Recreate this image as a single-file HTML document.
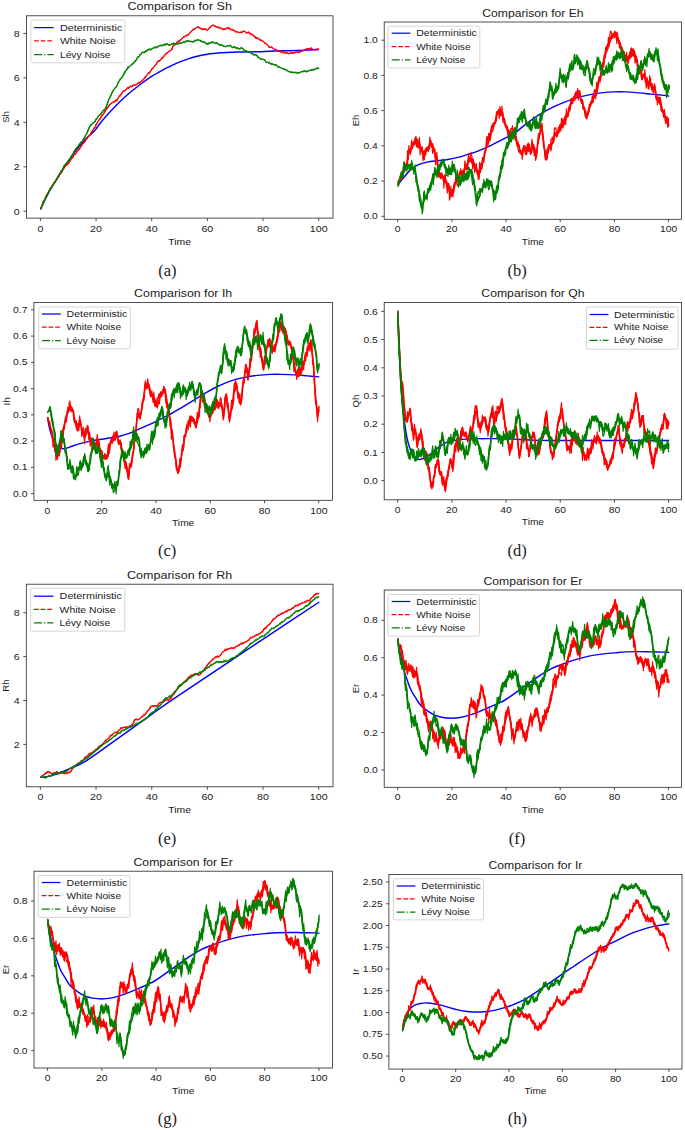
<!DOCTYPE html>
<html><head><meta charset="utf-8"><title>Figure</title>
<style>html,body{margin:0;padding:0;background:#fff}svg{display:block}</style></head>
<body>
<svg width="685" height="1130" viewBox="0 0 685 1130" font-family="Liberation Sans, sans-serif" fill="#1a1a1a">
<rect width="685" height="1130" fill="#fff"/>
<g id="pa">
<path d="M40.47 209.32 C41.63 206.91 45.05 199.42 47.46 194.84 C49.87 190.27 52.45 186.02 54.95 181.86 C57.44 177.70 59.94 173.75 62.44 169.88 C64.93 166.01 67.43 162.18 69.93 158.65 C72.42 155.11 74.92 151.82 77.41 148.66 C79.91 145.50 82.07 142.63 84.90 139.68 C87.73 136.72 91.45 134.17 94.39 130.94 C97.34 127.70 99.10 124.34 102.55 120.26 C106.01 116.18 110.92 110.74 115.11 106.45 C119.29 102.16 123.48 98.19 127.66 94.53 C131.85 90.86 136.03 87.62 140.22 84.48 C144.40 81.34 148.59 78.35 152.77 75.69 C156.96 73.04 162.46 70.07 165.33 68.54 C168.20 67.00 168.18 67.34 170.00 66.48 C171.82 65.61 174.18 64.28 176.28 63.34 C178.37 62.39 180.46 61.62 182.55 60.83 C184.65 60.03 186.74 59.24 188.83 58.57 C190.92 57.90 193.02 57.35 195.11 56.81 C197.20 56.26 199.29 55.74 201.39 55.30 C203.48 54.86 205.57 54.49 207.66 54.17 C209.76 53.86 211.85 53.65 213.94 53.42 C216.03 53.19 218.13 52.96 220.22 52.79 C222.31 52.62 224.40 52.52 226.50 52.41 C228.59 52.31 230.68 52.23 232.77 52.16 C234.87 52.10 236.96 52.08 239.05 52.04 C241.14 52.00 242.50 51.95 245.33 51.91 C248.15 51.87 251.08 51.95 256.00 51.79 C260.92 51.62 269.21 51.12 274.84 50.94 C280.48 50.76 284.83 50.81 289.82 50.69 C294.81 50.56 299.93 50.40 304.80 50.19 C309.67 49.98 316.66 49.57 319.03 49.44" fill="none" stroke="#0000ff" stroke-width="1.45" stroke-linejoin="round"/>
<path d="M40.7 208.1 L41.2 207.0 L41.7 205.7 L42.2 204.2 L42.7 203.2 L43.2 201.9 L43.7 201.0 L44.2 199.9 L44.7 199.0 L45.2 197.7 L45.7 196.5 L46.2 195.7 L46.7 195.0 L47.2 194.1 L47.7 193.1 L48.2 192.2 L48.7 191.9 L49.2 190.2 L49.7 189.7 L50.2 188.0 L50.7 187.5 L51.2 187.1 L51.7 186.1 L52.2 185.6 L52.7 184.5 L53.2 183.6 L53.7 182.9 L54.2 182.5 L54.7 182.1 L55.2 181.2 L55.7 180.4 L56.2 179.6 L56.7 178.7 L57.2 178.1 L57.7 177.1 L58.2 176.5 L58.7 176.6 L59.2 174.8 L59.7 174.7 L60.2 173.9 L60.7 173.2 L61.2 172.1 L61.7 171.4 L62.2 170.6 L62.7 169.8 L63.2 169.3 L63.7 168.2 L64.2 167.4 L64.7 166.9 L65.2 166.0 L65.7 165.6 L66.2 165.0 L66.7 164.8 L67.2 164.7 L67.7 163.8 L68.2 163.1 L68.7 162.8 L69.2 161.3 L69.7 160.9 L70.2 159.9 L70.7 159.5 L71.2 158.3 L71.7 157.6 L72.2 157.7 L72.7 157.1 L73.2 155.7 L73.7 155.4 L74.2 154.9 L74.7 154.5 L75.2 153.4 L75.7 153.4 L76.2 152.7 L76.7 151.8 L77.2 150.8 L77.7 150.4 L78.2 150.0 L78.7 149.9 L79.2 148.7 L79.7 147.9 L80.2 147.3 L80.7 146.4 L81.2 145.8 L81.7 144.9 L82.2 144.2 L82.7 143.2 L83.2 142.8 L83.7 142.5 L84.2 142.2 L84.7 141.7 L85.2 140.7 L85.7 139.8 L86.2 139.4 L86.7 138.7 L87.2 137.7 L87.7 137.0 L88.2 136.0 L88.7 136.0 L89.2 135.1 L89.7 134.7 L90.2 134.5 L90.7 133.4 L91.2 132.7 L91.7 131.6 L92.2 131.0 L92.7 129.9 L93.2 128.9 L93.7 128.5 L94.2 127.5 L94.7 127.5 L95.2 126.9 L95.7 125.0 L96.2 124.1 L96.7 123.4 L97.2 122.6 L97.7 121.5 L98.2 120.7 L98.7 120.1 L99.2 119.5 L99.7 119.4 L100.2 118.7 L100.7 117.5 L101.2 116.5 L101.7 115.6 L102.2 115.2 L102.7 114.7 L103.2 113.8 L103.7 113.5 L104.2 112.3 L104.7 111.8 L105.2 110.2 L105.7 110.0 L106.2 109.5 L106.7 108.8 L107.2 108.4 L107.7 107.2 L108.2 106.4 L108.7 106.1 L109.2 105.1 L109.7 104.1 L110.2 103.7 L110.7 103.3 L111.2 103.3 L111.7 103.2 L112.2 102.4 L112.7 101.9 L113.2 101.8 L113.7 101.6 L114.2 101.5 L114.7 101.1 L115.2 100.8 L115.7 100.5 L116.2 100.5 L116.7 100.2 L117.2 99.4 L117.7 98.8 L118.2 97.6 L118.7 97.1 L119.2 96.5 L119.7 95.7 L120.2 95.6 L120.7 94.4 L121.2 93.5 L121.7 92.6 L122.2 92.2 L122.7 91.7 L123.2 91.1 L123.7 90.7 L124.2 90.4 L124.7 90.2 L125.2 89.8 L125.7 89.2 L126.2 89.0 L126.7 88.5 L127.2 88.2 L127.7 87.7 L128.2 87.6 L128.7 87.8 L129.2 87.2 L129.7 86.7 L130.2 86.6 L130.7 86.3 L131.2 85.9 L131.7 86.0 L132.2 85.7 L132.7 85.3 L133.2 85.0 L133.7 85.2 L134.2 85.2 L134.7 85.0 L135.2 84.9 L135.7 84.4 L136.2 84.3 L136.7 84.2 L137.2 83.6 L137.7 83.4 L138.2 82.4 L138.7 82.4 L139.2 82.6 L139.7 82.2 L140.2 82.1 L140.7 81.3 L141.2 80.7 L141.7 80.5 L142.2 80.0 L142.7 79.5 L143.2 79.4 L143.7 79.0 L144.2 78.6 L144.7 78.3 L145.2 77.1 L145.7 76.3 L146.2 75.6 L146.7 75.0 L147.2 74.5 L147.7 73.9 L148.2 73.4 L148.7 72.6 L149.2 72.4 L149.7 72.1 L150.2 71.3 L150.7 70.6 L151.2 70.0 L151.7 69.3 L152.2 68.4 L152.7 67.8 L153.2 67.7 L153.7 66.8 L154.2 66.3 L154.7 65.7 L155.2 65.2 L155.7 64.7 L156.2 63.5 L156.7 63.2 L157.2 62.1 L157.7 61.5 L158.2 60.7 L158.7 60.4 L159.2 60.8 L159.7 60.0 L160.2 59.7 L160.7 59.4 L161.2 59.1 L161.7 58.2 L162.2 57.3 L162.7 57.2 L163.2 56.4 L163.7 56.1 L164.2 55.3 L164.7 55.0 L165.2 54.2 L165.7 53.7 L166.2 53.6 L166.7 52.9 L167.2 52.8 L167.7 51.9 L168.2 51.9 L168.7 51.2 L169.2 51.1 L169.7 50.9 L170.2 50.6 L170.7 50.3 L171.2 49.9 L171.7 48.9 L172.2 47.5 L172.7 46.4 L173.2 45.5 L173.7 45.3 L174.2 45.2 L174.7 44.4 L175.2 44.4 L175.7 44.1 L176.2 43.6 L176.7 42.5 L177.2 41.9 L177.7 41.6 L178.2 41.4 L178.7 40.7 L179.2 40.5 L179.7 39.9 L180.2 39.8 L180.7 39.7 L181.2 39.5 L181.7 38.8 L182.2 38.1 L182.7 37.4 L183.2 37.1 L183.7 37.0 L184.2 36.9 L184.7 36.2 L185.2 35.4 L185.7 35.5 L186.2 35.1 L186.7 35.2 L187.2 35.0 L187.7 34.5 L188.2 34.2 L188.7 34.2 L189.2 33.8 L189.7 32.7 L190.2 32.4 L190.7 31.9 L191.2 31.4 L191.7 30.9 L192.2 30.3 L192.7 29.8 L193.2 29.9 L193.7 29.4 L194.2 29.1 L194.7 28.9 L195.2 28.2 L195.7 28.0 L196.2 27.8 L196.7 27.3 L197.2 26.9 L197.7 26.8 L198.2 27.1 L198.7 27.3 L199.2 27.4 L199.7 27.5 L200.2 27.6 L200.7 28.1 L201.2 28.9 L201.7 28.7 L202.2 28.7 L202.7 29.0 L203.2 28.9 L203.7 28.9 L204.2 28.7 L204.7 28.7 L205.2 28.5 L205.7 28.6 L206.2 29.0 L206.7 29.3 L207.2 29.7 L207.7 29.5 L208.2 29.2 L208.7 28.6 L209.2 27.7 L209.7 27.6 L210.2 26.7 L210.7 26.2 L211.2 25.7 L211.7 25.5 L212.2 25.1 L212.7 25.0 L213.2 24.8 L213.7 25.1 L214.2 25.8 L214.7 26.0 L215.2 26.0 L215.7 26.2 L216.2 26.6 L216.7 26.8 L217.2 26.9 L217.7 26.7 L218.2 26.6 L218.7 27.3 L219.2 27.3 L219.7 27.3 L220.2 27.6 L220.7 27.8 L221.2 28.3 L221.7 28.7 L222.2 28.8 L222.7 29.1 L223.2 28.7 L223.7 29.0 L224.2 29.0 L224.7 28.6 L225.2 28.8 L225.7 28.7 L226.2 28.5 L226.7 27.8 L227.2 27.8 L227.7 28.1 L228.2 28.1 L228.7 27.5 L229.2 27.6 L229.7 28.7 L230.2 29.0 L230.7 29.1 L231.2 29.2 L231.7 29.1 L232.2 29.0 L232.7 29.3 L233.2 29.7 L233.7 30.0 L234.2 30.0 L234.7 30.2 L235.2 31.2 L235.7 31.6 L236.2 32.0 L236.7 31.7 L237.2 31.5 L237.7 31.8 L238.2 32.1 L238.7 32.0 L239.2 31.9 L239.7 32.4 L240.2 32.3 L240.7 32.1 L241.2 31.9 L241.7 32.0 L242.2 31.4 L242.7 31.4 L243.2 31.4 L243.7 31.0 L244.2 30.8 L244.7 30.9 L245.2 31.4 L245.7 32.1 L246.2 32.7 L246.7 32.9 L247.2 32.6 L247.7 32.4 L248.2 32.3 L248.7 32.4 L249.2 32.5 L249.7 33.0 L250.2 33.0 L250.7 33.3 L251.2 33.5 L251.7 34.1 L252.2 34.3 L252.7 34.2 L253.2 35.1 L253.7 35.7 L254.2 35.7 L254.7 36.4 L255.2 36.2 L255.7 36.9 L256.2 37.6 L256.7 37.6 L257.2 37.9 L257.7 38.0 L258.2 38.2 L258.7 38.3 L259.2 39.0 L259.7 39.0 L260.2 39.8 L260.7 39.6 L261.2 40.2 L261.7 40.2 L262.2 40.6 L262.7 40.9 L263.2 41.1 L263.7 41.4 L264.2 41.8 L264.7 42.3 L265.2 43.4 L265.7 43.2 L266.2 43.4 L266.7 43.4 L267.2 44.0 L267.7 44.8 L268.2 45.3 L268.7 45.9 L269.2 47.1 L269.7 47.0 L270.2 47.1 L270.7 47.2 L271.2 46.8 L271.7 46.7 L272.2 47.0 L272.7 47.6 L273.2 48.1 L273.7 48.6 L274.2 48.8 L274.7 49.1 L275.2 49.1 L275.7 49.3 L276.2 49.5 L276.7 49.9 L277.2 50.1 L277.7 50.4 L278.2 50.3 L278.7 50.5 L279.2 51.2 L279.7 51.2 L280.2 51.3 L280.7 51.1 L281.2 51.4 L281.7 52.2 L282.2 52.1 L282.7 52.3 L283.2 52.5 L283.7 52.2 L284.2 52.4 L284.7 52.4 L285.2 52.6 L285.7 52.5 L286.2 52.7 L286.7 52.7 L287.2 52.9 L287.7 53.0 L288.2 53.4 L288.7 53.1 L289.2 53.3 L289.7 53.0 L290.2 53.0 L290.7 52.8 L291.2 53.0 L291.7 52.5 L292.2 52.5 L292.7 52.6 L293.2 52.7 L293.7 52.9 L294.2 52.7 L294.7 52.2 L295.2 51.9 L295.7 52.0 L296.2 51.8 L296.7 52.1 L297.2 51.9 L297.7 51.7 L298.2 51.8 L298.7 52.2 L299.2 52.0 L299.7 52.0 L300.2 51.7 L300.7 51.6 L301.2 51.2 L301.7 50.9 L302.2 51.0 L302.7 50.6 L303.2 50.5 L303.7 50.2 L304.2 49.7 L304.7 49.6 L305.2 49.2 L305.7 49.1 L306.2 49.1 L306.7 49.2 L307.2 48.7 L307.7 48.3 L308.2 48.7 L308.7 48.5 L309.2 48.5 L309.7 48.6 L310.2 48.1 L310.7 48.1 L311.2 48.2 L311.7 48.2 L312.2 48.4 L312.7 49.3 L313.2 49.3 L313.7 49.4 L314.2 49.2 L314.7 49.5 L315.2 49.4 L315.7 49.5 L316.2 49.3 L316.7 49.2 L317.2 49.1 L317.7 49.3 L318.2 49.2 L318.7 49.0 L319.0 48.9 L319.0 49.4 L318.7 49.5 L318.2 49.5 L317.7 49.8 L317.2 49.8 L316.7 49.6 L316.2 49.9 L315.7 49.8 L315.2 49.9 L314.7 50.0 L314.2 50.1 L313.7 50.1 L313.2 49.8 L312.7 49.7 L312.2 49.4 L311.7 48.7 L311.2 48.7 L310.7 48.8 L310.2 48.7 L309.7 49.2 L309.2 48.9 L308.7 49.2 L308.2 49.0 L307.7 48.8 L307.2 49.2 L306.7 49.6 L306.2 49.7 L305.7 49.6 L305.2 49.8 L304.7 49.9 L304.2 50.3 L303.7 50.6 L303.2 51.1 L302.7 51.1 L302.2 51.5 L301.7 51.3 L301.2 51.6 L300.7 51.9 L300.2 52.4 L299.7 52.7 L299.2 52.6 L298.7 52.5 L298.2 52.4 L297.7 52.3 L297.2 52.3 L296.7 52.5 L296.2 52.2 L295.7 52.2 L295.2 52.2 L294.7 53.1 L294.2 53.3 L293.7 53.3 L293.2 53.0 L292.7 53.3 L292.2 52.8 L291.7 53.3 L291.2 53.3 L290.7 53.2 L290.2 53.4 L289.7 53.5 L289.2 53.9 L288.7 53.6 L288.2 53.8 L287.7 53.5 L287.2 53.2 L286.7 53.1 L286.2 53.2 L285.7 52.8 L285.2 53.0 L284.7 53.0 L284.2 52.7 L283.7 53.0 L283.2 53.0 L282.7 52.8 L282.2 52.5 L281.7 52.6 L281.2 52.2 L280.7 51.5 L280.2 51.7 L279.7 51.7 L279.2 51.4 L278.7 51.2 L278.2 50.5 L277.7 50.9 L277.2 50.7 L276.7 50.3 L276.2 50.0 L275.7 50.0 L275.2 49.6 L274.7 49.5 L274.2 49.5 L273.7 48.9 L273.2 48.6 L272.7 48.4 L272.2 47.6 L271.7 47.3 L271.2 47.2 L270.7 47.6 L270.2 47.7 L269.7 47.5 L269.2 47.7 L268.7 47.1 L268.2 45.9 L267.7 45.5 L267.2 44.8 L266.7 44.0 L266.2 43.8 L265.7 43.7 L265.2 43.6 L264.7 43.4 L264.2 42.3 L263.7 41.8 L263.2 41.8 L262.7 41.2 L262.2 41.1 L261.7 40.7 L261.2 40.7 L260.7 40.6 L260.2 40.1 L259.7 39.8 L259.2 39.5 L258.7 39.4 L258.2 38.5 L257.7 38.6 L257.2 38.5 L256.7 38.0 L256.2 38.2 L255.7 37.9 L255.2 37.0 L254.7 37.0 L254.2 36.9 L253.7 36.4 L253.2 36.0 L252.7 35.1 L252.2 34.7 L251.7 35.0 L251.2 34.1 L250.7 33.8 L250.2 33.7 L249.7 33.8 L249.2 33.1 L248.7 32.8 L248.2 32.9 L247.7 32.8 L247.2 33.1 L246.7 33.4 L246.2 33.3 L245.7 32.7 L245.2 32.1 L244.7 31.5 L244.2 31.0 L243.7 31.6 L243.2 31.7 L242.7 31.6 L242.2 32.1 L241.7 32.8 L241.2 32.5 L240.7 32.7 L240.2 32.8 L239.7 32.8 L239.2 32.7 L238.7 32.5 L238.2 32.5 L237.7 32.1 L237.2 31.8 L236.7 32.3 L236.2 32.3 L235.7 32.3 L235.2 31.7 L234.7 31.2 L234.2 30.4 L233.7 30.7 L233.2 30.7 L232.7 29.9 L232.2 29.6 L231.7 29.4 L231.2 29.7 L230.7 29.6 L230.2 29.3 L229.7 29.4 L229.2 28.8 L228.7 28.5 L228.2 28.5 L227.7 28.7 L227.2 28.6 L226.7 28.5 L226.2 29.1 L225.7 29.4 L225.2 29.3 L224.7 29.2 L224.2 29.5 L223.7 29.5 L223.2 29.1 L222.7 29.5 L222.2 29.4 L221.7 29.1 L221.2 28.9 L220.7 28.3 L220.2 28.0 L219.7 28.0 L219.2 27.7 L218.7 27.6 L218.2 27.5 L217.7 27.0 L217.2 27.3 L216.7 27.2 L216.2 27.3 L215.7 26.7 L215.2 26.4 L214.7 26.5 L214.2 26.2 L213.7 25.9 L213.2 25.2 L212.7 25.4 L212.2 25.6 L211.7 26.1 L211.2 26.3 L210.7 26.7 L210.2 27.8 L209.7 28.1 L209.2 28.6 L208.7 29.2 L208.2 29.9 L207.7 29.9 L207.2 30.3 L206.7 29.9 L206.2 29.5 L205.7 29.0 L205.2 29.2 L204.7 28.9 L204.2 29.1 L203.7 29.4 L203.2 29.2 L202.7 29.2 L202.2 29.2 L201.7 29.3 L201.2 29.3 L200.7 28.9 L200.2 28.1 L199.7 28.0 L199.2 28.2 L198.7 27.7 L198.2 27.6 L197.7 27.5 L197.2 27.5 L196.7 27.8 L196.2 28.3 L195.7 28.4 L195.2 28.9 L194.7 29.2 L194.2 29.4 L193.7 30.1 L193.2 30.3 L192.7 30.3 L192.2 30.9 L191.7 31.5 L191.2 32.1 L190.7 32.4 L190.2 33.0 L189.7 33.8 L189.2 34.5 L188.7 34.8 L188.2 34.7 L187.7 35.3 L187.2 35.4 L186.7 35.4 L186.2 35.8 L185.7 36.0 L185.2 36.2 L184.7 36.9 L184.2 37.4 L183.7 37.3 L183.2 37.6 L182.7 38.2 L182.2 38.9 L181.7 39.6 L181.2 39.9 L180.7 40.1 L180.2 40.1 L179.7 40.6 L179.2 41.0 L178.7 41.9 L178.2 41.9 L177.7 41.9 L177.2 42.5 L176.7 43.6 L176.2 44.2 L175.7 44.7 L175.2 44.8 L174.7 45.2 L174.2 45.5 L173.7 45.7 L173.2 46.4 L172.7 47.5 L172.2 48.9 L171.7 50.0 L171.2 50.5 L170.7 50.7 L170.2 51.1 L169.7 51.3 L169.2 51.5 L168.7 52.0 L168.2 52.3 L167.7 52.8 L167.2 53.2 L166.7 53.8 L166.2 54.2 L165.7 54.2 L165.2 55.0 L164.7 55.7 L164.2 56.2 L163.7 56.6 L163.2 57.3 L162.7 57.6 L162.2 58.3 L161.7 59.1 L161.2 59.4 L160.7 59.9 L160.2 60.1 L159.7 61.0 L159.2 61.3 L158.7 61.3 L158.2 61.7 L157.7 62.1 L157.2 63.2 L156.7 63.6 L156.2 64.7 L155.7 65.3 L155.2 65.7 L154.7 66.4 L154.2 66.9 L153.7 67.7 L153.2 68.1 L152.7 68.8 L152.2 69.3 L151.7 70.0 L151.2 70.6 L150.7 71.4 L150.2 72.3 L149.7 72.6 L149.2 72.7 L148.7 73.7 L148.2 74.0 L147.7 74.6 L147.2 75.1 L146.7 75.6 L146.2 76.7 L145.7 77.2 L145.2 78.3 L144.7 78.7 L144.2 79.0 L143.7 79.6 L143.2 79.8 L142.7 80.3 L142.2 80.6 L141.7 80.9 L141.2 81.3 L140.7 82.1 L140.2 82.7 L139.7 82.9 L139.2 83.0 L138.7 82.9 L138.2 83.6 L137.7 83.9 L137.2 84.5 L136.7 84.6 L136.2 84.7 L135.7 85.3 L135.2 85.3 L134.7 85.5 L134.2 85.5 L133.7 85.7 L133.2 85.6 L132.7 85.7 L132.2 86.5 L131.7 86.5 L131.2 86.4 L130.7 86.9 L130.2 86.9 L129.7 87.3 L129.2 87.8 L128.7 88.2 L128.2 88.1 L127.7 88.7 L127.2 88.7 L126.7 89.2 L126.2 89.2 L125.7 89.8 L125.2 90.4 L124.7 90.6 L124.2 91.1 L123.7 91.1 L123.2 91.7 L122.7 92.2 L122.2 92.8 L121.7 93.5 L121.2 94.4 L120.7 95.7 L120.2 96.0 L119.7 96.5 L119.2 97.2 L118.7 97.6 L118.2 98.8 L117.7 99.4 L117.2 100.6 L116.7 100.5 L116.2 101.0 L115.7 101.1 L115.2 101.2 L114.7 101.6 L114.2 102.0 L113.7 102.1 L113.2 102.2 L112.7 102.4 L112.2 103.3 L111.7 103.4 L111.2 104.2 L110.7 104.0 L110.2 104.1 L109.7 105.1 L109.2 106.1 L108.7 106.8 L108.2 107.2 L107.7 108.4 L107.2 108.9 L106.7 109.7 L106.2 110.1 L105.7 110.2 L105.2 111.8 L104.7 112.3 L104.2 113.5 L103.7 114.1 L103.2 114.7 L102.7 115.4 L102.2 115.7 L101.7 116.5 L101.2 117.5 L100.7 118.7 L100.2 119.4 L99.7 119.6 L99.2 120.3 L98.7 120.8 L98.2 121.5 L97.7 122.6 L97.2 123.4 L96.7 124.3 L96.2 125.0 L95.7 126.9 L95.2 127.5 L94.7 127.8 L94.2 128.5 L93.7 129.1 L93.2 129.9 L92.7 131.1 L92.2 131.8 L91.7 132.7 L91.2 133.4 L90.7 134.8 L90.2 134.9 L89.7 135.4 L89.2 136.1 L88.7 136.4 L88.2 137.2 L87.7 137.9 L87.2 138.7 L86.7 139.5 L86.2 140.0 L85.7 140.8 L85.2 141.7 L84.7 142.2 L84.2 142.7 L83.7 143.3 L83.2 143.3 L82.7 144.2 L82.2 145.3 L81.7 145.8 L81.2 146.5 L80.7 147.4 L80.2 148.3 L79.7 148.7 L79.2 149.9 L78.7 150.3 L78.2 150.5 L77.7 151.1 L77.2 151.8 L76.7 152.7 L76.2 153.7 L75.7 153.9 L75.2 154.7 L74.7 155.0 L74.2 155.6 L73.7 155.8 L73.2 157.1 L72.7 157.9 L72.2 158.1 L71.7 158.3 L71.2 159.6 L70.7 160.0 L70.2 161.0 L69.7 161.3 L69.2 162.8 L68.7 163.3 L68.2 163.8 L67.7 164.8 L67.2 165.3 L66.7 165.3 L66.2 165.6 L65.7 166.0 L65.2 167.0 L64.7 167.5 L64.2 168.2 L63.7 169.4 L63.2 169.8 L62.7 170.7 L62.2 171.6 L61.7 172.2 L61.2 173.2 L60.7 174.0 L60.2 174.7 L59.7 175.0 L59.2 176.6 L58.7 177.2 L58.2 177.1 L57.7 178.1 L57.2 178.7 L56.7 179.6 L56.2 180.4 L55.7 181.4 L55.2 182.2 L54.7 182.8 L54.2 183.1 L53.7 183.6 L53.2 184.5 L52.7 185.6 L52.2 186.5 L51.7 187.1 L51.2 187.5 L50.7 188.2 L50.2 189.7 L49.7 190.2 L49.2 191.9 L48.7 192.2 L48.2 193.2 L47.7 194.1 L47.2 195.0 L46.7 195.8 L46.2 196.5 L45.7 197.7 L45.2 199.0 L44.7 199.9 L44.2 201.0 L43.7 201.9 L43.2 203.2 L42.7 204.2 L42.2 205.7 L41.7 207.0 L41.2 208.1 L40.7 209.3Z" fill="#ff0000" stroke="#ff0000" stroke-width="1.00" stroke-linejoin="round"/>
<path d="M40.5 208.6 L41.2 207.6 L41.9 205.3 L42.6 203.3 L43.3 200.6 L44.0 201.3 L44.7 199.9 L45.4 198.3 L46.1 196.4 L46.8 193.8 L47.5 194.5 L48.2 193.2 L48.9 191.3 L49.6 191.1 L50.3 187.7 L51.0 188.0 L51.7 186.9 L52.4 184.3 L53.1 183.8 L53.8 183.6 L54.5 182.0 L55.2 181.7 L55.9 180.1 L56.6 178.7 L57.3 177.4 L58.0 178.0 L58.7 176.7 L59.4 174.6 L60.1 173.3 L60.8 172.8 L61.5 171.4 L62.2 172.2 L62.9 168.7 L63.6 168.7 L64.3 166.8 L65.0 165.7 L65.7 166.1 L66.4 164.6 L67.1 165.6 L67.8 162.7 L68.5 162.5 L69.2 163.2 L69.9 161.3 L70.6 160.9 L71.3 157.0 L72.0 158.1 L72.7 158.4 L73.4 155.9 L74.1 154.0 L74.8 153.6 L75.5 153.3 L76.2 152.9 L76.9 150.2 L77.6 150.2 L78.3 150.9 L79.0 148.1 L79.7 149.5 L80.4 147.3 L81.1 147.1 L81.8 145.4 L82.5 142.9 L83.2 143.5 L83.9 143.5 L84.6 142.1 L85.3 139.5 L86.0 139.0 L86.7 139.2 L87.4 136.9 L88.1 136.2 L88.8 136.1 L89.5 135.4 L90.2 135.4 L90.9 131.9 L91.6 132.3 L92.3 130.6 L93.0 129.2 L93.7 128.7 L94.4 127.1 L95.1 127.3 L95.8 124.0 L96.5 125.0 L97.2 123.3 L97.9 121.3 L98.6 120.6 L99.3 118.5 L100.0 118.4 L100.7 117.0 L101.4 114.8 L102.1 115.3 L102.8 114.1 L103.5 114.8 L104.2 112.7 L104.9 109.8 L105.6 110.3 L106.3 109.0 L107.0 107.6 L107.7 108.2 L108.4 106.4 L109.1 105.6 L109.8 104.1 L110.5 103.8 L111.2 103.5 L111.9 102.9 L112.6 102.5 L113.3 101.7 L114.0 102.9 L114.7 101.3 L115.4 99.7 L116.1 101.8 L116.8 98.9 L117.5 98.9 L118.2 98.8 L118.9 96.7 L119.6 95.0 L120.3 95.7 L121.0 94.9 L121.7 93.9 L122.4 93.1 L123.1 90.5 L123.8 91.1 L124.5 91.4 L125.2 91.3 L125.9 90.3 L126.6 88.8 L127.3 87.5 L128.0 86.7 L128.7 88.9 L129.4 87.4 L130.1 85.7 L130.8 85.9 L131.5 87.3 L132.2 86.9 L132.9 84.5 L133.6 85.2 L134.3 85.9 L135.0 84.8 L135.7 84.8 L136.4 85.0 L137.1 83.8 L137.8 82.7 L138.5 82.3 L139.2 83.4 L139.9 81.9 L140.6 82.2 L141.3 81.7 L142.0 81.4 L142.7 81.1 L143.4 78.9 L144.1 78.2 L144.8 76.5 L145.5 77.1 L146.2 75.9 L146.9 75.2 L147.6 74.8 L148.3 72.5 L149.0 73.3 L149.7 73.5 L150.4 71.2 L151.1 70.3 L151.8 68.0 L152.5 69.1 L153.2 67.4 L153.9 67.2 L154.6 65.1 L155.3 65.1 L156.0 64.9 L156.7 63.9 L157.4 62.1 L158.1 60.5 L158.8 60.6 L159.5 61.7 L160.2 60.2 L160.9 59.4 L161.6 57.5 L162.3 58.5 L163.0 58.0 L163.7 57.2 L164.4 55.7 L165.1 54.3 L165.8 54.0 L166.5 52.7 L167.2 53.4 L167.9 52.5 L168.6 51.6 L169.3 51.2 L170.0 50.9 L170.7 50.6 L171.4 50.4 L172.1 47.9 L172.8 46.6 L173.5 44.6 L174.2 45.9 L174.9 45.1 L175.6 44.2 L176.3 43.3 L177.0 41.8 L177.7 40.9 L178.4 41.1 L179.1 41.9 L179.8 40.9 L180.5 41.0 L181.2 39.8 L181.9 38.7 L182.6 37.5 L183.3 36.5 L184.0 36.4 L184.7 36.7 L185.4 36.1 L186.1 35.9 L186.8 35.9 L187.5 36.1 L188.2 34.0 L188.9 34.7 L189.6 32.5 L190.3 31.9 L191.0 31.7 L191.7 30.9 L192.4 29.7 L193.1 30.2 L193.8 28.1 L194.5 29.1 L195.2 28.6 L195.9 27.7 L196.6 27.8 L197.3 26.5 L198.0 27.0 L198.7 26.3 L199.4 28.6 L200.1 29.0 L200.8 28.2 L201.5 29.9 L202.2 28.7 L202.9 30.2 L203.6 29.0 L204.3 29.5 L205.0 30.0 L205.7 28.8 L206.4 29.9 L207.1 30.5 L207.8 29.7 L208.5 29.6 L209.2 27.9 L209.9 26.9 L210.6 27.6 L211.3 25.7 L212.0 25.6 L212.7 25.7 L213.4 25.4 L214.1 26.2 L214.8 25.5 L215.5 27.2 L216.2 26.9 L216.9 27.2 L217.6 27.0 L218.3 27.9 L219.0 28.5 L219.7 27.2 L220.4 28.6 L221.1 28.2 L221.8 28.3 L222.5 28.4 L223.2 30.1 L223.9 28.3 L224.6 28.9 L225.3 29.4 L226.0 28.2 L226.7 28.4 L227.4 27.4 L228.1 29.1 L228.8 28.5 L229.5 29.1 L230.2 29.1 L230.9 29.1 L231.6 30.4 L232.3 30.2 L233.0 30.0 L233.7 30.4 L234.4 30.8 L235.1 31.1 L235.8 31.0 L236.5 31.8 L237.2 31.9 L237.9 32.2 L238.6 32.5 L239.3 32.2 L240.0 33.0 L240.7 32.0 L241.4 31.8 L242.1 32.9 L242.8 31.1 L243.5 31.3 L244.2 31.5 L244.9 31.4 L245.6 32.5 L246.3 33.0 L247.0 33.2 L247.7 32.9 L248.4 31.4 L249.1 32.7 L249.8 34.6 L250.5 33.4 L251.2 34.1 L251.9 34.6 L252.6 33.9 L253.3 35.7 L254.0 36.8 L254.7 36.6 L255.4 38.6 L256.1 37.6 L256.8 38.2 L257.5 37.2 L258.2 38.8 L258.9 39.3 L259.6 40.4 L260.3 39.9 L261.0 39.9 L261.7 41.2 L262.4 40.9 L263.1 41.6 L263.8 42.2 L264.5 42.7 L265.2 43.7 L265.9 43.6 L266.6 44.4 L267.3 44.8 L268.0 45.0 L268.7 47.4 L269.4 47.4 L270.1 46.6 L270.8 47.3 L271.5 47.2 L272.2 47.2 L272.9 48.4 L273.6 49.0 L274.3 49.5 L275.0 49.6 L275.7 49.6 L276.4 49.4 L277.1 50.8 L277.8 50.5 L278.5 51.9 L279.2 51.0 L279.9 51.9 L280.6 52.5 L281.3 51.2 L282.0 51.7 L282.7 52.4 L283.4 52.1 L284.1 51.4 L284.8 53.6 L285.5 52.8 L286.2 53.5 L286.9 53.2 L287.6 52.4 L288.3 54.0 L289.0 54.0 L289.7 53.5 L290.4 52.7 L291.1 52.3 L291.8 53.6 L292.5 52.4 L293.2 53.8 L293.9 53.0 L294.6 53.1 L295.3 52.5 L296.0 53.2 L296.7 52.5 L297.4 52.3 L298.1 51.1 L298.8 52.8 L299.5 51.6 L300.2 51.5 L300.9 51.7 L301.6 51.4 L302.3 50.4 L303.0 51.2 L303.7 49.9 L304.4 50.6 L305.1 50.5 L305.8 50.3 L306.5 48.3 L307.2 49.3 L307.9 48.5 L308.6 49.0 L309.3 48.6 L310.0 48.3 L310.7 47.3 L311.4 48.4 L312.1 49.6 L312.8 49.3 L313.5 50.1 L314.2 49.4 L314.9 49.8 L315.6 49.9 L316.3 49.8 L317.0 48.3 L317.7 49.7 L318.4 50.4" fill="none" stroke="#ff0000" stroke-width="0.80" stroke-linejoin="round"/>
<path d="M40.7 208.2 L41.2 207.3 L41.7 206.3 L42.2 205.2 L42.7 203.9 L43.2 203.1 L43.7 201.9 L44.2 200.6 L44.7 199.8 L45.2 198.9 L45.7 197.9 L46.2 196.7 L46.7 195.8 L47.2 194.8 L47.7 193.6 L48.2 192.7 L48.7 191.6 L49.2 190.2 L49.7 189.6 L50.2 189.0 L50.7 187.9 L51.2 187.4 L51.7 186.3 L52.2 185.6 L52.7 185.5 L53.2 184.1 L53.7 183.8 L54.2 183.4 L54.7 182.3 L55.2 181.2 L55.7 180.8 L56.2 179.8 L56.7 179.6 L57.2 178.0 L57.7 176.8 L58.2 175.7 L58.7 175.0 L59.2 174.4 L59.7 173.4 L60.2 172.7 L60.7 171.7 L61.2 170.8 L61.7 170.4 L62.2 169.5 L62.7 168.8 L63.2 167.7 L63.7 166.2 L64.2 165.4 L64.7 164.9 L65.2 164.1 L65.7 163.7 L66.2 163.4 L66.7 162.8 L67.2 162.6 L67.7 162.1 L68.2 161.0 L68.7 160.5 L69.2 159.9 L69.7 159.5 L70.2 158.7 L70.7 157.8 L71.2 156.7 L71.7 155.4 L72.2 154.7 L72.7 154.1 L73.2 153.4 L73.7 151.8 L74.2 150.7 L74.7 150.3 L75.2 149.5 L75.7 148.8 L76.2 148.1 L76.7 148.0 L77.2 147.4 L77.7 146.5 L78.2 146.0 L78.7 145.2 L79.2 143.9 L79.7 143.5 L80.2 142.8 L80.7 141.9 L81.2 141.6 L81.7 141.2 L82.2 140.9 L82.7 140.1 L83.2 139.0 L83.7 138.1 L84.2 137.7 L84.7 136.8 L85.2 135.7 L85.7 135.0 L86.2 134.3 L86.7 132.9 L87.2 132.2 L87.7 130.8 L88.2 129.2 L88.7 128.0 L89.2 127.4 L89.7 125.8 L90.2 125.6 L90.7 124.4 L91.2 124.4 L91.7 124.2 L92.2 123.7 L92.7 123.5 L93.2 122.8 L93.7 122.2 L94.2 122.1 L94.7 122.0 L95.2 120.7 L95.7 119.6 L96.2 118.8 L96.7 118.6 L97.2 117.5 L97.7 116.8 L98.2 116.1 L98.7 115.6 L99.2 115.1 L99.7 114.6 L100.2 114.2 L100.7 113.7 L101.2 113.2 L101.7 112.3 L102.2 112.1 L102.7 111.0 L103.2 110.4 L103.7 110.1 L104.2 109.4 L104.7 108.8 L105.2 108.8 L105.7 107.9 L106.2 106.6 L106.7 104.9 L107.2 103.5 L107.7 102.0 L108.2 100.6 L108.7 99.2 L109.2 98.5 L109.7 97.1 L110.2 96.3 L110.7 95.4 L111.2 94.0 L111.7 92.9 L112.2 92.3 L112.7 91.1 L113.2 89.9 L113.7 89.3 L114.2 88.7 L114.7 88.1 L115.2 87.2 L115.7 86.9 L116.2 86.8 L116.7 85.4 L117.2 84.4 L117.7 83.3 L118.2 82.3 L118.7 81.4 L119.2 80.7 L119.7 79.8 L120.2 79.2 L120.7 78.2 L121.2 77.9 L121.7 77.2 L122.2 76.4 L122.7 75.5 L123.2 75.3 L123.7 74.4 L124.2 73.4 L124.7 72.1 L125.2 71.0 L125.7 70.7 L126.2 70.2 L126.7 69.5 L127.2 68.7 L127.7 68.1 L128.2 67.1 L128.7 66.9 L129.2 66.4 L129.7 65.8 L130.2 65.7 L130.7 65.4 L131.2 64.6 L131.7 64.3 L132.2 64.2 L132.7 63.6 L133.2 63.3 L133.7 62.3 L134.2 61.8 L134.7 61.6 L135.2 61.1 L135.7 60.0 L136.2 59.5 L136.7 58.4 L137.2 57.4 L137.7 57.0 L138.2 56.9 L138.7 56.4 L139.2 55.8 L139.7 55.1 L140.2 54.1 L140.7 54.0 L141.2 53.5 L141.7 52.2 L142.2 51.9 L142.7 51.9 L143.2 52.1 L143.7 52.3 L144.2 52.2 L144.7 52.3 L145.2 51.4 L145.7 50.5 L146.2 50.6 L146.7 50.2 L147.2 50.2 L147.7 49.5 L148.2 49.3 L148.7 49.4 L149.2 49.1 L149.7 49.1 L150.2 48.9 L150.7 49.2 L151.2 49.4 L151.7 49.0 L152.2 48.0 L152.7 48.0 L153.2 48.0 L153.7 47.8 L154.2 47.4 L154.7 47.4 L155.2 47.6 L155.7 47.4 L156.2 47.5 L156.7 47.0 L157.2 47.0 L157.7 46.4 L158.2 46.0 L158.7 45.7 L159.2 45.6 L159.7 45.5 L160.2 45.4 L160.7 45.3 L161.2 45.3 L161.7 45.7 L162.2 45.6 L162.7 45.0 L163.2 44.4 L163.7 44.5 L164.2 44.8 L164.7 44.5 L165.2 44.2 L165.7 44.3 L166.2 44.1 L166.7 43.9 L167.2 43.5 L167.7 43.5 L168.2 44.5 L168.7 44.6 L169.2 44.8 L169.7 44.7 L170.2 44.6 L170.7 44.4 L171.2 44.1 L171.7 43.9 L172.2 44.0 L172.7 43.5 L173.2 43.1 L173.7 42.9 L174.2 43.0 L174.7 43.5 L175.2 43.9 L175.7 43.5 L176.2 43.9 L176.7 43.9 L177.2 43.9 L177.7 43.2 L178.2 43.1 L178.7 43.0 L179.2 43.0 L179.7 43.0 L180.2 42.6 L180.7 42.9 L181.2 42.9 L181.7 42.9 L182.2 42.6 L182.7 42.2 L183.2 41.9 L183.7 41.9 L184.2 41.9 L184.7 42.3 L185.2 41.8 L185.7 41.6 L186.2 41.2 L186.7 40.9 L187.2 40.9 L187.7 40.8 L188.2 41.0 L188.7 41.0 L189.2 41.0 L189.7 41.0 L190.2 41.3 L190.7 41.6 L191.2 41.4 L191.7 41.3 L192.2 41.5 L192.7 41.7 L193.2 41.5 L193.7 41.1 L194.2 41.1 L194.7 41.1 L195.2 40.6 L195.7 40.1 L196.2 40.2 L196.7 40.0 L197.2 40.0 L197.7 39.5 L198.2 39.5 L198.7 39.8 L199.2 40.1 L199.7 40.2 L200.2 40.7 L200.7 40.7 L201.2 40.7 L201.7 40.7 L202.2 41.2 L202.7 41.7 L203.2 41.7 L203.7 41.9 L204.2 41.8 L204.7 42.2 L205.2 42.8 L205.7 43.0 L206.2 43.0 L206.7 43.2 L207.2 43.3 L207.7 43.6 L208.2 43.7 L208.7 43.6 L209.2 43.3 L209.7 42.8 L210.2 42.7 L210.7 42.7 L211.2 42.6 L211.7 42.2 L212.2 41.9 L212.7 42.3 L213.2 42.1 L213.7 42.1 L214.2 42.3 L214.7 42.9 L215.2 43.0 L215.7 43.1 L216.2 43.0 L216.7 42.9 L217.2 42.8 L217.7 43.4 L218.2 43.9 L218.7 44.0 L219.2 44.3 L219.7 44.6 L220.2 44.8 L220.7 44.9 L221.2 44.8 L221.7 44.7 L222.2 45.0 L222.7 45.1 L223.2 45.5 L223.7 45.8 L224.2 46.0 L224.7 46.1 L225.2 46.1 L225.7 46.1 L226.2 46.1 L226.7 46.1 L227.2 45.6 L227.7 45.6 L228.2 45.8 L228.7 45.7 L229.2 45.1 L229.7 45.3 L230.2 45.3 L230.7 45.2 L231.2 45.6 L231.7 46.5 L232.2 47.2 L232.7 47.3 L233.2 47.2 L233.7 46.9 L234.2 46.6 L234.7 46.7 L235.2 46.7 L235.7 47.7 L236.2 47.4 L236.7 47.8 L237.2 47.8 L237.7 47.6 L238.2 48.3 L238.7 48.4 L239.2 48.7 L239.7 48.0 L240.2 48.0 L240.7 47.8 L241.2 47.5 L241.7 47.7 L242.2 48.1 L242.7 48.1 L243.2 48.4 L243.7 49.0 L244.2 50.0 L244.7 50.4 L245.2 50.4 L245.7 50.5 L246.2 50.6 L246.7 50.8 L247.2 51.4 L247.7 51.2 L248.2 51.2 L248.7 51.7 L249.2 51.7 L249.7 51.6 L250.2 51.7 L250.7 52.0 L251.2 52.6 L251.7 52.9 L252.2 53.6 L252.7 53.7 L253.2 53.8 L253.7 54.3 L254.2 54.6 L254.7 54.6 L255.2 54.6 L255.7 54.7 L256.2 54.5 L256.7 54.8 L257.2 55.2 L257.7 56.3 L258.2 56.9 L258.7 56.9 L259.2 57.3 L259.7 57.7 L260.2 58.3 L260.7 58.9 L261.2 59.1 L261.7 59.0 L262.2 59.0 L262.7 59.1 L263.2 59.2 L263.7 59.5 L264.2 59.6 L264.7 59.6 L265.2 60.2 L265.7 61.2 L266.2 62.0 L266.7 62.3 L267.2 61.9 L267.7 62.1 L268.2 62.6 L268.7 62.8 L269.2 62.7 L269.7 62.6 L270.2 62.9 L270.7 63.5 L271.2 63.7 L271.7 63.3 L272.2 63.7 L272.7 63.8 L273.2 64.1 L273.7 64.1 L274.2 64.6 L274.7 64.7 L275.2 64.8 L275.7 64.8 L276.2 64.9 L276.7 65.3 L277.2 65.6 L277.7 66.4 L278.2 66.8 L278.7 66.8 L279.2 66.5 L279.7 66.8 L280.2 67.3 L280.7 67.6 L281.2 67.7 L281.7 68.2 L282.2 68.3 L282.7 68.3 L283.2 68.4 L283.7 68.9 L284.2 68.9 L284.7 68.8 L285.2 69.3 L285.7 69.7 L286.2 69.6 L286.7 69.7 L287.2 69.8 L287.7 70.3 L288.2 70.8 L288.7 71.3 L289.2 71.7 L289.7 71.8 L290.2 71.9 L290.7 71.8 L291.2 72.0 L291.7 72.0 L292.2 72.0 L292.7 72.7 L293.2 72.1 L293.7 72.3 L294.2 72.4 L294.7 72.4 L295.2 72.4 L295.7 72.3 L296.2 72.6 L296.7 72.4 L297.2 73.2 L297.7 73.0 L298.2 72.7 L298.7 72.2 L299.2 72.4 L299.7 72.3 L300.2 71.8 L300.7 71.7 L301.2 71.7 L301.7 71.6 L302.2 71.5 L302.7 71.5 L303.2 71.0 L303.7 71.1 L304.2 71.1 L304.7 70.7 L305.2 71.0 L305.7 71.4 L306.2 71.6 L306.7 70.9 L307.2 71.2 L307.7 71.0 L308.2 71.2 L308.7 70.9 L309.2 70.4 L309.7 70.3 L310.2 69.9 L310.7 69.9 L311.2 69.7 L311.7 69.7 L312.2 69.7 L312.7 69.2 L313.2 69.2 L313.7 69.3 L314.2 69.3 L314.7 69.3 L315.2 68.9 L315.7 68.8 L316.2 68.6 L316.7 68.5 L317.2 68.2 L317.7 68.0 L318.2 68.4 L318.7 68.2 L319.0 68.2 L319.0 68.8 L318.7 68.8 L318.2 69.0 L317.7 68.5 L317.2 68.7 L316.7 68.7 L316.2 69.2 L315.7 69.2 L315.2 69.8 L314.7 69.8 L314.2 69.6 L313.7 70.0 L313.2 69.8 L312.7 70.1 L312.2 70.1 L311.7 70.0 L311.2 70.1 L310.7 70.2 L310.2 70.9 L309.7 70.6 L309.2 70.9 L308.7 71.4 L308.2 71.6 L307.7 71.6 L307.2 71.8 L306.7 71.8 L306.2 72.2 L305.7 71.9 L305.2 71.5 L304.7 71.3 L304.2 71.4 L303.7 71.6 L303.2 71.6 L302.7 71.7 L302.2 72.1 L301.7 72.1 L301.2 72.1 L300.7 72.2 L300.2 72.5 L299.7 72.7 L299.2 73.0 L298.7 72.8 L298.2 73.1 L297.7 73.5 L297.2 73.6 L296.7 73.3 L296.2 73.1 L295.7 72.9 L295.2 72.9 L294.7 72.9 L294.2 72.7 L293.7 72.8 L293.2 72.9 L292.7 73.0 L292.2 72.8 L291.7 72.4 L291.2 72.6 L290.7 72.4 L290.2 72.3 L289.7 72.3 L289.2 72.1 L288.7 71.7 L288.2 71.3 L287.7 71.1 L287.2 70.5 L286.7 70.0 L286.2 70.0 L285.7 70.1 L285.2 69.9 L284.7 69.3 L284.2 69.3 L283.7 69.7 L283.2 69.1 L282.7 68.7 L282.2 68.6 L281.7 68.5 L281.2 68.3 L280.7 67.9 L280.2 67.8 L279.7 67.6 L279.2 67.0 L278.7 67.0 L278.2 67.0 L277.7 67.0 L277.2 66.4 L276.7 65.6 L276.2 65.5 L275.7 65.2 L275.2 65.2 L274.7 65.2 L274.2 65.0 L273.7 65.0 L273.2 64.4 L272.7 64.2 L272.2 64.2 L271.7 63.9 L271.2 64.1 L270.7 64.0 L270.2 63.5 L269.7 63.0 L269.2 63.4 L268.7 63.3 L268.2 63.1 L267.7 62.6 L267.2 62.4 L266.7 62.9 L266.2 62.5 L265.7 62.0 L265.2 61.3 L264.7 60.2 L264.2 60.1 L263.7 59.9 L263.2 59.6 L262.7 59.4 L262.2 59.3 L261.7 59.3 L261.2 59.3 L260.7 59.6 L260.2 59.1 L259.7 58.5 L259.2 57.7 L258.7 57.6 L258.2 57.4 L257.7 57.0 L257.2 56.6 L256.7 55.2 L256.2 55.3 L255.7 55.2 L255.2 55.0 L254.7 54.9 L254.2 55.1 L253.7 54.8 L253.2 54.4 L252.7 54.1 L252.2 54.1 L251.7 54.1 L251.2 53.3 L250.7 52.6 L250.2 52.2 L249.7 51.9 L249.2 51.9 L248.7 52.3 L248.2 52.2 L247.7 51.7 L247.2 51.7 L246.7 51.4 L246.2 51.0 L245.7 50.9 L245.2 50.9 L244.7 51.0 L244.2 50.8 L243.7 50.0 L243.2 49.0 L242.7 48.6 L242.2 48.5 L241.7 48.2 L241.2 47.9 L240.7 48.2 L240.2 48.4 L239.7 48.7 L239.2 49.0 L238.7 49.1 L238.2 48.8 L237.7 48.3 L237.2 48.1 L236.7 48.2 L236.2 48.2 L235.7 48.0 L235.2 47.7 L234.7 47.2 L234.2 47.3 L233.7 47.4 L233.2 47.9 L232.7 48.0 L232.2 47.7 L231.7 47.3 L231.2 46.5 L230.7 45.7 L230.2 45.9 L229.7 45.7 L229.2 45.7 L228.7 46.2 L228.2 46.2 L227.7 45.9 L227.2 46.1 L226.7 46.7 L226.2 46.5 L225.7 46.6 L225.2 46.6 L224.7 46.5 L224.2 46.3 L223.7 46.1 L223.2 45.9 L222.7 45.9 L222.2 45.4 L221.7 45.5 L221.2 45.2 L220.7 45.3 L220.2 45.5 L219.7 45.5 L219.2 45.1 L218.7 44.3 L218.2 44.2 L217.7 44.1 L217.2 43.6 L216.7 43.6 L216.2 43.5 L215.7 43.4 L215.2 43.3 L214.7 43.3 L214.2 42.9 L213.7 42.8 L213.2 42.9 L212.7 43.1 L212.2 42.3 L211.7 42.7 L211.2 42.9 L210.7 43.3 L210.2 43.1 L209.7 43.3 L209.2 43.9 L208.7 44.0 L208.2 44.3 L207.7 43.9 L207.2 44.2 L206.7 43.7 L206.2 43.7 L205.7 43.3 L205.2 43.5 L204.7 42.8 L204.2 42.4 L203.7 42.4 L203.2 42.1 L202.7 42.1 L202.2 41.8 L201.7 41.4 L201.2 41.0 L200.7 41.3 L200.2 41.2 L199.7 40.8 L199.2 40.6 L198.7 40.6 L198.2 39.9 L197.7 40.1 L197.2 40.5 L196.7 40.6 L196.2 40.5 L195.7 40.7 L195.2 41.2 L194.7 41.3 L194.2 41.7 L193.7 41.5 L193.2 42.0 L192.7 42.0 L192.2 41.9 L191.7 41.9 L191.2 41.8 L190.7 41.9 L190.2 41.8 L189.7 41.3 L189.2 41.3 L188.7 41.6 L188.2 41.5 L187.7 41.3 L187.2 41.4 L186.7 41.2 L186.2 41.6 L185.7 42.0 L185.2 42.6 L184.7 42.8 L184.2 42.3 L183.7 42.3 L183.2 42.4 L182.7 42.6 L182.2 43.1 L181.7 43.3 L181.2 43.2 L180.7 43.2 L180.2 43.2 L179.7 43.4 L179.2 43.3 L178.7 43.6 L178.2 43.4 L177.7 44.1 L177.2 44.2 L176.7 44.3 L176.2 44.3 L175.7 44.0 L175.2 44.3 L174.7 43.9 L174.2 43.5 L173.7 43.3 L173.2 43.7 L172.7 44.3 L172.2 44.6 L171.7 44.3 L171.2 44.7 L170.7 44.8 L170.2 45.0 L169.7 45.0 L169.2 45.2 L168.7 45.0 L168.2 45.0 L167.7 44.7 L167.2 43.9 L166.7 44.2 L166.2 44.5 L165.7 44.8 L165.2 44.8 L164.7 45.1 L164.2 45.3 L163.7 45.2 L163.2 45.4 L162.7 45.6 L162.2 46.0 L161.7 46.0 L161.2 46.0 L160.7 45.7 L160.2 45.9 L159.7 45.9 L159.2 46.2 L158.7 46.1 L158.2 46.6 L157.7 47.0 L157.2 47.5 L156.7 47.8 L156.2 47.8 L155.7 47.9 L155.2 47.9 L154.7 47.8 L154.2 48.0 L153.7 48.2 L153.2 48.4 L152.7 48.4 L152.2 49.0 L151.7 49.6 L151.2 49.6 L150.7 49.6 L150.2 49.4 L149.7 49.4 L149.2 49.6 L148.7 49.9 L148.2 49.9 L147.7 50.5 L147.2 50.6 L146.7 51.1 L146.2 51.0 L145.7 51.4 L145.2 52.6 L144.7 52.6 L144.2 52.6 L143.7 52.6 L143.2 52.6 L142.7 52.3 L142.2 52.5 L141.7 53.5 L141.2 54.2 L140.7 54.3 L140.2 55.1 L139.7 55.9 L139.2 56.4 L138.7 57.1 L138.2 57.2 L137.7 57.4 L137.2 58.4 L136.7 59.8 L136.2 60.0 L135.7 61.1 L135.2 61.6 L134.7 62.1 L134.2 62.3 L133.7 63.4 L133.2 63.8 L132.7 64.3 L132.2 64.9 L131.7 64.7 L131.2 65.5 L130.7 65.8 L130.2 66.1 L129.7 66.4 L129.2 67.0 L128.7 67.1 L128.2 68.1 L127.7 68.9 L127.2 69.5 L126.7 70.4 L126.2 70.9 L125.7 71.1 L125.2 72.1 L124.7 73.5 L124.2 74.4 L123.7 75.3 L123.2 75.7 L122.7 76.8 L122.2 77.2 L121.7 78.3 L121.2 78.4 L120.7 79.2 L120.2 79.9 L119.7 80.8 L119.2 81.5 L118.7 82.7 L118.2 83.3 L117.7 84.7 L117.2 85.5 L116.7 86.8 L116.2 87.3 L115.7 87.4 L115.2 88.1 L114.7 88.7 L114.2 89.4 L113.7 89.9 L113.2 91.1 L112.7 92.3 L112.2 93.2 L111.7 94.0 L111.2 95.4 L110.7 96.6 L110.2 97.2 L109.7 98.5 L109.2 99.2 L108.7 100.6 L108.2 102.0 L107.7 103.5 L107.2 104.9 L106.7 106.6 L106.2 108.0 L105.7 108.8 L105.2 109.1 L104.7 109.5 L104.2 110.1 L103.7 110.7 L103.2 111.0 L102.7 112.2 L102.2 112.4 L101.7 113.5 L101.2 113.7 L100.7 114.4 L100.2 115.0 L99.7 115.4 L99.2 115.7 L98.7 116.1 L98.2 117.0 L97.7 117.6 L97.2 118.6 L96.7 119.1 L96.2 119.7 L95.7 120.7 L95.2 122.1 L94.7 122.5 L94.2 122.3 L93.7 122.8 L93.2 123.5 L92.7 124.2 L92.2 124.2 L91.7 124.9 L91.2 124.8 L90.7 125.6 L90.2 126.5 L89.7 127.5 L89.2 128.3 L88.7 129.5 L88.2 130.8 L87.7 132.2 L87.2 132.9 L86.7 134.3 L86.2 135.1 L85.7 135.7 L85.2 136.8 L84.7 138.0 L84.2 138.2 L83.7 139.0 L83.2 140.1 L82.7 140.9 L82.2 141.4 L81.7 141.8 L81.2 142.1 L80.7 142.8 L80.2 143.6 L79.7 143.9 L79.2 145.2 L78.7 146.0 L78.2 146.7 L77.7 147.5 L77.2 148.1 L76.7 148.2 L76.2 149.0 L75.7 149.5 L75.2 150.3 L74.7 150.7 L74.2 151.8 L73.7 153.4 L73.2 154.1 L72.7 154.9 L72.2 155.7 L71.7 156.7 L71.2 157.8 L70.7 158.7 L70.2 159.7 L69.7 159.9 L69.2 160.9 L68.7 161.0 L68.2 162.1 L67.7 162.8 L67.2 163.0 L66.7 163.6 L66.2 164.0 L65.7 164.1 L65.2 164.9 L64.7 165.4 L64.2 166.3 L63.7 167.7 L63.2 168.8 L62.7 169.5 L62.2 170.4 L61.7 171.1 L61.2 172.0 L60.7 172.9 L60.2 173.4 L59.7 174.4 L59.2 175.0 L58.7 175.7 L58.2 176.8 L57.7 178.0 L57.2 179.6 L56.7 180.1 L56.2 181.0 L55.7 181.4 L55.2 182.3 L54.7 183.4 L54.2 183.8 L53.7 184.3 L53.2 185.6 L52.7 186.0 L52.2 186.3 L51.7 187.6 L51.2 188.1 L50.7 189.0 L50.2 189.8 L49.7 190.2 L49.2 191.6 L48.7 192.8 L48.2 193.6 L47.7 194.9 L47.2 195.8 L46.7 196.9 L46.2 197.9 L45.7 198.9 L45.2 199.8 L44.7 200.8 L44.2 201.9 L43.7 203.1 L43.2 203.9 L42.7 205.2 L42.2 206.3 L41.7 207.3 L41.2 208.2 L40.7 209.3Z" fill="#008000" stroke="#008000" stroke-width="1.00" stroke-linejoin="round"/>
<path d="M40.5 208.6 L41.2 207.6 L41.9 205.8 L42.6 204.4 L43.3 202.6 L44.0 201.4 L44.7 199.3 L45.4 197.7 L46.1 196.8 L46.8 194.4 L47.5 194.9 L48.2 193.0 L48.9 191.3 L49.6 188.9 L50.3 188.6 L51.0 187.6 L51.7 187.8 L52.4 186.0 L53.1 185.2 L53.8 182.4 L54.5 182.2 L55.2 182.5 L55.9 180.5 L56.6 180.1 L57.3 178.6 L58.0 176.0 L58.7 176.0 L59.4 174.1 L60.1 173.6 L60.8 170.2 L61.5 170.8 L62.2 169.9 L62.9 169.3 L63.6 165.8 L64.3 165.3 L65.0 164.3 L65.7 163.8 L66.4 163.9 L67.1 162.0 L67.8 160.5 L68.5 161.4 L69.2 160.5 L69.9 159.1 L70.6 159.1 L71.3 155.1 L72.0 155.1 L72.7 154.7 L73.4 152.3 L74.1 151.4 L74.8 151.0 L75.5 148.9 L76.2 149.5 L76.9 146.9 L77.6 146.8 L78.3 145.9 L79.0 144.1 L79.7 144.6 L80.4 142.9 L81.1 143.0 L81.8 141.4 L82.5 140.4 L83.2 140.2 L83.9 138.8 L84.6 136.2 L85.3 135.2 L86.0 135.3 L86.7 133.7 L87.4 131.7 L88.1 131.1 L88.8 127.2 L89.5 126.6 L90.2 125.5 L90.9 125.6 L91.6 125.2 L92.3 123.8 L93.0 122.1 L93.7 122.9 L94.4 121.9 L95.1 120.8 L95.8 118.6 L96.5 119.6 L97.2 118.7 L97.9 116.7 L98.6 116.1 L99.3 115.2 L100.0 114.1 L100.7 114.4 L101.4 112.0 L102.1 112.6 L102.8 110.3 L103.5 110.4 L104.2 109.8 L104.9 110.1 L105.6 107.7 L106.3 105.7 L107.0 104.3 L107.7 102.6 L108.4 101.0 L109.1 98.7 L109.8 97.9 L110.5 95.1 L111.2 94.6 L111.9 92.3 L112.6 90.9 L113.3 90.3 L114.0 89.0 L114.7 88.9 L115.4 87.6 L116.1 87.5 L116.8 85.7 L117.5 84.5 L118.2 82.1 L118.9 81.1 L119.6 80.3 L120.3 78.1 L121.0 78.9 L121.7 78.3 L122.4 76.0 L123.1 75.9 L123.8 72.8 L124.5 71.7 L125.2 71.9 L125.9 69.8 L126.6 69.8 L127.3 67.9 L128.0 66.4 L128.7 68.2 L129.4 66.7 L130.1 66.3 L130.8 64.9 L131.5 65.0 L132.2 63.4 L132.9 62.7 L133.6 63.7 L134.3 63.0 L135.0 60.3 L135.7 61.7 L136.4 59.5 L137.1 59.1 L137.8 56.2 L138.5 57.3 L139.2 57.0 L139.9 54.2 L140.6 55.3 L141.3 54.0 L142.0 52.5 L142.7 52.1 L143.4 52.7 L144.1 52.7 L144.8 51.0 L145.5 50.8 L146.2 52.0 L146.9 50.6 L147.6 50.9 L148.3 50.6 L149.0 48.4 L149.7 49.0 L150.4 50.6 L151.1 49.5 L151.8 48.9 L152.5 48.7 L153.2 48.3 L153.9 47.4 L154.6 46.4 L155.3 46.5 L156.0 47.4 L156.7 46.5 L157.4 47.9 L158.1 47.3 L158.8 45.3 L159.5 45.5 L160.2 45.3 L160.9 44.5 L161.6 45.7 L162.3 46.0 L163.0 44.8 L163.7 45.1 L164.4 44.8 L165.1 43.4 L165.8 45.5 L166.5 43.8 L167.2 43.9 L167.9 44.9 L168.6 44.6 L169.3 46.0 L170.0 44.4 L170.7 44.9 L171.4 43.3 L172.1 44.8 L172.8 44.6 L173.5 43.6 L174.2 43.0 L174.9 44.6 L175.6 44.2 L176.3 43.1 L177.0 43.8 L177.7 43.7 L178.4 44.5 L179.1 42.7 L179.8 42.9 L180.5 43.9 L181.2 43.1 L181.9 43.6 L182.6 42.3 L183.3 42.0 L184.0 41.2 L184.7 42.8 L185.4 40.6 L186.1 41.8 L186.8 40.7 L187.5 40.6 L188.2 40.4 L188.9 41.9 L189.6 40.3 L190.3 41.6 L191.0 41.3 L191.7 41.2 L192.4 42.6 L193.1 41.7 L193.8 40.7 L194.5 42.3 L195.2 39.7 L195.9 41.1 L196.6 40.0 L197.3 40.0 L198.0 39.5 L198.7 39.4 L199.4 40.5 L200.1 40.5 L200.8 39.9 L201.5 41.8 L202.2 42.6 L202.9 41.3 L203.6 42.6 L204.3 41.4 L205.0 42.3 L205.7 42.4 L206.4 44.6 L207.1 44.9 L207.8 44.6 L208.5 42.6 L209.2 43.5 L209.9 42.1 L210.6 42.5 L211.3 41.6 L212.0 41.4 L212.7 43.1 L213.4 41.8 L214.1 42.6 L214.8 42.5 L215.5 42.8 L216.2 42.6 L216.9 42.0 L217.6 44.2 L218.3 43.7 L219.0 45.5 L219.7 45.4 L220.4 44.0 L221.1 44.1 L221.8 45.2 L222.5 45.5 L223.2 46.6 L223.9 46.8 L224.6 46.6 L225.3 47.3 L226.0 46.4 L226.7 46.6 L227.4 46.2 L228.1 45.4 L228.8 46.5 L229.5 45.7 L230.2 45.5 L230.9 46.2 L231.6 46.9 L232.3 47.9 L233.0 47.1 L233.7 46.0 L234.4 47.4 L235.1 47.6 L235.8 48.6 L236.5 48.3 L237.2 47.6 L237.9 49.3 L238.6 48.6 L239.3 49.4 L240.0 49.2 L240.7 49.0 L241.4 48.0 L242.1 48.2 L242.8 48.0 L243.5 50.1 L244.2 50.4 L244.9 50.5 L245.6 50.8 L246.3 51.0 L247.0 52.3 L247.7 51.1 L248.4 51.1 L249.1 53.0 L249.8 53.1 L250.5 52.8 L251.2 53.2 L251.9 54.4 L252.6 52.8 L253.3 54.0 L254.0 55.7 L254.7 55.0 L255.4 54.7 L256.1 55.3 L256.8 55.8 L257.5 57.2 L258.2 58.3 L258.9 57.6 L259.6 57.8 L260.3 59.1 L261.0 59.3 L261.7 59.2 L262.4 59.2 L263.1 58.9 L263.8 59.4 L264.5 59.5 L265.2 60.3 L265.9 62.8 L266.6 62.5 L267.3 62.3 L268.0 62.7 L268.7 61.9 L269.4 61.9 L270.1 62.7 L270.8 65.0 L271.5 64.6 L272.2 64.0 L272.9 63.6 L273.6 64.8 L274.3 65.5 L275.0 64.8 L275.7 64.3 L276.4 64.3 L277.1 65.9 L277.8 67.6 L278.5 67.3 L279.2 66.9 L279.9 67.0 L280.6 67.5 L281.3 67.8 L282.0 69.1 L282.7 68.2 L283.4 69.0 L284.1 68.2 L284.8 69.3 L285.5 69.8 L286.2 70.5 L286.9 71.3 L287.6 71.1 L288.3 71.5 L289.0 71.4 L289.7 72.2 L290.4 72.2 L291.1 71.4 L291.8 72.4 L292.5 71.9 L293.2 72.1 L293.9 72.1 L294.6 72.8 L295.3 71.9 L296.0 72.4 L296.7 72.4 L297.4 72.3 L298.1 73.4 L298.8 72.1 L299.5 73.2 L300.2 72.9 L300.9 72.2 L301.6 71.3 L302.3 71.4 L303.0 72.1 L303.7 70.2 L304.4 70.1 L305.1 71.7 L305.8 70.7 L306.5 71.0 L307.2 71.5 L307.9 70.5 L308.6 70.4 L309.3 70.3 L310.0 69.8 L310.7 70.1 L311.4 70.8 L312.1 70.6 L312.8 69.2 L313.5 70.5 L314.2 69.6 L314.9 68.5 L315.6 69.3 L316.3 68.4 L317.0 67.4 L317.7 68.7 L318.4 67.3" fill="none" stroke="#008000" stroke-width="0.80" stroke-linejoin="round"/>
<rect x="26.40" y="15.80" width="306.60" height="202.30" fill="none" stroke="#262626" stroke-width="0.8"/>
<text x="40.40" y="231.70" font-size="9.69" text-anchor="middle" textLength="5.93" lengthAdjust="spacingAndGlyphs" >0</text>
<text x="96.06" y="231.70" font-size="9.69" text-anchor="middle" textLength="11.85" lengthAdjust="spacingAndGlyphs" >20</text>
<text x="151.72" y="231.70" font-size="9.69" text-anchor="middle" textLength="11.85" lengthAdjust="spacingAndGlyphs" >40</text>
<text x="207.38" y="231.70" font-size="9.69" text-anchor="middle" textLength="11.85" lengthAdjust="spacingAndGlyphs" >60</text>
<text x="263.04" y="231.70" font-size="9.69" text-anchor="middle" textLength="11.85" lengthAdjust="spacingAndGlyphs" >80</text>
<text x="318.70" y="231.70" font-size="9.69" text-anchor="middle" textLength="17.78" lengthAdjust="spacingAndGlyphs" >100</text>
<text x="19.80" y="214.50" font-size="9.69" text-anchor="end" textLength="5.93" lengthAdjust="spacingAndGlyphs" >0</text>
<text x="19.80" y="170.02" font-size="9.69" text-anchor="end" textLength="5.93" lengthAdjust="spacingAndGlyphs" >2</text>
<text x="19.80" y="125.54" font-size="9.69" text-anchor="end" textLength="5.93" lengthAdjust="spacingAndGlyphs" >4</text>
<text x="19.80" y="81.06" font-size="9.69" text-anchor="end" textLength="5.93" lengthAdjust="spacingAndGlyphs" >6</text>
<text x="19.80" y="36.58" font-size="9.69" text-anchor="end" textLength="5.93" lengthAdjust="spacingAndGlyphs" >8</text>
<path d="M40.40 218.10v2.99M96.06 218.10v2.99M151.72 218.10v2.99M207.38 218.10v2.99M263.04 218.10v2.99M318.70 218.10v2.99M26.40 211.30h-2.99M26.40 166.82h-2.99M26.40 122.34h-2.99M26.40 77.86h-2.99M26.40 33.38h-2.99" stroke="#262626" stroke-width="0.8" fill="none"/>
<text x="179.70" y="10.30" font-size="11.73" text-anchor="middle" textLength="104.54" lengthAdjust="spacingAndGlyphs" >Comparison for Sh</text>
<text x="179.70" y="244.50" font-size="9.69" text-anchor="middle" textLength="22.79" lengthAdjust="spacingAndGlyphs" >Time</text>
<text x="0.00" y="0.00" font-size="9.69" text-anchor="middle" textLength="11.82" lengthAdjust="spacingAndGlyphs" transform="translate(9.00 116.95) rotate(-90)">Sh</text>
<rect x="30.90" y="20.10" width="93.90" height="42.70" rx="1.6" fill="#fff" fill-opacity="0.8" stroke="#cccccc" stroke-width="0.8"/>
<path d="M34.10 27.60H53.70" stroke="#0000ff" stroke-width="1.25" />
<text x="60.00" y="30.70" font-size="9.69" text-anchor="start" textLength="62.31" lengthAdjust="spacingAndGlyphs" >Deterministic</text>
<path d="M34.10 40.90H53.70" stroke="#ff0000" stroke-width="1.25" stroke-dasharray="4.62 2.00"/>
<text x="60.00" y="44.00" font-size="9.69" text-anchor="start" textLength="55.88" lengthAdjust="spacingAndGlyphs" >White Noise</text>
<path d="M34.10 54.50H53.70" stroke="#008000" stroke-width="1.25" stroke-dasharray="8.00 2.00 1.25 2.00"/>
<text x="60.00" y="57.60" font-size="9.69" text-anchor="start" textLength="50.57" lengthAdjust="spacingAndGlyphs" >Lévy Noise</text>
<text x="167.40" y="275.80" font-family="Liberation Serif, serif" font-size="16.5" text-anchor="middle" fill="#1a1a1a">(a)</text>
</g>
<g id="pb">
<path d="M397.67 184.87 C398.54 183.83 400.79 181.13 402.91 178.63 C405.03 176.14 407.90 172.18 410.40 169.90 C412.90 167.61 414.98 166.23 417.89 164.90 C420.80 163.57 424.54 162.61 427.87 161.91 C431.20 161.20 434.53 161.08 437.86 160.66 C441.19 160.24 444.51 159.95 447.84 159.41 C451.17 158.87 454.50 158.25 457.83 157.41 C461.16 156.58 464.48 155.46 467.81 154.42 C471.14 153.38 474.47 152.42 477.80 151.17 C481.13 149.93 484.45 148.47 487.78 146.93 C491.11 145.39 494.44 143.60 497.77 141.94 C501.10 140.27 505.05 138.32 507.75 136.94 C510.46 135.57 510.87 135.93 513.99 133.70 C517.11 131.47 522.32 126.72 526.48 123.58 C530.64 120.44 534.80 117.46 538.96 114.84 C543.12 112.22 547.28 109.93 551.44 107.85 C555.60 105.77 559.76 104.03 563.93 102.36 C568.09 100.70 572.25 99.12 576.41 97.87 C580.57 96.62 584.73 95.70 588.89 94.87 C593.05 94.04 597.21 93.37 601.37 92.88 C605.53 92.38 609.69 92.04 613.85 91.88 C618.01 91.71 622.17 91.71 626.33 91.88 C630.49 92.04 634.65 92.50 638.81 92.88 C642.97 93.25 647.13 93.71 651.29 94.12 C655.45 94.54 660.78 95.04 663.78 95.37 C666.77 95.70 668.35 96.00 669.27 96.12" fill="none" stroke="#0000ff" stroke-width="1.45" stroke-linejoin="round"/>
<path d="M397.9 182.5 L398.4 180.8 L398.9 179.8 L399.4 179.3 L399.9 179.1 L400.4 177.9 L400.9 177.0 L401.4 172.9 L401.9 171.8 L402.4 173.7 L402.9 172.1 L403.4 167.3 L403.9 167.3 L404.4 166.7 L404.9 165.9 L405.4 165.9 L405.9 165.8 L406.4 164.1 L406.9 163.0 L407.4 160.1 L407.9 154.0 L408.4 151.6 L408.9 149.5 L409.4 150.2 L409.9 149.5 L410.4 150.1 L410.9 149.5 L411.4 147.2 L411.9 146.2 L412.4 145.1 L412.9 142.8 L413.4 142.7 L413.9 142.4 L414.4 142.8 L414.9 140.2 L415.4 137.4 L415.9 138.0 L416.4 142.8 L416.9 140.4 L417.4 139.4 L417.9 143.3 L418.4 143.3 L418.9 143.7 L419.4 141.7 L419.9 143.6 L420.4 146.4 L420.9 147.7 L421.4 147.3 L421.9 147.3 L422.4 151.3 L422.9 152.4 L423.4 151.5 L423.9 150.9 L424.4 151.8 L424.9 150.4 L425.4 149.3 L425.9 148.3 L426.4 148.1 L426.9 148.1 L427.4 148.5 L427.9 146.7 L428.4 146.5 L428.9 145.5 L429.4 144.6 L429.9 142.9 L430.4 141.4 L430.9 140.6 L431.4 143.4 L431.9 143.4 L432.4 143.4 L432.9 144.4 L433.4 147.1 L433.9 147.9 L434.4 148.8 L434.9 149.0 L435.4 155.5 L435.9 158.0 L436.4 157.0 L436.9 156.6 L437.4 159.3 L437.9 162.8 L438.4 168.8 L438.9 170.2 L439.4 172.0 L439.9 172.8 L440.4 174.0 L440.9 177.4 L441.4 175.0 L441.9 175.2 L442.4 174.7 L442.9 176.0 L443.4 176.8 L443.9 180.7 L444.4 179.4 L444.9 174.7 L445.4 177.3 L445.9 179.5 L446.4 181.1 L446.9 182.0 L447.4 184.5 L447.9 183.4 L448.4 183.4 L448.9 185.5 L449.4 187.9 L449.9 191.9 L450.4 191.7 L450.9 192.1 L451.4 191.4 L451.9 191.4 L452.4 189.7 L452.9 188.7 L453.4 190.1 L453.9 185.3 L454.4 182.5 L454.9 182.6 L455.4 182.4 L455.9 179.4 L456.4 179.0 L456.9 178.6 L457.4 178.6 L457.9 178.6 L458.4 176.9 L458.9 174.8 L459.4 172.0 L459.9 171.7 L460.4 171.5 L460.9 171.2 L461.4 171.2 L461.9 172.3 L462.4 173.2 L462.9 170.2 L463.4 170.4 L463.9 170.0 L464.4 168.1 L464.9 164.1 L465.4 165.0 L465.9 165.5 L466.4 167.0 L466.9 168.4 L467.4 165.3 L467.9 160.4 L468.4 159.0 L468.9 157.0 L469.4 158.2 L469.9 159.7 L470.4 159.0 L470.9 157.9 L471.4 158.0 L471.9 158.9 L472.4 158.7 L472.9 160.4 L473.4 161.6 L473.9 162.4 L474.4 163.4 L474.9 168.2 L475.4 166.2 L475.9 165.8 L476.4 169.0 L476.9 170.1 L477.4 172.3 L477.9 170.6 L478.4 171.8 L478.9 173.0 L479.4 169.2 L479.9 167.9 L480.4 167.1 L480.9 167.6 L481.4 165.4 L481.9 165.6 L482.4 162.5 L482.9 160.5 L483.4 158.9 L483.9 156.1 L484.4 152.9 L484.9 151.9 L485.4 148.7 L485.9 148.3 L486.4 145.1 L486.9 142.3 L487.4 142.4 L487.9 142.4 L488.4 139.1 L488.9 138.4 L489.4 135.0 L489.9 135.6 L490.4 132.8 L490.9 130.3 L491.4 126.7 L491.9 125.7 L492.4 124.6 L492.9 123.7 L493.4 124.0 L493.9 122.4 L494.4 122.4 L494.9 121.9 L495.4 120.2 L495.9 116.8 L496.4 113.2 L496.9 111.5 L497.4 112.5 L497.9 110.9 L498.4 110.9 L498.9 110.5 L499.4 109.7 L499.9 109.1 L500.4 108.5 L500.9 110.6 L501.4 111.7 L501.9 113.7 L502.4 111.4 L502.9 112.2 L503.4 116.9 L503.9 118.2 L504.4 118.1 L504.9 121.6 L505.4 124.2 L505.9 124.8 L506.4 125.1 L506.9 125.6 L507.4 127.0 L507.9 129.0 L508.4 129.8 L508.9 131.5 L509.4 130.9 L509.9 133.9 L510.4 135.6 L510.9 135.0 L511.4 133.3 L511.9 133.3 L512.4 133.6 L512.9 131.0 L513.4 131.0 L513.9 129.0 L514.4 127.9 L514.9 130.4 L515.4 131.3 L515.9 136.0 L516.4 136.7 L516.9 141.4 L517.4 143.9 L517.9 141.7 L518.4 144.8 L518.9 144.3 L519.4 146.1 L519.9 149.6 L520.4 151.4 L520.9 150.7 L521.4 151.9 L521.9 152.4 L522.4 151.6 L522.9 148.3 L523.4 146.6 L523.9 146.6 L524.4 147.3 L524.9 147.1 L525.4 151.4 L525.9 149.6 L526.4 150.5 L526.9 148.4 L527.4 146.9 L527.9 144.2 L528.4 143.1 L528.9 147.6 L529.4 146.3 L529.9 148.5 L530.4 150.6 L530.9 151.3 L531.4 150.4 L531.9 147.6 L532.4 143.9 L532.9 144.4 L533.4 144.2 L533.9 145.6 L534.4 148.1 L534.9 149.8 L535.4 151.1 L535.9 153.9 L536.4 151.6 L536.9 148.7 L537.4 143.6 L537.9 141.3 L538.4 137.8 L538.9 135.0 L539.4 133.4 L539.9 132.9 L540.4 130.2 L540.9 126.2 L541.4 125.8 L541.9 125.8 L542.4 130.6 L542.9 135.3 L543.4 139.1 L543.9 144.1 L544.4 147.6 L544.9 149.8 L545.4 151.7 L545.9 157.2 L546.4 155.2 L546.9 151.3 L547.4 151.5 L547.9 148.1 L548.4 149.2 L548.9 144.4 L549.4 145.4 L549.9 145.0 L550.4 145.5 L550.9 145.5 L551.4 143.7 L551.9 141.8 L552.4 142.4 L552.9 141.4 L553.4 139.4 L553.9 138.3 L554.4 132.8 L554.9 132.4 L555.4 134.2 L555.9 133.6 L556.4 132.9 L556.9 134.1 L557.4 132.1 L557.9 131.4 L558.4 130.0 L558.9 130.5 L559.4 129.2 L559.9 124.5 L560.4 124.7 L560.9 124.3 L561.4 122.8 L561.9 122.4 L562.4 124.7 L562.9 122.5 L563.4 122.5 L563.9 122.3 L564.4 118.7 L564.9 117.2 L565.4 117.7 L565.9 115.6 L566.4 113.1 L566.9 112.9 L567.4 113.0 L567.9 114.5 L568.4 109.8 L568.9 106.8 L569.4 106.1 L569.9 105.9 L570.4 103.9 L570.9 103.6 L571.4 98.3 L571.9 99.9 L572.4 98.8 L572.9 98.6 L573.4 97.5 L573.9 98.4 L574.4 96.6 L574.9 94.0 L575.4 93.7 L575.9 91.8 L576.4 91.8 L576.9 93.0 L577.4 92.7 L577.9 93.9 L578.4 92.4 L578.9 90.4 L579.4 90.5 L579.9 91.1 L580.4 94.6 L580.9 98.8 L581.4 98.8 L581.9 101.2 L582.4 101.9 L582.9 102.1 L583.4 106.5 L583.9 106.5 L584.4 107.7 L584.9 108.7 L585.4 111.8 L585.9 111.1 L586.4 116.7 L586.9 115.0 L587.4 114.0 L587.9 111.6 L588.4 109.7 L588.9 108.4 L589.4 104.3 L589.9 104.7 L590.4 103.5 L590.9 101.3 L591.4 101.3 L591.9 101.1 L592.4 100.1 L592.9 99.0 L593.4 96.0 L593.9 95.7 L594.4 95.2 L594.9 95.1 L595.4 93.4 L595.9 92.1 L596.4 90.9 L596.9 86.6 L597.4 87.0 L597.9 82.5 L598.4 81.4 L598.9 77.7 L599.4 76.7 L599.9 78.4 L600.4 76.2 L600.9 73.2 L601.4 70.9 L601.9 68.4 L602.4 64.0 L602.9 62.6 L603.4 64.6 L603.9 60.9 L604.4 57.3 L604.9 55.9 L605.4 52.2 L605.9 51.7 L606.4 49.2 L606.9 48.0 L607.4 46.6 L607.9 43.8 L608.4 43.3 L608.9 41.4 L609.4 41.9 L609.9 39.2 L610.4 39.0 L610.9 36.0 L611.4 36.8 L611.9 34.8 L612.4 35.8 L612.9 33.9 L613.4 33.2 L613.9 34.0 L614.4 35.2 L614.9 35.1 L615.4 32.7 L615.9 32.0 L616.4 32.6 L616.9 35.2 L617.4 37.5 L617.9 37.4 L618.4 38.4 L618.9 40.5 L619.4 40.7 L619.9 42.7 L620.4 43.0 L620.9 45.4 L621.4 46.8 L621.9 48.2 L622.4 49.4 L622.9 49.9 L623.4 51.3 L623.9 53.6 L624.4 53.7 L624.9 55.1 L625.4 54.9 L625.9 56.7 L626.4 54.7 L626.9 58.2 L627.4 57.1 L627.9 59.6 L628.4 57.8 L628.9 56.5 L629.4 54.8 L629.9 51.7 L630.4 51.7 L630.9 48.6 L631.4 47.9 L631.9 50.3 L632.4 52.0 L632.9 48.7 L633.4 49.8 L633.9 53.0 L634.4 50.9 L634.9 53.2 L635.4 54.4 L635.9 57.9 L636.4 57.3 L636.9 58.9 L637.4 60.2 L637.9 64.9 L638.4 66.8 L638.9 66.2 L639.4 69.1 L639.9 68.1 L640.4 69.1 L640.9 70.6 L641.4 70.1 L641.9 74.9 L642.4 76.8 L642.9 75.9 L643.4 74.3 L643.9 73.9 L644.4 73.5 L644.9 73.9 L645.4 79.2 L645.9 79.3 L646.4 79.8 L646.9 78.6 L647.4 79.3 L647.9 82.5 L648.4 81.4 L648.9 82.0 L649.4 80.7 L649.9 77.9 L650.4 78.6 L650.9 82.9 L651.4 83.6 L651.9 86.0 L652.4 88.9 L652.9 87.0 L653.4 87.4 L653.9 86.7 L654.4 85.4 L654.9 86.6 L655.4 89.3 L655.9 92.1 L656.4 97.6 L656.9 96.4 L657.4 97.5 L657.9 99.1 L658.4 98.1 L658.9 97.1 L659.4 97.1 L659.9 101.4 L660.4 99.3 L660.9 101.2 L661.4 104.6 L661.9 106.6 L662.4 110.0 L662.9 110.3 L663.4 110.2 L663.9 110.5 L664.4 110.9 L664.9 115.1 L665.4 116.6 L665.9 117.8 L666.4 118.3 L666.9 116.3 L667.4 118.5 L667.9 120.7 L668.4 124.0 L668.8 123.8 L668.8 125.7 L668.4 126.2 L667.9 126.1 L667.4 121.8 L666.9 119.1 L666.4 121.3 L665.9 121.3 L665.4 119.5 L664.9 116.8 L664.4 115.1 L663.9 111.5 L663.4 111.9 L662.9 112.0 L662.4 112.3 L661.9 111.2 L661.4 108.2 L660.9 106.1 L660.4 101.6 L659.9 103.0 L659.4 102.8 L658.9 100.1 L658.4 99.9 L657.9 101.2 L657.4 99.5 L656.9 98.1 L656.4 99.7 L655.9 98.2 L655.4 92.8 L654.9 89.3 L654.4 87.7 L653.9 88.2 L653.4 89.5 L652.9 88.9 L652.4 91.2 L651.9 88.9 L651.4 86.9 L650.9 84.7 L650.4 85.1 L649.9 80.7 L649.4 85.0 L648.9 85.7 L648.4 85.7 L647.9 84.6 L647.4 83.1 L646.9 80.1 L646.4 82.8 L645.9 81.8 L645.4 82.2 L644.9 79.2 L644.4 75.1 L643.9 75.5 L643.4 76.8 L642.9 78.0 L642.4 79.2 L641.9 79.7 L641.4 75.5 L640.9 72.5 L640.4 72.4 L639.9 72.1 L639.4 71.0 L638.9 70.3 L638.4 71.6 L637.9 70.2 L637.4 65.0 L636.9 60.2 L636.4 61.5 L635.9 62.2 L635.4 58.4 L634.9 55.3 L634.4 54.7 L633.9 55.7 L633.4 54.8 L632.9 52.0 L632.4 54.2 L631.9 53.8 L631.4 50.8 L630.9 54.3 L630.4 55.7 L629.9 55.0 L629.4 56.5 L628.9 58.0 L628.4 62.6 L627.9 63.9 L627.4 59.7 L626.9 59.8 L626.4 59.1 L625.9 59.9 L625.4 58.5 L624.9 56.9 L624.4 57.7 L623.9 55.7 L623.4 54.7 L622.9 52.1 L622.4 52.1 L621.9 50.7 L621.4 49.4 L620.9 47.8 L620.4 46.5 L619.9 45.5 L619.4 43.1 L618.9 44.0 L618.4 41.7 L617.9 40.0 L617.4 38.9 L616.9 37.9 L616.4 35.4 L615.9 33.9 L615.4 35.4 L614.9 37.6 L614.4 36.7 L613.9 36.1 L613.4 34.8 L612.9 38.5 L612.4 38.0 L611.9 36.8 L611.4 39.3 L610.9 39.6 L610.4 41.4 L609.9 43.0 L609.4 43.7 L608.9 44.3 L608.4 45.2 L607.9 48.9 L607.4 49.2 L606.9 51.9 L606.4 52.4 L605.9 53.4 L605.4 57.3 L604.9 57.3 L604.4 60.9 L603.9 65.5 L603.4 67.5 L602.9 64.6 L602.4 69.6 L601.9 72.6 L601.4 73.3 L600.9 76.8 L600.4 80.4 L599.9 80.6 L599.4 81.0 L598.9 81.8 L598.4 85.2 L597.9 88.8 L597.4 88.8 L596.9 90.9 L596.4 95.5 L595.9 93.6 L595.4 95.9 L594.9 96.4 L594.4 97.8 L593.9 97.9 L593.4 99.0 L592.9 102.7 L592.4 102.4 L591.9 103.1 L591.4 104.4 L590.9 104.5 L590.4 106.9 L589.9 107.0 L589.4 110.1 L588.9 112.6 L588.4 112.1 L587.9 115.4 L587.4 116.3 L586.9 118.9 L586.4 118.9 L585.9 116.9 L585.4 114.3 L584.9 112.1 L584.4 110.3 L583.9 109.8 L583.4 108.8 L582.9 108.7 L582.4 103.5 L581.9 103.0 L581.4 103.1 L580.9 101.2 L580.4 100.7 L579.9 95.5 L579.4 93.4 L578.9 93.2 L578.4 94.0 L577.9 96.9 L577.4 96.9 L576.9 95.7 L576.4 94.6 L575.9 95.0 L575.4 95.0 L574.9 99.4 L574.4 99.7 L573.9 101.0 L573.4 98.7 L572.9 100.5 L572.4 100.4 L571.9 102.5 L571.4 103.6 L570.9 105.2 L570.4 107.4 L569.9 109.7 L569.4 109.3 L568.9 109.8 L568.4 115.7 L567.9 116.2 L567.4 116.8 L566.9 115.2 L566.4 116.8 L565.9 119.5 L565.4 121.4 L564.9 119.2 L564.4 124.5 L563.9 124.8 L563.4 125.4 L562.9 128.0 L562.4 127.0 L561.9 125.6 L561.4 125.4 L560.9 129.4 L560.4 128.7 L559.9 129.3 L559.4 131.0 L558.9 132.9 L558.4 133.1 L557.9 132.9 L557.4 136.3 L556.9 136.6 L556.4 134.9 L555.9 135.7 L555.4 135.5 L554.9 135.3 L554.4 138.3 L553.9 141.4 L553.4 142.3 L552.9 143.6 L552.4 143.3 L551.9 145.4 L551.4 148.0 L550.9 150.8 L550.4 147.8 L549.9 148.0 L549.4 147.4 L548.9 149.2 L548.4 152.8 L547.9 152.5 L547.4 152.6 L546.9 155.3 L546.4 157.5 L545.9 159.7 L545.4 158.6 L544.9 152.9 L544.4 149.8 L543.9 148.0 L543.4 145.1 L542.9 139.8 L542.4 135.3 L541.9 130.7 L541.4 127.8 L540.9 130.2 L540.4 132.9 L539.9 134.7 L539.4 135.6 L538.9 137.8 L538.4 142.9 L537.9 144.0 L537.4 148.8 L536.9 151.6 L536.4 157.1 L535.9 157.6 L535.4 154.2 L534.9 152.2 L534.4 149.8 L533.9 148.8 L533.4 147.7 L532.9 147.7 L532.4 147.6 L531.9 151.5 L531.4 153.5 L530.9 153.0 L530.4 154.0 L529.9 151.1 L529.4 149.6 L528.9 151.2 L528.4 148.1 L527.9 148.5 L527.4 150.3 L526.9 153.3 L526.4 154.8 L525.9 153.3 L525.4 154.2 L524.9 151.4 L524.4 149.6 L523.9 148.5 L523.4 149.3 L522.9 151.8 L522.4 153.3 L521.9 154.3 L521.4 154.7 L520.9 152.2 L520.4 153.8 L519.9 153.2 L519.4 149.9 L518.9 147.6 L518.4 146.6 L517.9 145.0 L517.4 146.5 L516.9 144.4 L516.4 143.2 L515.9 138.3 L515.4 136.0 L514.9 132.2 L514.4 132.8 L513.9 132.2 L513.4 135.1 L512.9 134.1 L512.4 137.3 L511.9 137.5 L511.4 137.0 L510.9 137.7 L510.4 138.5 L509.9 138.4 L509.4 135.4 L508.9 134.1 L508.4 133.4 L507.9 130.9 L507.4 131.2 L506.9 128.2 L506.4 127.2 L505.9 127.9 L505.4 125.8 L504.9 124.9 L504.4 123.0 L503.9 120.7 L503.4 119.5 L502.9 118.2 L502.4 114.4 L501.9 115.4 L501.4 115.2 L500.9 112.4 L500.4 111.3 L499.9 113.2 L499.4 114.3 L498.9 113.3 L498.4 112.9 L497.9 112.5 L497.4 114.5 L496.9 114.5 L496.4 116.8 L495.9 120.2 L495.4 123.3 L494.9 123.8 L494.4 124.2 L493.9 124.4 L493.4 127.2 L492.9 127.2 L492.4 127.5 L491.9 128.5 L491.4 132.5 L490.9 135.0 L490.4 135.9 L489.9 138.2 L489.4 138.8 L488.9 142.0 L488.4 143.3 L487.9 144.3 L487.4 144.3 L486.9 145.1 L486.4 148.5 L485.9 150.3 L485.4 152.3 L484.9 153.6 L484.4 158.3 L483.9 160.1 L483.4 162.2 L482.9 162.5 L482.4 166.1 L481.9 169.0 L481.4 168.9 L480.9 169.9 L480.4 169.2 L479.9 170.6 L479.4 173.2 L478.9 178.6 L478.4 176.2 L477.9 172.6 L477.4 174.7 L476.9 172.3 L476.4 171.4 L475.9 169.6 L475.4 170.5 L474.9 170.6 L474.4 168.2 L473.9 164.3 L473.4 164.9 L472.9 163.8 L472.4 160.7 L471.9 163.2 L471.4 160.0 L470.9 160.3 L470.4 161.1 L469.9 162.0 L469.4 160.6 L468.9 161.2 L468.4 161.1 L467.9 165.3 L467.4 169.2 L466.9 169.6 L466.4 169.3 L465.9 169.9 L465.4 166.4 L464.9 168.2 L464.4 170.6 L463.9 174.7 L463.4 175.1 L462.9 173.9 L462.4 174.4 L461.9 174.3 L461.4 176.0 L460.9 173.1 L460.4 174.5 L459.9 174.9 L459.4 176.5 L458.9 178.1 L458.4 178.8 L457.9 179.8 L457.4 181.3 L456.9 182.2 L456.4 182.2 L455.9 183.6 L455.4 183.6 L454.9 184.2 L454.4 185.7 L453.9 191.8 L453.4 193.3 L452.9 192.2 L452.4 194.9 L451.9 195.7 L451.4 193.2 L450.9 194.0 L450.4 194.3 L449.9 194.8 L449.4 192.1 L448.9 187.9 L448.4 186.0 L447.9 185.6 L447.4 187.6 L446.9 186.5 L446.4 183.7 L445.9 182.1 L445.4 180.1 L444.9 182.0 L444.4 182.5 L443.9 182.0 L443.4 180.8 L442.9 179.0 L442.4 177.3 L441.9 177.2 L441.4 177.6 L440.9 178.9 L440.4 177.9 L439.9 174.2 L439.4 177.2 L438.9 177.2 L438.4 172.3 L437.9 168.8 L437.4 163.2 L436.9 159.4 L436.4 159.7 L435.9 160.2 L435.4 158.0 L434.9 155.7 L434.4 151.2 L433.9 151.5 L433.4 149.6 L432.9 148.7 L432.4 147.2 L431.9 147.2 L431.4 146.3 L430.9 144.1 L430.4 143.7 L429.9 144.9 L429.4 149.0 L428.9 147.4 L428.4 150.5 L427.9 149.7 L427.4 150.6 L426.9 151.1 L426.4 151.3 L425.9 151.8 L425.4 154.3 L424.9 154.1 L424.4 154.5 L423.9 155.7 L423.4 155.3 L422.9 155.2 L422.4 154.3 L421.9 151.7 L421.4 149.9 L420.9 150.5 L420.4 150.0 L419.9 147.6 L419.4 145.2 L418.9 145.7 L418.4 148.0 L417.9 147.7 L417.4 144.2 L416.9 144.9 L416.4 146.8 L415.9 142.8 L415.4 140.2 L414.9 144.0 L414.4 144.2 L413.9 144.6 L413.4 143.8 L412.9 145.5 L412.4 148.5 L411.9 147.6 L411.4 149.7 L410.9 151.7 L410.4 153.0 L409.9 152.1 L409.4 152.8 L408.9 152.6 L408.4 154.4 L407.9 160.9 L407.4 163.9 L406.9 165.1 L406.4 165.8 L405.9 167.3 L405.4 168.0 L404.9 168.6 L404.4 170.0 L403.9 169.0 L403.4 173.5 L402.9 174.3 L402.4 176.2 L401.9 175.0 L401.4 177.0 L400.9 178.7 L400.4 180.3 L399.9 180.2 L399.4 180.3 L398.9 181.0 L398.4 182.6 L397.9 183.5Z" fill="#ff0000" stroke="#ff0000" stroke-width="1.20" stroke-linejoin="round"/>
<path d="M397.7 183.2 L398.4 181.6 L399.1 179.8 L399.8 178.9 L400.5 175.2 L401.2 178.9 L401.9 172.8 L402.6 179.1 L403.3 172.4 L404.0 161.5 L404.7 169.2 L405.4 167.1 L406.1 163.1 L406.8 170.9 L407.5 150.6 L408.2 159.5 L408.9 145.6 L409.6 150.7 L410.3 154.9 L411.0 146.3 L411.7 140.1 L412.4 148.6 L413.1 144.2 L413.8 141.4 L414.5 145.0 L415.2 138.5 L415.9 136.3 L416.6 140.5 L417.3 139.3 L418.0 143.9 L418.7 142.4 L419.4 137.3 L420.1 155.0 L420.8 146.3 L421.5 148.5 L422.2 147.1 L422.9 160.7 L423.6 152.9 L424.3 160.0 L425.0 153.0 L425.7 155.2 L426.4 147.8 L427.1 147.3 L427.8 147.8 L428.5 151.5 L429.2 145.3 L429.9 137.0 L430.6 143.5 L431.3 146.8 L432.0 145.8 L432.7 153.4 L433.4 150.5 L434.1 151.8 L434.8 150.9 L435.5 164.8 L436.2 159.6 L436.9 152.3 L437.6 172.6 L438.3 167.6 L439.0 176.1 L439.7 175.3 L440.4 176.3 L441.1 172.9 L441.8 173.0 L442.5 175.3 L443.2 176.5 L443.9 188.2 L444.6 175.1 L445.3 179.0 L446.0 183.2 L446.7 187.1 L447.4 192.9 L448.1 187.3 L448.8 183.6 L449.5 200.2 L450.2 197.5 L450.9 186.2 L451.6 196.4 L452.3 189.5 L453.0 196.8 L453.7 185.1 L454.4 188.6 L455.1 184.7 L455.8 174.7 L456.5 181.1 L457.2 185.3 L457.9 186.0 L458.6 183.3 L459.3 174.4 L460.0 172.3 L460.7 168.7 L461.4 173.9 L462.1 178.1 L462.8 172.7 L463.5 173.5 L464.2 174.0 L464.9 160.9 L465.6 166.1 L466.3 169.1 L467.0 163.2 L467.7 166.3 L468.4 153.7 L469.1 160.6 L469.8 161.1 L470.5 155.5 L471.2 152.2 L471.9 156.5 L472.6 168.7 L473.3 159.0 L474.0 165.3 L474.7 172.6 L475.4 165.4 L476.1 163.6 L476.8 167.9 L477.5 171.5 L478.2 179.3 L478.9 179.3 L479.6 162.4 L480.3 172.9 L481.0 163.3 L481.7 164.1 L482.4 157.5 L483.1 160.1 L483.8 162.5 L484.5 151.2 L485.2 152.9 L485.9 147.5 L486.6 136.9 L487.3 136.5 L488.0 146.1 L488.7 133.3 L489.4 133.3 L490.1 140.8 L490.8 136.9 L491.5 126.8 L492.2 131.9 L492.9 130.9 L493.6 127.9 L494.3 123.8 L495.0 123.2 L495.7 118.3 L496.4 121.1 L497.1 113.0 L497.8 113.6 L498.5 109.6 L499.2 118.8 L499.9 106.6 L500.6 115.9 L501.3 114.7 L502.0 106.1 L502.7 120.8 L503.4 122.7 L504.1 122.7 L504.8 120.5 L505.5 126.4 L506.2 125.5 L506.9 129.1 L507.6 133.2 L508.3 138.4 L509.0 133.4 L509.7 143.0 L510.4 130.3 L511.1 128.3 L511.8 129.9 L512.5 125.7 L513.2 134.6 L513.9 137.4 L514.6 129.3 L515.3 140.5 L516.0 138.9 L516.7 143.2 L517.4 145.2 L518.1 149.2 L518.8 152.1 L519.5 148.6 L520.2 150.0 L520.9 150.6 L521.6 152.6 L522.3 159.3 L523.0 152.4 L523.7 145.6 L524.4 145.6 L525.1 146.0 L525.8 148.0 L526.5 152.5 L527.2 144.3 L527.9 143.9 L528.6 151.1 L529.3 144.3 L530.0 152.1 L530.7 154.3 L531.4 145.1 L532.1 139.2 L532.8 147.5 L533.5 149.3 L534.2 155.8 L534.9 147.9 L535.6 160.5 L536.3 157.1 L537.0 153.0 L537.7 142.1 L538.4 133.5 L539.1 139.0 L539.8 133.9 L540.5 124.2 L541.2 126.5 L541.9 122.9 L542.6 130.7 L543.3 136.2 L544.0 144.2 L544.7 154.6 L545.4 159.8 L546.1 149.5 L546.8 160.1 L547.5 157.1 L548.2 146.5 L548.9 147.5 L549.6 145.4 L550.3 146.7 L551.0 139.0 L551.7 140.1 L552.4 137.0 L553.1 141.1 L553.8 137.3 L554.5 127.8 L555.2 128.7 L555.9 127.8 L556.6 137.0 L557.3 134.7 L558.0 129.1 L558.7 126.8 L559.4 130.9 L560.1 124.9 L560.8 131.3 L561.5 118.3 L562.2 127.0 L562.9 118.5 L563.6 122.0 L564.3 121.2 L565.0 116.0 L565.7 124.4 L566.4 108.7 L567.1 116.3 L567.8 117.0 L568.5 113.6 L569.2 108.3 L569.9 111.1 L570.6 99.3 L571.3 99.8 L572.0 102.2 L572.7 103.7 L573.4 96.7 L574.1 98.1 L574.8 100.1 L575.5 92.9 L576.2 97.3 L576.9 93.0 L577.6 88.6 L578.3 100.0 L579.0 91.1 L579.7 94.6 L580.4 97.0 L581.1 100.3 L581.8 103.5 L582.5 99.5 L583.2 108.4 L583.9 106.7 L584.6 112.2 L585.3 117.0 L586.0 115.4 L586.7 116.7 L587.4 115.5 L588.1 113.8 L588.8 109.1 L589.5 105.6 L590.2 103.7 L590.9 103.5 L591.6 101.6 L592.3 95.5 L593.0 102.5 L593.7 94.5 L594.4 89.7 L595.1 90.0 L595.8 99.0 L596.5 82.7 L597.2 91.7 L597.9 81.5 L598.6 81.3 L599.3 76.6 L600.0 82.2 L600.7 77.2 L601.4 65.3 L602.1 68.8 L602.8 65.0 L603.5 59.3 L604.2 54.5 L604.9 55.6 L605.6 47.3 L606.3 48.5 L607.0 45.2 L607.7 49.1 L608.4 37.4 L609.1 46.4 L609.8 35.2 L610.5 31.0 L611.2 31.6 L611.9 34.3 L612.6 37.6 L613.3 34.3 L614.0 35.7 L614.7 31.1 L615.4 34.5 L616.1 36.2 L616.8 43.4 L617.5 32.9 L618.2 40.6 L618.9 40.3 L619.6 48.1 L620.3 47.7 L621.0 49.8 L621.7 46.8 L622.4 56.4 L623.1 53.3 L623.8 51.3 L624.5 53.2 L625.2 62.1 L625.9 61.8 L626.6 52.3 L627.3 61.8 L628.0 57.0 L628.7 55.7 L629.4 58.9 L630.1 58.7 L630.8 51.5 L631.5 57.2 L632.2 51.6 L632.9 56.0 L633.6 56.3 L634.3 50.9 L635.0 63.2 L635.7 58.7 L636.4 56.0 L637.1 63.2 L637.8 70.9 L638.5 69.6 L639.2 71.3 L639.9 73.3 L640.6 64.9 L641.3 77.6 L642.0 79.8 L642.7 74.6 L643.4 74.3 L644.1 76.5 L644.8 69.7 L645.5 78.1 L646.2 88.1 L646.9 77.2 L647.6 84.2 L648.3 88.8 L649.0 89.1 L649.7 75.5 L650.4 80.7 L651.1 86.9 L651.8 89.6 L652.5 83.8 L653.2 93.2 L653.9 92.3 L654.6 83.9 L655.3 88.5 L656.0 97.5 L656.7 95.8 L657.4 104.9 L658.1 100.3 L658.8 99.5 L659.5 104.3 L660.2 97.4 L660.9 110.5 L661.6 110.8 L662.3 112.0 L663.0 113.5 L663.7 117.4 L664.4 109.6 L665.1 120.4 L665.8 123.7 L666.5 119.8 L667.2 122.4 L667.9 127.5 L668.6 117.9" fill="none" stroke="#ff0000" stroke-width="1.15" stroke-linejoin="round"/>
<path d="M397.9 185.0 L398.4 183.8 L398.9 181.9 L399.4 179.5 L399.9 177.3 L400.4 176.1 L400.9 173.4 L401.4 171.7 L401.9 172.9 L402.4 173.5 L402.9 173.6 L403.4 171.7 L403.9 169.3 L404.4 167.7 L404.9 164.1 L405.4 165.7 L405.9 165.2 L406.4 165.0 L406.9 165.9 L407.4 165.9 L407.9 166.1 L408.4 164.8 L408.9 164.5 L409.4 166.0 L409.9 164.0 L410.4 164.5 L410.9 168.1 L411.4 168.0 L411.9 162.6 L412.4 164.1 L412.9 167.1 L413.4 168.5 L413.9 169.6 L414.4 167.4 L414.9 168.1 L415.4 169.5 L415.9 173.5 L416.4 175.6 L416.9 178.6 L417.4 184.0 L417.9 184.8 L418.4 186.2 L418.9 189.2 L419.4 191.9 L419.9 195.3 L420.4 197.2 L420.9 202.6 L421.4 205.2 L421.9 206.4 L422.4 205.2 L422.9 202.0 L423.4 201.5 L423.9 197.4 L424.4 195.3 L424.9 195.7 L425.4 197.0 L425.9 196.6 L426.4 194.6 L426.9 194.0 L427.4 192.0 L427.9 188.5 L428.4 188.5 L428.9 189.1 L429.4 186.0 L429.9 185.4 L430.4 183.0 L430.9 182.1 L431.4 181.9 L431.9 179.4 L432.4 176.8 L432.9 174.8 L433.4 176.8 L433.9 173.5 L434.4 172.7 L434.9 171.4 L435.4 170.7 L435.9 171.5 L436.4 170.2 L436.9 171.8 L437.4 171.0 L437.9 166.0 L438.4 165.4 L438.9 166.6 L439.4 167.7 L439.9 164.5 L440.4 164.2 L440.9 162.4 L441.4 161.7 L441.9 161.2 L442.4 160.5 L442.9 159.6 L443.4 159.1 L443.9 160.7 L444.4 163.7 L444.9 165.5 L445.4 166.3 L445.9 167.2 L446.4 167.3 L446.9 169.4 L447.4 171.5 L447.9 168.7 L448.4 171.1 L448.9 170.8 L449.4 170.6 L449.9 169.6 L450.4 169.2 L450.9 169.2 L451.4 169.8 L451.9 165.5 L452.4 165.6 L452.9 168.3 L453.4 164.3 L453.9 164.3 L454.4 166.2 L454.9 168.6 L455.4 170.7 L455.9 172.8 L456.4 175.6 L456.9 176.4 L457.4 174.7 L457.9 177.5 L458.4 177.6 L458.9 178.9 L459.4 179.7 L459.9 183.5 L460.4 179.6 L460.9 179.5 L461.4 179.9 L461.9 177.8 L462.4 176.8 L462.9 176.8 L463.4 176.9 L463.9 178.3 L464.4 178.2 L464.9 177.3 L465.4 175.1 L465.9 176.0 L466.4 176.8 L466.9 176.2 L467.4 176.1 L467.9 176.2 L468.4 172.1 L468.9 174.6 L469.4 173.2 L469.9 170.0 L470.4 170.4 L470.9 170.1 L471.4 169.5 L471.9 170.1 L472.4 172.5 L472.9 174.4 L473.4 178.6 L473.9 178.6 L474.4 183.8 L474.9 188.7 L475.4 190.0 L475.9 193.9 L476.4 196.2 L476.9 198.0 L477.4 197.6 L477.9 198.3 L478.4 196.6 L478.9 196.6 L479.4 195.6 L479.9 194.0 L480.4 189.0 L480.9 189.0 L481.4 189.3 L481.9 189.1 L482.4 187.8 L482.9 183.9 L483.4 183.8 L483.9 182.4 L484.4 182.0 L484.9 182.5 L485.4 186.4 L485.9 182.9 L486.4 181.0 L486.9 181.0 L487.4 179.5 L487.9 178.9 L488.4 182.6 L488.9 181.8 L489.4 180.5 L489.9 180.5 L490.4 181.8 L490.9 182.7 L491.4 180.8 L491.9 183.2 L492.4 185.5 L492.9 190.1 L493.4 189.6 L493.9 192.7 L494.4 196.6 L494.9 193.4 L495.4 191.7 L495.9 191.6 L496.4 187.6 L496.9 185.6 L497.4 185.1 L497.9 186.3 L498.4 179.4 L498.9 177.1 L499.4 174.9 L499.9 173.4 L500.4 172.9 L500.9 169.2 L501.4 165.3 L501.9 167.3 L502.4 164.8 L502.9 159.0 L503.4 155.8 L503.9 154.4 L504.4 151.4 L504.9 150.2 L505.4 148.4 L505.9 147.3 L506.4 145.9 L506.9 145.1 L507.4 142.6 L507.9 142.6 L508.4 142.4 L508.9 139.5 L509.4 138.7 L509.9 137.3 L510.4 137.3 L510.9 137.1 L511.4 138.3 L511.9 136.8 L512.4 135.6 L512.9 135.5 L513.4 136.6 L513.9 134.7 L514.4 130.8 L514.9 128.8 L515.4 131.7 L515.9 128.6 L516.4 127.1 L516.9 124.8 L517.4 121.6 L517.9 121.1 L518.4 119.7 L518.9 119.6 L519.4 118.2 L519.9 117.7 L520.4 115.7 L520.9 113.9 L521.4 111.7 L521.9 111.7 L522.4 114.9 L522.9 112.4 L523.4 112.9 L523.9 112.2 L524.4 113.1 L524.9 117.1 L525.4 116.6 L525.9 118.8 L526.4 122.2 L526.9 122.6 L527.4 124.4 L527.9 123.5 L528.4 123.3 L528.9 125.2 L529.4 122.4 L529.9 122.2 L530.4 125.0 L530.9 126.5 L531.4 129.4 L531.9 126.1 L532.4 125.6 L532.9 121.9 L533.4 120.4 L533.9 120.8 L534.4 119.0 L534.9 118.6 L535.4 122.3 L535.9 121.6 L536.4 121.3 L536.9 125.6 L537.4 127.1 L537.9 123.4 L538.4 123.4 L538.9 125.2 L539.4 122.6 L539.9 119.2 L540.4 119.5 L540.9 118.6 L541.4 114.4 L541.9 113.4 L542.4 112.4 L542.9 110.0 L543.4 107.8 L543.9 105.7 L544.4 105.2 L544.9 104.3 L545.4 101.7 L545.9 98.9 L546.4 100.3 L546.9 101.2 L547.4 99.6 L547.9 96.6 L548.4 92.4 L548.9 91.3 L549.4 87.4 L549.9 82.1 L550.4 82.1 L550.9 85.3 L551.4 86.1 L551.9 86.2 L552.4 89.5 L552.9 93.2 L553.4 93.3 L553.9 92.1 L554.4 90.9 L554.9 88.8 L555.4 89.6 L555.9 88.8 L556.4 89.3 L556.9 87.6 L557.4 87.7 L557.9 86.4 L558.4 84.5 L558.9 80.4 L559.4 76.3 L559.9 73.6 L560.4 72.7 L560.9 74.5 L561.4 75.4 L561.9 75.5 L562.4 75.8 L562.9 76.0 L563.4 74.4 L563.9 79.1 L564.4 78.0 L564.9 76.9 L565.4 78.0 L565.9 79.0 L566.4 79.0 L566.9 76.6 L567.4 75.1 L567.9 74.5 L568.4 72.8 L568.9 70.7 L569.4 66.9 L569.9 68.0 L570.4 66.3 L570.9 65.2 L571.4 66.7 L571.9 66.2 L572.4 65.4 L572.9 64.9 L573.4 63.6 L573.9 62.0 L574.4 59.3 L574.9 59.9 L575.4 58.5 L575.9 57.7 L576.4 57.4 L576.9 58.3 L577.4 55.6 L577.9 57.1 L578.4 58.7 L578.9 58.2 L579.4 61.3 L579.9 60.4 L580.4 60.4 L580.9 61.7 L581.4 63.5 L581.9 67.1 L582.4 65.8 L582.9 65.2 L583.4 67.4 L583.9 69.6 L584.4 69.6 L584.9 66.6 L585.4 66.6 L585.9 65.9 L586.4 65.6 L586.9 61.5 L587.4 61.3 L587.9 66.1 L588.4 67.0 L588.9 67.5 L589.4 70.4 L589.9 71.9 L590.4 76.2 L590.9 79.5 L591.4 81.2 L591.9 79.7 L592.4 78.0 L592.9 76.5 L593.4 75.1 L593.9 72.9 L594.4 71.9 L594.9 71.5 L595.4 68.0 L595.9 65.9 L596.4 64.1 L596.9 63.6 L597.4 62.4 L597.9 60.4 L598.4 60.0 L598.9 61.9 L599.4 62.8 L599.9 63.6 L600.4 61.5 L600.9 64.0 L601.4 66.4 L601.9 66.9 L602.4 69.0 L602.9 69.7 L603.4 71.2 L603.9 70.5 L604.4 72.7 L604.9 71.4 L605.4 69.6 L605.9 69.6 L606.4 68.2 L606.9 69.4 L607.4 71.1 L607.9 68.7 L608.4 67.6 L608.9 67.5 L609.4 66.4 L609.9 64.0 L610.4 65.5 L610.9 65.2 L611.4 63.7 L611.9 63.0 L612.4 60.4 L612.9 62.9 L613.4 61.5 L613.9 60.5 L614.4 59.3 L614.9 56.7 L615.4 55.8 L615.9 55.2 L616.4 56.2 L616.9 56.3 L617.4 56.2 L617.9 55.1 L618.4 53.2 L618.9 53.9 L619.4 56.8 L619.9 55.4 L620.4 54.4 L620.9 51.7 L621.4 50.4 L621.9 51.8 L622.4 54.7 L622.9 57.1 L623.4 57.3 L623.9 54.3 L624.4 55.7 L624.9 58.2 L625.4 58.8 L625.9 65.0 L626.4 64.5 L626.9 65.2 L627.4 64.2 L627.9 65.3 L628.4 66.8 L628.9 69.0 L629.4 71.8 L629.9 72.3 L630.4 73.0 L630.9 73.9 L631.4 77.6 L631.9 76.3 L632.4 76.2 L632.9 75.8 L633.4 74.9 L633.9 78.3 L634.4 80.2 L634.9 79.9 L635.4 80.7 L635.9 77.7 L636.4 73.8 L636.9 75.2 L637.4 73.9 L637.9 70.6 L638.4 68.1 L638.9 68.5 L639.4 67.3 L639.9 66.2 L640.4 66.3 L640.9 63.9 L641.4 63.7 L641.9 64.2 L642.4 64.1 L642.9 65.5 L643.4 63.2 L643.9 61.6 L644.4 59.4 L644.9 59.5 L645.4 59.5 L645.9 62.8 L646.4 60.3 L646.9 58.5 L647.4 54.4 L647.9 53.7 L648.4 55.1 L648.9 54.7 L649.4 53.8 L649.9 51.7 L650.4 53.0 L650.9 55.9 L651.4 54.5 L651.9 54.8 L652.4 57.5 L652.9 58.6 L653.4 55.8 L653.9 54.5 L654.4 54.1 L654.9 51.4 L655.4 50.5 L655.9 50.9 L656.4 49.6 L656.9 49.6 L657.4 52.6 L657.9 53.4 L658.4 54.0 L658.9 57.5 L659.4 61.7 L659.9 62.8 L660.4 66.6 L660.9 71.1 L661.4 72.1 L661.9 75.7 L662.4 78.1 L662.9 81.4 L663.4 82.2 L663.9 81.7 L664.4 85.8 L664.9 86.5 L665.4 85.0 L665.9 84.6 L666.4 84.6 L666.9 88.1 L667.4 91.5 L667.9 89.4 L668.4 85.1 L668.9 84.9 L669.3 85.5 L669.3 89.0 L668.9 86.9 L668.4 89.4 L667.9 92.9 L667.4 94.3 L666.9 93.3 L666.4 89.9 L665.9 86.6 L665.4 87.1 L664.9 89.7 L664.4 88.2 L663.9 87.4 L663.4 84.7 L662.9 83.1 L662.4 82.4 L661.9 79.5 L661.4 77.0 L660.9 74.4 L660.4 71.1 L659.9 66.6 L659.4 63.7 L658.9 62.8 L658.4 57.5 L657.9 55.4 L657.4 55.5 L656.9 52.7 L656.4 54.2 L655.9 54.2 L655.4 52.8 L654.9 54.4 L654.4 57.0 L653.9 56.8 L653.4 59.6 L652.9 60.9 L652.4 59.6 L651.9 59.2 L651.4 58.7 L650.9 58.7 L650.4 57.3 L649.9 54.5 L649.4 56.4 L648.9 56.7 L648.4 57.2 L647.9 56.2 L647.4 58.5 L646.9 61.1 L646.4 62.8 L645.9 65.4 L645.4 65.0 L644.9 62.1 L644.4 63.9 L643.9 63.3 L643.4 66.9 L642.9 68.0 L642.4 67.9 L641.9 67.1 L641.4 66.4 L640.9 68.8 L640.4 68.8 L639.9 67.9 L639.4 74.0 L638.9 73.1 L638.4 70.7 L637.9 75.2 L637.4 75.8 L636.9 77.7 L636.4 78.1 L635.9 81.5 L635.4 82.9 L634.9 83.5 L634.4 82.4 L633.9 81.4 L633.4 80.1 L632.9 77.8 L632.4 78.5 L631.9 79.3 L631.4 79.3 L630.9 79.6 L630.4 74.3 L629.9 74.0 L629.4 73.7 L628.9 72.7 L628.4 69.1 L627.9 67.8 L627.4 67.0 L626.9 69.4 L626.4 66.1 L625.9 67.0 L625.4 65.0 L624.9 59.7 L624.4 59.8 L623.9 57.6 L623.4 60.5 L622.9 59.0 L622.4 57.9 L621.9 57.1 L621.4 51.9 L620.9 56.8 L620.4 56.8 L619.9 58.2 L619.4 58.8 L618.9 57.2 L618.4 55.7 L617.9 56.9 L617.4 58.4 L616.9 59.2 L616.4 60.2 L615.9 57.8 L615.4 59.4 L614.9 59.6 L614.4 63.0 L613.9 61.9 L613.4 63.9 L612.9 65.0 L612.4 63.0 L611.9 65.2 L611.4 67.3 L610.9 69.3 L610.4 68.3 L609.9 68.0 L609.4 68.6 L608.9 71.3 L608.4 71.3 L607.9 71.1 L607.4 73.0 L606.9 71.4 L606.4 69.7 L605.9 72.0 L605.4 72.2 L604.9 73.2 L604.4 74.4 L603.9 73.8 L603.4 74.7 L602.9 71.9 L602.4 71.2 L601.9 70.3 L601.4 67.6 L600.9 67.0 L600.4 66.4 L599.9 66.1 L599.4 64.5 L598.9 64.1 L598.4 63.9 L597.9 63.9 L597.4 65.0 L596.9 66.1 L596.4 66.8 L595.9 70.3 L595.4 72.2 L594.9 73.7 L594.4 74.3 L593.9 75.8 L593.4 76.9 L592.9 79.0 L592.4 80.1 L591.9 81.6 L591.4 83.8 L590.9 83.5 L590.4 80.4 L589.9 77.2 L589.4 72.4 L588.9 72.1 L588.4 69.9 L587.9 68.6 L587.4 66.1 L586.9 65.6 L586.4 69.2 L585.9 69.7 L585.4 70.9 L584.9 70.7 L584.4 70.6 L583.9 73.6 L583.4 72.9 L582.9 68.0 L582.4 69.5 L581.9 69.2 L581.4 68.3 L580.9 64.8 L580.4 65.7 L579.9 63.5 L579.4 64.4 L578.9 61.9 L578.4 61.2 L577.9 61.4 L577.4 60.1 L576.9 59.8 L576.4 59.1 L575.9 60.1 L575.4 62.4 L574.9 62.4 L574.4 62.6 L573.9 64.8 L573.4 67.7 L572.9 67.7 L572.4 67.7 L571.9 69.4 L571.4 69.8 L570.9 69.1 L570.4 70.4 L569.9 71.4 L569.4 70.7 L568.9 74.3 L568.4 79.0 L567.9 78.1 L567.4 78.1 L566.9 79.2 L566.4 82.2 L565.9 80.6 L565.4 79.7 L564.9 78.4 L564.4 80.7 L563.9 80.8 L563.4 80.1 L562.9 77.2 L562.4 77.6 L561.9 78.0 L561.4 78.0 L560.9 77.5 L560.4 75.0 L559.9 77.0 L559.4 81.2 L558.9 84.6 L558.4 88.5 L557.9 89.7 L557.4 90.7 L556.9 91.3 L556.4 92.4 L555.9 91.2 L555.4 92.9 L554.9 92.4 L554.4 92.6 L553.9 95.7 L553.4 95.0 L552.9 96.3 L552.4 94.9 L551.9 90.2 L551.4 87.6 L550.9 88.5 L550.4 86.1 L549.9 87.4 L549.4 92.5 L548.9 93.5 L548.4 98.0 L547.9 100.7 L547.4 104.5 L546.9 104.5 L546.4 103.4 L545.9 101.7 L545.4 104.4 L544.9 107.8 L544.4 108.9 L543.9 110.4 L543.4 110.8 L542.9 114.4 L542.4 115.7 L541.9 115.7 L541.4 118.9 L540.9 121.2 L540.4 120.9 L539.9 124.3 L539.4 127.2 L538.9 127.4 L538.4 126.2 L537.9 128.5 L537.4 128.6 L536.9 128.3 L536.4 125.6 L535.9 124.4 L535.4 123.8 L534.9 124.5 L534.4 123.0 L533.9 123.5 L533.4 123.0 L532.9 125.7 L532.4 126.9 L531.9 129.5 L531.4 131.1 L530.9 130.7 L530.4 126.5 L529.9 125.4 L529.4 126.6 L528.9 126.8 L528.4 126.7 L527.9 125.1 L527.4 125.8 L526.9 125.7 L526.4 124.4 L525.9 123.3 L525.4 119.2 L524.9 118.8 L524.4 118.1 L523.9 115.1 L523.4 115.5 L522.9 118.4 L522.4 117.9 L521.9 114.9 L521.4 115.1 L520.9 117.8 L520.4 119.6 L519.9 119.6 L519.4 122.3 L518.9 122.4 L518.4 122.0 L517.9 124.1 L517.4 124.9 L516.9 128.1 L516.4 130.6 L515.9 134.8 L515.4 134.0 L514.9 131.9 L514.4 134.8 L513.9 138.0 L513.4 139.1 L512.9 137.1 L512.4 138.3 L511.9 139.0 L511.4 141.9 L510.9 141.0 L510.4 141.2 L509.9 141.6 L509.4 141.6 L508.9 144.8 L508.4 145.3 L507.9 145.1 L507.4 145.2 L506.9 147.3 L506.4 148.1 L505.9 149.4 L505.4 150.7 L504.9 151.5 L504.4 155.4 L503.9 157.2 L503.4 159.2 L502.9 165.7 L502.4 168.3 L501.9 168.9 L501.4 169.5 L500.9 172.9 L500.4 175.3 L499.9 177.2 L499.4 178.0 L498.9 179.4 L498.4 186.5 L497.9 189.6 L497.4 187.3 L496.9 187.6 L496.4 192.3 L495.9 193.3 L495.4 194.5 L494.9 197.2 L494.4 197.9 L493.9 198.6 L493.4 193.7 L492.9 191.5 L492.4 190.1 L491.9 185.5 L491.4 184.4 L490.9 185.0 L490.4 183.6 L489.9 182.3 L489.4 182.0 L488.9 185.5 L488.4 185.5 L487.9 186.2 L487.4 183.2 L486.9 183.6 L486.4 183.4 L485.9 187.9 L485.4 187.8 L484.9 186.4 L484.4 183.6 L483.9 186.9 L483.4 186.3 L482.9 187.9 L482.4 190.6 L481.9 190.9 L481.4 191.2 L480.9 190.8 L480.4 194.0 L479.9 196.6 L479.4 197.1 L478.9 198.6 L478.4 199.4 L477.9 201.5 L477.4 202.1 L476.9 200.4 L476.4 200.0 L475.9 197.4 L475.4 196.9 L474.9 190.6 L474.4 188.8 L473.9 183.9 L473.4 181.9 L472.9 181.5 L472.4 174.4 L471.9 175.1 L471.4 171.3 L470.9 171.6 L470.4 172.6 L469.9 173.2 L469.4 175.1 L468.9 177.3 L468.4 176.2 L467.9 179.2 L467.4 177.4 L466.9 179.8 L466.4 179.1 L465.9 179.9 L465.4 178.6 L464.9 179.2 L464.4 179.9 L463.9 181.6 L463.4 181.4 L462.9 178.6 L462.4 178.8 L461.9 180.9 L461.4 183.0 L460.9 182.0 L460.4 185.1 L459.9 185.5 L459.4 183.5 L458.9 181.8 L458.4 179.4 L457.9 179.4 L457.4 178.5 L456.9 179.9 L456.4 178.4 L455.9 176.3 L455.4 173.0 L454.9 171.7 L454.4 169.0 L453.9 166.2 L453.4 169.8 L452.9 170.8 L452.4 170.0 L451.9 170.3 L451.4 172.4 L450.9 174.6 L450.4 172.1 L449.9 174.3 L449.4 174.3 L448.9 172.9 L448.4 172.9 L447.9 172.4 L447.4 173.3 L446.9 173.9 L446.4 170.7 L445.9 169.0 L445.4 169.5 L444.9 167.3 L444.4 167.2 L443.9 164.7 L443.4 161.4 L442.9 162.5 L442.4 162.9 L441.9 163.5 L441.4 164.4 L440.9 165.3 L440.4 165.9 L439.9 170.3 L439.4 170.4 L438.9 168.2 L438.4 168.0 L437.9 171.3 L437.4 174.3 L436.9 174.2 L436.4 173.3 L435.9 174.6 L435.4 173.8 L434.9 175.9 L434.4 175.8 L433.9 178.2 L433.4 178.9 L432.9 176.8 L432.4 180.5 L431.9 181.9 L431.4 185.1 L430.9 185.1 L430.4 189.1 L429.9 188.4 L429.4 189.9 L428.9 192.0 L428.4 191.4 L427.9 193.6 L427.4 194.4 L426.9 197.1 L426.4 197.6 L425.9 198.3 L425.4 199.1 L424.9 199.2 L424.4 200.3 L423.9 202.1 L423.4 203.4 L422.9 205.2 L422.4 208.8 L421.9 208.3 L421.4 208.3 L420.9 206.3 L420.4 204.2 L419.9 199.0 L419.4 197.8 L418.9 191.9 L418.4 190.4 L417.9 187.0 L417.4 186.7 L416.9 184.1 L416.4 178.8 L415.9 177.5 L415.4 173.5 L414.9 170.0 L414.4 170.4 L413.9 171.8 L413.4 170.6 L412.9 168.7 L412.4 167.1 L411.9 168.0 L411.4 169.9 L410.9 169.5 L410.4 169.6 L409.9 170.3 L409.4 170.3 L408.9 166.3 L408.4 166.6 L407.9 168.7 L407.4 169.4 L406.9 168.6 L406.4 167.6 L405.9 167.4 L405.4 167.6 L404.9 167.7 L404.4 169.7 L403.9 172.6 L403.4 173.6 L402.9 176.4 L402.4 175.6 L401.9 175.1 L401.4 173.4 L400.9 177.9 L400.4 177.6 L399.9 180.0 L399.4 181.9 L398.9 184.4 L398.4 185.0 L397.9 186.1Z" fill="#008000" stroke="#008000" stroke-width="1.20" stroke-linejoin="round"/>
<path d="M397.7 185.7 L398.4 186.1 L399.1 182.4 L399.8 181.4 L400.5 175.5 L401.2 177.8 L401.9 176.8 L402.6 176.2 L403.3 167.3 L404.0 162.2 L404.7 171.7 L405.4 165.5 L406.1 170.4 L406.8 164.6 L407.5 166.5 L408.2 167.0 L408.9 165.8 L409.6 170.6 L410.3 166.4 L411.0 165.7 L411.7 160.4 L412.4 168.6 L413.1 167.9 L413.8 174.3 L414.5 169.8 L415.2 164.7 L415.9 182.3 L416.6 182.0 L417.3 185.4 L418.0 191.1 L418.7 190.7 L419.4 201.7 L420.1 199.4 L420.8 198.9 L421.5 205.9 L422.2 213.8 L422.9 210.4 L423.6 193.0 L424.3 190.9 L425.0 197.9 L425.7 198.5 L426.4 195.1 L427.1 200.0 L427.8 189.2 L428.5 192.9 L429.2 188.7 L429.9 186.7 L430.6 190.3 L431.3 186.5 L432.0 183.1 L432.7 173.9 L433.4 184.7 L434.1 173.1 L434.8 167.3 L435.5 168.7 L436.2 169.7 L436.9 177.7 L437.6 175.5 L438.3 167.4 L439.0 167.1 L439.7 164.8 L440.4 162.4 L441.1 167.0 L441.8 165.0 L442.5 163.2 L443.2 159.0 L443.9 161.9 L444.6 166.9 L445.3 164.5 L446.0 175.8 L446.7 174.9 L447.4 175.4 L448.1 176.4 L448.8 165.0 L449.5 172.2 L450.2 167.5 L450.9 173.1 L451.6 174.7 L452.3 161.0 L453.0 171.8 L453.7 166.6 L454.4 164.8 L455.1 172.3 L455.8 175.3 L456.5 177.9 L457.2 169.8 L457.9 179.2 L458.6 187.2 L459.3 176.5 L460.0 178.0 L460.7 176.9 L461.4 180.4 L462.1 175.5 L462.8 172.9 L463.5 178.4 L464.2 177.5 L464.9 174.0 L465.6 173.2 L466.3 179.8 L467.0 171.3 L467.7 179.5 L468.4 167.3 L469.1 167.3 L469.8 170.3 L470.5 169.6 L471.2 173.1 L471.9 179.4 L472.6 184.8 L473.3 182.5 L474.0 182.3 L474.7 184.6 L475.4 188.5 L476.1 203.6 L476.8 206.0 L477.5 195.1 L478.2 191.2 L478.9 194.1 L479.6 188.5 L480.3 188.8 L481.0 191.2 L481.7 188.9 L482.4 192.6 L483.1 187.3 L483.8 179.4 L484.5 184.8 L485.2 187.4 L485.9 184.5 L486.6 178.8 L487.3 183.4 L488.0 186.7 L488.7 190.0 L489.4 188.0 L490.1 183.4 L490.8 185.3 L491.5 186.2 L492.2 188.2 L492.9 191.5 L493.6 201.8 L494.3 190.5 L495.0 199.9 L495.7 199.3 L496.4 192.1 L497.1 193.0 L497.8 190.6 L498.5 182.9 L499.2 179.0 L499.9 178.4 L500.6 165.9 L501.3 166.7 L502.0 159.8 L502.7 166.2 L503.4 152.7 L504.1 152.4 L504.8 151.8 L505.5 155.2 L506.2 145.7 L506.9 142.4 L507.6 148.5 L508.3 145.9 L509.0 133.3 L509.7 139.3 L510.4 138.3 L511.1 133.2 L511.8 131.1 L512.5 136.9 L513.2 131.1 L513.9 137.5 L514.6 131.5 L515.3 129.0 L516.0 127.3 L516.7 130.4 L517.4 118.1 L518.1 121.7 L518.8 117.0 L519.5 117.3 L520.2 114.5 L520.9 115.1 L521.6 118.2 L522.3 122.5 L523.0 117.1 L523.7 111.0 L524.4 108.8 L525.1 115.3 L525.8 120.7 L526.5 123.8 L527.2 126.7 L527.9 122.1 L528.6 121.8 L529.3 129.3 L530.0 125.5 L530.7 123.1 L531.4 128.6 L532.1 125.7 L532.8 122.6 L533.5 116.7 L534.2 122.7 L534.9 128.3 L535.6 128.5 L536.3 116.6 L537.0 125.2 L537.7 121.8 L538.4 128.3 L539.1 128.0 L539.8 118.5 L540.5 113.9 L541.2 120.4 L541.9 120.0 L542.6 110.1 L543.3 105.4 L544.0 112.4 L544.7 111.4 L545.4 107.1 L546.1 100.8 L546.8 104.2 L547.5 98.0 L548.2 96.6 L548.9 97.5 L549.6 86.9 L550.3 90.9 L551.0 88.5 L551.7 88.3 L552.4 99.1 L553.1 98.9 L553.8 92.6 L554.5 94.7 L555.2 93.5 L555.9 83.2 L556.6 88.0 L557.3 86.2 L558.0 88.3 L558.7 88.8 L559.4 77.6 L560.1 68.0 L560.8 74.1 L561.5 78.2 L562.2 82.3 L562.9 78.6 L563.6 82.9 L564.3 77.5 L565.0 74.6 L565.7 86.6 L566.4 87.4 L567.1 75.3 L567.8 72.3 L568.5 76.6 L569.2 68.9 L569.9 63.6 L570.6 66.2 L571.3 63.0 L572.0 60.5 L572.7 70.0 L573.4 68.7 L574.1 55.4 L574.8 54.3 L575.5 64.0 L576.2 60.4 L576.9 54.7 L577.6 64.6 L578.3 61.2 L579.0 63.8 L579.7 68.7 L580.4 69.2 L581.1 64.9 L581.8 69.7 L582.5 66.2 L583.2 67.7 L583.9 74.8 L584.6 75.5 L585.3 75.6 L586.0 65.2 L586.7 60.8 L587.4 60.6 L588.1 65.8 L588.8 69.1 L589.5 77.6 L590.2 81.5 L590.9 81.9 L591.6 84.2 L592.3 85.9 L593.0 72.7 L593.7 68.6 L594.4 69.3 L595.1 74.7 L595.8 69.6 L596.5 63.7 L597.2 56.8 L597.9 61.2 L598.6 57.6 L599.3 60.6 L600.0 70.8 L600.7 67.5 L601.4 69.2 L602.1 75.9 L602.8 69.9 L603.5 70.2 L604.2 75.4 L604.9 70.9 L605.6 68.3 L606.3 65.2 L607.0 73.3 L607.7 72.3 L608.4 62.6 L609.1 72.3 L609.8 67.6 L610.5 65.5 L611.2 72.3 L611.9 65.9 L612.6 70.8 L613.3 56.3 L614.0 61.5 L614.7 59.1 L615.4 55.8 L616.1 55.8 L616.8 50.9 L617.5 56.7 L618.2 52.1 L618.9 56.5 L619.6 53.0 L620.3 58.0 L621.0 54.9 L621.7 47.6 L622.4 60.4 L623.1 59.6 L623.8 51.6 L624.5 62.0 L625.2 60.5 L625.9 65.9 L626.6 71.7 L627.3 66.6 L628.0 68.6 L628.7 71.7 L629.4 75.5 L630.1 79.2 L630.8 76.8 L631.5 78.7 L632.2 79.5 L632.9 80.2 L633.6 76.6 L634.3 81.9 L635.0 79.8 L635.7 80.0 L636.4 82.7 L637.1 68.4 L637.8 79.5 L638.5 64.8 L639.2 67.9 L639.9 68.7 L640.6 61.5 L641.3 60.5 L642.0 67.1 L642.7 70.8 L643.4 63.3 L644.1 59.7 L644.8 56.4 L645.5 61.1 L646.2 59.0 L646.9 66.6 L647.6 54.8 L648.3 53.8 L649.0 48.5 L649.7 55.2 L650.4 55.9 L651.1 59.6 L651.8 53.7 L652.5 59.2 L653.2 59.0 L653.9 62.2 L654.6 59.7 L655.3 53.9 L656.0 47.5 L656.7 50.8 L657.4 60.8 L658.1 48.9 L658.8 59.1 L659.5 66.2 L660.2 66.9 L660.9 67.9 L661.6 76.3 L662.3 74.8 L663.0 79.9 L663.7 82.0 L664.4 84.8 L665.1 85.8 L665.8 84.9 L666.5 97.5 L667.2 94.7 L667.9 88.7 L668.6 88.5" fill="none" stroke="#008000" stroke-width="1.15" stroke-linejoin="round"/>
<rect x="384.20" y="22.00" width="297.40" height="197.30" fill="none" stroke="#262626" stroke-width="0.8"/>
<text x="397.70" y="232.49" font-size="9.39" text-anchor="middle" textLength="5.75" lengthAdjust="spacingAndGlyphs" >0</text>
<text x="451.88" y="232.49" font-size="9.39" text-anchor="middle" textLength="11.49" lengthAdjust="spacingAndGlyphs" >20</text>
<text x="506.06" y="232.49" font-size="9.39" text-anchor="middle" textLength="11.49" lengthAdjust="spacingAndGlyphs" >40</text>
<text x="560.24" y="232.49" font-size="9.39" text-anchor="middle" textLength="11.49" lengthAdjust="spacingAndGlyphs" >60</text>
<text x="614.42" y="232.49" font-size="9.39" text-anchor="middle" textLength="11.49" lengthAdjust="spacingAndGlyphs" >80</text>
<text x="668.60" y="232.49" font-size="9.39" text-anchor="middle" textLength="17.24" lengthAdjust="spacingAndGlyphs" >100</text>
<text x="377.80" y="219.40" font-size="9.39" text-anchor="end" textLength="14.37" lengthAdjust="spacingAndGlyphs" >0.0</text>
<text x="377.80" y="184.18" font-size="9.39" text-anchor="end" textLength="14.37" lengthAdjust="spacingAndGlyphs" >0.2</text>
<text x="377.80" y="148.96" font-size="9.39" text-anchor="end" textLength="14.37" lengthAdjust="spacingAndGlyphs" >0.4</text>
<text x="377.80" y="113.74" font-size="9.39" text-anchor="end" textLength="14.37" lengthAdjust="spacingAndGlyphs" >0.6</text>
<text x="377.80" y="78.52" font-size="9.39" text-anchor="end" textLength="14.37" lengthAdjust="spacingAndGlyphs" >0.8</text>
<text x="377.80" y="43.30" font-size="9.39" text-anchor="end" textLength="14.37" lengthAdjust="spacingAndGlyphs" >1.0</text>
<path d="M397.70 219.30v2.90M451.88 219.30v2.90M506.06 219.30v2.90M560.24 219.30v2.90M614.42 219.30v2.90M668.60 219.30v2.90M384.20 216.30h-2.90M384.20 181.08h-2.90M384.20 145.86h-2.90M384.20 110.64h-2.90M384.20 75.42h-2.90M384.20 40.20h-2.90" stroke="#262626" stroke-width="0.8" fill="none"/>
<text x="532.90" y="16.50" font-size="11.38" text-anchor="middle" textLength="101.36" lengthAdjust="spacingAndGlyphs" >Comparison for Eh</text>
<text x="532.90" y="244.91" font-size="9.39" text-anchor="middle" textLength="22.11" lengthAdjust="spacingAndGlyphs" >Time</text>
<text x="0.00" y="0.00" font-size="9.39" text-anchor="middle" textLength="11.43" lengthAdjust="spacingAndGlyphs" transform="translate(358.70 120.65) rotate(-90)">Eh</text>
<rect x="387.90" y="26.20" width="91.90" height="41.70" rx="1.6" fill="#fff" fill-opacity="0.8" stroke="#cccccc" stroke-width="0.8"/>
<path d="M391.70 33.20H410.40" stroke="#0000ff" stroke-width="1.25" />
<text x="416.30" y="36.21" font-size="9.39" text-anchor="start" textLength="60.44" lengthAdjust="spacingAndGlyphs" >Deterministic</text>
<path d="M391.70 46.70H410.40" stroke="#ff0000" stroke-width="1.25" stroke-dasharray="4.62 2.00"/>
<text x="416.30" y="49.71" font-size="9.39" text-anchor="start" textLength="54.20" lengthAdjust="spacingAndGlyphs" >White Noise</text>
<path d="M391.70 59.90H410.40" stroke="#008000" stroke-width="1.25" stroke-dasharray="8.00 2.00 1.25 2.00"/>
<text x="416.30" y="62.91" font-size="9.39" text-anchor="start" textLength="49.05" lengthAdjust="spacingAndGlyphs" >Lévy Noise</text>
<text x="517.10" y="276.00" font-family="Liberation Serif, serif" font-size="16.5" text-anchor="middle" fill="#1a1a1a">(b)</text>
</g>
<g id="pc">
<path d="M47.46 417.44 C47.87 419.52 48.71 425.56 49.96 429.93 C51.20 434.29 53.28 440.66 54.95 443.65 C56.61 446.65 58.28 447.07 59.94 447.90 C61.60 448.73 63.27 448.81 64.93 448.65 C66.60 448.48 67.43 447.73 69.93 446.90 C72.42 446.07 76.58 444.61 79.91 443.65 C83.24 442.70 86.57 441.87 89.90 441.16 C93.22 440.45 96.55 439.95 99.88 439.41 C103.21 438.87 106.54 438.45 109.87 437.91 C113.19 437.37 116.52 436.96 119.85 436.17 C123.18 435.38 126.51 434.42 129.84 433.17 C133.16 431.92 136.49 430.13 139.82 428.68 C143.15 427.22 146.48 425.97 149.81 424.43 C153.13 422.89 156.46 421.11 159.79 419.44 C163.12 417.78 166.45 416.24 169.78 414.45 C173.10 412.66 173.48 412.47 179.76 408.71 C186.04 404.94 200.75 395.75 207.44 391.85 C214.14 387.96 215.76 387.28 219.93 385.36 C224.09 383.45 228.25 381.70 232.41 380.37 C236.57 379.04 240.73 378.21 244.89 377.38 C249.05 376.54 253.21 375.88 257.37 375.38 C261.53 374.88 265.69 374.55 269.85 374.38 C274.01 374.21 278.17 374.30 282.33 374.38 C286.49 374.46 290.65 374.63 294.81 374.88 C298.97 375.13 303.22 375.55 307.29 375.88 C311.37 376.21 317.28 376.71 319.28 376.88" fill="none" stroke="#0000ff" stroke-width="1.45" stroke-linejoin="round"/>
<path d="M47.7 417.4 L48.2 418.2 L48.7 420.7 L49.2 421.6 L49.7 422.9 L50.2 425.8 L50.7 427.3 L51.2 428.8 L51.7 429.5 L52.2 434.0 L52.7 435.2 L53.2 439.2 L53.7 440.1 L54.2 441.5 L54.7 444.2 L55.2 449.8 L55.7 450.5 L56.2 452.6 L56.7 454.0 L57.2 453.7 L57.7 453.6 L58.2 452.1 L58.7 450.3 L59.2 449.3 L59.7 449.3 L60.2 443.1 L60.7 440.8 L61.2 441.6 L61.7 440.0 L62.2 437.3 L62.7 435.9 L63.2 428.4 L63.7 427.3 L64.2 426.1 L64.7 421.6 L65.2 418.7 L65.7 417.0 L66.2 415.3 L66.7 414.3 L67.2 411.1 L67.7 410.6 L68.2 408.3 L68.7 408.3 L69.2 407.7 L69.7 405.3 L70.2 404.7 L70.7 408.9 L71.2 409.6 L71.7 409.3 L72.2 409.2 L72.7 410.1 L73.2 410.7 L73.7 411.7 L74.2 418.1 L74.7 420.4 L75.2 421.2 L75.7 421.2 L76.2 422.8 L76.7 426.5 L77.2 429.0 L77.7 425.7 L78.2 424.7 L78.7 424.1 L79.2 423.3 L79.7 420.3 L80.2 419.8 L80.7 421.0 L81.2 425.4 L81.7 427.3 L82.2 430.0 L82.7 432.0 L83.2 432.3 L83.7 430.4 L84.2 433.2 L84.7 435.8 L85.2 433.7 L85.7 431.8 L86.2 429.6 L86.7 429.7 L87.2 425.3 L87.7 427.1 L88.2 430.3 L88.7 431.8 L89.2 431.9 L89.7 433.4 L90.2 437.9 L90.7 438.3 L91.2 438.2 L91.7 438.0 L92.2 438.8 L92.7 443.0 L93.2 443.0 L93.7 444.6 L94.2 442.5 L94.7 443.1 L95.2 445.4 L95.7 444.6 L96.2 441.1 L96.7 440.0 L97.2 438.5 L97.7 440.6 L98.2 441.6 L98.7 440.4 L99.2 443.5 L99.7 446.7 L100.2 448.8 L100.7 450.5 L101.2 450.5 L101.7 451.1 L102.2 451.2 L102.7 455.5 L103.2 455.3 L103.7 456.3 L104.2 457.2 L104.7 453.7 L105.2 454.5 L105.7 457.9 L106.2 456.7 L106.7 455.4 L107.2 455.7 L107.7 452.0 L108.2 451.8 L108.7 448.8 L109.2 448.5 L109.7 444.7 L110.2 442.3 L110.7 440.8 L111.2 438.8 L111.7 438.8 L112.2 439.1 L112.7 437.0 L113.2 435.4 L113.7 438.1 L114.2 437.7 L114.7 437.7 L115.2 437.5 L115.7 432.0 L116.2 432.0 L116.7 432.7 L117.2 434.2 L117.7 436.1 L118.2 438.9 L118.7 441.3 L119.2 442.8 L119.7 441.8 L120.2 439.8 L120.7 442.6 L121.2 442.3 L121.7 447.0 L122.2 450.5 L122.7 450.7 L123.2 451.9 L123.7 452.4 L124.2 456.5 L124.7 458.6 L125.2 461.4 L125.7 461.1 L126.2 462.8 L126.7 465.4 L127.2 467.8 L127.7 471.6 L128.2 476.0 L128.7 475.1 L129.2 468.9 L129.7 465.8 L130.2 464.3 L130.7 464.3 L131.2 461.0 L131.7 459.6 L132.2 455.2 L132.7 453.0 L133.2 450.3 L133.7 447.5 L134.2 440.1 L134.7 437.2 L135.2 435.9 L135.7 431.4 L136.2 425.0 L136.7 419.7 L137.2 413.1 L137.7 413.8 L138.2 412.8 L138.7 413.0 L139.2 415.0 L139.7 414.1 L140.2 415.2 L140.7 412.7 L141.2 410.1 L141.7 407.4 L142.2 404.2 L142.7 400.9 L143.2 397.8 L143.7 395.7 L144.2 391.3 L144.7 386.0 L145.2 385.8 L145.7 386.8 L146.2 383.9 L146.7 383.6 L147.2 383.6 L147.7 378.8 L148.2 382.8 L148.7 385.0 L149.2 384.6 L149.7 387.1 L150.2 389.4 L150.7 391.5 L151.2 393.7 L151.7 394.1 L152.2 393.6 L152.7 394.7 L153.2 397.5 L153.7 400.2 L154.2 397.6 L154.7 398.4 L155.2 402.0 L155.7 403.0 L156.2 404.0 L156.7 404.8 L157.2 405.0 L157.7 402.1 L158.2 401.0 L158.7 402.0 L159.2 398.2 L159.7 394.3 L160.2 393.0 L160.7 394.1 L161.2 393.8 L161.7 392.2 L162.2 392.0 L162.7 389.7 L163.2 389.7 L163.7 389.1 L164.2 390.1 L164.7 388.9 L165.2 389.1 L165.7 391.8 L166.2 395.7 L166.7 400.0 L167.2 402.8 L167.7 402.8 L168.2 408.2 L168.7 410.9 L169.2 410.6 L169.7 416.9 L170.2 418.1 L170.7 419.7 L171.2 424.7 L171.7 430.5 L172.2 433.7 L172.7 436.8 L173.2 438.9 L173.7 444.1 L174.2 446.9 L174.7 451.6 L175.2 456.8 L175.7 456.8 L176.2 460.4 L176.7 465.1 L177.2 468.2 L177.7 469.5 L178.2 469.0 L178.7 470.0 L179.2 465.5 L179.7 464.7 L180.2 461.0 L180.7 459.3 L181.2 454.9 L181.7 451.0 L182.2 446.4 L182.7 444.4 L183.2 446.0 L183.7 442.8 L184.2 435.8 L184.7 434.7 L185.2 434.6 L185.7 431.9 L186.2 430.3 L186.7 426.1 L187.2 423.9 L187.7 423.7 L188.2 420.8 L188.7 421.3 L189.2 420.0 L189.7 416.9 L190.2 415.8 L190.7 418.9 L191.2 417.8 L191.7 419.6 L192.2 419.6 L192.7 417.2 L193.2 418.0 L193.7 419.2 L194.2 419.4 L194.7 422.3 L195.2 424.0 L195.7 424.0 L196.2 424.5 L196.7 422.9 L197.2 420.8 L197.7 417.6 L198.2 414.7 L198.7 414.6 L199.2 407.9 L199.7 403.5 L200.2 398.0 L200.7 392.5 L201.2 390.6 L201.7 390.5 L202.2 394.2 L202.7 393.7 L203.2 395.2 L203.7 393.1 L204.2 395.9 L204.7 397.3 L205.2 401.9 L205.7 403.5 L206.2 407.9 L206.7 409.6 L207.2 408.7 L207.7 409.4 L208.2 411.1 L208.7 411.4 L209.2 415.0 L209.7 414.6 L210.2 413.6 L210.7 412.7 L211.2 411.2 L211.7 411.7 L212.2 411.3 L212.7 409.7 L213.2 407.6 L213.7 405.5 L214.2 406.4 L214.7 405.9 L215.2 403.4 L215.7 401.5 L216.2 403.1 L216.7 403.5 L217.2 399.5 L217.7 401.3 L218.2 405.3 L218.7 404.9 L219.2 402.4 L219.7 403.4 L220.2 404.1 L220.7 403.0 L221.2 402.5 L221.7 404.2 L222.2 406.4 L222.7 407.6 L223.2 414.0 L223.7 411.0 L224.2 408.7 L224.7 399.4 L225.2 397.8 L225.7 395.8 L226.2 393.5 L226.7 395.7 L227.2 398.2 L227.7 405.8 L228.2 407.7 L228.7 410.6 L229.2 415.4 L229.7 416.7 L230.2 414.4 L230.7 411.0 L231.2 407.8 L231.7 405.4 L232.2 406.3 L232.7 401.6 L233.2 400.8 L233.7 391.3 L234.2 390.6 L234.7 388.5 L235.2 381.5 L235.7 380.7 L236.2 383.4 L236.7 383.5 L237.2 386.9 L237.7 390.8 L238.2 394.5 L238.7 392.8 L239.2 397.6 L239.7 400.2 L240.2 399.5 L240.7 400.4 L241.2 400.7 L241.7 396.3 L242.2 388.4 L242.7 384.5 L243.2 381.9 L243.7 379.9 L244.2 376.8 L244.7 372.7 L245.2 367.7 L245.7 364.3 L246.2 364.5 L246.7 367.4 L247.2 368.0 L247.7 373.2 L248.2 373.2 L248.7 372.1 L249.2 367.5 L249.7 367.0 L250.2 362.0 L250.7 358.7 L251.2 358.1 L251.7 353.3 L252.2 348.7 L252.7 345.1 L253.2 340.7 L253.7 334.8 L254.2 333.0 L254.7 329.5 L255.2 328.4 L255.7 326.7 L256.2 324.9 L256.7 320.9 L257.2 322.5 L257.7 328.5 L258.2 332.5 L258.7 338.2 L259.2 342.3 L259.7 345.1 L260.2 347.9 L260.7 348.8 L261.2 353.6 L261.7 356.5 L262.2 357.7 L262.7 363.2 L263.2 365.1 L263.7 364.7 L264.2 362.7 L264.7 358.6 L265.2 355.4 L265.7 351.4 L266.2 348.3 L266.7 346.8 L267.2 345.2 L267.7 342.1 L268.2 340.2 L268.7 339.2 L269.2 339.4 L269.7 338.3 L270.2 340.4 L270.7 340.6 L271.2 344.7 L271.7 344.2 L272.2 344.7 L272.7 348.0 L273.2 347.6 L273.7 347.8 L274.2 347.7 L274.7 344.8 L275.2 344.4 L275.7 343.2 L276.2 341.2 L276.7 341.5 L277.2 337.2 L277.7 336.5 L278.2 332.1 L278.7 330.1 L279.2 330.1 L279.7 326.2 L280.2 324.8 L280.7 323.8 L281.2 321.9 L281.7 322.2 L282.2 323.9 L282.7 325.1 L283.2 325.3 L283.7 326.8 L284.2 326.8 L284.7 328.1 L285.2 328.1 L285.7 331.6 L286.2 333.9 L286.7 335.6 L287.2 335.0 L287.7 339.2 L288.2 341.7 L288.7 341.1 L289.2 341.5 L289.7 341.2 L290.2 341.8 L290.7 342.7 L291.2 346.1 L291.7 346.2 L292.2 350.3 L292.7 354.6 L293.2 357.0 L293.7 359.1 L294.2 362.9 L294.7 366.2 L295.2 368.7 L295.7 369.7 L296.2 373.2 L296.7 371.3 L297.2 372.3 L297.7 374.1 L298.2 367.7 L298.7 367.7 L299.2 368.4 L299.7 368.3 L300.2 369.6 L300.7 369.6 L301.2 371.4 L301.7 369.9 L302.2 367.4 L302.7 365.9 L303.2 362.6 L303.7 361.9 L304.2 361.1 L304.7 359.7 L305.2 358.3 L305.7 356.0 L306.2 353.1 L306.7 351.3 L307.2 347.4 L307.7 346.5 L308.2 344.7 L308.7 343.9 L309.2 342.6 L309.7 342.6 L310.2 342.2 L310.7 339.7 L311.2 340.1 L311.7 342.6 L312.2 351.5 L312.7 354.0 L313.2 359.7 L313.7 364.4 L314.2 371.9 L314.7 379.7 L315.2 389.0 L315.7 395.7 L316.2 399.7 L316.7 405.2 L317.2 410.0 L317.7 412.9 L318.2 410.8 L318.7 411.0 L319.0 406.2 L319.0 411.5 L318.7 412.5 L318.2 413.8 L317.7 416.8 L317.2 417.2 L316.7 410.0 L316.2 405.7 L315.7 399.7 L315.2 395.7 L314.7 389.3 L314.2 379.7 L313.7 371.9 L313.2 364.4 L312.7 359.9 L312.2 355.5 L311.7 351.5 L311.2 342.6 L310.7 343.1 L310.2 347.0 L309.7 347.0 L309.2 346.4 L308.7 345.8 L308.2 347.3 L307.7 348.1 L307.2 352.0 L306.7 354.0 L306.2 356.0 L305.7 360.9 L305.2 360.9 L304.7 361.7 L304.2 364.4 L303.7 365.1 L303.2 366.8 L302.7 367.4 L302.2 370.6 L301.7 371.9 L301.2 373.4 L300.7 373.9 L300.2 372.5 L299.7 373.0 L299.2 371.8 L298.7 371.8 L298.2 375.4 L297.7 375.7 L297.2 376.4 L296.7 374.1 L296.2 374.6 L295.7 374.4 L295.2 370.4 L294.7 369.0 L294.2 367.0 L293.7 363.6 L293.2 360.1 L292.7 357.7 L292.2 354.9 L291.7 350.3 L291.2 349.2 L290.7 346.4 L290.2 344.0 L289.7 344.9 L289.2 343.9 L288.7 344.7 L288.2 345.3 L287.7 343.7 L287.2 339.2 L286.7 337.2 L286.2 336.0 L285.7 335.1 L285.2 331.7 L284.7 331.0 L284.2 330.4 L283.7 329.3 L283.2 328.1 L282.7 327.0 L282.2 325.5 L281.7 324.9 L281.2 323.9 L280.7 327.6 L280.2 326.4 L279.7 332.0 L279.2 331.7 L278.7 332.9 L278.2 336.5 L277.7 339.3 L277.2 341.6 L276.7 343.2 L276.2 344.0 L275.7 346.7 L275.2 346.3 L274.7 348.9 L274.2 351.4 L273.7 351.5 L273.2 349.1 L272.7 350.6 L272.2 349.0 L271.7 346.0 L271.2 345.8 L270.7 345.1 L270.2 342.3 L269.7 341.0 L269.2 342.4 L268.7 341.3 L268.2 342.8 L267.7 346.6 L267.2 346.8 L266.7 348.6 L266.2 352.5 L265.7 355.6 L265.2 358.6 L264.7 363.7 L264.2 366.7 L263.7 370.1 L263.2 369.5 L262.7 367.1 L262.2 363.2 L261.7 357.9 L261.2 357.7 L260.7 353.7 L260.2 350.3 L259.7 349.4 L259.2 345.1 L258.7 344.2 L258.2 338.2 L257.7 332.5 L257.2 329.3 L256.7 324.9 L256.2 327.7 L255.7 329.9 L255.2 331.2 L254.7 333.8 L254.2 335.0 L253.7 340.7 L253.2 345.4 L252.7 348.7 L252.2 353.3 L251.7 358.6 L251.2 360.7 L250.7 362.0 L250.2 367.7 L249.7 370.1 L249.2 373.4 L248.7 373.8 L248.2 380.0 L247.7 380.0 L247.2 373.4 L246.7 371.3 L246.2 368.9 L245.7 369.3 L245.2 372.7 L244.7 376.8 L244.2 380.9 L243.7 382.0 L243.2 385.3 L242.7 388.7 L242.2 396.3 L241.7 400.7 L241.2 403.3 L240.7 403.1 L240.2 402.5 L239.7 403.7 L239.2 402.0 L238.7 397.9 L238.2 395.9 L237.7 395.6 L237.2 390.8 L236.7 388.0 L236.2 385.7 L235.7 383.9 L235.2 389.5 L234.7 391.2 L234.2 391.9 L233.7 401.5 L233.2 404.1 L232.7 406.3 L232.2 409.2 L231.7 408.5 L231.2 411.5 L230.7 416.1 L230.2 417.2 L229.7 420.3 L229.2 420.3 L228.7 415.4 L228.2 411.1 L227.7 407.7 L227.2 406.6 L226.7 398.6 L226.2 395.8 L225.7 400.2 L225.2 399.4 L224.7 409.0 L224.2 412.3 L223.7 415.2 L223.2 415.6 L222.7 414.0 L222.2 408.4 L221.7 408.4 L221.2 404.6 L220.7 404.1 L220.2 406.1 L219.7 405.8 L219.2 405.4 L218.7 407.9 L218.2 408.6 L217.7 405.8 L217.2 404.4 L216.7 405.1 L216.2 404.8 L215.7 404.4 L215.2 408.9 L214.7 408.9 L214.2 409.2 L213.7 408.6 L213.2 411.1 L212.7 413.3 L212.2 413.4 L211.7 414.4 L211.2 414.2 L210.7 415.2 L210.2 417.8 L209.7 417.8 L209.2 417.5 L208.7 415.4 L208.2 415.1 L207.7 411.7 L207.2 410.2 L206.7 411.0 L206.2 410.8 L205.7 408.3 L205.2 405.1 L204.7 401.9 L204.2 399.1 L203.7 397.2 L203.2 397.1 L202.7 397.2 L202.2 396.7 L201.7 394.2 L201.2 393.2 L200.7 398.0 L200.2 403.7 L199.7 409.0 L199.2 416.6 L198.7 416.7 L198.2 418.5 L197.7 420.8 L197.2 422.9 L196.7 425.0 L196.2 427.8 L195.7 426.5 L195.2 426.5 L194.7 424.0 L194.2 423.7 L193.7 422.2 L193.2 421.0 L192.7 420.5 L192.2 421.0 L191.7 421.3 L191.2 420.4 L190.7 421.7 L190.2 419.8 L189.7 420.2 L189.2 424.3 L188.7 424.6 L188.2 425.5 L187.7 424.9 L187.2 426.3 L186.7 432.4 L186.2 432.4 L185.7 435.6 L185.2 435.6 L184.7 437.0 L184.2 443.0 L183.7 448.1 L183.2 448.5 L182.7 446.4 L182.2 451.0 L181.7 455.7 L181.2 459.3 L180.7 461.8 L180.2 464.7 L179.7 466.4 L179.2 470.8 L178.7 471.6 L178.2 473.1 L177.7 471.5 L177.2 470.9 L176.7 468.4 L176.2 466.1 L175.7 460.4 L175.2 458.6 L174.7 456.8 L174.2 452.9 L173.7 448.7 L173.2 444.1 L172.7 438.9 L172.2 438.4 L171.7 434.1 L171.2 430.5 L170.7 424.9 L170.2 420.5 L169.7 419.1 L169.2 416.9 L168.7 412.8 L168.2 411.6 L167.7 408.2 L167.2 407.9 L166.7 407.2 L166.2 400.1 L165.7 395.7 L165.2 392.6 L164.7 390.9 L164.2 392.2 L163.7 392.4 L163.2 391.6 L162.7 394.2 L162.2 394.2 L161.7 396.9 L161.2 397.0 L160.7 396.7 L160.2 396.5 L159.7 398.3 L159.2 403.7 L158.7 403.8 L158.2 402.3 L157.7 406.8 L157.2 407.9 L156.7 406.2 L156.2 405.9 L155.7 406.4 L155.2 404.8 L154.7 402.1 L154.2 400.2 L153.7 402.4 L153.2 402.4 L152.7 399.1 L152.2 396.7 L151.7 396.0 L151.2 395.4 L150.7 396.3 L150.2 393.5 L149.7 390.0 L149.2 387.1 L148.7 387.9 L148.2 387.9 L147.7 383.6 L147.2 387.0 L146.7 387.0 L146.2 386.8 L145.7 388.6 L145.2 388.7 L144.7 392.0 L144.2 395.7 L143.7 398.1 L143.2 401.3 L142.7 404.2 L142.2 408.8 L141.7 410.5 L141.2 413.0 L140.7 416.0 L140.2 419.1 L139.7 417.9 L139.2 417.6 L138.7 417.6 L138.2 415.9 L137.7 415.8 L137.2 419.7 L136.7 425.1 L136.2 431.4 L135.7 437.7 L135.2 439.9 L134.7 440.1 L134.2 447.5 L133.7 450.7 L133.2 453.5 L132.7 456.8 L132.2 461.6 L131.7 461.6 L131.2 466.3 L130.7 467.5 L130.2 467.0 L129.7 468.9 L129.2 475.1 L128.7 479.5 L128.2 478.7 L127.7 476.0 L127.2 472.6 L126.7 469.8 L126.2 465.6 L125.7 465.6 L125.2 462.5 L124.7 461.5 L124.2 460.6 L123.7 457.1 L123.2 453.9 L122.7 452.8 L122.2 453.3 L121.7 452.2 L121.2 448.2 L120.7 444.7 L120.2 443.2 L119.7 443.8 L119.2 444.4 L118.7 444.5 L118.2 443.1 L117.7 439.5 L117.2 436.1 L116.7 435.8 L116.2 436.0 L115.7 438.3 L115.2 440.2 L114.7 439.2 L114.2 440.0 L113.7 441.1 L113.2 438.8 L112.7 440.2 L112.2 443.4 L111.7 443.4 L111.2 442.1 L110.7 442.4 L110.2 445.4 L109.7 448.5 L109.2 451.1 L108.7 452.0 L108.2 456.5 L107.7 456.1 L107.2 458.4 L106.7 458.4 L106.2 458.1 L105.7 459.4 L105.2 458.8 L104.7 457.3 L104.2 458.6 L103.7 457.9 L103.2 457.9 L102.7 458.3 L102.2 455.5 L101.7 452.6 L101.2 452.5 L100.7 453.0 L100.2 453.5 L99.7 449.7 L99.2 446.8 L98.7 444.7 L98.2 446.6 L97.7 445.6 L97.2 442.6 L96.7 441.6 L96.2 444.6 L95.7 448.7 L95.2 448.8 L94.7 447.0 L94.2 446.5 L93.7 446.6 L93.2 444.7 L92.7 446.2 L92.2 443.3 L91.7 439.7 L91.2 441.8 L90.7 441.9 L90.2 440.6 L89.7 439.3 L89.2 434.2 L88.7 434.9 L88.2 434.1 L87.7 431.8 L87.2 430.2 L86.7 431.3 L86.2 432.7 L85.7 434.6 L85.2 437.4 L84.7 437.8 L84.2 436.4 L83.7 433.9 L83.2 435.4 L82.7 433.6 L82.2 433.7 L81.7 431.7 L81.2 427.3 L80.7 425.4 L80.2 423.3 L79.7 424.2 L79.2 426.7 L78.7 430.7 L78.2 429.7 L77.7 430.0 L77.2 430.9 L76.7 429.0 L76.2 427.9 L75.7 424.2 L75.2 423.2 L74.7 422.2 L74.2 421.8 L73.7 418.9 L73.2 412.4 L72.7 411.8 L72.2 411.2 L71.7 410.7 L71.2 411.5 L70.7 410.8 L70.2 409.3 L69.7 408.7 L69.2 410.4 L68.7 409.9 L68.2 410.9 L67.7 412.7 L67.2 414.9 L66.7 416.2 L66.2 417.0 L65.7 420.4 L65.2 422.3 L64.7 426.1 L64.2 429.4 L63.7 429.5 L63.2 436.9 L62.7 437.5 L62.2 440.0 L61.7 444.0 L61.2 444.1 L60.7 445.9 L60.2 449.3 L59.7 452.5 L59.2 451.8 L58.7 453.6 L58.2 453.7 L57.7 456.2 L57.2 457.8 L56.7 457.6 L56.2 455.2 L55.7 453.8 L55.2 451.9 L54.7 451.2 L54.2 444.3 L53.7 441.8 L53.2 441.4 L52.7 439.9 L52.2 435.4 L51.7 436.1 L51.2 430.1 L50.7 429.6 L50.2 427.3 L49.7 426.7 L49.2 422.9 L48.7 421.8 L48.2 420.9 L47.7 418.2Z" fill="#ff0000" stroke="#ff0000" stroke-width="1.20" stroke-linejoin="round"/>
<path d="M47.5 418.1 L48.2 417.9 L48.9 422.5 L49.6 421.3 L50.3 427.6 L51.0 429.3 L51.7 430.4 L52.4 439.5 L53.1 447.1 L53.8 444.3 L54.5 446.1 L55.2 444.0 L55.9 460.2 L56.6 455.7 L57.3 459.4 L58.0 455.6 L58.7 452.1 L59.4 456.0 L60.1 450.0 L60.8 442.0 L61.5 448.2 L62.2 437.0 L62.9 429.5 L63.6 426.9 L64.3 424.0 L65.0 421.9 L65.7 419.0 L66.4 422.1 L67.1 416.0 L67.8 407.3 L68.5 412.6 L69.2 402.2 L69.9 400.9 L70.6 409.9 L71.3 406.4 L72.0 407.6 L72.7 409.0 L73.4 410.3 L74.1 417.2 L74.8 419.0 L75.5 424.3 L76.2 420.7 L76.9 424.9 L77.6 423.6 L78.3 424.2 L79.0 423.3 L79.7 415.9 L80.4 425.5 L81.1 423.8 L81.8 436.7 L82.5 431.1 L83.2 427.4 L83.9 436.6 L84.6 443.6 L85.3 428.1 L86.0 435.4 L86.7 432.2 L87.4 427.9 L88.1 426.2 L88.8 439.5 L89.5 435.6 L90.2 446.1 L90.9 443.0 L91.6 441.7 L92.3 451.4 L93.0 438.3 L93.7 449.6 L94.4 446.5 L95.1 444.7 L95.8 448.3 L96.5 443.1 L97.2 434.5 L97.9 439.0 L98.6 440.6 L99.3 446.2 L100.0 449.1 L100.7 449.1 L101.4 458.2 L102.1 460.0 L102.8 458.2 L103.5 457.3 L104.2 459.1 L104.9 455.1 L105.6 455.0 L106.3 457.8 L107.0 459.0 L107.7 451.1 L108.4 443.9 L109.1 453.9 L109.8 449.9 L110.5 440.8 L111.2 440.5 L111.9 438.6 L112.6 437.9 L113.3 435.7 L114.0 432.0 L114.7 437.8 L115.4 436.6 L116.1 432.3 L116.8 431.1 L117.5 437.3 L118.2 441.4 L118.9 443.5 L119.6 440.6 L120.3 444.1 L121.0 449.4 L121.7 451.2 L122.4 449.0 L123.1 453.1 L123.8 458.7 L124.5 464.2 L125.2 468.8 L125.9 466.2 L126.6 470.2 L127.3 471.3 L128.0 477.6 L128.7 477.1 L129.4 463.6 L130.1 464.0 L130.8 465.0 L131.5 466.4 L132.2 460.4 L132.9 453.6 L133.6 450.7 L134.3 441.7 L135.0 431.8 L135.7 435.7 L136.4 422.8 L137.1 416.7 L137.8 408.9 L138.5 408.4 L139.2 412.1 L139.9 418.3 L140.6 414.3 L141.3 413.7 L142.0 402.3 L142.7 402.7 L143.4 399.3 L144.1 400.3 L144.8 384.1 L145.5 380.9 L146.2 386.8 L146.9 389.0 L147.6 386.0 L148.3 385.8 L149.0 389.0 L149.7 392.1 L150.4 396.6 L151.1 396.3 L151.8 390.9 L152.5 398.7 L153.2 400.0 L153.9 392.1 L154.6 406.2 L155.3 402.2 L156.0 399.7 L156.7 405.4 L157.4 397.6 L158.1 398.2 L158.8 394.1 L159.5 403.1 L160.2 393.4 L160.9 391.5 L161.6 394.2 L162.3 394.0 L163.0 393.5 L163.7 386.1 L164.4 387.8 L165.1 394.5 L165.8 402.8 L166.5 396.8 L167.2 404.2 L167.9 405.9 L168.6 405.0 L169.3 411.2 L170.0 426.1 L170.7 421.7 L171.4 439.1 L172.1 429.2 L172.8 434.6 L173.5 446.7 L174.2 451.4 L174.9 452.2 L175.6 460.4 L176.3 469.1 L177.0 469.8 L177.7 473.5 L178.4 473.1 L179.1 469.9 L179.8 458.3 L180.5 467.3 L181.2 458.9 L181.9 453.7 L182.6 449.0 L183.3 450.7 L184.0 435.9 L184.7 436.9 L185.4 437.0 L186.1 427.7 L186.8 426.3 L187.5 424.1 L188.2 430.0 L188.9 420.6 L189.6 422.3 L190.3 427.1 L191.0 417.4 L191.7 416.2 L192.4 421.3 L193.1 419.0 L193.8 418.9 L194.5 420.8 L195.2 422.0 L195.9 428.0 L196.6 419.5 L197.3 412.4 L198.0 419.0 L198.7 418.0 L199.4 407.2 L200.1 407.6 L200.8 392.3 L201.5 391.1 L202.2 402.3 L202.9 400.0 L203.6 402.0 L204.3 405.9 L205.0 407.5 L205.7 405.9 L206.4 403.5 L207.1 411.8 L207.8 412.9 L208.5 413.4 L209.2 415.0 L209.9 422.0 L210.6 415.4 L211.3 414.0 L212.0 405.5 L212.7 412.7 L213.4 404.1 L214.1 407.2 L214.8 410.5 L215.5 407.2 L216.2 399.0 L216.9 407.6 L217.6 403.1 L218.3 402.8 L219.0 406.3 L219.7 402.6 L220.4 397.7 L221.1 398.6 L221.8 405.3 L222.5 413.7 L223.2 420.0 L223.9 417.3 L224.6 407.7 L225.3 395.4 L226.0 399.4 L226.7 399.0 L227.4 406.7 L228.1 403.1 L228.8 414.9 L229.5 422.1 L230.2 415.4 L230.9 409.9 L231.6 400.3 L232.3 404.0 L233.0 398.0 L233.7 389.6 L234.4 383.0 L235.1 390.8 L235.8 383.3 L236.5 386.4 L237.2 386.8 L237.9 398.6 L238.6 393.8 L239.3 398.7 L240.0 394.2 L240.7 405.2 L241.4 398.5 L242.1 393.6 L242.8 382.4 L243.5 379.2 L244.2 382.9 L244.9 371.4 L245.6 370.8 L246.3 372.2 L247.0 368.2 L247.7 375.3 L248.4 372.9 L249.1 376.0 L249.8 358.5 L250.5 363.1 L251.2 357.9 L251.9 345.9 L252.6 347.3 L253.3 340.6 L254.0 328.9 L254.7 334.4 L255.4 326.6 L256.1 322.7 L256.8 320.4 L257.5 335.0 L258.2 331.7 L258.9 349.9 L259.6 347.3 L260.3 357.4 L261.0 349.1 L261.7 361.4 L262.4 358.3 L263.1 362.7 L263.8 367.6 L264.5 356.3 L265.2 361.7 L265.9 357.2 L266.6 349.4 L267.3 345.9 L268.0 339.8 L268.7 346.6 L269.4 343.3 L270.1 348.2 L270.8 346.0 L271.5 349.9 L272.2 353.7 L272.9 347.1 L273.6 350.2 L274.3 344.7 L275.0 352.2 L275.7 346.2 L276.4 344.6 L277.1 337.5 L277.8 333.5 L278.5 332.6 L279.2 327.7 L279.9 321.6 L280.6 324.0 L281.3 330.4 L282.0 326.2 L282.7 332.9 L283.4 326.6 L284.1 334.1 L284.8 336.3 L285.5 330.1 L286.2 330.2 L286.9 342.5 L287.6 340.5 L288.3 342.5 L289.0 341.7 L289.7 343.0 L290.4 343.8 L291.1 347.7 L291.8 348.2 L292.5 356.5 L293.2 358.8 L293.9 371.8 L294.6 363.5 L295.3 371.7 L296.0 372.1 L296.7 379.5 L297.4 372.8 L298.1 369.2 L298.8 377.0 L299.5 374.2 L300.2 366.4 L300.9 375.5 L301.6 369.3 L302.3 363.3 L303.0 361.0 L303.7 369.8 L304.4 357.8 L305.1 354.1 L305.8 352.6 L306.5 352.3 L307.2 356.5 L307.9 349.7 L308.6 350.0 L309.3 345.9 L310.0 351.3 L310.7 345.5 L311.4 340.9 L312.1 350.8 L312.8 364.6 L313.5 364.0 L314.2 379.8 L314.9 390.8 L315.6 404.5 L316.3 403.9 L317.0 408.9 L317.7 421.7 L318.4 407.3" fill="none" stroke="#ff0000" stroke-width="1.15" stroke-linejoin="round"/>
<path d="M47.7 411.6 L48.2 411.1 L48.7 411.1 L49.2 410.0 L49.7 407.1 L50.2 406.5 L50.7 409.6 L51.2 411.7 L51.7 414.5 L52.2 419.8 L52.7 422.3 L53.2 424.4 L53.7 427.2 L54.2 430.0 L54.7 430.3 L55.2 436.5 L55.7 441.6 L56.2 446.6 L56.7 448.7 L57.2 452.2 L57.7 449.1 L58.2 447.4 L58.7 445.6 L59.2 442.5 L59.7 440.3 L60.2 438.7 L60.7 436.2 L61.2 433.6 L61.7 435.9 L62.2 434.6 L62.7 435.6 L63.2 436.7 L63.7 438.9 L64.2 440.7 L64.7 442.7 L65.2 447.6 L65.7 451.8 L66.2 453.6 L66.7 455.4 L67.2 456.6 L67.7 464.7 L68.2 464.4 L68.7 464.5 L69.2 465.7 L69.7 462.3 L70.2 462.0 L70.7 463.9 L71.2 468.1 L71.7 470.1 L72.2 471.0 L72.7 467.7 L73.2 467.7 L73.7 471.2 L74.2 475.1 L74.7 475.8 L75.2 476.0 L75.7 475.1 L76.2 473.3 L76.7 469.4 L77.2 468.2 L77.7 468.0 L78.2 467.5 L78.7 467.1 L79.2 467.1 L79.7 465.7 L80.2 463.1 L80.7 463.0 L81.2 464.8 L81.7 465.5 L82.2 462.4 L82.7 462.6 L83.2 459.3 L83.7 456.7 L84.2 456.0 L84.7 456.8 L85.2 459.3 L85.7 462.0 L86.2 460.9 L86.7 462.1 L87.2 462.8 L87.7 466.0 L88.2 469.4 L88.7 466.7 L89.2 462.7 L89.7 462.9 L90.2 459.7 L90.7 455.0 L91.2 451.6 L91.7 450.1 L92.2 448.1 L92.7 443.5 L93.2 438.6 L93.7 439.2 L94.2 442.8 L94.7 446.2 L95.2 448.4 L95.7 449.3 L96.2 447.6 L96.7 447.6 L97.2 448.6 L97.7 450.3 L98.2 447.1 L98.7 448.4 L99.2 448.2 L99.7 449.1 L100.2 451.6 L100.7 456.3 L101.2 458.0 L101.7 458.9 L102.2 460.2 L102.7 460.8 L103.2 462.5 L103.7 467.1 L104.2 468.4 L104.7 473.1 L105.2 474.9 L105.7 474.5 L106.2 477.3 L106.7 477.2 L107.2 474.6 L107.7 472.4 L108.2 473.4 L108.7 470.8 L109.2 473.0 L109.7 477.6 L110.2 476.4 L110.7 478.7 L111.2 481.8 L111.7 484.0 L112.2 483.9 L112.7 483.4 L113.2 485.4 L113.7 485.5 L114.2 485.5 L114.7 483.2 L115.2 486.1 L115.7 487.6 L116.2 485.7 L116.7 481.5 L117.2 481.1 L117.7 483.4 L118.2 478.5 L118.7 474.8 L119.2 472.3 L119.7 465.9 L120.2 459.9 L120.7 457.7 L121.2 455.6 L121.7 454.2 L122.2 454.8 L122.7 453.2 L123.2 452.0 L123.7 452.6 L124.2 454.0 L124.7 452.0 L125.2 452.3 L125.7 453.7 L126.2 456.6 L126.7 456.0 L127.2 455.4 L127.7 451.3 L128.2 450.0 L128.7 449.9 L129.2 448.3 L129.7 448.1 L130.2 446.6 L130.7 446.4 L131.2 442.7 L131.7 439.5 L132.2 440.5 L132.7 440.0 L133.2 432.5 L133.7 432.1 L134.2 431.5 L134.7 430.4 L135.2 432.8 L135.7 434.3 L136.2 433.4 L136.7 433.3 L137.2 434.5 L137.7 436.3 L138.2 436.8 L138.7 436.9 L139.2 438.8 L139.7 442.6 L140.2 449.0 L140.7 451.2 L141.2 454.3 L141.7 452.6 L142.2 451.9 L142.7 451.6 L143.2 451.2 L143.7 452.9 L144.2 450.7 L144.7 451.1 L145.2 450.5 L145.7 447.7 L146.2 448.9 L146.7 449.3 L147.2 448.5 L147.7 447.0 L148.2 444.6 L148.7 444.6 L149.2 446.2 L149.7 446.1 L150.2 442.7 L150.7 441.2 L151.2 439.9 L151.7 439.1 L152.2 435.9 L152.7 435.9 L153.2 434.8 L153.7 433.9 L154.2 432.6 L154.7 431.2 L155.2 426.5 L155.7 422.4 L156.2 420.9 L156.7 420.7 L157.2 418.2 L157.7 417.3 L158.2 417.7 L158.7 415.1 L159.2 413.2 L159.7 412.6 L160.2 413.0 L160.7 410.6 L161.2 409.1 L161.7 407.6 L162.2 410.0 L162.7 410.0 L163.2 415.0 L163.7 418.5 L164.2 419.3 L164.7 419.8 L165.2 419.8 L165.7 418.9 L166.2 418.9 L166.7 418.1 L167.2 414.0 L167.7 411.7 L168.2 411.1 L168.7 409.0 L169.2 406.1 L169.7 403.5 L170.2 402.8 L170.7 404.7 L171.2 399.5 L171.7 396.5 L172.2 393.1 L172.7 392.1 L173.2 391.2 L173.7 392.5 L174.2 391.1 L174.7 390.0 L175.2 387.8 L175.7 390.0 L176.2 386.9 L176.7 386.3 L177.2 384.3 L177.7 385.2 L178.2 382.9 L178.7 382.5 L179.2 383.6 L179.7 385.9 L180.2 388.5 L180.7 390.5 L181.2 391.3 L181.7 393.2 L182.2 392.8 L182.7 388.2 L183.2 384.9 L183.7 385.6 L184.2 388.0 L184.7 388.9 L185.2 389.6 L185.7 388.8 L186.2 391.0 L186.7 391.2 L187.2 392.7 L187.7 389.8 L188.2 388.0 L188.7 386.8 L189.2 385.8 L189.7 385.0 L190.2 387.1 L190.7 385.7 L191.2 384.2 L191.7 382.4 L192.2 381.2 L192.7 383.2 L193.2 384.6 L193.7 387.6 L194.2 390.3 L194.7 394.8 L195.2 395.0 L195.7 393.0 L196.2 391.9 L196.7 391.2 L197.2 391.3 L197.7 392.3 L198.2 388.8 L198.7 385.1 L199.2 382.5 L199.7 382.6 L200.2 383.2 L200.7 384.5 L201.2 385.8 L201.7 390.7 L202.2 390.4 L202.7 392.7 L203.2 393.6 L203.7 393.6 L204.2 396.2 L204.7 401.0 L205.2 402.8 L205.7 406.1 L206.2 403.7 L206.7 403.9 L207.2 405.3 L207.7 406.7 L208.2 408.7 L208.7 409.3 L209.2 405.8 L209.7 406.6 L210.2 407.6 L210.7 407.6 L211.2 407.9 L211.7 407.3 L212.2 404.0 L212.7 405.9 L213.2 406.5 L213.7 405.2 L214.2 398.7 L214.7 398.7 L215.2 398.6 L215.7 397.2 L216.2 392.2 L216.7 386.4 L217.2 382.8 L217.7 379.9 L218.2 375.2 L218.7 372.5 L219.2 371.3 L219.7 370.4 L220.2 366.2 L220.7 365.4 L221.2 368.9 L221.7 366.8 L222.2 365.0 L222.7 361.2 L223.2 354.3 L223.7 352.2 L224.2 350.9 L224.7 348.3 L225.2 348.1 L225.7 350.9 L226.2 350.9 L226.7 351.2 L227.2 355.5 L227.7 360.7 L228.2 359.4 L228.7 358.7 L229.2 360.6 L229.7 360.7 L230.2 360.4 L230.7 360.4 L231.2 363.5 L231.7 366.8 L232.2 367.1 L232.7 367.1 L233.2 369.6 L233.7 363.8 L234.2 363.8 L234.7 360.3 L235.2 356.9 L235.7 356.5 L236.2 351.3 L236.7 349.0 L237.2 348.0 L237.7 348.4 L238.2 346.5 L238.7 348.9 L239.2 350.5 L239.7 350.6 L240.2 351.8 L240.7 354.3 L241.2 350.7 L241.7 347.7 L242.2 343.5 L242.7 339.8 L243.2 334.2 L243.7 331.8 L244.2 328.5 L244.7 330.0 L245.2 329.8 L245.7 329.6 L246.2 329.4 L246.7 330.6 L247.2 333.6 L247.7 336.7 L248.2 339.3 L248.7 342.1 L249.2 342.7 L249.7 344.4 L250.2 345.3 L250.7 349.6 L251.2 353.5 L251.7 350.1 L252.2 345.7 L252.7 340.4 L253.2 339.2 L253.7 338.0 L254.2 338.4 L254.7 338.9 L255.2 336.0 L255.7 336.4 L256.2 337.5 L256.7 338.3 L257.2 338.8 L257.7 342.1 L258.2 343.7 L258.7 339.1 L259.2 337.4 L259.7 338.7 L260.2 335.2 L260.7 335.5 L261.2 335.5 L261.7 339.4 L262.2 341.6 L262.7 336.9 L263.2 336.6 L263.7 340.6 L264.2 342.8 L264.7 345.8 L265.2 349.1 L265.7 353.0 L266.2 356.5 L266.7 358.0 L267.2 359.8 L267.7 360.9 L268.2 361.7 L268.7 364.6 L269.2 361.4 L269.7 359.4 L270.2 352.1 L270.7 347.5 L271.2 344.1 L271.7 341.9 L272.2 341.4 L272.7 338.9 L273.2 335.8 L273.7 329.5 L274.2 325.4 L274.7 324.5 L275.2 321.9 L275.7 318.0 L276.2 320.8 L276.7 320.5 L277.2 321.9 L277.7 324.3 L278.2 322.4 L278.7 325.0 L279.2 320.8 L279.7 318.1 L280.2 317.6 L280.7 314.1 L281.2 314.4 L281.7 313.9 L282.2 316.7 L282.7 321.5 L283.2 327.3 L283.7 326.4 L284.2 329.0 L284.7 331.8 L285.2 336.5 L285.7 337.8 L286.2 341.4 L286.7 346.7 L287.2 350.9 L287.7 355.7 L288.2 361.2 L288.7 361.1 L289.2 360.7 L289.7 361.9 L290.2 359.4 L290.7 357.7 L291.2 354.7 L291.7 354.3 L292.2 350.9 L292.7 349.8 L293.2 347.1 L293.7 347.0 L294.2 349.9 L294.7 351.1 L295.2 354.6 L295.7 356.9 L296.2 361.9 L296.7 359.6 L297.2 358.2 L297.7 359.1 L298.2 360.0 L298.7 360.4 L299.2 361.0 L299.7 362.1 L300.2 361.5 L300.7 361.7 L301.2 359.7 L301.7 356.8 L302.2 352.2 L302.7 350.9 L303.2 345.3 L303.7 342.3 L304.2 339.3 L304.7 341.0 L305.2 337.6 L305.7 335.2 L306.2 335.3 L306.7 333.0 L307.2 335.8 L307.7 338.7 L308.2 337.7 L308.7 335.7 L309.2 330.1 L309.7 326.6 L310.2 323.7 L310.7 324.8 L311.2 325.9 L311.7 328.3 L312.2 331.8 L312.7 334.0 L313.2 335.7 L313.7 339.3 L314.2 343.5 L314.7 343.6 L315.2 348.2 L315.7 350.1 L316.2 353.3 L316.7 355.5 L317.2 364.2 L317.7 367.7 L318.2 366.6 L318.7 365.7 L319.2 363.4 L319.2 365.7 L318.7 369.2 L318.2 369.4 L317.7 369.0 L317.2 368.4 L316.7 364.2 L316.2 355.5 L315.7 355.5 L315.2 351.1 L314.7 348.2 L314.2 346.5 L313.7 343.8 L313.2 340.2 L312.7 336.1 L312.2 335.3 L311.7 332.4 L311.2 328.3 L310.7 326.6 L310.2 326.6 L309.7 331.1 L309.2 335.7 L308.7 339.3 L308.2 341.1 L307.7 342.2 L307.2 341.5 L306.7 336.0 L306.2 337.4 L305.7 337.6 L305.2 341.8 L304.7 343.4 L304.2 342.8 L303.7 346.3 L303.2 351.0 L302.7 354.3 L302.2 356.8 L301.7 361.5 L301.2 362.0 L300.7 364.1 L300.2 363.1 L299.7 364.7 L299.2 364.4 L298.7 362.3 L298.2 361.8 L297.7 361.8 L297.2 361.0 L296.7 365.3 L296.2 365.4 L295.7 361.9 L295.2 358.4 L294.7 355.4 L294.2 352.3 L293.7 349.9 L293.2 349.9 L292.7 352.3 L292.2 355.0 L291.7 355.8 L291.2 357.7 L290.7 360.6 L290.2 364.4 L289.7 363.9 L289.2 362.6 L288.7 364.5 L288.2 364.2 L287.7 361.4 L287.2 355.7 L286.7 352.8 L286.2 346.7 L285.7 342.8 L285.2 339.6 L284.7 337.8 L284.2 333.8 L283.7 329.8 L283.2 329.6 L282.7 328.6 L282.2 321.5 L281.7 317.4 L281.2 316.8 L280.7 317.6 L280.2 319.6 L279.7 320.8 L279.2 326.1 L278.7 328.0 L278.2 328.0 L277.7 326.4 L277.2 324.9 L276.7 322.0 L276.2 323.1 L275.7 321.9 L275.2 324.9 L274.7 327.6 L274.2 330.3 L273.7 335.9 L273.2 338.9 L272.7 343.0 L272.2 343.0 L271.7 344.5 L271.2 349.0 L270.7 352.8 L270.2 360.7 L269.7 361.7 L269.2 366.8 L268.7 367.8 L268.2 366.8 L267.7 363.2 L267.2 363.6 L266.7 360.5 L266.2 360.0 L265.7 356.5 L265.2 353.1 L264.7 349.1 L264.2 346.0 L263.7 346.0 L263.2 341.4 L262.7 341.6 L262.2 344.3 L261.7 344.3 L261.2 340.1 L260.7 338.4 L260.2 339.3 L259.7 342.1 L259.2 339.1 L258.7 344.5 L258.2 346.4 L257.7 345.5 L257.2 342.1 L256.7 342.2 L256.2 342.2 L255.7 339.2 L255.2 341.7 L254.7 342.6 L254.2 342.4 L253.7 342.4 L253.2 341.7 L252.7 346.7 L252.2 350.1 L251.7 354.6 L251.2 358.6 L250.7 355.3 L250.2 350.4 L249.7 348.4 L249.2 346.1 L248.7 346.7 L248.2 342.2 L247.7 340.6 L247.2 337.1 L246.7 333.8 L246.2 331.9 L245.7 331.5 L245.2 331.9 L244.7 331.8 L244.2 332.7 L243.7 334.2 L243.2 340.4 L242.7 344.1 L242.2 347.7 L241.7 351.8 L241.2 355.4 L240.7 355.9 L240.2 354.6 L239.7 352.6 L239.2 352.2 L238.7 352.3 L238.2 348.9 L237.7 351.3 L237.2 350.4 L236.7 352.1 L236.2 356.5 L235.7 357.9 L235.2 361.9 L234.7 364.9 L234.2 366.0 L233.7 370.3 L233.2 371.3 L232.7 371.3 L232.2 370.1 L231.7 369.9 L231.2 366.9 L230.7 364.2 L230.2 363.6 L229.7 365.1 L229.2 365.4 L228.7 362.2 L228.2 363.1 L227.7 363.1 L227.2 362.0 L226.7 355.5 L226.2 354.3 L225.7 352.3 L225.2 351.3 L224.7 352.2 L224.2 353.3 L223.7 355.3 L223.2 361.8 L222.7 365.7 L222.2 369.0 L221.7 370.5 L221.2 371.1 L220.7 371.2 L220.2 372.7 L219.7 373.4 L219.2 374.4 L218.7 376.0 L218.2 379.9 L217.7 382.8 L217.2 387.4 L216.7 393.2 L216.2 397.2 L215.7 400.2 L215.2 400.6 L214.7 401.9 L214.2 406.4 L213.7 408.6 L213.2 408.8 L212.7 409.0 L212.2 408.1 L211.7 411.2 L211.2 410.7 L210.7 410.7 L210.2 410.1 L209.7 409.3 L209.2 409.8 L208.7 410.7 L208.2 412.1 L207.7 411.7 L207.2 408.0 L206.7 405.7 L206.2 406.3 L205.7 407.6 L205.2 408.0 L204.7 404.6 L204.2 401.1 L203.7 397.3 L203.2 395.9 L202.7 396.6 L202.2 392.7 L201.7 392.6 L201.2 392.3 L200.7 386.5 L200.2 385.5 L199.7 385.0 L199.2 385.1 L198.7 388.8 L198.2 392.3 L197.7 394.9 L197.2 394.9 L196.7 393.4 L196.2 395.0 L195.7 395.5 L195.2 398.3 L194.7 398.3 L194.2 395.0 L193.7 391.3 L193.2 388.5 L192.7 385.4 L192.2 384.9 L191.7 386.0 L191.2 386.2 L190.7 390.4 L190.2 390.6 L189.7 387.9 L189.2 388.4 L188.7 388.8 L188.2 390.3 L187.7 393.0 L187.2 395.9 L186.7 393.3 L186.2 394.7 L185.7 391.0 L185.2 392.7 L184.7 390.9 L184.2 390.8 L183.7 389.9 L183.2 388.5 L182.7 394.0 L182.2 394.2 L181.7 396.0 L181.2 393.5 L180.7 394.1 L180.2 393.5 L179.7 390.5 L179.2 385.9 L178.7 385.0 L178.2 387.1 L177.7 387.2 L177.2 387.3 L176.7 388.1 L176.2 390.0 L175.7 391.9 L175.2 390.5 L174.7 391.5 L174.2 394.2 L173.7 395.0 L173.2 393.9 L172.7 395.1 L172.2 396.9 L171.7 400.6 L171.2 405.3 L170.7 407.4 L170.2 405.9 L169.7 406.1 L169.2 410.2 L168.7 412.7 L168.2 414.3 L167.7 414.4 L167.2 419.0 L166.7 421.8 L166.2 421.2 L165.7 422.4 L165.2 423.6 L164.7 424.2 L164.2 422.8 L163.7 420.3 L163.2 418.8 L162.7 416.4 L162.2 413.1 L161.7 410.0 L161.2 411.2 L160.7 413.5 L160.2 417.0 L159.7 417.0 L159.2 415.4 L158.7 419.0 L158.2 420.3 L157.7 420.1 L157.2 421.6 L156.7 423.0 L156.2 423.3 L155.7 427.2 L155.2 432.3 L154.7 435.4 L154.2 435.0 L153.7 438.0 L153.2 439.9 L152.7 440.1 L152.2 440.1 L151.7 441.0 L151.2 441.6 L150.7 443.3 L150.2 446.8 L149.7 447.6 L149.2 448.5 L148.7 447.2 L148.2 447.0 L147.7 450.9 L147.2 450.7 L146.7 453.2 L146.2 453.2 L145.7 451.0 L145.2 453.6 L144.7 454.0 L144.2 454.3 L143.7 456.1 L143.2 454.6 L142.7 454.7 L142.2 455.2 L141.7 455.6 L141.2 457.8 L140.7 455.3 L140.2 451.6 L139.7 449.1 L139.2 442.6 L138.7 440.9 L138.2 439.0 L137.7 439.6 L137.2 437.1 L136.7 436.3 L136.2 437.7 L135.7 437.5 L135.2 437.5 L134.7 434.4 L134.2 434.9 L133.7 434.9 L133.2 440.4 L132.7 444.0 L132.2 443.8 L131.7 443.2 L131.2 448.1 L130.7 448.1 L130.2 449.7 L129.7 451.6 L129.2 451.0 L128.7 451.8 L128.2 453.4 L127.7 455.8 L127.2 456.8 L126.7 458.0 L126.2 458.4 L125.7 457.1 L125.2 455.1 L124.7 454.2 L124.2 455.7 L123.7 454.9 L123.2 454.7 L122.7 455.9 L122.2 457.4 L121.7 456.5 L121.2 457.7 L120.7 462.1 L120.2 465.9 L119.7 472.9 L119.2 474.8 L118.7 479.3 L118.2 483.4 L117.7 485.8 L117.2 484.4 L116.7 486.1 L116.2 488.6 L115.7 490.3 L115.2 488.8 L114.7 486.7 L114.2 488.0 L113.7 487.7 L113.2 487.7 L112.7 486.2 L112.2 488.5 L111.7 487.9 L111.2 484.0 L110.7 482.0 L110.2 480.7 L109.7 479.0 L109.2 477.8 L108.7 473.7 L108.2 476.1 L107.7 475.5 L107.2 477.3 L106.7 479.5 L106.2 481.0 L105.7 478.1 L105.2 478.1 L104.7 476.7 L104.2 473.4 L103.7 469.2 L103.2 468.3 L102.7 463.1 L102.2 462.7 L101.7 462.2 L101.2 460.5 L100.7 458.8 L100.2 456.8 L99.7 452.5 L99.2 450.0 L98.7 451.2 L98.2 451.0 L97.7 453.4 L97.2 453.5 L96.7 449.2 L96.2 451.6 L95.7 451.3 L95.2 451.5 L94.7 449.1 L94.2 446.2 L93.7 442.8 L93.2 443.5 L92.7 448.6 L92.2 451.7 L91.7 451.7 L91.2 456.0 L90.7 459.8 L90.2 463.8 L89.7 464.1 L89.2 467.3 L88.7 470.8 L88.2 471.7 L87.7 470.3 L87.2 468.0 L86.7 464.0 L86.2 463.7 L85.7 464.2 L85.2 462.7 L84.7 459.3 L84.2 458.7 L83.7 459.3 L83.2 463.8 L82.7 466.5 L82.2 467.8 L81.7 467.9 L81.2 470.6 L80.7 464.8 L80.2 465.9 L79.7 469.3 L79.2 469.6 L78.7 468.7 L78.2 470.5 L77.7 469.9 L77.2 469.9 L76.7 475.1 L76.2 476.2 L75.7 477.3 L75.2 477.9 L74.7 478.7 L74.2 477.2 L73.7 476.0 L73.2 471.8 L72.7 471.8 L72.2 472.6 L71.7 472.8 L71.2 472.7 L70.7 468.1 L70.2 464.6 L69.7 468.1 L69.2 468.4 L68.7 468.2 L68.2 468.4 L67.7 468.4 L67.2 465.3 L66.7 458.3 L66.2 455.7 L65.7 453.6 L65.2 452.8 L64.7 448.4 L64.2 443.9 L63.7 441.8 L63.2 441.7 L62.7 438.7 L62.2 437.0 L61.7 439.3 L61.2 437.2 L60.7 438.7 L60.2 441.9 L59.7 444.5 L59.2 445.6 L58.7 448.4 L58.2 449.7 L57.7 454.6 L57.2 455.0 L56.7 452.5 L56.2 449.8 L55.7 446.6 L55.2 441.6 L54.7 437.7 L54.2 431.1 L53.7 430.1 L53.2 427.4 L52.7 426.1 L52.2 422.7 L51.7 421.1 L51.2 414.5 L50.7 411.8 L50.2 410.7 L49.7 410.1 L49.2 411.5 L48.7 411.4 L48.2 411.7 L47.7 412.5Z" fill="#008000" stroke="#008000" stroke-width="1.20" stroke-linejoin="round"/>
<path d="M47.5 411.9 L48.2 411.1 L48.9 409.9 L49.6 408.2 L50.3 410.1 L51.0 415.9 L51.7 418.3 L52.4 419.1 L53.1 421.8 L53.8 429.1 L54.5 439.9 L55.2 432.8 L55.9 454.5 L56.6 443.7 L57.3 454.9 L58.0 455.3 L58.7 449.9 L59.4 443.1 L60.1 442.3 L60.8 430.9 L61.5 430.7 L62.2 434.8 L62.9 442.6 L63.6 439.7 L64.3 438.7 L65.0 451.3 L65.7 451.6 L66.4 450.1 L67.1 459.5 L67.8 469.5 L68.5 469.2 L69.2 465.5 L69.9 459.3 L70.6 467.2 L71.3 470.2 L72.0 466.4 L72.7 465.7 L73.4 478.9 L74.1 477.0 L74.8 479.1 L75.5 479.9 L76.2 476.2 L76.9 466.4 L77.6 475.8 L78.3 474.7 L79.0 471.7 L79.7 462.3 L80.4 460.5 L81.1 469.1 L81.8 467.0 L82.5 462.9 L83.2 466.0 L83.9 462.2 L84.6 453.5 L85.3 456.3 L86.0 462.7 L86.7 466.3 L87.4 465.3 L88.1 471.6 L88.8 464.6 L89.5 470.1 L90.2 454.9 L90.9 454.1 L91.6 454.8 L92.3 446.1 L93.0 437.8 L93.7 442.2 L94.4 443.0 L95.1 450.2 L95.8 453.8 L96.5 453.5 L97.2 450.8 L97.9 445.4 L98.6 451.4 L99.3 450.6 L100.0 458.6 L100.7 461.7 L101.4 467.4 L102.1 454.6 L102.8 461.4 L103.5 471.0 L104.2 468.0 L104.9 476.3 L105.6 475.5 L106.3 479.4 L107.0 472.4 L107.7 467.2 L108.4 465.4 L109.1 479.1 L109.8 485.4 L110.5 479.1 L111.2 480.1 L111.9 487.5 L112.6 487.5 L113.3 492.5 L114.0 492.3 L114.7 481.4 L115.4 484.2 L116.1 494.0 L116.8 481.6 L117.5 484.2 L118.2 481.7 L118.9 470.7 L119.6 471.1 L120.3 460.4 L121.0 457.8 L121.7 448.6 L122.4 449.7 L123.1 450.3 L123.8 461.7 L124.5 458.9 L125.2 452.0 L125.9 458.2 L126.6 455.0 L127.3 456.0 L128.0 452.8 L128.7 450.0 L129.4 455.4 L130.1 441.3 L130.8 441.9 L131.5 447.1 L132.2 443.6 L132.9 432.8 L133.6 426.7 L134.3 439.2 L135.0 437.5 L135.7 441.2 L136.4 434.0 L137.1 442.6 L137.8 442.5 L138.5 445.7 L139.2 445.2 L139.9 451.9 L140.6 453.9 L141.3 448.1 L142.0 455.0 L142.7 454.6 L143.4 457.9 L144.1 455.8 L144.8 448.4 L145.5 449.7 L146.2 451.4 L146.9 444.1 L147.6 448.2 L148.3 449.3 L149.0 446.5 L149.7 450.3 L150.4 442.4 L151.1 434.2 L151.8 431.2 L152.5 444.1 L153.2 430.5 L153.9 434.0 L154.6 437.4 L155.3 429.5 L156.0 423.7 L156.7 426.8 L157.4 418.4 L158.1 425.8 L158.8 415.6 L159.5 419.0 L160.2 414.7 L160.9 415.9 L161.6 406.5 L162.3 406.7 L163.0 410.1 L163.7 418.0 L164.4 420.7 L165.1 428.5 L165.8 418.5 L166.5 426.7 L167.2 411.5 L167.9 417.5 L168.6 409.3 L169.3 407.3 L170.0 406.6 L170.7 408.5 L171.4 394.0 L172.1 400.3 L172.8 392.2 L173.5 388.9 L174.2 397.9 L174.9 389.0 L175.6 392.8 L176.3 392.6 L177.0 383.6 L177.7 393.0 L178.4 387.9 L179.1 385.3 L179.8 387.1 L180.5 398.7 L181.2 392.4 L181.9 395.9 L182.6 390.5 L183.3 394.3 L184.0 391.4 L184.7 390.6 L185.4 387.5 L186.1 399.7 L186.8 393.2 L187.5 395.1 L188.2 393.0 L188.9 391.3 L189.6 382.0 L190.3 387.6 L191.0 388.9 L191.7 381.8 L192.4 388.1 L193.1 385.9 L193.8 395.2 L194.5 395.2 L195.2 402.6 L195.9 392.8 L196.6 389.9 L197.3 394.9 L198.0 388.0 L198.7 385.9 L199.4 385.0 L200.1 383.4 L200.8 391.8 L201.5 398.5 L202.2 392.9 L202.9 394.9 L203.6 402.2 L204.3 396.0 L205.0 412.2 L205.7 411.6 L206.4 410.3 L207.1 413.5 L207.8 409.2 L208.5 416.8 L209.2 410.0 L209.9 410.3 L210.6 411.0 L211.3 416.1 L212.0 404.6 L212.7 401.3 L213.4 406.4 L214.1 401.6 L214.8 397.8 L215.5 395.9 L216.2 399.5 L216.9 386.3 L217.6 378.4 L218.3 379.4 L219.0 372.9 L219.7 372.1 L220.4 371.7 L221.1 369.9 L221.8 373.8 L222.5 363.5 L223.2 351.2 L223.9 346.9 L224.6 343.5 L225.3 347.4 L226.0 359.4 L226.7 352.5 L227.4 356.5 L228.1 366.3 L228.8 360.3 L229.5 361.5 L230.2 361.7 L230.9 360.6 L231.6 373.4 L232.3 366.9 L233.0 371.8 L233.7 368.5 L234.4 369.4 L235.1 356.8 L235.8 350.1 L236.5 357.4 L237.2 346.3 L237.9 349.8 L238.6 352.7 L239.3 351.8 L240.0 348.6 L240.7 348.3 L241.4 355.2 L242.1 351.4 L242.8 337.7 L243.5 333.1 L244.2 327.2 L244.9 325.9 L245.6 333.8 L246.3 331.2 L247.0 340.0 L247.7 342.8 L248.4 346.3 L249.1 344.0 L249.8 341.0 L250.5 346.9 L251.2 354.3 L251.9 348.9 L252.6 344.8 L253.3 343.0 L254.0 338.5 L254.7 344.8 L255.4 338.2 L256.1 338.9 L256.8 335.3 L257.5 349.4 L258.2 339.6 L258.9 342.5 L259.6 341.6 L260.3 334.1 L261.0 336.9 L261.7 338.7 L262.4 338.9 L263.1 332.2 L263.8 344.5 L264.5 347.9 L265.2 344.3 L265.9 364.6 L266.6 357.6 L267.3 358.3 L268.0 364.4 L268.7 369.0 L269.4 357.0 L270.1 361.1 L270.8 344.5 L271.5 346.0 L272.2 339.7 L272.9 334.0 L273.6 339.5 L274.3 323.9 L275.0 323.3 L275.7 322.7 L276.4 317.6 L277.1 325.7 L277.8 332.0 L278.5 324.2 L279.2 322.6 L279.9 320.6 L280.6 319.5 L281.3 316.7 L282.0 316.2 L282.7 328.6 L283.4 327.0 L284.1 328.4 L284.8 340.5 L285.5 344.3 L286.2 337.2 L286.9 360.1 L287.6 353.0 L288.3 364.0 L289.0 363.5 L289.7 369.7 L290.4 353.8 L291.1 363.0 L291.8 353.4 L292.5 352.4 L293.2 347.2 L293.9 356.4 L294.6 357.7 L295.3 361.3 L296.0 358.6 L296.7 366.2 L297.4 358.4 L298.1 358.1 L298.8 368.6 L299.5 366.2 L300.2 358.4 L300.9 362.9 L301.6 366.0 L302.3 353.4 L303.0 347.1 L303.7 340.1 L304.4 340.8 L305.1 337.8 L305.8 334.4 L306.5 339.2 L307.2 332.4 L307.9 343.5 L308.6 336.4 L309.3 335.7 L310.0 332.0 L310.7 327.2 L311.4 333.9 L312.1 330.5 L312.8 344.8 L313.5 338.8 L314.2 347.7 L314.9 343.9 L315.6 351.2 L316.3 354.8 L317.0 370.1 L317.7 372.9 L318.4 365.8 L319.1 365.6" fill="none" stroke="#008000" stroke-width="1.15" stroke-linejoin="round"/>
<rect x="33.90" y="302.50" width="298.50" height="197.80" fill="none" stroke="#262626" stroke-width="0.8"/>
<text x="47.50" y="513.54" font-size="9.43" text-anchor="middle" textLength="5.77" lengthAdjust="spacingAndGlyphs" >0</text>
<text x="101.76" y="513.54" font-size="9.43" text-anchor="middle" textLength="11.54" lengthAdjust="spacingAndGlyphs" >20</text>
<text x="156.02" y="513.54" font-size="9.43" text-anchor="middle" textLength="11.54" lengthAdjust="spacingAndGlyphs" >40</text>
<text x="210.28" y="513.54" font-size="9.43" text-anchor="middle" textLength="11.54" lengthAdjust="spacingAndGlyphs" >60</text>
<text x="264.54" y="513.54" font-size="9.43" text-anchor="middle" textLength="11.54" lengthAdjust="spacingAndGlyphs" >80</text>
<text x="318.80" y="513.54" font-size="9.43" text-anchor="middle" textLength="17.31" lengthAdjust="spacingAndGlyphs" >100</text>
<text x="27.47" y="496.72" font-size="9.43" text-anchor="end" textLength="14.42" lengthAdjust="spacingAndGlyphs" >0.0</text>
<text x="27.47" y="470.47" font-size="9.43" text-anchor="end" textLength="14.42" lengthAdjust="spacingAndGlyphs" >0.1</text>
<text x="27.47" y="444.22" font-size="9.43" text-anchor="end" textLength="14.42" lengthAdjust="spacingAndGlyphs" >0.2</text>
<text x="27.47" y="417.97" font-size="9.43" text-anchor="end" textLength="14.42" lengthAdjust="spacingAndGlyphs" >0.3</text>
<text x="27.47" y="391.72" font-size="9.43" text-anchor="end" textLength="14.42" lengthAdjust="spacingAndGlyphs" >0.4</text>
<text x="27.47" y="365.47" font-size="9.43" text-anchor="end" textLength="14.42" lengthAdjust="spacingAndGlyphs" >0.5</text>
<text x="27.47" y="339.22" font-size="9.43" text-anchor="end" textLength="14.42" lengthAdjust="spacingAndGlyphs" >0.6</text>
<text x="27.47" y="312.97" font-size="9.43" text-anchor="end" textLength="14.42" lengthAdjust="spacingAndGlyphs" >0.7</text>
<path d="M47.50 500.30v2.91M101.76 500.30v2.91M156.02 500.30v2.91M210.28 500.30v2.91M264.54 500.30v2.91M318.80 500.30v2.91M33.90 493.60h-2.91M33.90 467.35h-2.91M33.90 441.10h-2.91M33.90 414.85h-2.91M33.90 388.60h-2.91M33.90 362.35h-2.91M33.90 336.10h-2.91M33.90 309.85h-2.91" stroke="#262626" stroke-width="0.8" fill="none"/>
<text x="183.15" y="297.00" font-size="11.42" text-anchor="middle" textLength="98.06" lengthAdjust="spacingAndGlyphs" >Comparison for Ih</text>
<text x="183.15" y="526.01" font-size="9.43" text-anchor="middle" textLength="22.20" lengthAdjust="spacingAndGlyphs" >Time</text>
<text x="0.00" y="0.00" font-size="9.43" text-anchor="middle" textLength="8.42" lengthAdjust="spacingAndGlyphs" transform="translate(10.00 401.40) rotate(-90)">Ih</text>
<rect x="38.70" y="307.00" width="91.60" height="41.70" rx="1.6" fill="#fff" fill-opacity="0.8" stroke="#cccccc" stroke-width="0.8"/>
<path d="M42.00 314.00H60.70" stroke="#0000ff" stroke-width="1.25" />
<text x="66.60" y="317.02" font-size="9.43" text-anchor="start" textLength="60.68" lengthAdjust="spacingAndGlyphs" >Deterministic</text>
<path d="M42.00 327.20H60.70" stroke="#ff0000" stroke-width="1.25" stroke-dasharray="4.62 2.00"/>
<text x="66.60" y="330.22" font-size="9.43" text-anchor="start" textLength="54.41" lengthAdjust="spacingAndGlyphs" >White Noise</text>
<path d="M42.00 340.70H60.70" stroke="#008000" stroke-width="1.25" stroke-dasharray="8.00 2.00 1.25 2.00"/>
<text x="66.60" y="343.72" font-size="9.43" text-anchor="start" textLength="49.25" lengthAdjust="spacingAndGlyphs" >Lévy Noise</text>
<text x="167.20" y="556.20" font-family="Liberation Serif, serif" font-size="16.5" text-anchor="middle" fill="#1a1a1a">(c)</text>
</g>
<g id="pd">
<path d="M397.67 311.10 C398.21 322.99 400.04 366.43 400.91 382.49 C401.79 398.55 402.24 400.38 402.91 407.45 C403.58 414.52 404.24 419.93 404.91 424.93 C405.57 429.92 406.20 433.87 406.90 437.41 C407.61 440.94 408.36 443.65 409.15 446.14 C409.94 448.64 410.81 450.72 411.65 452.38 C412.48 454.05 413.31 455.09 414.14 456.13 C414.98 457.17 415.60 458.08 416.64 458.62 C417.68 459.17 418.93 459.58 420.38 459.37 C421.84 459.17 423.71 458.21 425.38 457.38 C427.04 456.54 428.70 455.63 430.37 454.38 C432.03 453.13 433.70 451.26 435.36 449.89 C437.03 448.51 438.69 447.31 440.35 446.14 C442.02 444.98 443.68 443.73 445.35 442.90 C447.01 442.07 448.67 441.57 450.34 441.15 C452.00 440.73 453.25 440.69 455.33 440.40 C457.41 440.11 459.91 439.69 462.82 439.40 C465.73 439.11 469.48 438.78 472.81 438.65 C476.13 438.53 479.46 438.65 482.79 438.65 C486.12 438.65 489.45 438.61 492.78 438.65 C496.10 438.70 499.22 438.82 502.76 438.90 C506.30 438.99 507.96 438.90 513.99 439.15 C520.03 439.40 526.48 440.19 538.96 440.40 C551.44 440.61 567.17 440.40 588.89 440.40 C610.61 440.40 655.87 440.40 669.27 440.40" fill="none" stroke="#0000ff" stroke-width="1.45" stroke-linejoin="round"/>
<path d="M397.9 311.1 L398.4 322.3 L398.9 333.2 L399.4 343.7 L399.9 355.0 L400.4 364.1 L400.9 371.9 L401.4 379.6 L401.9 383.2 L402.4 381.8 L402.9 384.3 L403.4 391.2 L403.9 397.6 L404.4 405.1 L404.9 409.6 L405.4 414.2 L405.9 418.4 L406.4 419.6 L406.9 419.2 L407.4 419.1 L407.9 416.3 L408.4 414.5 L408.9 412.1 L409.4 410.8 L409.9 408.2 L410.4 409.0 L410.9 413.9 L411.4 421.9 L411.9 422.7 L412.4 425.1 L412.9 429.3 L413.4 434.8 L413.9 430.7 L414.4 428.3 L414.9 429.8 L415.4 428.9 L415.9 432.0 L416.4 433.8 L416.9 439.2 L417.4 444.1 L417.9 437.8 L418.4 437.2 L418.9 434.1 L419.4 434.1 L419.9 435.5 L420.4 433.4 L420.9 431.0 L421.4 431.0 L421.9 435.1 L422.4 436.8 L422.9 442.4 L423.4 448.3 L423.9 452.5 L424.4 452.2 L424.9 456.1 L425.4 450.8 L425.9 452.5 L426.4 452.6 L426.9 453.4 L427.4 456.6 L427.9 461.2 L428.4 466.4 L428.9 468.6 L429.4 471.0 L429.9 474.7 L430.4 478.8 L430.9 482.2 L431.4 483.7 L431.9 486.2 L432.4 482.0 L432.9 483.8 L433.4 478.1 L433.9 476.0 L434.4 474.7 L434.9 468.6 L435.4 465.6 L435.9 465.6 L436.4 464.6 L436.9 462.0 L437.4 461.6 L437.9 460.8 L438.4 460.2 L438.9 461.0 L439.4 467.3 L439.9 472.1 L440.4 471.9 L440.9 471.5 L441.4 471.5 L441.9 474.0 L442.4 477.3 L442.9 479.6 L443.4 480.1 L443.9 480.0 L444.4 483.7 L444.9 486.5 L445.4 488.6 L445.9 483.9 L446.4 480.1 L446.9 476.8 L447.4 474.1 L447.9 470.9 L448.4 468.3 L448.9 468.4 L449.4 463.2 L449.9 460.7 L450.4 460.7 L450.9 459.4 L451.4 460.4 L451.9 463.6 L452.4 463.8 L452.9 465.7 L453.4 462.6 L453.9 455.6 L454.4 446.4 L454.9 445.4 L455.4 445.4 L455.9 442.6 L456.4 440.9 L456.9 442.0 L457.4 443.0 L457.9 444.7 L458.4 449.4 L458.9 442.9 L459.4 440.2 L459.9 438.0 L460.4 436.8 L460.9 434.3 L461.4 430.7 L461.9 428.3 L462.4 427.0 L462.9 428.1 L463.4 431.8 L463.9 431.9 L464.4 434.7 L464.9 433.2 L465.4 433.3 L465.9 431.8 L466.4 433.7 L466.9 435.8 L467.4 438.7 L467.9 437.5 L468.4 436.2 L468.9 435.2 L469.4 432.7 L469.9 429.1 L470.4 426.1 L470.9 430.6 L471.4 432.8 L471.9 429.5 L472.4 426.1 L472.9 424.4 L473.4 419.0 L473.9 415.3 L474.4 415.1 L474.9 413.2 L475.4 410.8 L475.9 410.6 L476.4 409.6 L476.9 408.9 L477.4 414.0 L477.9 417.6 L478.4 421.6 L478.9 423.3 L479.4 423.6 L479.9 423.6 L480.4 428.8 L480.9 426.5 L481.4 423.7 L481.9 423.5 L482.4 419.9 L482.9 419.1 L483.4 417.5 L483.9 417.0 L484.4 417.1 L484.9 418.0 L485.4 417.1 L485.9 423.7 L486.4 426.3 L486.9 428.3 L487.4 427.8 L487.9 427.3 L488.4 429.5 L488.9 423.4 L489.4 421.1 L489.9 418.6 L490.4 415.3 L490.9 414.1 L491.4 412.0 L491.9 407.4 L492.4 409.0 L492.9 411.5 L493.4 412.6 L493.9 419.0 L494.4 422.0 L494.9 419.6 L495.4 417.6 L495.9 416.7 L496.4 416.5 L496.9 413.2 L497.4 411.7 L497.9 411.5 L498.4 411.8 L498.9 410.0 L499.4 408.7 L499.9 407.7 L500.4 407.2 L500.9 404.6 L501.4 402.1 L501.9 403.0 L502.4 403.6 L502.9 404.3 L503.4 410.9 L503.9 411.4 L504.4 417.1 L504.9 422.0 L505.4 427.1 L505.9 426.7 L506.4 428.5 L506.9 431.6 L507.4 433.6 L507.9 435.8 L508.4 440.2 L508.9 443.1 L509.4 446.3 L509.9 449.3 L510.4 449.8 L510.9 444.3 L511.4 444.3 L511.9 445.0 L512.4 438.3 L512.9 436.3 L513.4 432.9 L513.9 431.4 L514.4 429.0 L514.9 427.1 L515.4 427.0 L515.9 425.3 L516.4 426.5 L516.9 430.8 L517.4 435.8 L517.9 439.9 L518.4 445.5 L518.9 448.7 L519.4 454.3 L519.9 452.0 L520.4 449.8 L520.9 447.5 L521.4 441.6 L521.9 439.0 L522.4 436.9 L522.9 434.9 L523.4 434.5 L523.9 435.8 L524.4 433.0 L524.9 432.7 L525.4 430.3 L525.9 431.1 L526.4 434.2 L526.9 440.3 L527.4 445.6 L527.9 448.4 L528.4 448.6 L528.9 449.1 L529.4 450.6 L529.9 449.1 L530.4 444.5 L530.9 441.0 L531.4 437.8 L531.9 436.7 L532.4 434.6 L532.9 431.9 L533.4 434.1 L533.9 432.1 L534.4 433.6 L534.9 436.3 L535.4 443.4 L535.9 445.7 L536.4 446.0 L536.9 451.3 L537.4 447.9 L537.9 446.9 L538.4 450.1 L538.9 451.8 L539.4 449.2 L539.9 445.4 L540.4 442.9 L540.9 442.1 L541.4 439.1 L541.9 436.4 L542.4 435.5 L542.9 434.2 L543.4 431.3 L543.9 429.6 L544.4 423.9 L544.9 422.0 L545.4 415.9 L545.9 413.2 L546.4 411.5 L546.9 415.7 L547.4 418.5 L547.9 424.1 L548.4 431.4 L548.9 434.6 L549.4 437.7 L549.9 439.7 L550.4 446.6 L550.9 448.6 L551.4 452.2 L551.9 452.1 L552.4 452.5 L552.9 452.7 L553.4 452.5 L553.9 450.1 L554.4 447.0 L554.9 443.2 L555.4 440.1 L555.9 439.1 L556.4 433.5 L556.9 429.0 L557.4 424.2 L557.9 422.3 L558.4 421.2 L558.9 417.1 L559.4 417.2 L559.9 414.5 L560.4 413.3 L560.9 410.0 L561.4 408.5 L561.9 408.5 L562.4 409.0 L562.9 414.5 L563.4 419.5 L563.9 422.9 L564.4 427.7 L564.9 430.1 L565.4 431.6 L565.9 435.4 L566.4 439.4 L566.9 443.2 L567.4 446.0 L567.9 446.1 L568.4 447.2 L568.9 447.2 L569.4 446.6 L569.9 446.5 L570.4 445.6 L570.9 445.8 L571.4 445.0 L571.9 444.1 L572.4 439.1 L572.9 436.5 L573.4 433.3 L573.9 433.4 L574.4 437.8 L574.9 434.8 L575.4 434.0 L575.9 436.1 L576.4 438.6 L576.9 440.3 L577.4 437.4 L577.9 437.6 L578.4 438.1 L578.9 437.7 L579.4 444.1 L579.9 443.0 L580.4 443.2 L580.9 442.3 L581.4 443.2 L581.9 447.9 L582.4 449.2 L582.9 451.9 L583.4 453.2 L583.9 452.3 L584.4 453.9 L584.9 454.9 L585.4 456.0 L585.9 457.2 L586.4 457.4 L586.9 456.6 L587.4 453.3 L587.9 453.0 L588.4 454.1 L588.9 452.1 L589.4 450.2 L589.9 450.6 L590.4 450.0 L590.9 450.4 L591.4 444.6 L591.9 443.3 L592.4 441.8 L592.9 441.9 L593.4 441.0 L593.9 438.8 L594.4 439.0 L594.9 438.9 L595.4 440.0 L595.9 437.4 L596.4 436.7 L596.9 436.1 L597.4 435.6 L597.9 434.7 L598.4 436.9 L598.9 436.9 L599.4 437.8 L599.9 438.7 L600.4 438.8 L600.9 440.8 L601.4 446.7 L601.9 449.0 L602.4 451.1 L602.9 451.7 L603.4 453.4 L603.9 452.9 L604.4 456.3 L604.9 458.3 L605.4 458.3 L605.9 460.6 L606.4 460.5 L606.9 461.6 L607.4 464.5 L607.9 467.9 L608.4 465.4 L608.9 465.5 L609.4 464.5 L609.9 462.0 L610.4 460.5 L610.9 459.4 L611.4 457.8 L611.9 455.3 L612.4 456.5 L612.9 452.8 L613.4 450.6 L613.9 446.6 L614.4 443.6 L614.9 440.5 L615.4 439.8 L615.9 437.6 L616.4 434.9 L616.9 432.8 L617.4 430.8 L617.9 426.3 L618.4 425.3 L618.9 425.7 L619.4 432.7 L619.9 436.8 L620.4 440.2 L620.9 439.2 L621.4 441.2 L621.9 446.3 L622.4 445.7 L622.9 445.9 L623.4 444.3 L623.9 442.4 L624.4 438.6 L624.9 438.7 L625.4 439.3 L625.9 435.8 L626.4 433.4 L626.9 426.5 L627.4 423.6 L627.9 422.9 L628.4 423.9 L628.9 423.1 L629.4 420.8 L629.9 421.2 L630.4 420.6 L630.9 415.8 L631.4 413.6 L631.9 414.0 L632.4 415.2 L632.9 411.1 L633.4 410.1 L633.9 402.9 L634.4 403.0 L634.9 401.4 L635.4 397.5 L635.9 393.4 L636.4 394.1 L636.9 397.4 L637.4 401.1 L637.9 402.6 L638.4 408.6 L638.9 411.9 L639.4 413.3 L639.9 418.4 L640.4 424.5 L640.9 421.5 L641.4 419.0 L641.9 415.7 L642.4 415.7 L642.9 415.6 L643.4 419.7 L643.9 423.1 L644.4 427.7 L644.9 429.2 L645.4 430.1 L645.9 433.4 L646.4 432.6 L646.9 436.4 L647.4 436.5 L647.9 436.5 L648.4 438.7 L648.9 442.9 L649.4 443.4 L649.9 448.0 L650.4 450.2 L650.9 452.5 L651.4 452.7 L651.9 455.7 L652.4 458.1 L652.9 461.3 L653.4 465.8 L653.9 459.8 L654.4 454.2 L654.9 454.2 L655.4 453.3 L655.9 451.3 L656.4 449.2 L656.9 448.4 L657.4 445.9 L657.9 440.0 L658.4 440.0 L658.9 436.5 L659.4 435.6 L659.9 432.5 L660.4 429.9 L660.9 428.2 L661.4 426.8 L661.9 424.0 L662.4 425.6 L662.9 425.9 L663.4 420.5 L663.9 419.1 L664.4 417.1 L664.9 415.0 L665.4 416.1 L665.9 418.7 L666.4 418.4 L666.9 419.2 L667.4 421.6 L667.9 421.8 L668.4 420.9 L668.8 422.5 L668.8 425.2 L668.4 423.2 L667.9 423.4 L667.4 424.3 L666.9 424.6 L666.4 420.4 L665.9 419.7 L665.4 419.3 L664.9 418.4 L664.4 419.1 L663.9 421.3 L663.4 425.9 L662.9 428.5 L662.4 427.5 L661.9 427.0 L661.4 429.0 L660.9 432.1 L660.4 433.9 L659.9 435.7 L659.4 439.9 L658.9 441.1 L658.4 442.7 L657.9 446.8 L657.4 448.5 L656.9 451.1 L656.4 451.6 L655.9 453.4 L655.4 456.2 L654.9 457.2 L654.4 461.5 L653.9 465.8 L653.4 468.7 L652.9 466.6 L652.4 461.3 L651.9 458.8 L651.4 456.4 L650.9 455.2 L650.4 455.2 L649.9 452.6 L649.4 448.0 L648.9 445.5 L648.4 443.1 L647.9 442.1 L647.4 438.8 L646.9 438.8 L646.4 437.4 L645.9 435.7 L645.4 434.1 L644.9 433.2 L644.4 432.7 L643.9 427.7 L643.4 423.1 L642.9 419.7 L642.4 416.3 L641.9 419.0 L641.4 421.5 L640.9 425.2 L640.4 426.6 L639.9 427.4 L639.4 418.4 L638.9 413.9 L638.4 412.7 L637.9 408.6 L637.4 403.6 L636.9 401.1 L636.4 397.7 L635.9 397.9 L635.4 402.0 L634.9 405.6 L634.4 404.5 L633.9 410.2 L633.4 412.9 L632.9 415.8 L632.4 418.6 L631.9 418.5 L631.4 416.0 L630.9 420.7 L630.4 422.8 L629.9 422.8 L629.4 423.8 L628.9 425.3 L628.4 427.4 L627.9 427.2 L627.4 426.8 L626.9 435.0 L626.4 435.8 L625.9 440.9 L625.4 440.9 L624.9 442.8 L624.4 442.9 L623.9 446.1 L623.4 447.5 L622.9 447.7 L622.4 447.5 L621.9 448.3 L621.4 447.5 L620.9 441.2 L620.4 445.2 L619.9 444.7 L619.4 436.8 L618.9 433.2 L618.4 427.5 L617.9 431.3 L617.4 433.3 L616.9 435.1 L616.4 438.4 L615.9 440.8 L615.4 442.6 L614.9 445.5 L614.4 447.4 L613.9 451.0 L613.4 453.3 L612.9 457.7 L612.4 457.9 L611.9 457.8 L611.4 461.3 L610.9 462.2 L610.4 462.4 L609.9 465.4 L609.4 466.0 L608.9 467.2 L608.4 467.9 L607.9 469.4 L607.4 468.8 L606.9 464.5 L606.4 462.4 L605.9 463.6 L605.4 464.4 L604.9 461.7 L604.4 460.0 L603.9 456.6 L603.4 454.9 L602.9 455.4 L602.4 452.8 L601.9 453.0 L601.4 449.0 L600.9 446.7 L600.4 442.0 L599.9 443.3 L599.4 439.8 L598.9 439.8 L598.4 439.8 L597.9 437.7 L597.4 436.7 L596.9 438.5 L596.4 439.0 L595.9 441.9 L595.4 442.0 L594.9 441.7 L594.4 440.8 L593.9 441.0 L593.4 444.0 L592.9 444.1 L592.4 444.0 L591.9 444.7 L591.4 451.2 L590.9 453.7 L590.4 453.7 L589.9 452.2 L589.4 452.8 L588.9 455.6 L588.4 457.3 L587.9 457.3 L587.4 457.0 L586.9 458.1 L586.4 460.3 L585.9 459.5 L585.4 459.0 L584.9 458.7 L584.4 456.3 L583.9 454.8 L583.4 455.1 L582.9 455.3 L582.4 451.9 L581.9 450.2 L581.4 448.8 L580.9 445.2 L580.4 444.8 L579.9 445.9 L579.4 446.9 L578.9 444.1 L578.4 440.7 L577.9 440.7 L577.4 440.3 L576.9 442.7 L576.4 442.2 L575.9 438.6 L575.4 437.3 L574.9 439.6 L574.4 440.7 L573.9 438.3 L573.4 439.0 L572.9 439.8 L572.4 444.5 L571.9 446.0 L571.4 447.6 L570.9 447.6 L570.4 450.0 L569.9 449.6 L569.4 448.7 L568.9 449.3 L568.4 449.8 L567.9 450.1 L567.4 450.0 L566.9 447.9 L566.4 443.2 L565.9 439.4 L565.4 437.5 L564.9 433.0 L564.4 433.0 L563.9 427.7 L563.4 423.3 L562.9 420.0 L562.4 414.5 L561.9 410.4 L561.4 411.4 L560.9 413.3 L560.4 418.8 L559.9 418.0 L559.4 418.1 L558.9 421.2 L558.4 423.6 L557.9 426.4 L557.4 429.3 L556.9 434.1 L556.4 439.6 L555.9 441.2 L555.4 443.4 L554.9 448.4 L554.4 450.1 L553.9 453.4 L553.4 457.0 L552.9 455.5 L552.4 455.6 L551.9 453.7 L551.4 453.6 L550.9 453.2 L550.4 450.2 L549.9 447.3 L549.4 440.6 L548.9 439.3 L548.4 435.2 L547.9 431.8 L547.4 424.4 L546.9 419.2 L546.4 415.7 L545.9 417.8 L545.4 423.6 L544.9 425.2 L544.4 429.6 L543.9 431.7 L543.4 437.9 L542.9 437.4 L542.4 438.0 L541.9 439.6 L541.4 442.1 L540.9 445.4 L540.4 445.7 L539.9 450.8 L539.4 452.9 L538.9 454.8 L538.4 453.1 L537.9 450.8 L537.4 452.5 L536.9 455.9 L536.4 452.3 L535.9 448.4 L535.4 445.7 L534.9 443.5 L534.4 437.6 L533.9 434.5 L533.4 436.2 L532.9 435.4 L532.4 437.6 L531.9 438.6 L531.4 444.0 L530.9 444.5 L530.4 449.8 L529.9 451.5 L529.4 453.2 L528.9 452.5 L528.4 450.4 L527.9 449.4 L527.4 448.8 L526.9 445.6 L526.4 440.3 L525.9 434.2 L525.4 432.7 L524.9 435.9 L524.4 439.0 L523.9 439.8 L523.4 438.7 L522.9 437.9 L522.4 440.8 L521.9 441.6 L521.4 448.2 L520.9 449.9 L520.4 452.6 L519.9 455.2 L519.4 457.7 L518.9 455.1 L518.4 449.3 L517.9 445.5 L517.4 439.9 L516.9 436.3 L516.4 431.0 L515.9 428.5 L515.4 429.7 L514.9 429.5 L514.4 434.2 L513.9 433.4 L513.4 436.3 L512.9 438.4 L512.4 445.0 L511.9 449.2 L511.4 446.6 L510.9 449.8 L510.4 452.2 L509.9 452.4 L509.4 449.7 L508.9 446.3 L508.4 443.9 L507.9 441.5 L507.4 436.3 L506.9 433.6 L506.4 432.5 L505.9 428.6 L505.4 429.7 L504.9 427.1 L504.4 422.0 L503.9 417.6 L503.4 413.4 L502.9 411.0 L502.4 406.6 L501.9 405.9 L501.4 404.6 L500.9 408.2 L500.4 409.1 L499.9 410.7 L499.4 411.8 L498.9 413.0 L498.4 413.9 L497.9 412.7 L497.4 413.7 L496.9 417.5 L496.4 418.7 L495.9 419.3 L495.4 419.7 L494.9 422.9 L494.4 424.9 L493.9 425.5 L493.4 419.0 L492.9 413.0 L492.4 412.6 L491.9 412.0 L491.4 416.8 L490.9 416.8 L490.4 418.9 L489.9 421.5 L489.4 423.4 L488.9 431.5 L488.4 432.1 L487.9 429.5 L487.4 429.7 L486.9 430.2 L486.4 428.7 L485.9 427.5 L485.4 423.7 L484.9 419.5 L484.4 419.2 L483.9 419.1 L483.4 419.1 L482.9 421.7 L482.4 423.9 L481.9 425.7 L481.4 426.9 L480.9 428.9 L480.4 430.6 L479.9 428.8 L479.4 426.5 L478.9 425.1 L478.4 425.0 L477.9 422.2 L477.4 419.1 L476.9 414.0 L476.4 414.2 L475.9 414.2 L475.4 413.9 L474.9 419.4 L474.4 419.0 L473.9 419.3 L473.4 424.4 L472.9 426.3 L472.4 429.8 L471.9 432.8 L471.4 436.5 L470.9 434.6 L470.4 431.9 L469.9 434.1 L469.4 436.0 L468.9 436.9 L468.4 438.5 L467.9 441.9 L467.4 440.8 L466.9 439.0 L466.4 436.6 L465.9 433.7 L465.4 434.7 L464.9 436.2 L464.4 436.5 L463.9 435.6 L463.4 433.8 L462.9 432.0 L462.4 429.1 L461.9 431.9 L461.4 435.6 L460.9 438.0 L460.4 438.6 L459.9 441.9 L459.4 444.4 L458.9 450.1 L458.4 452.1 L457.9 450.2 L457.4 445.2 L456.9 444.3 L456.4 443.8 L455.9 447.4 L455.4 448.4 L454.9 448.6 L454.4 455.6 L453.9 462.6 L453.4 466.9 L452.9 471.5 L452.4 468.3 L451.9 467.0 L451.4 463.6 L450.9 461.3 L450.4 463.0 L449.9 464.3 L449.4 468.7 L448.9 470.4 L448.4 473.7 L447.9 474.7 L447.4 477.8 L446.9 480.4 L446.4 484.8 L445.9 488.7 L445.4 491.7 L444.9 489.3 L444.4 486.8 L443.9 484.1 L443.4 482.2 L442.9 482.2 L442.4 480.3 L441.9 477.3 L441.4 475.0 L440.9 473.4 L440.4 473.0 L439.9 474.4 L439.4 473.8 L438.9 469.1 L438.4 461.7 L437.9 462.6 L437.4 464.6 L436.9 464.6 L436.4 467.4 L435.9 468.1 L435.4 468.6 L434.9 476.2 L434.4 476.8 L433.9 478.1 L433.4 484.2 L432.9 486.2 L432.4 487.1 L431.9 488.8 L431.4 486.6 L430.9 485.3 L430.4 482.2 L429.9 478.9 L429.4 476.0 L428.9 471.6 L428.4 469.8 L427.9 466.4 L427.4 461.2 L426.9 457.1 L426.4 455.2 L425.9 456.2 L425.4 456.3 L424.9 457.3 L424.4 457.1 L423.9 454.3 L423.4 452.5 L422.9 449.3 L422.4 442.4 L421.9 438.2 L421.4 436.1 L420.9 434.3 L420.4 435.5 L419.9 439.6 L419.4 440.0 L418.9 440.1 L418.4 440.7 L417.9 444.8 L417.4 447.8 L416.9 447.0 L416.4 439.2 L415.9 433.8 L415.4 432.8 L414.9 432.5 L414.4 433.3 L413.9 438.8 L413.4 440.3 L412.9 434.8 L412.4 429.4 L411.9 425.1 L411.4 424.0 L410.9 422.2 L410.4 414.1 L409.9 410.9 L409.4 412.5 L408.9 415.3 L408.4 417.8 L407.9 419.3 L407.4 422.2 L406.9 421.8 L406.4 422.0 L405.9 420.7 L405.4 420.0 L404.9 414.2 L404.4 409.6 L403.9 405.1 L403.4 397.6 L402.9 391.2 L402.4 386.6 L401.9 387.2 L401.4 383.7 L400.9 380.2 L400.4 371.9 L399.9 364.1 L399.4 355.0 L398.9 343.7 L398.4 333.2 L397.9 322.3Z" fill="#ff0000" stroke="#ff0000" stroke-width="1.20" stroke-linejoin="round"/>
<path d="M397.7 316.3 L398.4 327.0 L399.1 350.3 L399.8 358.6 L400.5 380.6 L401.2 378.3 L401.9 387.4 L402.6 387.7 L403.3 395.9 L404.0 412.8 L404.7 416.2 L405.4 418.2 L406.1 417.3 L406.8 418.4 L407.5 411.7 L408.2 416.1 L408.9 414.7 L409.6 413.7 L410.3 414.6 L411.0 421.6 L411.7 430.7 L412.4 428.0 L413.1 432.3 L413.8 434.5 L414.5 424.3 L415.2 429.9 L415.9 433.7 L416.6 445.0 L417.3 439.1 L418.0 436.8 L418.7 437.5 L419.4 439.6 L420.1 433.7 L420.8 428.5 L421.5 432.7 L422.2 444.6 L422.9 441.4 L423.6 448.0 L424.3 460.2 L425.0 459.8 L425.7 455.6 L426.4 451.8 L427.1 465.7 L427.8 466.4 L428.5 470.5 L429.2 466.7 L429.9 472.9 L430.6 485.8 L431.3 488.0 L432.0 481.8 L432.7 487.8 L433.4 478.7 L434.1 476.5 L434.8 472.3 L435.5 464.2 L436.2 467.1 L436.9 460.6 L437.6 459.4 L438.3 459.5 L439.0 471.1 L439.7 473.1 L440.4 475.2 L441.1 473.1 L441.8 481.5 L442.5 485.4 L443.2 477.6 L443.9 476.8 L444.6 490.0 L445.3 485.3 L446.0 479.2 L446.7 477.5 L447.4 477.9 L448.1 476.5 L448.8 465.8 L449.5 465.8 L450.2 458.6 L450.9 459.4 L451.6 462.1 L452.3 468.6 L453.0 457.9 L453.7 453.9 L454.4 456.3 L455.1 443.7 L455.8 451.8 L456.5 439.5 L457.2 437.3 L457.9 446.0 L458.6 444.8 L459.3 445.2 L460.0 439.3 L460.7 430.8 L461.4 440.0 L462.1 428.3 L462.8 435.6 L463.5 434.5 L464.2 433.1 L464.9 434.6 L465.6 432.2 L466.3 438.8 L467.0 438.7 L467.7 441.1 L468.4 438.1 L469.1 434.5 L469.8 431.0 L470.5 432.7 L471.2 428.7 L471.9 436.7 L472.6 431.2 L473.3 422.9 L474.0 423.9 L474.7 409.4 L475.4 405.6 L476.1 409.0 L476.8 405.7 L477.5 421.0 L478.2 427.6 L478.9 425.0 L479.6 423.0 L480.3 432.8 L481.0 421.7 L481.7 423.2 L482.4 415.1 L483.1 419.1 L483.8 420.6 L484.5 421.0 L485.2 421.0 L485.9 418.8 L486.6 428.2 L487.3 425.2 L488.0 436.3 L488.7 430.0 L489.4 427.8 L490.1 417.4 L490.8 415.6 L491.5 411.6 L492.2 417.6 L492.9 405.4 L493.6 423.3 L494.3 420.3 L495.0 412.2 L495.7 411.2 L496.4 421.1 L497.1 406.4 L497.8 409.2 L498.5 406.4 L499.2 412.3 L499.9 406.0 L500.6 403.7 L501.3 399.9 L502.0 398.3 L502.7 402.8 L503.4 418.9 L504.1 418.8 L504.8 420.3 L505.5 429.3 L506.2 434.5 L506.9 434.0 L507.6 439.7 L508.3 445.8 L509.0 450.7 L509.7 455.6 L510.4 444.2 L511.1 447.0 L511.8 443.5 L512.5 430.5 L513.2 429.8 L513.9 430.5 L514.6 435.1 L515.3 427.0 L516.0 433.5 L516.7 435.5 L517.4 435.1 L518.1 446.8 L518.8 453.6 L519.5 458.7 L520.2 455.1 L520.9 447.5 L521.6 443.4 L522.3 433.1 L523.0 437.8 L523.7 436.9 L524.4 433.1 L525.1 438.3 L525.8 432.3 L526.5 448.6 L527.2 444.2 L527.9 445.5 L528.6 456.7 L529.3 456.4 L530.0 447.8 L530.7 436.5 L531.4 445.0 L532.1 435.8 L532.8 434.9 L533.5 437.7 L534.2 432.9 L534.9 440.4 L535.6 447.6 L536.3 451.8 L537.0 448.1 L537.7 442.0 L538.4 450.6 L539.1 451.2 L539.8 445.9 L540.5 445.3 L541.2 442.0 L541.9 436.0 L542.6 433.8 L543.3 433.8 L544.0 429.7 L544.7 418.8 L545.4 416.7 L546.1 416.0 L546.8 410.6 L547.5 426.1 L548.2 437.2 L548.9 433.8 L549.6 439.7 L550.3 449.1 L551.0 452.8 L551.7 453.1 L552.4 459.6 L553.1 455.9 L553.8 457.3 L554.5 452.2 L555.2 445.3 L555.9 437.0 L556.6 431.9 L557.3 428.8 L558.0 424.1 L558.7 417.1 L559.4 421.9 L560.1 416.1 L560.8 408.2 L561.5 402.6 L562.2 418.6 L562.9 414.4 L563.6 424.3 L564.3 428.0 L565.0 433.5 L565.7 438.2 L566.4 448.1 L567.1 450.8 L567.8 448.2 L568.5 446.0 L569.2 448.8 L569.9 453.2 L570.6 439.9 L571.3 453.1 L572.0 438.1 L572.7 438.8 L573.4 440.3 L574.1 432.4 L574.8 430.4 L575.5 443.3 L576.2 438.6 L576.9 445.1 L577.6 435.8 L578.3 433.3 L579.0 438.7 L579.7 445.3 L580.4 447.2 L581.1 441.2 L581.8 449.5 L582.5 460.4 L583.2 447.3 L583.9 454.6 L584.6 460.5 L585.3 455.0 L586.0 455.1 L586.7 456.0 L587.4 448.3 L588.1 448.9 L588.8 460.0 L589.5 450.9 L590.2 447.9 L590.9 452.0 L591.6 439.6 L592.3 441.7 L593.0 449.3 L593.7 441.6 L594.4 435.3 L595.1 442.4 L595.8 441.6 L596.5 444.1 L597.2 431.8 L597.9 440.4 L598.6 438.5 L599.3 443.2 L600.0 441.2 L600.7 444.3 L601.4 442.2 L602.1 448.2 L602.8 450.9 L603.5 454.1 L604.2 465.0 L604.9 459.6 L605.6 458.4 L606.3 464.4 L607.0 468.3 L607.7 470.3 L608.4 466.3 L609.1 465.0 L609.8 463.1 L610.5 458.9 L611.2 463.8 L611.9 460.0 L612.6 452.5 L613.3 458.8 L614.0 443.2 L614.7 438.3 L615.4 445.1 L616.1 436.9 L616.8 434.7 L617.5 430.9 L618.2 431.8 L618.9 427.5 L619.6 439.3 L620.3 444.9 L621.0 446.6 L621.7 450.9 L622.4 453.4 L623.1 443.3 L623.8 446.9 L624.5 446.0 L625.2 438.9 L625.9 439.3 L626.6 427.2 L627.3 421.5 L628.0 430.9 L628.7 423.2 L629.4 427.8 L630.1 417.9 L630.8 415.8 L631.5 409.4 L632.2 413.3 L632.9 410.4 L633.6 413.4 L634.3 406.9 L635.0 400.4 L635.7 392.3 L636.4 399.0 L637.1 398.3 L637.8 402.9 L638.5 411.0 L639.2 422.7 L639.9 418.9 L640.6 423.3 L641.3 425.0 L642.0 420.3 L642.7 420.6 L643.4 415.3 L644.1 433.3 L644.8 435.2 L645.5 432.4 L646.2 438.7 L646.9 441.4 L647.6 440.3 L648.3 440.0 L649.0 438.9 L649.7 451.5 L650.4 445.9 L651.1 459.5 L651.8 464.1 L652.5 462.7 L653.2 467.6 L653.9 457.8 L654.6 461.2 L655.3 447.9 L656.0 450.1 L656.7 453.6 L657.4 449.1 L658.1 441.9 L658.8 436.9 L659.5 438.3 L660.2 432.6 L660.9 431.5 L661.6 427.2 L662.3 429.2 L663.0 429.5 L663.7 415.7 L664.4 413.1 L665.1 414.7 L665.8 421.8 L666.5 428.7 L667.2 420.0 L667.9 429.1 L668.6 422.1" fill="none" stroke="#ff0000" stroke-width="1.15" stroke-linejoin="round"/>
<path d="M397.9 311.1 L398.4 324.0 L398.9 337.9 L399.4 349.7 L399.9 358.0 L400.4 367.6 L400.9 378.1 L401.4 388.6 L401.9 392.8 L402.4 399.2 L402.9 404.9 L403.4 414.8 L403.9 420.1 L404.4 427.0 L404.9 431.8 L405.4 434.9 L405.9 439.4 L406.4 442.0 L406.9 447.4 L407.4 450.6 L407.9 449.6 L408.4 452.0 L408.9 452.9 L409.4 455.1 L409.9 457.0 L410.4 451.9 L410.9 451.0 L411.4 451.6 L411.9 451.5 L412.4 449.3 L412.9 449.5 L413.4 449.4 L413.9 453.3 L414.4 454.1 L414.9 458.2 L415.4 458.4 L415.9 457.5 L416.4 456.4 L416.9 456.1 L417.4 454.1 L417.9 455.6 L418.4 454.7 L418.9 452.5 L419.4 453.2 L419.9 452.4 L420.4 451.5 L420.9 452.2 L421.4 450.4 L421.9 449.3 L422.4 451.9 L422.9 449.9 L423.4 448.9 L423.9 449.2 L424.4 448.2 L424.9 454.2 L425.4 455.0 L425.9 457.8 L426.4 456.6 L426.9 456.8 L427.4 458.0 L427.9 460.7 L428.4 459.1 L428.9 458.0 L429.4 458.7 L429.9 457.2 L430.4 456.9 L430.9 456.7 L431.4 456.8 L431.9 453.3 L432.4 452.0 L432.9 449.8 L433.4 450.7 L433.9 451.3 L434.4 451.6 L434.9 452.4 L435.4 446.0 L435.9 446.0 L436.4 449.0 L436.9 452.6 L437.4 452.6 L437.9 453.7 L438.4 453.0 L438.9 447.6 L439.4 447.5 L439.9 442.3 L440.4 440.4 L440.9 440.3 L441.4 440.7 L441.9 438.9 L442.4 435.8 L442.9 436.1 L443.4 438.5 L443.9 439.9 L444.4 445.4 L444.9 451.3 L445.4 453.2 L445.9 450.2 L446.4 448.9 L446.9 447.4 L447.4 444.8 L447.9 439.4 L448.4 438.6 L448.9 437.3 L449.4 437.3 L449.9 441.8 L450.4 440.5 L450.9 440.0 L451.4 438.4 L451.9 438.4 L452.4 440.0 L452.9 439.6 L453.4 438.4 L453.9 437.1 L454.4 436.9 L454.9 434.7 L455.4 432.3 L455.9 432.6 L456.4 431.9 L456.9 432.1 L457.4 432.3 L457.9 433.8 L458.4 436.8 L458.9 439.6 L459.4 442.1 L459.9 442.0 L460.4 448.1 L460.9 446.5 L461.4 444.8 L461.9 444.8 L462.4 444.7 L462.9 445.5 L463.4 445.6 L463.9 447.0 L464.4 449.7 L464.9 450.0 L465.4 453.5 L465.9 450.9 L466.4 451.2 L466.9 452.6 L467.4 452.1 L467.9 450.9 L468.4 448.4 L468.9 443.8 L469.4 442.7 L469.9 437.6 L470.4 436.0 L470.9 436.0 L471.4 433.5 L471.9 433.5 L472.4 432.4 L472.9 434.9 L473.4 435.1 L473.9 434.8 L474.4 436.7 L474.9 437.4 L475.4 437.7 L475.9 437.8 L476.4 438.6 L476.9 440.0 L477.4 440.2 L477.9 441.2 L478.4 442.9 L478.9 444.8 L479.4 445.4 L479.9 446.7 L480.4 447.6 L480.9 449.0 L481.4 452.0 L481.9 454.6 L482.4 456.6 L482.9 457.4 L483.4 457.6 L483.9 456.6 L484.4 456.6 L484.9 461.5 L485.4 464.6 L485.9 465.2 L486.4 465.2 L486.9 465.3 L487.4 465.1 L487.9 462.6 L488.4 456.6 L488.9 451.2 L489.4 447.9 L489.9 449.1 L490.4 442.2 L490.9 435.9 L491.4 430.8 L491.9 428.0 L492.4 427.4 L492.9 427.9 L493.4 429.1 L493.9 425.7 L494.4 425.7 L494.9 426.7 L495.4 426.1 L495.9 429.8 L496.4 430.8 L496.9 430.4 L497.4 432.0 L497.9 433.5 L498.4 435.1 L498.9 436.6 L499.4 437.3 L499.9 436.5 L500.4 439.0 L500.9 439.7 L501.4 439.1 L501.9 437.7 L502.4 436.3 L502.9 438.3 L503.4 436.4 L503.9 436.9 L504.4 433.9 L504.9 434.2 L505.4 435.3 L505.9 435.1 L506.4 435.0 L506.9 435.2 L507.4 438.0 L507.9 436.2 L508.4 435.7 L508.9 436.5 L509.4 437.1 L509.9 433.0 L510.4 434.4 L510.9 433.4 L511.4 436.0 L511.9 435.6 L512.4 436.0 L512.9 435.5 L513.4 433.9 L513.9 436.2 L514.4 429.9 L514.9 427.1 L515.4 421.9 L515.9 419.1 L516.4 418.1 L516.9 417.3 L517.4 416.1 L517.9 414.9 L518.4 414.9 L518.9 415.1 L519.4 415.1 L519.9 417.8 L520.4 422.7 L520.9 426.6 L521.4 427.9 L521.9 428.6 L522.4 431.5 L522.9 431.7 L523.4 432.5 L523.9 436.5 L524.4 434.8 L524.9 435.6 L525.4 433.4 L525.9 431.9 L526.4 431.0 L526.9 427.4 L527.4 427.3 L527.9 430.1 L528.4 431.0 L528.9 432.8 L529.4 433.9 L529.9 435.9 L530.4 437.4 L530.9 440.7 L531.4 445.0 L531.9 444.1 L532.4 445.2 L532.9 444.6 L533.4 444.9 L533.9 446.2 L534.4 447.4 L534.9 450.4 L535.4 451.8 L535.9 451.7 L536.4 452.2 L536.9 447.5 L537.4 445.7 L537.9 443.4 L538.4 441.8 L538.9 439.1 L539.4 439.8 L539.9 440.6 L540.4 437.4 L540.9 437.4 L541.4 439.9 L541.9 433.7 L542.4 432.6 L542.9 432.4 L543.4 431.4 L543.9 426.8 L544.4 426.8 L544.9 427.8 L545.4 426.8 L545.9 428.6 L546.4 429.4 L546.9 431.9 L547.4 432.0 L547.9 431.2 L548.4 430.6 L548.9 432.9 L549.4 435.9 L549.9 436.1 L550.4 436.1 L550.9 439.7 L551.4 442.7 L551.9 443.0 L552.4 443.5 L552.9 444.8 L553.4 444.7 L553.9 445.3 L554.4 445.6 L554.9 446.1 L555.4 445.5 L555.9 444.2 L556.4 442.5 L556.9 441.5 L557.4 440.9 L557.9 439.0 L558.4 436.8 L558.9 437.0 L559.4 434.6 L559.9 434.6 L560.4 434.5 L560.9 429.8 L561.4 431.4 L561.9 431.5 L562.4 429.7 L562.9 429.1 L563.4 428.7 L563.9 428.4 L564.4 430.2 L564.9 430.7 L565.4 428.4 L565.9 428.1 L566.4 427.4 L566.9 426.4 L567.4 429.0 L567.9 430.2 L568.4 431.7 L568.9 432.0 L569.4 431.9 L569.9 431.3 L570.4 431.4 L570.9 434.6 L571.4 432.2 L571.9 432.2 L572.4 432.7 L572.9 432.6 L573.4 434.2 L573.9 431.9 L574.4 431.5 L574.9 431.5 L575.4 431.9 L575.9 436.0 L576.4 436.3 L576.9 435.9 L577.4 436.9 L577.9 437.9 L578.4 440.1 L578.9 442.1 L579.4 442.8 L579.9 443.8 L580.4 444.1 L580.9 444.5 L581.4 447.7 L581.9 444.5 L582.4 443.7 L582.9 439.5 L583.4 439.1 L583.9 437.7 L584.4 435.8 L584.9 434.2 L585.4 435.6 L585.9 431.3 L586.4 432.7 L586.9 431.1 L587.4 428.6 L587.9 425.3 L588.4 423.0 L588.9 424.2 L589.4 422.5 L589.9 422.7 L590.4 421.3 L590.9 422.2 L591.4 418.4 L591.9 416.1 L592.4 418.3 L592.9 417.2 L593.4 417.5 L593.9 416.4 L594.4 416.8 L594.9 416.6 L595.4 417.0 L595.9 417.2 L596.4 417.2 L596.9 418.8 L597.4 419.8 L597.9 418.9 L598.4 420.7 L598.9 421.6 L599.4 423.2 L599.9 421.5 L600.4 422.4 L600.9 421.5 L601.4 422.8 L601.9 424.3 L602.4 428.6 L602.9 427.8 L603.4 427.2 L603.9 428.5 L604.4 429.3 L604.9 428.5 L605.4 424.6 L605.9 423.4 L606.4 424.3 L606.9 425.4 L607.4 426.2 L607.9 426.8 L608.4 427.7 L608.9 428.1 L609.4 431.4 L609.9 430.5 L610.4 432.1 L610.9 433.4 L611.4 432.0 L611.9 430.0 L612.4 432.3 L612.9 430.4 L613.4 427.5 L613.9 426.8 L614.4 428.7 L614.9 426.2 L615.4 422.6 L615.9 421.3 L616.4 422.0 L616.9 419.8 L617.4 419.2 L617.9 414.8 L618.4 413.3 L618.9 415.9 L619.4 418.6 L619.9 418.8 L620.4 418.9 L620.9 419.4 L621.4 421.5 L621.9 419.5 L622.4 419.5 L622.9 423.7 L623.4 424.0 L623.9 422.5 L624.4 421.8 L624.9 422.8 L625.4 424.9 L625.9 425.4 L626.4 426.2 L626.9 431.6 L627.4 435.2 L627.9 434.1 L628.4 434.4 L628.9 435.0 L629.4 437.1 L629.9 441.3 L630.4 442.8 L630.9 443.2 L631.4 444.2 L631.9 444.5 L632.4 444.5 L632.9 447.0 L633.4 447.3 L633.9 447.9 L634.4 448.6 L634.9 449.6 L635.4 448.7 L635.9 448.7 L636.4 450.6 L636.9 454.9 L637.4 448.7 L637.9 448.7 L638.4 449.7 L638.9 445.4 L639.4 445.0 L639.9 441.3 L640.4 442.3 L640.9 441.4 L641.4 440.6 L641.9 439.6 L642.4 440.0 L642.9 440.8 L643.4 439.2 L643.9 436.5 L644.4 437.0 L644.9 438.8 L645.4 439.2 L645.9 438.9 L646.4 437.4 L646.9 438.7 L647.4 434.5 L647.9 434.5 L648.4 434.8 L648.9 434.8 L649.4 435.3 L649.9 436.8 L650.4 436.9 L650.9 437.0 L651.4 435.6 L651.9 434.8 L652.4 432.5 L652.9 431.7 L653.4 434.0 L653.9 436.4 L654.4 439.0 L654.9 434.9 L655.4 434.7 L655.9 437.1 L656.4 438.6 L656.9 439.8 L657.4 440.1 L657.9 438.4 L658.4 435.9 L658.9 435.6 L659.4 437.4 L659.9 439.3 L660.4 442.7 L660.9 442.2 L661.4 443.4 L661.9 441.9 L662.4 444.6 L662.9 444.9 L663.4 445.2 L663.9 448.6 L664.4 446.0 L664.9 446.6 L665.4 447.3 L665.9 444.6 L666.4 444.9 L666.9 446.0 L667.4 445.2 L667.9 443.7 L668.4 445.7 L668.8 443.3 L668.8 447.3 L668.4 449.5 L667.9 446.2 L667.4 448.2 L666.9 448.2 L666.4 447.7 L665.9 448.0 L665.4 448.9 L664.9 448.7 L664.4 449.5 L663.9 450.3 L663.4 450.4 L662.9 447.6 L662.4 446.1 L661.9 446.8 L661.4 446.8 L660.9 445.0 L660.4 445.7 L659.9 443.4 L659.4 440.3 L658.9 439.1 L658.4 439.7 L657.9 441.2 L657.4 441.7 L656.9 441.2 L656.4 441.4 L655.9 439.2 L655.4 438.5 L654.9 439.2 L654.4 441.2 L653.9 440.5 L653.4 436.4 L652.9 434.0 L652.4 437.1 L651.9 437.7 L651.4 438.7 L650.9 439.0 L650.4 438.3 L649.9 438.6 L649.4 437.5 L648.9 438.3 L648.4 436.9 L647.9 436.3 L647.4 439.4 L646.9 442.1 L646.4 439.5 L645.9 441.6 L645.4 441.1 L644.9 440.7 L644.4 439.4 L643.9 440.0 L643.4 442.4 L642.9 442.9 L642.4 444.0 L641.9 442.1 L641.4 442.4 L640.9 443.0 L640.4 443.3 L639.9 445.9 L639.4 447.6 L638.9 449.9 L638.4 451.6 L637.9 451.9 L637.4 455.8 L636.9 457.1 L636.4 454.9 L635.9 454.5 L635.4 451.1 L634.9 451.1 L634.4 451.9 L633.9 450.4 L633.4 450.0 L632.9 450.0 L632.4 447.1 L631.9 447.6 L631.4 446.8 L630.9 446.0 L630.4 444.7 L629.9 443.6 L629.4 441.4 L628.9 440.3 L628.4 438.9 L627.9 437.9 L627.4 437.7 L626.9 435.5 L626.4 432.1 L625.9 427.3 L625.4 426.7 L624.9 427.8 L624.4 423.6 L623.9 424.9 L623.4 426.7 L622.9 426.7 L622.4 424.4 L621.9 423.0 L621.4 423.5 L620.9 421.5 L620.4 421.5 L619.9 421.7 L619.4 422.1 L618.9 418.7 L618.4 415.9 L617.9 419.6 L617.4 421.0 L616.9 422.1 L616.4 424.1 L615.9 425.3 L615.4 426.8 L614.9 428.8 L614.4 430.0 L613.9 430.0 L613.4 432.7 L612.9 433.2 L612.4 435.3 L611.9 433.0 L611.4 436.6 L610.9 437.0 L610.4 434.9 L609.9 432.1 L609.4 435.3 L608.9 435.3 L608.4 430.6 L607.9 429.4 L607.4 428.9 L606.9 427.9 L606.4 427.5 L605.9 425.1 L605.4 428.6 L604.9 430.6 L604.4 432.3 L603.9 431.7 L603.4 428.9 L602.9 430.6 L602.4 430.8 L601.9 428.6 L601.4 427.0 L600.9 423.1 L600.4 425.0 L599.9 424.3 L599.4 426.8 L598.9 424.2 L598.4 422.2 L597.9 422.2 L597.4 422.0 L596.9 421.2 L596.4 421.6 L595.9 419.9 L595.4 419.9 L594.9 418.7 L594.4 420.7 L593.9 419.3 L593.4 420.7 L592.9 420.7 L592.4 420.1 L591.9 419.5 L591.4 422.7 L590.9 423.4 L590.4 423.8 L589.9 423.6 L589.4 425.8 L588.9 426.6 L588.4 426.1 L587.9 428.6 L587.4 431.1 L586.9 435.4 L586.4 436.8 L585.9 436.9 L585.4 439.0 L584.9 436.7 L584.4 439.5 L583.9 440.0 L583.4 442.3 L582.9 445.0 L582.4 445.9 L581.9 452.4 L581.4 452.4 L580.9 448.3 L580.4 446.6 L579.9 446.6 L579.4 446.0 L578.9 446.2 L578.4 444.1 L577.9 440.5 L577.4 440.1 L576.9 437.7 L576.4 439.9 L575.9 440.3 L575.4 436.0 L574.9 433.3 L574.4 433.8 L573.9 434.5 L573.4 436.7 L572.9 435.1 L572.4 435.5 L571.9 435.5 L571.4 436.3 L570.9 436.1 L570.4 435.3 L569.9 433.5 L569.4 434.0 L568.9 434.3 L568.4 433.0 L567.9 433.1 L567.4 430.3 L566.9 430.1 L566.4 429.1 L565.9 429.0 L565.4 433.2 L564.9 433.2 L564.4 433.0 L563.9 430.4 L563.4 431.3 L562.9 431.6 L562.4 432.4 L561.9 432.7 L561.4 433.4 L560.9 435.0 L560.4 435.8 L559.9 437.5 L559.4 437.6 L558.9 439.2 L558.4 439.0 L557.9 443.1 L557.4 442.8 L556.9 444.4 L556.4 446.0 L555.9 446.1 L555.4 448.1 L554.9 449.0 L554.4 448.3 L553.9 446.4 L553.4 446.3 L552.9 446.2 L552.4 446.3 L551.9 445.2 L551.4 444.6 L550.9 443.9 L550.4 440.4 L549.9 441.1 L549.4 442.3 L548.9 436.0 L548.4 436.0 L547.9 433.7 L547.4 434.7 L546.9 433.5 L546.4 434.1 L545.9 432.2 L545.4 432.9 L544.9 430.4 L544.4 431.2 L543.9 432.5 L543.4 434.1 L542.9 435.3 L542.4 434.2 L541.9 439.9 L541.4 441.8 L540.9 442.2 L540.4 442.2 L539.9 442.7 L539.4 442.4 L538.9 442.6 L538.4 443.7 L537.9 446.5 L537.4 447.6 L536.9 452.9 L536.4 455.7 L535.9 453.0 L535.4 454.9 L534.9 451.9 L534.4 451.7 L533.9 448.5 L533.4 448.4 L532.9 447.2 L532.4 447.7 L531.9 447.7 L531.4 448.2 L530.9 446.0 L530.4 440.7 L529.9 439.6 L529.4 436.2 L528.9 437.3 L528.4 433.9 L527.9 432.0 L527.4 431.0 L526.9 431.0 L526.4 432.7 L525.9 434.9 L525.4 438.6 L524.9 438.8 L524.4 436.9 L523.9 439.0 L523.4 438.5 L522.9 433.8 L522.4 433.7 L521.9 433.7 L521.4 430.0 L520.9 428.4 L520.4 427.8 L519.9 422.7 L519.4 418.9 L518.9 417.1 L518.4 417.0 L517.9 418.9 L517.4 418.6 L516.9 420.1 L516.4 419.1 L515.9 422.0 L515.4 427.9 L514.9 431.2 L514.4 436.5 L513.9 438.3 L513.4 436.6 L512.9 439.4 L512.4 438.0 L511.9 437.7 L511.4 437.3 L510.9 436.5 L510.4 437.8 L509.9 437.1 L509.4 438.6 L508.9 439.1 L508.4 439.7 L507.9 438.8 L507.4 441.0 L506.9 439.0 L506.4 436.9 L505.9 437.4 L505.4 437.5 L504.9 436.9 L504.4 438.9 L503.9 440.0 L503.4 439.8 L502.9 441.0 L502.4 441.0 L501.9 440.0 L501.4 443.4 L500.9 443.4 L500.4 441.9 L499.9 439.4 L499.4 439.0 L498.9 438.8 L498.4 437.9 L497.9 437.9 L497.4 435.7 L496.9 433.0 L496.4 431.9 L495.9 431.7 L495.4 431.3 L494.9 430.0 L494.4 428.5 L493.9 430.5 L493.4 431.1 L492.9 431.1 L492.4 432.4 L491.9 431.3 L491.4 435.9 L490.9 443.0 L490.4 449.6 L489.9 450.7 L489.4 451.2 L488.9 458.0 L488.4 462.8 L487.9 466.0 L487.4 468.2 L486.9 467.9 L486.4 468.4 L485.9 467.9 L485.4 467.6 L484.9 465.2 L484.4 461.5 L483.9 458.7 L483.4 458.8 L482.9 460.8 L482.4 458.3 L481.9 457.8 L481.4 455.8 L480.9 452.1 L480.4 449.9 L479.9 449.2 L479.4 448.4 L478.9 448.4 L478.4 445.4 L477.9 443.3 L477.4 444.6 L476.9 443.4 L476.4 443.0 L475.9 440.0 L475.4 440.9 L474.9 440.7 L474.4 439.5 L473.9 437.0 L473.4 438.2 L472.9 437.7 L472.4 435.2 L471.9 436.9 L471.4 436.0 L470.9 439.3 L470.4 438.3 L469.9 446.2 L469.4 446.3 L468.9 448.4 L468.4 451.8 L467.9 453.1 L467.4 454.5 L466.9 454.5 L466.4 453.7 L465.9 454.1 L465.4 455.2 L464.9 455.4 L464.4 452.2 L463.9 451.3 L463.4 448.8 L462.9 448.1 L462.4 447.4 L461.9 448.9 L461.4 447.9 L460.9 449.6 L460.4 449.7 L459.9 448.1 L459.4 444.2 L458.9 443.6 L458.4 440.9 L457.9 438.2 L457.4 433.8 L456.9 433.3 L456.4 433.7 L455.9 434.8 L455.4 434.9 L454.9 437.2 L454.4 440.1 L453.9 439.0 L453.4 440.5 L452.9 442.8 L452.4 442.9 L451.9 442.9 L451.4 440.1 L450.9 442.2 L450.4 443.1 L449.9 444.3 L449.4 442.4 L448.9 439.1 L448.4 440.5 L447.9 444.8 L447.4 448.1 L446.9 450.9 L446.4 452.2 L445.9 453.9 L445.4 455.7 L444.9 454.6 L444.4 451.3 L443.9 445.5 L443.4 440.7 L442.9 439.4 L442.4 439.4 L441.9 440.9 L441.4 442.1 L440.9 442.4 L440.4 443.0 L439.9 448.9 L439.4 449.6 L438.9 453.3 L438.4 457.8 L437.9 457.8 L437.4 455.3 L436.9 456.8 L436.4 456.8 L435.9 451.0 L435.4 452.7 L434.9 454.4 L434.4 454.3 L433.9 455.8 L433.4 452.1 L432.9 453.9 L432.4 454.6 L431.9 459.2 L431.4 459.8 L430.9 458.8 L430.4 459.6 L429.9 461.8 L429.4 461.4 L428.9 461.7 L428.4 463.9 L427.9 463.7 L427.4 461.2 L426.9 460.1 L426.4 459.5 L425.9 460.5 L425.4 458.3 L424.9 456.9 L424.4 454.2 L423.9 450.9 L423.4 451.8 L422.9 452.5 L422.4 454.7 L421.9 453.4 L421.4 453.1 L420.9 455.2 L420.4 455.6 L419.9 455.4 L419.4 456.3 L418.9 455.8 L418.4 457.2 L417.9 457.4 L417.4 457.6 L416.9 458.4 L416.4 460.0 L415.9 460.0 L415.4 459.8 L414.9 461.0 L414.4 458.2 L413.9 455.9 L413.4 453.7 L412.9 451.9 L412.4 452.6 L411.9 453.7 L411.4 453.2 L410.9 453.0 L410.4 459.2 L409.9 459.2 L409.4 457.8 L408.9 456.3 L408.4 455.3 L407.9 453.9 L407.4 452.0 L406.9 452.2 L406.4 448.1 L405.9 445.2 L405.4 439.5 L404.9 437.1 L404.4 431.9 L403.9 427.0 L403.4 420.1 L402.9 414.8 L402.4 405.0 L401.9 399.6 L401.4 392.8 L400.9 388.6 L400.4 378.1 L399.9 367.6 L399.4 358.0 L398.9 349.7 L398.4 337.9 L397.9 324.0Z" fill="#008000" stroke="#008000" stroke-width="1.20" stroke-linejoin="round"/>
<path d="M397.7 317.4 L398.4 330.2 L399.1 354.4 L399.8 364.7 L400.5 378.8 L401.2 391.7 L401.9 402.0 L402.6 409.3 L403.3 410.7 L404.0 423.2 L404.7 435.5 L405.4 444.0 L406.1 443.6 L406.8 445.7 L407.5 446.9 L408.2 456.1 L408.9 458.7 L409.6 455.8 L410.3 459.0 L411.0 452.0 L411.7 448.9 L412.4 456.6 L413.1 458.4 L413.8 450.7 L414.5 458.4 L415.2 460.7 L415.9 461.1 L416.6 451.1 L417.3 460.0 L418.0 450.4 L418.7 448.6 L419.4 455.7 L420.1 456.7 L420.8 450.1 L421.5 456.8 L422.2 447.1 L422.9 453.0 L423.6 456.8 L424.3 450.2 L425.0 453.8 L425.7 462.4 L426.4 464.9 L427.1 454.0 L427.8 459.9 L428.5 461.7 L429.2 454.1 L429.9 454.3 L430.6 455.5 L431.3 458.0 L432.0 450.1 L432.7 445.9 L433.4 458.2 L434.1 455.8 L434.8 458.0 L435.5 446.6 L436.2 454.4 L436.9 450.6 L437.6 456.8 L438.3 458.0 L439.0 450.0 L439.7 440.9 L440.4 448.5 L441.1 443.4 L441.8 433.1 L442.5 432.2 L443.2 439.6 L443.9 442.8 L444.6 446.1 L445.3 455.5 L446.0 449.8 L446.7 446.8 L447.4 453.3 L448.1 441.2 L448.8 441.8 L449.5 442.5 L450.2 441.1 L450.9 434.3 L451.6 444.6 L452.3 440.2 L453.0 436.7 L453.7 432.0 L454.4 438.2 L455.1 428.2 L455.8 430.5 L456.5 435.8 L457.2 430.3 L457.9 437.8 L458.6 442.3 L459.3 448.8 L460.0 442.1 L460.7 447.1 L461.4 450.9 L462.1 446.8 L462.8 442.1 L463.5 453.7 L464.2 455.2 L464.9 459.5 L465.6 455.0 L466.3 445.6 L467.0 454.0 L467.7 455.2 L468.4 453.4 L469.1 448.9 L469.8 448.5 L470.5 430.8 L471.2 431.8 L471.9 440.3 L472.6 438.7 L473.3 443.3 L474.0 431.5 L474.7 444.3 L475.4 445.4 L476.1 444.0 L476.8 435.8 L477.5 444.0 L478.2 443.1 L478.9 448.5 L479.6 454.7 L480.3 448.2 L481.0 460.7 L481.7 453.7 L482.4 463.3 L483.1 454.9 L483.8 458.3 L484.5 466.7 L485.2 469.3 L485.9 460.1 L486.6 470.5 L487.3 464.8 L488.0 464.8 L488.7 453.3 L489.4 445.7 L490.1 449.3 L490.8 440.6 L491.5 430.3 L492.2 436.8 L492.9 426.5 L493.6 424.5 L494.3 433.9 L495.0 433.2 L495.7 429.3 L496.4 428.2 L497.1 438.1 L497.8 434.8 L498.5 442.8 L499.2 434.2 L499.9 434.9 L500.6 443.9 L501.3 435.8 L502.0 436.5 L502.7 446.5 L503.4 431.3 L504.1 439.5 L504.8 435.6 L505.5 439.6 L506.2 434.2 L506.9 432.4 L507.6 442.5 L508.3 442.4 L509.0 431.0 L509.7 434.9 L510.4 430.6 L511.1 436.3 L511.8 437.6 L512.5 430.6 L513.2 432.8 L513.9 430.4 L514.6 436.0 L515.3 428.6 L516.0 416.0 L516.7 423.6 L517.4 418.8 L518.1 409.1 L518.8 417.1 L519.5 414.8 L520.2 432.1 L520.9 434.3 L521.6 427.7 L522.3 433.9 L523.0 428.7 L523.7 442.9 L524.4 429.0 L525.1 433.1 L525.8 438.3 L526.5 423.0 L527.2 432.6 L527.9 424.2 L528.6 432.6 L529.3 433.4 L530.0 434.1 L530.7 443.1 L531.4 448.0 L532.1 446.1 L532.8 450.0 L533.5 446.6 L534.2 446.3 L534.9 444.3 L535.6 459.2 L536.3 455.8 L537.0 453.5 L537.7 449.5 L538.4 444.5 L539.1 438.9 L539.8 448.5 L540.5 442.9 L541.2 437.7 L541.9 439.9 L542.6 431.2 L543.3 434.7 L544.0 430.9 L544.7 434.9 L545.4 428.9 L546.1 426.2 L546.8 431.2 L547.5 428.1 L548.2 436.5 L548.9 431.1 L549.6 437.6 L550.3 444.7 L551.0 442.9 L551.7 437.3 L552.4 440.0 L553.1 446.0 L553.8 448.4 L554.5 449.9 L555.2 445.4 L555.9 448.1 L556.6 445.0 L557.3 444.4 L558.0 438.3 L558.7 431.3 L559.4 442.3 L560.1 433.9 L560.8 429.5 L561.5 431.6 L562.2 432.6 L562.9 431.3 L563.6 436.2 L564.3 425.3 L565.0 436.5 L565.7 428.3 L566.4 422.6 L567.1 433.2 L567.8 432.4 L568.5 428.6 L569.2 432.8 L569.9 432.6 L570.6 428.5 L571.3 436.8 L572.0 439.9 L572.7 434.2 L573.4 436.4 L574.1 437.3 L574.8 433.3 L575.5 439.7 L576.2 437.8 L576.9 432.8 L577.6 443.9 L578.3 436.2 L579.0 441.6 L579.7 438.4 L580.4 442.1 L581.1 446.5 L581.8 448.7 L582.5 435.4 L583.2 442.3 L583.9 440.7 L584.6 434.6 L585.3 437.3 L586.0 439.7 L586.7 426.4 L587.4 429.6 L588.1 425.2 L588.8 426.5 L589.5 419.0 L590.2 428.9 L590.9 426.8 L591.6 420.0 L592.3 416.1 L593.0 416.5 L593.7 419.9 L594.4 421.2 L595.1 415.5 L595.8 418.5 L596.5 415.8 L597.2 417.9 L597.9 418.7 L598.6 420.8 L599.3 431.8 L600.0 424.7 L600.7 426.2 L601.4 425.6 L602.1 424.2 L602.8 435.7 L603.5 436.2 L604.2 434.0 L604.9 422.7 L605.6 424.4 L606.3 426.3 L607.0 431.5 L607.7 426.8 L608.4 423.6 L609.1 431.1 L609.8 438.1 L610.5 433.0 L611.2 437.8 L611.9 430.7 L612.6 428.0 L613.3 435.4 L614.0 427.1 L614.7 430.5 L615.4 422.9 L616.1 423.5 L616.8 419.1 L617.5 414.6 L618.2 414.4 L618.9 421.4 L619.6 425.4 L620.3 423.1 L621.0 419.8 L621.7 416.1 L622.4 420.2 L623.1 431.5 L623.8 425.6 L624.5 423.3 L625.2 428.2 L625.9 427.2 L626.6 439.7 L627.3 435.7 L628.0 439.4 L628.7 443.9 L629.4 440.4 L630.1 448.3 L630.8 449.3 L631.5 439.3 L632.2 440.4 L632.9 447.1 L633.6 456.0 L634.3 450.1 L635.0 443.1 L635.7 448.5 L636.4 452.6 L637.1 459.1 L637.8 454.3 L638.5 440.8 L639.2 439.4 L639.9 441.2 L640.6 442.4 L641.3 444.2 L642.0 439.9 L642.7 447.8 L643.4 438.2 L644.1 432.5 L644.8 432.9 L645.5 436.4 L646.2 435.2 L646.9 442.5 L647.6 428.6 L648.3 432.9 L649.0 431.4 L649.7 430.9 L650.4 444.4 L651.1 436.1 L651.8 437.5 L652.5 433.2 L653.2 442.0 L653.9 437.8 L654.6 438.6 L655.3 442.0 L656.0 438.4 L656.7 437.9 L657.4 447.7 L658.1 436.3 L658.8 439.1 L659.5 448.2 L660.2 443.7 L660.9 450.4 L661.6 444.9 L662.3 438.5 L663.0 453.3 L663.7 452.8 L664.4 445.1 L665.1 444.7 L665.8 445.3 L666.5 447.6 L667.2 440.5 L667.9 441.0 L668.6 452.1" fill="none" stroke="#008000" stroke-width="1.15" stroke-linejoin="round"/>
<rect x="384.20" y="302.50" width="297.40" height="197.30" fill="none" stroke="#262626" stroke-width="0.8"/>
<text x="397.70" y="512.99" font-size="9.39" text-anchor="middle" textLength="5.75" lengthAdjust="spacingAndGlyphs" >0</text>
<text x="451.88" y="512.99" font-size="9.39" text-anchor="middle" textLength="11.49" lengthAdjust="spacingAndGlyphs" >20</text>
<text x="506.06" y="512.99" font-size="9.39" text-anchor="middle" textLength="11.49" lengthAdjust="spacingAndGlyphs" >40</text>
<text x="560.24" y="512.99" font-size="9.39" text-anchor="middle" textLength="11.49" lengthAdjust="spacingAndGlyphs" >60</text>
<text x="614.42" y="512.99" font-size="9.39" text-anchor="middle" textLength="11.49" lengthAdjust="spacingAndGlyphs" >80</text>
<text x="668.60" y="512.99" font-size="9.39" text-anchor="middle" textLength="17.24" lengthAdjust="spacingAndGlyphs" >100</text>
<text x="377.80" y="483.70" font-size="9.39" text-anchor="end" textLength="14.37" lengthAdjust="spacingAndGlyphs" >0.0</text>
<text x="377.80" y="455.50" font-size="9.39" text-anchor="end" textLength="14.37" lengthAdjust="spacingAndGlyphs" >0.1</text>
<text x="377.80" y="427.30" font-size="9.39" text-anchor="end" textLength="14.37" lengthAdjust="spacingAndGlyphs" >0.2</text>
<text x="377.80" y="399.10" font-size="9.39" text-anchor="end" textLength="14.37" lengthAdjust="spacingAndGlyphs" >0.3</text>
<text x="377.80" y="370.90" font-size="9.39" text-anchor="end" textLength="14.37" lengthAdjust="spacingAndGlyphs" >0.4</text>
<text x="377.80" y="342.70" font-size="9.39" text-anchor="end" textLength="14.37" lengthAdjust="spacingAndGlyphs" >0.5</text>
<text x="377.80" y="314.50" font-size="9.39" text-anchor="end" textLength="14.37" lengthAdjust="spacingAndGlyphs" >0.6</text>
<path d="M397.70 499.80v2.90M451.88 499.80v2.90M506.06 499.80v2.90M560.24 499.80v2.90M614.42 499.80v2.90M668.60 499.80v2.90M384.20 480.60h-2.90M384.20 452.40h-2.90M384.20 424.20h-2.90M384.20 396.00h-2.90M384.20 367.80h-2.90M384.20 339.60h-2.90M384.20 311.40h-2.90" stroke="#262626" stroke-width="0.8" fill="none"/>
<text x="532.90" y="297.00" font-size="11.38" text-anchor="middle" textLength="103.06" lengthAdjust="spacingAndGlyphs" >Comparison for Qh</text>
<text x="532.90" y="525.41" font-size="9.39" text-anchor="middle" textLength="22.11" lengthAdjust="spacingAndGlyphs" >Time</text>
<text x="0.00" y="0.00" font-size="9.39" text-anchor="middle" textLength="12.84" lengthAdjust="spacingAndGlyphs" transform="translate(358.50 401.15) rotate(-90)">Qh</text>
<rect x="586.40" y="307.00" width="91.60" height="42.20" rx="1.6" fill="#fff" fill-opacity="0.8" stroke="#cccccc" stroke-width="0.8"/>
<path d="M589.60 314.50H608.40" stroke="#0000ff" stroke-width="1.25" />
<text x="614.10" y="317.51" font-size="9.39" text-anchor="start" textLength="60.44" lengthAdjust="spacingAndGlyphs" >Deterministic</text>
<path d="M589.60 327.40H608.40" stroke="#ff0000" stroke-width="1.25" stroke-dasharray="4.62 2.00"/>
<text x="614.10" y="330.41" font-size="9.39" text-anchor="start" textLength="54.20" lengthAdjust="spacingAndGlyphs" >White Noise</text>
<path d="M589.60 340.40H608.40" stroke="#008000" stroke-width="1.25" stroke-dasharray="8.00 2.00 1.25 2.00"/>
<text x="614.10" y="343.41" font-size="9.39" text-anchor="start" textLength="49.05" lengthAdjust="spacingAndGlyphs" >Lévy Noise</text>
<text x="517.10" y="556.20" font-family="Liberation Serif, serif" font-size="16.5" text-anchor="middle" fill="#1a1a1a">(d)</text>
</g>
<g id="pe">
<path d="M40.40 777.30 C41.98 777.10 46.65 776.85 49.90 776.10 C53.15 775.35 56.55 774.07 59.90 772.80 C63.25 771.53 66.65 769.92 70.00 768.50 C73.35 767.08 76.67 766.00 80.00 764.30 C83.33 762.60 85.00 761.67 90.00 758.30 C95.00 754.93 101.67 750.03 110.00 744.10 C118.33 738.17 129.83 729.93 140.00 722.70 C150.17 715.47 157.67 709.83 171.00 700.70 C184.33 691.57 203.50 678.92 220.00 667.90 C236.50 656.88 253.45 645.58 270.00 634.60 C286.55 623.62 311.08 607.43 319.30 602.00" fill="none" stroke="#0000ff" stroke-width="1.45" stroke-linejoin="round"/>
<path d="M40.7 776.9 L41.2 776.5 L41.7 775.9 L42.2 775.5 L42.7 775.3 L43.2 774.8 L43.7 774.6 L44.2 774.5 L44.7 774.3 L45.2 773.6 L45.7 773.0 L46.2 773.0 L46.7 772.5 L47.2 771.8 L47.7 771.7 L48.2 772.0 L48.7 771.9 L49.2 771.5 L49.7 772.3 L50.2 772.4 L50.7 773.2 L51.2 773.3 L51.7 773.9 L52.2 773.7 L52.7 773.4 L53.2 773.4 L53.7 772.9 L54.2 772.7 L54.7 772.7 L55.2 772.6 L55.7 772.5 L56.2 772.2 L56.7 771.9 L57.2 771.6 L57.7 772.0 L58.2 772.4 L58.7 772.4 L59.2 772.9 L59.7 772.9 L60.2 772.6 L60.7 772.5 L61.2 772.2 L61.7 772.8 L62.2 772.7 L62.7 773.1 L63.2 772.8 L63.7 772.8 L64.2 773.2 L64.7 773.5 L65.2 773.4 L65.7 772.8 L66.2 773.2 L66.7 773.2 L67.2 773.0 L67.7 772.7 L68.2 772.2 L68.7 772.2 L69.2 771.8 L69.7 771.8 L70.2 771.6 L70.7 771.6 L71.2 770.6 L71.7 769.5 L72.2 768.7 L72.7 768.4 L73.2 767.6 L73.7 767.2 L74.2 766.6 L74.7 766.0 L75.2 765.5 L75.7 765.3 L76.2 764.7 L76.7 764.3 L77.2 763.9 L77.7 763.8 L78.2 763.6 L78.7 763.3 L79.2 762.3 L79.7 762.2 L80.2 761.6 L80.7 761.5 L81.2 761.2 L81.7 760.9 L82.2 760.7 L82.7 760.7 L83.2 760.5 L83.7 759.3 L84.2 758.8 L84.7 758.2 L85.2 757.4 L85.7 756.6 L86.2 756.3 L86.7 756.4 L87.2 756.2 L87.7 755.3 L88.2 754.9 L88.7 754.3 L89.2 753.7 L89.7 753.1 L90.2 753.1 L90.7 753.2 L91.2 753.0 L91.7 752.7 L92.2 752.3 L92.7 751.9 L93.2 751.6 L93.7 750.9 L94.2 750.3 L94.7 750.3 L95.2 750.3 L95.7 749.9 L96.2 749.5 L96.7 748.7 L97.2 748.5 L97.7 748.0 L98.2 747.5 L98.7 747.1 L99.2 746.6 L99.7 746.2 L100.2 745.6 L100.7 745.4 L101.2 744.9 L101.7 744.7 L102.2 744.2 L102.7 744.1 L103.2 743.2 L103.7 742.2 L104.2 741.6 L104.7 741.2 L105.2 741.0 L105.7 740.1 L106.2 739.8 L106.7 739.7 L107.2 739.5 L107.7 738.9 L108.2 738.5 L108.7 738.0 L109.2 737.6 L109.7 736.8 L110.2 736.4 L110.7 736.0 L111.2 735.0 L111.7 734.7 L112.2 734.2 L112.7 733.8 L113.2 733.5 L113.7 733.1 L114.2 732.6 L114.7 732.4 L115.2 732.5 L115.7 732.4 L116.2 732.6 L116.7 732.2 L117.2 731.7 L117.7 731.3 L118.2 731.2 L118.7 730.3 L119.2 729.9 L119.7 729.4 L120.2 729.2 L120.7 728.3 L121.2 727.7 L121.7 727.6 L122.2 727.8 L122.7 727.6 L123.2 727.4 L123.7 727.4 L124.2 727.1 L124.7 727.2 L125.2 726.7 L125.7 726.7 L126.2 727.5 L126.7 727.0 L127.2 726.9 L127.7 726.8 L128.2 726.7 L128.7 726.9 L129.2 726.5 L129.7 726.2 L130.2 726.1 L130.7 725.9 L131.2 725.3 L131.7 725.5 L132.2 724.3 L132.7 723.9 L133.2 723.3 L133.7 722.0 L134.2 720.8 L134.7 719.7 L135.2 719.0 L135.7 719.1 L136.2 719.2 L136.7 719.1 L137.2 719.5 L137.7 719.5 L138.2 719.3 L138.7 719.0 L139.2 719.0 L139.7 718.5 L140.2 718.0 L140.7 717.6 L141.2 716.9 L141.7 716.8 L142.2 716.6 L142.7 715.8 L143.2 715.4 L143.7 714.9 L144.2 714.8 L144.7 715.0 L145.2 714.3 L145.7 713.5 L146.2 712.7 L146.7 711.9 L147.2 711.5 L147.7 710.7 L148.2 710.5 L148.7 709.5 L149.2 709.1 L149.7 708.6 L150.2 707.2 L150.7 706.9 L151.2 706.6 L151.7 706.5 L152.2 705.9 L152.7 705.5 L153.2 705.6 L153.7 705.9 L154.2 705.6 L154.7 706.0 L155.2 706.1 L155.7 705.9 L156.2 705.5 L156.7 705.5 L157.2 705.7 L157.7 705.2 L158.2 704.4 L158.7 703.6 L159.2 702.9 L159.7 702.5 L160.2 702.5 L160.7 702.2 L161.2 702.2 L161.7 702.3 L162.2 701.5 L162.7 701.4 L163.2 701.8 L163.7 701.5 L164.2 700.8 L164.7 700.1 L165.2 700.2 L165.7 700.3 L166.2 700.1 L166.7 699.9 L167.2 699.8 L167.7 699.2 L168.2 699.3 L168.7 699.8 L169.2 699.4 L169.7 698.8 L170.2 697.9 L170.7 698.0 L171.2 697.4 L171.7 696.3 L172.2 695.5 L172.7 695.2 L173.2 694.8 L173.7 694.1 L174.2 693.4 L174.7 692.4 L175.2 691.5 L175.7 690.8 L176.2 690.0 L176.7 689.7 L177.2 689.2 L177.7 688.5 L178.2 687.6 L178.7 687.0 L179.2 686.4 L179.7 685.8 L180.2 685.7 L180.7 685.4 L181.2 685.1 L181.7 684.1 L182.2 683.8 L182.7 683.2 L183.2 682.7 L183.7 682.1 L184.2 681.1 L184.7 681.1 L185.2 681.1 L185.7 680.7 L186.2 679.8 L186.7 679.5 L187.2 678.7 L187.7 678.2 L188.2 677.5 L188.7 677.4 L189.2 676.9 L189.7 676.1 L190.2 675.5 L190.7 675.1 L191.2 674.8 L191.7 675.1 L192.2 674.9 L192.7 674.9 L193.2 674.2 L193.7 674.3 L194.2 673.9 L194.7 673.5 L195.2 673.3 L195.7 673.7 L196.2 673.7 L196.7 673.8 L197.2 674.0 L197.7 674.6 L198.2 674.6 L198.7 674.6 L199.2 674.7 L199.7 674.8 L200.2 674.2 L200.7 673.4 L201.2 672.7 L201.7 671.8 L202.2 671.3 L202.7 671.3 L203.2 671.1 L203.7 670.0 L204.2 669.6 L204.7 668.4 L205.2 667.9 L205.7 667.3 L206.2 666.6 L206.7 665.9 L207.2 664.7 L207.7 664.6 L208.2 663.9 L208.7 663.1 L209.2 662.8 L209.7 662.3 L210.2 661.5 L210.7 661.5 L211.2 661.0 L211.7 660.0 L212.2 659.8 L212.7 659.7 L213.2 658.9 L213.7 658.5 L214.2 658.0 L214.7 657.2 L215.2 657.0 L215.7 656.9 L216.2 656.7 L216.7 656.6 L217.2 656.6 L217.7 656.5 L218.2 656.7 L218.7 656.5 L219.2 655.9 L219.7 655.7 L220.2 655.2 L220.7 654.5 L221.2 653.6 L221.7 652.7 L222.2 652.2 L222.7 651.9 L223.2 651.3 L223.7 651.2 L224.2 650.7 L224.7 649.8 L225.2 649.6 L225.7 649.7 L226.2 649.5 L226.7 648.9 L227.2 649.3 L227.7 649.1 L228.2 648.7 L228.7 648.5 L229.2 648.4 L229.7 648.2 L230.2 648.1 L230.7 648.2 L231.2 647.9 L231.7 647.7 L232.2 647.7 L232.7 647.9 L233.2 647.9 L233.7 647.6 L234.2 647.4 L234.7 647.4 L235.2 647.3 L235.7 646.3 L236.2 646.3 L236.7 646.2 L237.2 646.0 L237.7 645.7 L238.2 645.3 L238.7 645.3 L239.2 644.9 L239.7 644.7 L240.2 643.9 L240.7 643.8 L241.2 643.8 L241.7 643.3 L242.2 643.3 L242.7 643.0 L243.2 642.7 L243.7 642.4 L244.2 642.4 L244.7 642.4 L245.2 641.7 L245.7 641.7 L246.2 641.0 L246.7 641.2 L247.2 640.6 L247.7 640.6 L248.2 639.9 L248.7 639.7 L249.2 639.2 L249.7 638.5 L250.2 637.9 L250.7 637.6 L251.2 637.4 L251.7 637.7 L252.2 637.4 L252.7 636.9 L253.2 636.7 L253.7 636.6 L254.2 636.4 L254.7 636.0 L255.2 635.3 L255.7 635.4 L256.2 634.9 L256.7 634.7 L257.2 634.7 L257.7 634.5 L258.2 634.1 L258.7 633.4 L259.2 633.6 L259.7 633.6 L260.2 633.2 L260.7 632.3 L261.2 631.9 L261.7 631.8 L262.2 632.0 L262.7 630.7 L263.2 630.0 L263.7 629.3 L264.2 629.2 L264.7 628.2 L265.2 628.0 L265.7 628.2 L266.2 627.3 L266.7 626.8 L267.2 626.2 L267.7 625.3 L268.2 624.9 L268.7 624.6 L269.2 624.3 L269.7 624.1 L270.2 623.1 L270.7 622.6 L271.2 621.6 L271.7 621.2 L272.2 620.3 L272.7 619.9 L273.2 619.7 L273.7 619.1 L274.2 618.4 L274.7 618.1 L275.2 617.7 L275.7 617.3 L276.2 616.9 L276.7 616.2 L277.2 615.9 L277.7 615.5 L278.2 615.1 L278.7 614.9 L279.2 615.0 L279.7 614.7 L280.2 614.6 L280.7 614.1 L281.2 613.9 L281.7 613.3 L282.2 612.9 L282.7 612.7 L283.2 612.7 L283.7 612.5 L284.2 612.2 L284.7 611.6 L285.2 611.2 L285.7 611.1 L286.2 610.9 L286.7 611.0 L287.2 610.8 L287.7 610.8 L288.2 610.4 L288.7 609.8 L289.2 609.7 L289.7 609.4 L290.2 609.4 L290.7 609.1 L291.2 609.0 L291.7 608.4 L292.2 608.0 L292.7 607.6 L293.2 607.7 L293.7 607.4 L294.2 606.6 L294.7 606.2 L295.2 605.9 L295.7 605.8 L296.2 605.7 L296.7 605.3 L297.2 605.3 L297.7 604.9 L298.2 604.9 L298.7 604.9 L299.2 604.4 L299.7 604.0 L300.2 604.0 L300.7 603.5 L301.2 603.2 L301.7 602.8 L302.2 602.8 L302.7 602.8 L303.2 602.6 L303.7 602.3 L304.2 601.9 L304.7 601.8 L305.2 601.4 L305.7 601.4 L306.2 601.4 L306.7 601.0 L307.2 600.7 L307.7 600.3 L308.2 600.4 L308.7 600.4 L309.2 600.2 L309.7 599.9 L310.2 599.6 L310.7 598.6 L311.2 598.0 L311.7 597.4 L312.2 597.2 L312.7 597.0 L313.2 596.8 L313.7 595.8 L314.2 594.7 L314.7 594.7 L315.2 594.1 L315.7 593.9 L316.2 593.8 L316.7 593.9 L317.2 593.5 L317.7 593.2 L318.2 593.1 L318.7 593.5 L319.0 593.0 L319.0 593.8 L318.7 593.8 L318.2 593.6 L317.7 593.7 L317.2 593.9 L316.7 594.4 L316.2 594.3 L315.7 594.3 L315.2 595.0 L314.7 595.3 L314.2 595.8 L313.7 596.8 L313.2 597.2 L312.7 597.3 L312.2 597.6 L311.7 598.1 L311.2 598.6 L310.7 599.7 L310.2 600.0 L309.7 600.4 L309.2 600.9 L308.7 601.0 L308.2 601.0 L307.7 600.8 L307.2 601.2 L306.7 601.4 L306.2 602.0 L305.7 601.6 L305.2 602.5 L304.7 602.2 L304.2 602.3 L303.7 602.8 L303.2 603.0 L302.7 603.1 L302.2 603.1 L301.7 603.3 L301.2 603.6 L300.7 604.1 L300.2 604.4 L299.7 604.4 L299.2 605.2 L298.7 605.5 L298.2 605.6 L297.7 605.5 L297.2 606.0 L296.7 606.0 L296.2 606.3 L295.7 606.2 L295.2 606.7 L294.7 606.8 L294.2 607.5 L293.7 607.8 L293.2 608.2 L292.7 608.1 L292.2 608.6 L291.7 609.1 L291.2 609.3 L290.7 609.5 L290.2 610.0 L289.7 609.8 L289.2 610.0 L288.7 610.4 L288.2 610.8 L287.7 611.1 L287.2 611.7 L286.7 611.5 L286.2 611.3 L285.7 611.3 L285.2 611.7 L284.7 612.2 L284.2 612.7 L283.7 613.1 L283.2 613.1 L282.7 613.0 L282.2 613.4 L281.7 614.4 L281.2 614.3 L280.7 614.7 L280.2 614.8 L279.7 615.2 L279.2 615.3 L278.7 615.2 L278.2 615.6 L277.7 616.3 L277.2 616.2 L276.7 616.9 L276.2 617.7 L275.7 617.7 L275.2 618.3 L274.7 618.6 L274.2 619.1 L273.7 619.9 L273.2 620.1 L272.7 620.6 L272.2 621.5 L271.7 621.7 L271.2 622.7 L270.7 623.1 L270.2 624.2 L269.7 624.6 L269.2 624.8 L268.7 625.1 L268.2 625.3 L267.7 626.2 L267.2 627.0 L266.7 627.3 L266.2 628.2 L265.7 628.5 L265.2 628.4 L264.7 629.2 L264.2 629.5 L263.7 630.0 L263.2 630.7 L262.7 632.1 L262.2 632.3 L261.7 632.1 L261.2 632.6 L260.7 633.2 L260.2 633.8 L259.7 634.0 L259.2 633.9 L258.7 634.2 L258.2 634.7 L257.7 635.3 L257.2 635.2 L256.7 635.0 L256.2 635.7 L255.7 635.8 L255.2 636.0 L254.7 636.6 L254.2 637.0 L253.7 637.1 L253.2 637.0 L252.7 637.4 L252.2 637.9 L251.7 638.2 L251.2 638.0 L250.7 637.9 L250.2 638.5 L249.7 639.2 L249.2 640.0 L248.7 640.1 L248.2 640.9 L247.7 640.9 L247.2 641.6 L246.7 641.6 L246.2 641.7 L245.7 642.3 L245.2 642.6 L244.7 642.8 L244.2 642.7 L243.7 643.1 L243.2 643.5 L242.7 643.5 L242.2 643.7 L241.7 643.9 L241.2 644.2 L240.7 644.4 L240.2 644.9 L239.7 645.0 L239.2 645.9 L238.7 645.9 L238.2 645.8 L237.7 646.4 L237.2 646.6 L236.7 646.5 L236.2 646.6 L235.7 647.3 L235.2 647.9 L234.7 647.9 L234.2 647.9 L233.7 647.9 L233.2 648.4 L232.7 648.4 L232.2 648.2 L231.7 648.0 L231.2 648.4 L230.7 648.5 L230.2 648.5 L229.7 648.6 L229.2 648.8 L228.7 649.0 L228.2 649.3 L227.7 649.6 L227.2 649.7 L226.7 649.8 L226.2 649.8 L225.7 650.0 L225.2 649.9 L224.7 650.9 L224.2 651.3 L223.7 651.9 L223.2 651.9 L222.7 652.3 L222.2 653.0 L221.7 653.6 L221.2 654.6 L220.7 655.2 L220.2 655.8 L219.7 656.0 L219.2 656.5 L218.7 657.0 L218.2 657.2 L217.7 656.8 L217.2 656.9 L216.7 656.8 L216.2 657.2 L215.7 657.3 L215.2 657.3 L214.7 658.0 L214.2 658.6 L213.7 659.2 L213.2 659.8 L212.7 660.2 L212.2 660.4 L211.7 661.0 L211.2 661.6 L210.7 662.0 L210.2 662.3 L209.7 663.4 L209.2 663.4 L208.7 663.9 L208.2 664.6 L207.7 664.9 L207.2 665.9 L206.7 666.6 L206.2 667.4 L205.7 667.9 L205.2 668.4 L204.7 669.7 L204.2 670.1 L203.7 671.1 L203.2 671.5 L202.7 671.6 L202.2 672.0 L201.7 672.9 L201.2 673.7 L200.7 674.2 L200.2 675.0 L199.7 675.1 L199.2 675.1 L198.7 675.0 L198.2 675.5 L197.7 675.4 L197.2 674.7 L196.7 674.3 L196.2 674.0 L195.7 674.4 L195.2 674.1 L194.7 674.1 L194.2 674.4 L193.7 674.5 L193.2 675.0 L192.7 675.1 L192.2 675.3 L191.7 675.7 L191.2 675.4 L190.7 675.5 L190.2 676.2 L189.7 677.0 L189.2 677.4 L188.7 678.0 L188.2 678.2 L187.7 679.0 L187.2 679.5 L186.7 679.9 L186.2 680.9 L185.7 681.4 L185.2 681.4 L184.7 681.4 L184.2 682.1 L183.7 683.1 L183.2 683.3 L182.7 684.0 L182.2 684.4 L181.7 685.1 L181.2 685.6 L180.7 686.1 L180.2 686.2 L179.7 686.4 L179.2 687.3 L178.7 687.7 L178.2 688.5 L177.7 689.3 L177.2 689.9 L176.7 690.0 L176.2 690.8 L175.7 691.5 L175.2 692.4 L174.7 693.4 L174.2 694.1 L173.7 694.8 L173.2 695.4 L172.7 695.6 L172.2 696.3 L171.7 697.4 L171.2 698.7 L170.7 698.7 L170.2 698.9 L169.7 699.4 L169.2 699.9 L168.7 700.0 L168.2 699.8 L167.7 699.8 L167.2 700.1 L166.7 700.4 L166.2 700.5 L165.7 700.7 L165.2 700.6 L164.7 700.8 L164.2 701.7 L163.7 702.3 L163.2 702.3 L162.7 702.0 L162.2 702.4 L161.7 702.6 L161.2 702.6 L160.7 702.5 L160.2 702.9 L159.7 703.0 L159.2 703.6 L158.7 704.7 L158.2 705.2 L157.7 705.8 L157.2 706.2 L156.7 706.2 L156.2 706.0 L155.7 706.5 L155.2 706.4 L154.7 706.5 L154.2 706.0 L153.7 706.2 L153.2 706.3 L152.7 706.1 L152.2 706.5 L151.7 707.1 L151.2 707.1 L150.7 707.2 L150.2 708.8 L149.7 709.2 L149.2 709.7 L148.7 710.6 L148.2 710.8 L147.7 711.5 L147.2 712.0 L146.7 712.8 L146.2 713.6 L145.7 714.3 L145.2 715.1 L144.7 715.4 L144.2 715.1 L143.7 715.4 L143.2 715.9 L142.7 716.7 L142.2 717.1 L141.7 717.2 L141.2 717.6 L140.7 718.2 L140.2 718.6 L139.7 719.0 L139.2 719.3 L138.7 719.5 L138.2 719.7 L137.7 719.9 L137.2 719.8 L136.7 719.7 L136.2 719.7 L135.7 719.6 L135.2 720.0 L134.7 720.8 L134.2 722.0 L133.7 723.3 L133.2 724.2 L132.7 724.7 L132.2 725.5 L131.7 726.0 L131.2 726.1 L130.7 726.3 L130.2 726.6 L129.7 726.5 L129.2 727.1 L128.7 727.5 L128.2 727.2 L127.7 727.3 L127.2 727.3 L126.7 727.6 L126.2 727.9 L125.7 727.5 L125.2 727.4 L124.7 727.7 L124.2 727.6 L123.7 727.7 L123.2 728.2 L122.7 728.1 L122.2 728.2 L121.7 727.8 L121.2 728.3 L120.7 729.3 L120.2 729.6 L119.7 730.2 L119.2 730.5 L118.7 731.2 L118.2 731.7 L117.7 731.8 L117.2 732.4 L116.7 733.1 L116.2 733.1 L115.7 732.8 L115.2 732.9 L114.7 732.6 L114.2 733.3 L113.7 733.5 L113.2 733.9 L112.7 734.2 L112.2 735.3 L111.7 735.3 L111.2 736.0 L110.7 736.8 L110.2 736.8 L109.7 737.7 L109.2 738.0 L108.7 738.8 L108.2 738.9 L107.7 739.5 L107.2 740.0 L106.7 740.2 L106.2 740.2 L105.7 741.0 L105.2 741.4 L104.7 741.7 L104.2 742.2 L103.7 743.2 L103.2 744.4 L102.7 744.7 L102.2 744.8 L101.7 745.1 L101.2 745.6 L100.7 745.8 L100.2 746.2 L99.7 747.0 L99.2 747.2 L98.7 747.8 L98.2 748.4 L97.7 748.5 L97.2 748.7 L96.7 749.6 L96.2 750.0 L95.7 750.6 L95.2 750.7 L94.7 750.7 L94.2 750.9 L93.7 751.8 L93.2 752.2 L92.7 752.6 L92.2 752.8 L91.7 753.2 L91.2 753.2 L90.7 753.7 L90.2 753.8 L89.7 753.9 L89.2 754.8 L88.7 755.0 L88.2 755.3 L87.7 756.4 L87.2 756.7 L86.7 756.9 L86.2 756.9 L85.7 757.4 L85.2 758.2 L84.7 758.9 L84.2 759.3 L83.7 760.6 L83.2 761.1 L82.7 761.2 L82.2 761.2 L81.7 761.4 L81.2 761.8 L80.7 761.9 L80.2 762.6 L79.7 762.7 L79.2 763.5 L78.7 763.7 L78.2 764.1 L77.7 764.1 L77.2 764.5 L76.7 764.8 L76.2 765.3 L75.7 765.6 L75.2 766.4 L74.7 766.6 L74.2 767.3 L73.7 767.8 L73.2 768.4 L72.7 769.0 L72.2 769.5 L71.7 770.6 L71.2 771.7 L70.7 772.1 L70.2 772.2 L69.7 772.2 L69.2 772.7 L68.7 772.7 L68.2 772.8 L67.7 773.2 L67.2 773.3 L66.7 773.7 L66.2 773.5 L65.7 773.4 L65.2 773.9 L64.7 773.9 L64.2 773.6 L63.7 773.3 L63.2 773.2 L62.7 773.3 L62.2 773.2 L61.7 773.2 L61.2 773.0 L60.7 772.9 L60.2 773.4 L59.7 773.2 L59.2 773.4 L58.7 773.0 L58.2 772.7 L57.7 772.4 L57.2 772.1 L56.7 772.3 L56.2 772.8 L55.7 772.7 L55.2 772.9 L54.7 773.0 L54.2 773.1 L53.7 773.6 L53.2 773.6 L52.7 773.8 L52.2 774.0 L51.7 774.1 L51.2 773.9 L50.7 773.6 L50.2 773.2 L49.7 772.7 L49.2 772.3 L48.7 772.2 L48.2 772.4 L47.7 772.0 L47.2 773.0 L46.7 773.4 L46.2 773.4 L45.7 773.6 L45.2 774.4 L44.7 774.8 L44.2 774.8 L43.7 775.1 L43.2 775.4 L42.7 775.5 L42.2 776.0 L41.7 776.5 L41.2 776.9 L40.7 777.3Z" fill="#ff0000" stroke="#ff0000" stroke-width="1.00" stroke-linejoin="round"/>
<path d="M40.4 777.2 L41.1 776.8 L41.8 775.6 L42.5 775.8 L43.2 774.9 L43.9 774.9 L44.6 774.1 L45.3 772.4 L46.0 774.4 L46.7 771.7 L47.4 771.5 L48.1 771.3 L48.8 771.3 L49.5 772.7 L50.2 772.2 L50.9 773.7 L51.6 772.8 L52.3 774.8 L53.0 772.6 L53.7 773.4 L54.4 772.0 L55.1 773.8 L55.8 771.8 L56.5 771.3 L57.2 772.0 L57.9 773.0 L58.6 773.9 L59.3 774.2 L60.0 772.0 L60.7 771.4 L61.4 772.4 L62.1 773.3 L62.8 773.7 L63.5 773.5 L64.2 773.2 L64.9 773.8 L65.6 773.3 L66.3 772.3 L67.0 773.3 L67.7 773.1 L68.4 772.3 L69.1 773.3 L69.8 771.7 L70.5 771.3 L71.2 770.2 L71.9 769.6 L72.6 768.0 L73.3 767.9 L74.0 766.8 L74.7 766.6 L75.4 765.0 L76.1 765.1 L76.8 765.0 L77.5 763.5 L78.2 762.4 L78.9 763.9 L79.6 762.6 L80.3 762.0 L81.0 760.3 L81.7 760.8 L82.4 759.8 L83.1 760.7 L83.8 759.1 L84.5 758.9 L85.2 756.3 L85.9 757.8 L86.6 757.8 L87.3 756.8 L88.0 754.3 L88.7 754.1 L89.4 752.8 L90.1 754.5 L90.8 753.6 L91.5 752.4 L92.2 751.7 L92.9 753.1 L93.6 751.7 L94.3 750.4 L95.0 749.5 L95.7 748.9 L96.4 749.9 L97.1 748.7 L97.8 747.2 L98.5 746.3 L99.2 746.7 L99.9 744.9 L100.6 745.6 L101.3 744.3 L102.0 744.4 L102.7 744.8 L103.4 743.2 L104.1 741.8 L104.8 741.2 L105.5 740.0 L106.2 739.3 L106.9 740.3 L107.6 739.0 L108.3 738.7 L109.0 736.6 L109.7 735.5 L110.4 735.7 L111.1 734.7 L111.8 735.9 L112.5 735.1 L113.2 734.0 L113.9 732.7 L114.6 732.1 L115.3 731.8 L116.0 732.7 L116.7 733.2 L117.4 731.0 L118.1 732.2 L118.8 729.6 L119.5 729.4 L120.2 729.4 L120.9 727.3 L121.6 728.7 L122.3 727.6 L123.0 727.6 L123.7 727.8 L124.4 726.6 L125.1 727.2 L125.8 727.5 L126.5 726.6 L127.2 726.6 L127.9 726.4 L128.6 726.1 L129.3 725.9 L130.0 726.4 L130.7 724.9 L131.4 725.7 L132.1 723.9 L132.8 723.0 L133.5 723.0 L134.2 719.7 L134.9 719.4 L135.6 720.1 L136.3 718.6 L137.0 719.9 L137.7 719.9 L138.4 719.5 L139.1 719.5 L139.8 718.6 L140.5 717.7 L141.2 717.5 L141.9 716.7 L142.6 717.2 L143.3 714.3 L144.0 713.9 L144.7 713.9 L145.4 715.1 L146.1 711.9 L146.8 710.9 L147.5 710.8 L148.2 709.6 L148.9 709.5 L149.6 709.2 L150.3 705.9 L151.0 706.3 L151.7 706.2 L152.4 705.3 L153.1 706.8 L153.8 705.5 L154.5 705.8 L155.2 705.5 L155.9 705.3 L156.6 706.2 L157.3 705.9 L158.0 704.6 L158.7 702.9 L159.4 702.1 L160.1 702.8 L160.8 702.3 L161.5 702.5 L162.2 701.9 L162.9 702.3 L163.6 701.4 L164.3 700.6 L165.0 699.4 L165.7 699.4 L166.4 700.3 L167.1 699.5 L167.8 699.3 L168.5 701.1 L169.2 700.2 L169.9 699.1 L170.6 697.1 L171.3 697.3 L172.0 696.2 L172.7 694.9 L173.4 694.5 L174.1 694.5 L174.8 691.0 L175.5 690.1 L176.2 690.7 L176.9 690.0 L177.6 688.3 L178.3 687.5 L179.0 685.7 L179.7 686.6 L180.4 686.9 L181.1 684.6 L181.8 684.5 L182.5 683.6 L183.2 683.8 L183.9 682.4 L184.6 681.0 L185.3 682.0 L186.0 680.5 L186.7 679.0 L187.4 679.1 L188.1 676.8 L188.8 676.8 L189.5 676.7 L190.2 676.4 L190.9 675.3 L191.6 675.0 L192.3 676.1 L193.0 674.5 L193.7 674.7 L194.4 675.0 L195.1 673.6 L195.8 674.1 L196.5 673.0 L197.2 675.0 L197.9 674.3 L198.6 674.5 L199.3 674.2 L200.0 674.1 L200.7 673.7 L201.4 672.6 L202.1 672.1 L202.8 671.0 L203.5 670.5 L204.2 669.1 L204.9 667.4 L205.6 667.1 L206.3 667.1 L207.0 666.5 L207.7 663.6 L208.4 663.0 L209.1 662.6 L209.8 661.7 L210.5 661.1 L211.2 660.5 L211.9 660.1 L212.6 658.8 L213.3 659.2 L214.0 658.4 L214.7 658.3 L215.4 656.6 L216.1 657.8 L216.8 656.0 L217.5 655.5 L218.2 657.9 L218.9 655.9 L219.6 655.4 L220.3 656.0 L221.0 654.9 L221.7 653.2 L222.4 652.9 L223.1 652.2 L223.8 651.5 L224.5 651.2 L225.2 648.7 L225.9 650.7 L226.6 649.8 L227.3 650.3 L228.0 647.8 L228.7 649.1 L229.4 649.0 L230.1 649.1 L230.8 647.3 L231.5 647.6 L232.2 648.7 L232.9 647.9 L233.6 648.7 L234.3 648.8 L235.0 648.1 L235.7 647.6 L236.4 646.6 L237.1 645.8 L237.8 644.8 L238.5 645.8 L239.2 644.3 L239.9 643.6 L240.6 642.9 L241.3 643.0 L242.0 642.3 L242.7 644.3 L243.4 643.9 L244.1 642.5 L244.8 642.1 L245.5 642.1 L246.2 641.7 L246.9 641.9 L247.6 640.8 L248.3 639.8 L249.0 640.5 L249.7 639.3 L250.4 637.1 L251.1 637.6 L251.8 636.7 L252.5 636.4 L253.2 636.1 L253.9 636.3 L254.6 635.9 L255.3 635.0 L256.0 634.7 L256.7 634.1 L257.4 635.3 L258.1 634.8 L258.8 633.9 L259.5 634.2 L260.2 632.5 L260.9 632.8 L261.6 632.1 L262.3 631.2 L263.0 631.1 L263.7 628.4 L264.4 629.5 L265.1 627.1 L265.8 628.8 L266.5 628.0 L267.2 625.1 L267.9 625.2 L268.6 624.6 L269.3 625.0 L270.0 623.1 L270.7 622.6 L271.4 621.8 L272.1 621.3 L272.8 618.9 L273.5 618.3 L274.2 619.1 L274.9 619.1 L275.6 617.8 L276.3 616.3 L277.0 617.2 L277.7 614.6 L278.4 616.2 L279.1 615.2 L279.8 614.4 L280.5 613.3 L281.2 613.4 L281.9 614.3 L282.6 612.1 L283.3 613.1 L284.0 612.6 L284.7 612.2 L285.4 612.4 L286.1 612.1 L286.8 612.2 L287.5 610.2 L288.2 609.1 L288.9 610.0 L289.6 609.8 L290.3 609.4 L291.0 610.2 L291.7 608.9 L292.4 607.6 L293.1 608.7 L293.8 606.9 L294.5 606.4 L295.2 604.8 L295.9 606.3 L296.6 605.7 L297.3 605.7 L298.0 604.1 L298.7 604.7 L299.4 603.4 L300.1 604.5 L300.8 603.8 L301.5 603.0 L302.2 603.0 L302.9 603.5 L303.6 602.5 L304.3 602.2 L305.0 602.4 L305.7 602.8 L306.4 600.6 L307.1 600.4 L307.8 600.1 L308.5 600.5 L309.2 600.6 L309.9 600.9 L310.6 598.0 L311.3 597.8 L312.0 597.9 L312.7 596.2 L313.4 595.5 L314.1 594.4 L314.8 595.6 L315.5 594.2 L316.2 592.9 L316.9 593.8 L317.6 594.2 L318.3 593.9" fill="none" stroke="#ff0000" stroke-width="0.80" stroke-linejoin="round"/>
<path d="M40.7 777.3 L41.2 777.2 L41.7 777.2 L42.2 777.2 L42.7 777.2 L43.2 777.3 L43.7 777.3 L44.2 777.2 L44.7 777.8 L45.2 777.9 L45.7 776.8 L46.2 776.9 L46.7 776.9 L47.2 776.6 L47.7 776.3 L48.2 776.2 L48.7 775.8 L49.2 775.9 L49.7 776.1 L50.2 775.7 L50.7 775.2 L51.2 775.7 L51.7 775.4 L52.2 775.2 L52.7 774.6 L53.2 774.0 L53.7 773.8 L54.2 773.7 L54.7 773.5 L55.2 773.8 L55.7 773.3 L56.2 773.1 L56.7 772.6 L57.2 773.0 L57.7 773.4 L58.2 773.5 L58.7 773.0 L59.2 773.0 L59.7 773.0 L60.2 772.9 L60.7 772.8 L61.2 772.7 L61.7 772.1 L62.2 772.4 L62.7 772.0 L63.2 772.2 L63.7 772.2 L64.2 771.9 L64.7 771.9 L65.2 771.9 L65.7 771.2 L66.2 771.1 L66.7 771.2 L67.2 770.8 L67.7 769.9 L68.2 769.6 L68.7 769.0 L69.2 768.8 L69.7 768.8 L70.2 768.3 L70.7 767.9 L71.2 767.9 L71.7 767.5 L72.2 767.5 L72.7 767.3 L73.2 767.0 L73.7 766.1 L74.2 766.0 L74.7 765.8 L75.2 765.2 L75.7 765.0 L76.2 764.8 L76.7 764.7 L77.2 764.1 L77.7 763.9 L78.2 763.6 L78.7 763.2 L79.2 763.1 L79.7 762.7 L80.2 762.3 L80.7 762.0 L81.2 761.9 L81.7 761.2 L82.2 760.7 L82.7 760.5 L83.2 760.4 L83.7 759.8 L84.2 759.3 L84.7 759.1 L85.2 758.9 L85.7 758.8 L86.2 758.5 L86.7 758.4 L87.2 758.5 L87.7 757.7 L88.2 757.3 L88.7 756.6 L89.2 755.8 L89.7 755.7 L90.2 754.7 L90.7 754.4 L91.2 754.3 L91.7 754.3 L92.2 753.6 L92.7 753.0 L93.2 752.7 L93.7 752.5 L94.2 751.6 L94.7 751.4 L95.2 750.9 L95.7 750.5 L96.2 749.5 L96.7 749.3 L97.2 749.6 L97.7 749.2 L98.2 748.7 L98.7 748.1 L99.2 747.5 L99.7 746.6 L100.2 746.3 L100.7 745.9 L101.2 745.7 L101.7 745.4 L102.2 744.6 L102.7 744.4 L103.2 744.1 L103.7 743.8 L104.2 743.7 L104.7 743.4 L105.2 742.6 L105.7 742.3 L106.2 742.3 L106.7 742.0 L107.2 741.6 L107.7 741.4 L108.2 741.0 L108.7 740.3 L109.2 739.8 L109.7 739.6 L110.2 739.3 L110.7 739.3 L111.2 738.5 L111.7 737.8 L112.2 737.5 L112.7 737.4 L113.2 737.0 L113.7 736.5 L114.2 735.7 L114.7 736.0 L115.2 735.5 L115.7 734.6 L116.2 734.6 L116.7 734.5 L117.2 733.8 L117.7 733.0 L118.2 732.8 L118.7 732.7 L119.2 732.7 L119.7 732.8 L120.2 732.7 L120.7 732.3 L121.2 731.0 L121.7 730.8 L122.2 730.0 L122.7 730.0 L123.2 730.0 L123.7 730.1 L124.2 729.6 L124.7 729.5 L125.2 729.4 L125.7 729.1 L126.2 728.4 L126.7 728.5 L127.2 728.2 L127.7 728.2 L128.2 727.7 L128.7 727.2 L129.2 726.9 L129.7 727.3 L130.2 726.9 L130.7 726.7 L131.2 726.5 L131.7 726.3 L132.2 726.2 L132.7 725.6 L133.2 725.5 L133.7 725.0 L134.2 724.8 L134.7 724.3 L135.2 724.0 L135.7 724.0 L136.2 723.6 L136.7 723.7 L137.2 723.4 L137.7 723.0 L138.2 722.9 L138.7 722.7 L139.2 722.5 L139.7 722.5 L140.2 721.8 L140.7 721.4 L141.2 721.4 L141.7 721.1 L142.2 721.1 L142.7 720.5 L143.2 720.1 L143.7 719.5 L144.2 719.3 L144.7 719.3 L145.2 719.3 L145.7 718.6 L146.2 718.3 L146.7 718.1 L147.2 717.2 L147.7 716.5 L148.2 716.2 L148.7 716.0 L149.2 715.0 L149.7 714.1 L150.2 713.3 L150.7 713.3 L151.2 713.1 L151.7 713.0 L152.2 712.4 L152.7 711.8 L153.2 712.0 L153.7 711.5 L154.2 711.3 L154.7 710.6 L155.2 709.9 L155.7 709.6 L156.2 709.7 L156.7 709.0 L157.2 708.6 L157.7 707.4 L158.2 706.8 L158.7 706.2 L159.2 705.7 L159.7 705.7 L160.2 705.1 L160.7 704.5 L161.2 703.6 L161.7 702.1 L162.2 701.7 L162.7 701.2 L163.2 700.4 L163.7 699.3 L164.2 699.0 L164.7 698.7 L165.2 698.4 L165.7 698.5 L166.2 697.9 L166.7 697.7 L167.2 697.5 L167.7 697.5 L168.2 697.2 L168.7 697.2 L169.2 696.4 L169.7 696.3 L170.2 696.2 L170.7 695.9 L171.2 695.8 L171.7 694.8 L172.2 694.7 L172.7 694.0 L173.2 693.6 L173.7 692.7 L174.2 692.3 L174.7 692.2 L175.2 691.4 L175.7 690.9 L176.2 690.2 L176.7 689.7 L177.2 688.7 L177.7 688.0 L178.2 686.9 L178.7 686.4 L179.2 685.8 L179.7 685.1 L180.2 684.8 L180.7 684.8 L181.2 684.3 L181.7 684.3 L182.2 683.5 L182.7 682.7 L183.2 682.8 L183.7 682.8 L184.2 682.6 L184.7 682.1 L185.2 681.8 L185.7 681.5 L186.2 681.1 L186.7 680.8 L187.2 680.0 L187.7 679.2 L188.2 678.8 L188.7 678.1 L189.2 677.5 L189.7 677.4 L190.2 677.6 L190.7 677.4 L191.2 677.1 L191.7 676.3 L192.2 676.4 L192.7 675.8 L193.2 675.5 L193.7 675.3 L194.2 675.0 L194.7 674.8 L195.2 674.4 L195.7 673.7 L196.2 673.6 L196.7 673.4 L197.2 673.5 L197.7 673.6 L198.2 673.4 L198.7 672.6 L199.2 672.4 L199.7 672.5 L200.2 672.1 L200.7 672.2 L201.2 671.5 L201.7 671.5 L202.2 671.5 L202.7 670.7 L203.2 670.4 L203.7 670.2 L204.2 670.0 L204.7 669.9 L205.2 669.7 L205.7 668.9 L206.2 668.6 L206.7 668.1 L207.2 667.8 L207.7 667.6 L208.2 667.1 L208.7 666.9 L209.2 666.7 L209.7 666.0 L210.2 665.4 L210.7 665.0 L211.2 664.9 L211.7 665.0 L212.2 664.9 L212.7 664.1 L213.2 664.0 L213.7 663.8 L214.2 663.4 L214.7 662.6 L215.2 662.4 L215.7 662.0 L216.2 661.4 L216.7 661.5 L217.2 661.6 L217.7 661.7 L218.2 662.1 L218.7 661.7 L219.2 661.6 L219.7 661.8 L220.2 662.2 L220.7 661.5 L221.2 661.7 L221.7 661.9 L222.2 661.7 L222.7 661.8 L223.2 661.2 L223.7 661.3 L224.2 661.1 L224.7 661.4 L225.2 661.2 L225.7 660.7 L226.2 660.7 L226.7 661.2 L227.2 661.2 L227.7 660.8 L228.2 660.3 L228.7 660.2 L229.2 659.9 L229.7 659.3 L230.2 658.7 L230.7 658.7 L231.2 659.1 L231.7 658.8 L232.2 658.1 L232.7 657.9 L233.2 658.0 L233.7 658.0 L234.2 657.7 L234.7 657.2 L235.2 656.9 L235.7 656.1 L236.2 655.7 L236.7 655.5 L237.2 655.3 L237.7 655.2 L238.2 654.9 L238.7 654.8 L239.2 653.9 L239.7 653.1 L240.2 653.1 L240.7 652.8 L241.2 652.1 L241.7 651.8 L242.2 651.1 L242.7 651.5 L243.2 650.7 L243.7 649.7 L244.2 649.3 L244.7 649.7 L245.2 649.3 L245.7 648.2 L246.2 647.8 L246.7 647.6 L247.2 647.0 L247.7 646.5 L248.2 645.9 L248.7 645.8 L249.2 645.2 L249.7 643.9 L250.2 643.8 L250.7 643.5 L251.2 643.3 L251.7 642.9 L252.2 642.5 L252.7 642.4 L253.2 642.2 L253.7 641.4 L254.2 640.9 L254.7 640.4 L255.2 640.1 L255.7 639.8 L256.2 639.9 L256.7 640.0 L257.2 639.3 L257.7 638.9 L258.2 638.6 L258.7 638.2 L259.2 637.5 L259.7 637.0 L260.2 637.0 L260.7 636.7 L261.2 636.7 L261.7 636.3 L262.2 636.2 L262.7 635.9 L263.2 636.5 L263.7 636.2 L264.2 635.7 L264.7 634.7 L265.2 634.6 L265.7 634.0 L266.2 633.2 L266.7 633.3 L267.2 633.3 L267.7 632.9 L268.2 632.7 L268.7 632.1 L269.2 630.9 L269.7 630.6 L270.2 630.0 L270.7 629.5 L271.2 629.0 L271.7 628.7 L272.2 628.4 L272.7 628.0 L273.2 627.9 L273.7 628.1 L274.2 628.1 L274.7 627.4 L275.2 627.0 L275.7 626.0 L276.2 625.7 L276.7 626.1 L277.2 625.9 L277.7 625.1 L278.2 624.8 L278.7 624.4 L279.2 623.9 L279.7 623.3 L280.2 623.5 L280.7 623.2 L281.2 622.5 L281.7 621.8 L282.2 621.8 L282.7 621.8 L283.2 621.4 L283.7 620.9 L284.2 620.4 L284.7 619.8 L285.2 619.1 L285.7 618.9 L286.2 618.3 L286.7 617.7 L287.2 617.7 L287.7 617.6 L288.2 617.1 L288.7 617.1 L289.2 617.0 L289.7 616.5 L290.2 616.3 L290.7 616.1 L291.2 615.6 L291.7 615.3 L292.2 614.9 L292.7 614.1 L293.2 613.7 L293.7 613.4 L294.2 612.8 L294.7 612.6 L295.2 612.0 L295.7 611.6 L296.2 611.3 L296.7 610.8 L297.2 610.8 L297.7 610.5 L298.2 610.7 L298.7 610.5 L299.2 610.3 L299.7 610.0 L300.2 609.6 L300.7 609.5 L301.2 609.2 L301.7 609.2 L302.2 609.1 L302.7 608.5 L303.2 608.2 L303.7 608.0 L304.2 607.4 L304.7 606.6 L305.2 606.3 L305.7 605.8 L306.2 605.2 L306.7 605.3 L307.2 605.4 L307.7 605.3 L308.2 604.3 L308.7 604.3 L309.2 603.8 L309.7 603.0 L310.2 602.2 L310.7 601.6 L311.2 601.5 L311.7 601.3 L312.2 600.4 L312.7 600.0 L313.2 600.2 L313.7 599.7 L314.2 599.1 L314.7 599.0 L315.2 598.2 L315.7 597.3 L316.2 597.1 L316.7 596.9 L317.2 596.9 L317.7 597.1 L318.2 597.0 L318.7 596.6 L319.0 596.4 L319.0 596.7 L318.7 597.0 L318.2 597.2 L317.7 597.3 L317.2 597.1 L316.7 597.7 L316.2 597.5 L315.7 598.2 L315.2 599.2 L314.7 599.3 L314.2 599.7 L313.7 600.2 L313.2 600.5 L312.7 600.5 L312.2 601.3 L311.7 602.1 L311.2 601.9 L310.7 602.4 L310.2 603.2 L309.7 604.2 L309.2 604.3 L308.7 604.6 L308.2 605.4 L307.7 605.7 L307.2 605.8 L306.7 605.7 L306.2 606.0 L305.7 606.5 L305.2 606.6 L304.7 607.4 L304.2 608.3 L303.7 608.2 L303.2 608.6 L302.7 609.2 L302.2 609.5 L301.7 609.6 L301.2 609.6 L300.7 610.0 L300.2 610.1 L299.7 610.4 L299.2 610.6 L298.7 611.3 L298.2 611.2 L297.7 611.2 L297.2 611.6 L296.7 611.5 L296.2 612.0 L295.7 612.2 L295.2 612.8 L294.7 612.8 L294.2 613.6 L293.7 613.7 L293.2 614.4 L292.7 614.9 L292.2 615.5 L291.7 615.7 L291.2 616.3 L290.7 616.7 L290.2 616.8 L289.7 617.0 L289.2 617.6 L288.7 617.5 L288.2 617.6 L287.7 617.8 L287.2 618.1 L286.7 618.5 L286.2 619.0 L285.7 619.7 L285.2 619.9 L284.7 620.5 L284.2 620.9 L283.7 621.5 L283.2 621.8 L282.7 622.1 L282.2 622.6 L281.7 622.5 L281.2 623.3 L280.7 623.9 L280.2 623.9 L279.7 624.2 L279.2 624.6 L278.7 625.3 L278.2 625.4 L277.7 626.1 L277.2 626.2 L276.7 626.4 L276.2 626.3 L275.7 627.0 L275.2 627.4 L274.7 628.1 L274.2 628.4 L273.7 628.5 L273.2 628.4 L272.7 628.4 L272.2 628.9 L271.7 629.1 L271.2 629.5 L270.7 630.2 L270.2 630.7 L269.7 630.9 L269.2 632.1 L268.7 632.9 L268.2 633.1 L267.7 633.4 L267.2 633.8 L266.7 633.5 L266.2 634.0 L265.7 634.8 L265.2 635.0 L264.7 636.1 L264.2 636.7 L263.7 636.6 L263.2 636.7 L262.7 636.6 L262.2 636.6 L261.7 636.8 L261.2 637.2 L260.7 637.6 L260.2 637.5 L259.7 637.5 L259.2 638.3 L258.7 638.8 L258.2 639.1 L257.7 639.3 L257.2 640.0 L256.7 640.4 L256.2 640.4 L255.7 640.3 L255.2 640.4 L254.7 641.1 L254.2 641.5 L253.7 642.2 L253.2 642.6 L252.7 642.8 L252.2 643.1 L251.7 643.5 L251.2 643.6 L250.7 644.0 L250.2 644.0 L249.7 645.2 L249.2 645.8 L248.7 646.1 L248.2 646.6 L247.7 647.2 L247.2 647.8 L246.7 648.6 L246.2 648.3 L245.7 649.4 L245.2 649.9 L244.7 650.0 L244.2 649.9 L243.7 650.7 L243.2 651.5 L242.7 651.6 L242.2 651.9 L241.7 652.1 L241.2 653.0 L240.7 653.3 L240.2 653.7 L239.7 654.0 L239.2 654.9 L238.7 655.1 L238.2 655.4 L237.7 655.6 L237.2 655.6 L236.7 655.8 L236.2 656.1 L235.7 657.0 L235.2 657.4 L234.7 658.1 L234.2 658.1 L233.7 658.4 L233.2 658.4 L232.7 658.4 L232.2 658.8 L231.7 659.2 L231.2 659.5 L230.7 659.5 L230.2 659.3 L229.7 660.0 L229.2 660.4 L228.7 660.6 L228.2 661.0 L227.7 661.5 L227.2 661.4 L226.7 661.6 L226.2 661.4 L225.7 661.3 L225.2 661.8 L224.7 662.3 L224.2 661.6 L223.7 661.6 L223.2 662.4 L222.7 662.2 L222.2 662.3 L221.7 662.4 L221.2 662.0 L220.7 662.2 L220.2 662.7 L219.7 662.5 L219.2 661.9 L218.7 662.1 L218.2 662.8 L217.7 662.4 L217.2 662.1 L216.7 661.9 L216.2 662.0 L215.7 662.6 L215.2 662.9 L214.7 663.4 L214.2 664.0 L213.7 664.1 L213.2 664.5 L212.7 664.9 L212.2 665.2 L211.7 665.5 L211.2 665.1 L210.7 665.7 L210.2 666.0 L209.7 666.7 L209.2 667.0 L208.7 667.4 L208.2 667.8 L207.7 668.2 L207.2 668.2 L206.7 668.6 L206.2 669.1 L205.7 669.7 L205.2 670.5 L204.7 670.5 L204.2 670.6 L203.7 670.7 L203.2 670.7 L202.7 671.5 L202.2 672.1 L201.7 671.9 L201.2 672.2 L200.7 672.6 L200.2 672.5 L199.7 672.9 L199.2 672.7 L198.7 673.4 L198.2 674.0 L197.7 673.9 L197.2 674.1 L196.7 673.9 L196.2 674.0 L195.7 674.4 L195.2 675.0 L194.7 675.6 L194.2 675.6 L193.7 675.7 L193.2 675.8 L192.7 676.6 L192.2 676.8 L191.7 677.1 L191.2 677.5 L190.7 677.9 L190.2 678.2 L189.7 677.9 L189.2 678.4 L188.7 678.8 L188.2 679.4 L187.7 680.4 L187.2 680.8 L186.7 681.4 L186.2 681.6 L185.7 682.1 L185.2 682.2 L184.7 682.7 L184.2 683.1 L183.7 683.3 L183.2 683.3 L182.7 683.5 L182.2 684.5 L181.7 684.5 L181.2 685.3 L180.7 685.4 L180.2 685.1 L179.7 685.8 L179.2 686.7 L178.7 686.9 L178.2 688.0 L177.7 688.7 L177.2 689.7 L176.7 690.2 L176.2 690.9 L175.7 691.6 L175.2 692.2 L174.7 692.7 L174.2 693.1 L173.7 693.7 L173.2 694.2 L172.7 694.7 L172.2 695.1 L171.7 695.8 L171.2 696.0 L170.7 696.5 L170.2 696.6 L169.7 696.7 L169.2 697.6 L168.7 697.8 L168.2 697.8 L167.7 698.2 L167.2 698.4 L166.7 698.4 L166.2 698.5 L165.7 698.9 L165.2 698.7 L164.7 699.2 L164.2 699.3 L163.7 700.4 L163.2 701.3 L162.7 702.1 L162.2 702.2 L161.7 703.7 L161.2 704.5 L160.7 705.2 L160.2 706.0 L159.7 706.0 L159.2 706.3 L158.7 706.9 L158.2 707.5 L157.7 708.6 L157.2 709.0 L156.7 710.0 L156.2 710.4 L155.7 709.9 L155.2 710.6 L154.7 711.3 L154.2 712.0 L153.7 712.1 L153.2 712.2 L152.7 712.4 L152.2 713.1 L151.7 713.2 L151.2 713.6 L150.7 713.6 L150.2 714.1 L149.7 715.2 L149.2 716.0 L148.7 716.5 L148.2 716.6 L147.7 717.2 L147.2 718.1 L146.7 718.7 L146.2 718.6 L145.7 719.4 L145.2 719.5 L144.7 719.8 L144.2 719.7 L143.7 720.4 L143.2 720.7 L142.7 721.1 L142.2 721.8 L141.7 721.7 L141.2 721.7 L140.7 721.8 L140.2 722.6 L139.7 723.0 L139.2 722.8 L138.7 723.4 L138.2 723.5 L137.7 723.4 L137.2 723.9 L136.7 724.1 L136.2 724.0 L135.7 724.3 L135.2 724.4 L134.7 725.1 L134.2 725.3 L133.7 725.5 L133.2 726.0 L132.7 726.3 L132.2 726.6 L131.7 726.9 L131.2 727.0 L130.7 727.2 L130.2 727.7 L129.7 727.8 L129.2 727.5 L128.7 727.7 L128.2 728.4 L127.7 728.6 L127.2 729.3 L126.7 729.3 L126.2 729.2 L125.7 729.6 L125.2 730.0 L124.7 730.1 L124.2 730.4 L123.7 730.4 L123.2 730.6 L122.7 730.4 L122.2 730.9 L121.7 731.5 L121.2 732.5 L120.7 732.9 L120.2 733.3 L119.7 733.2 L119.2 733.2 L118.7 733.1 L118.2 733.3 L117.7 733.8 L117.2 734.6 L116.7 735.0 L116.2 734.9 L115.7 735.6 L115.2 736.6 L114.7 736.5 L114.2 736.5 L113.7 737.0 L113.2 737.5 L112.7 737.8 L112.2 737.9 L111.7 738.7 L111.2 739.3 L110.7 739.6 L110.2 739.7 L109.7 740.0 L109.2 740.3 L108.7 741.2 L108.2 741.4 L107.7 741.9 L107.2 742.5 L106.7 742.3 L106.2 742.5 L105.7 742.6 L105.2 743.6 L104.7 743.8 L104.2 744.1 L103.7 744.2 L103.2 744.4 L102.7 745.0 L102.2 745.8 L101.7 745.9 L101.2 746.2 L100.7 746.3 L100.2 746.8 L99.7 747.6 L99.2 748.2 L98.7 749.1 L98.2 749.3 L97.7 749.8 L97.2 749.9 L96.7 749.8 L96.2 750.5 L95.7 751.3 L95.2 751.6 L94.7 751.9 L94.2 752.5 L93.7 752.9 L93.2 753.0 L92.7 753.7 L92.2 754.4 L91.7 754.7 L91.2 755.0 L90.7 755.0 L90.2 755.8 L89.7 756.1 L89.2 756.6 L88.7 757.3 L88.2 758.0 L87.7 758.6 L87.2 758.8 L86.7 758.8 L86.2 758.9 L85.7 759.1 L85.2 759.2 L84.7 759.4 L84.2 759.8 L83.7 760.7 L83.2 760.9 L82.7 760.9 L82.2 761.3 L81.7 762.4 L81.2 762.5 L80.7 762.6 L80.2 762.8 L79.7 763.4 L79.2 763.4 L78.7 763.6 L78.2 764.2 L77.7 764.5 L77.2 764.7 L76.7 765.1 L76.2 765.4 L75.7 765.4 L75.2 765.8 L74.7 767.0 L74.2 766.9 L73.7 767.0 L73.2 767.5 L72.7 767.7 L72.2 767.8 L71.7 768.0 L71.2 768.2 L70.7 768.4 L70.2 768.8 L69.7 769.3 L69.2 769.2 L68.7 769.6 L68.2 770.1 L67.7 770.8 L67.2 771.4 L66.7 771.5 L66.2 771.5 L65.7 771.9 L65.2 772.4 L64.7 772.5 L64.2 772.5 L63.7 773.0 L63.2 772.8 L62.7 772.4 L62.2 772.8 L61.7 772.9 L61.2 773.0 L60.7 773.2 L60.2 773.4 L59.7 773.4 L59.2 773.5 L58.7 773.9 L58.2 773.9 L57.7 773.8 L57.2 773.4 L56.7 773.1 L56.2 773.5 L55.7 774.0 L55.2 774.1 L54.7 774.0 L54.2 774.0 L53.7 774.2 L53.2 774.6 L52.7 775.4 L52.2 775.6 L51.7 776.3 L51.2 776.3 L50.7 775.9 L50.2 776.1 L49.7 776.5 L49.2 776.2 L48.7 776.8 L48.2 776.5 L47.7 776.7 L47.2 777.0 L46.7 777.2 L46.2 777.1 L45.7 777.9 L45.2 778.3 L44.7 778.3 L44.2 777.8 L43.7 777.5 L43.2 777.6 L42.7 777.5 L42.2 777.3 L41.7 777.3 L41.2 777.4 L40.7 777.3Z" fill="#008000" stroke="#008000" stroke-width="1.00" stroke-linejoin="round"/>
<path d="M40.4 777.4 L41.1 777.3 L41.8 777.1 L42.5 776.7 L43.2 777.3 L43.9 778.0 L44.6 777.5 L45.3 777.9 L46.0 777.4 L46.7 776.2 L47.4 777.1 L48.1 776.6 L48.8 774.9 L49.5 775.8 L50.2 775.5 L50.9 776.0 L51.6 775.6 L52.3 773.8 L53.0 774.7 L53.7 773.4 L54.4 774.6 L55.1 773.4 L55.8 773.0 L56.5 771.9 L57.2 772.5 L57.9 772.5 L58.6 772.9 L59.3 772.7 L60.0 772.7 L60.7 771.7 L61.4 771.4 L62.1 772.7 L62.8 772.1 L63.5 772.8 L64.2 771.1 L64.9 772.4 L65.6 771.4 L66.3 771.0 L67.0 771.4 L67.7 770.6 L68.4 770.5 L69.1 769.0 L69.8 768.3 L70.5 767.8 L71.2 767.0 L71.9 767.7 L72.6 767.0 L73.3 765.8 L74.0 767.1 L74.7 765.6 L75.4 764.8 L76.1 764.6 L76.8 763.7 L77.5 764.2 L78.2 763.2 L78.9 763.2 L79.6 762.6 L80.3 762.0 L81.0 761.4 L81.7 759.9 L82.4 761.2 L83.1 761.5 L83.8 758.4 L84.5 759.6 L85.2 758.6 L85.9 757.7 L86.6 758.3 L87.3 758.7 L88.0 758.0 L88.7 756.7 L89.4 754.7 L90.1 756.3 L90.8 753.9 L91.5 754.8 L92.2 752.7 L92.9 753.1 L93.6 752.2 L94.3 751.2 L95.0 751.0 L95.7 749.7 L96.4 750.7 L97.1 750.3 L97.8 748.3 L98.5 749.1 L99.2 745.9 L99.9 746.7 L100.6 747.2 L101.3 746.8 L102.0 745.0 L102.7 743.8 L103.4 744.1 L104.1 743.9 L104.8 743.0 L105.5 742.6 L106.2 742.2 L106.9 740.9 L107.6 741.7 L108.3 741.3 L109.0 739.5 L109.7 739.0 L110.4 739.6 L111.1 739.8 L111.8 738.7 L112.5 737.8 L113.2 736.7 L113.9 735.5 L114.6 735.9 L115.3 735.3 L116.0 735.1 L116.7 734.5 L117.4 733.1 L118.1 734.1 L118.8 733.0 L119.5 732.9 L120.2 732.5 L120.9 730.6 L121.6 731.0 L122.3 730.8 L123.0 729.7 L123.7 731.2 L124.4 729.6 L125.1 729.5 L125.8 728.2 L126.5 728.8 L127.2 728.2 L127.9 727.7 L128.6 727.1 L129.3 726.4 L130.0 726.9 L130.7 727.5 L131.4 725.7 L132.1 726.8 L132.8 726.0 L133.5 726.1 L134.2 725.0 L134.9 724.4 L135.6 724.0 L136.3 722.7 L137.0 723.5 L137.7 723.6 L138.4 723.0 L139.1 722.6 L139.8 722.2 L140.5 721.5 L141.2 720.8 L141.9 721.6 L142.6 721.5 L143.3 719.4 L144.0 720.7 L144.7 718.9 L145.4 719.0 L146.1 717.3 L146.8 717.9 L147.5 716.9 L148.2 717.4 L148.9 715.0 L149.6 714.0 L150.3 713.4 L151.0 714.3 L151.7 712.5 L152.4 712.1 L153.1 712.2 L153.8 711.9 L154.5 710.7 L155.2 708.6 L155.9 708.9 L156.6 708.3 L157.3 706.8 L158.0 706.4 L158.7 705.6 L159.4 706.5 L160.1 705.7 L160.8 703.8 L161.5 702.0 L162.2 702.4 L162.9 701.2 L163.6 699.7 L164.3 699.6 L165.0 698.1 L165.7 697.6 L166.4 699.2 L167.1 697.9 L167.8 697.9 L168.5 697.7 L169.2 695.4 L169.9 695.7 L170.6 696.4 L171.3 695.3 L172.0 694.7 L172.7 693.5 L173.4 692.4 L174.1 692.0 L174.8 692.0 L175.5 691.7 L176.2 689.7 L176.9 688.7 L177.6 687.9 L178.3 685.5 L179.0 687.2 L179.7 684.4 L180.4 685.8 L181.1 686.0 L181.8 683.7 L182.5 683.2 L183.2 682.5 L183.9 682.4 L184.6 681.5 L185.3 681.3 L186.0 681.7 L186.7 680.2 L187.4 679.7 L188.1 679.3 L188.8 678.0 L189.5 677.9 L190.2 677.4 L190.9 677.7 L191.6 677.4 L192.3 675.9 L193.0 676.5 L193.7 675.2 L194.4 675.3 L195.1 673.5 L195.8 674.8 L196.5 674.2 L197.2 673.8 L197.9 674.0 L198.6 672.8 L199.3 672.4 L200.0 671.2 L200.7 672.5 L201.4 672.9 L202.1 671.8 L202.8 670.0 L203.5 671.6 L204.2 669.6 L204.9 670.2 L205.6 669.3 L206.3 667.9 L207.0 666.8 L207.7 667.2 L208.4 666.4 L209.1 667.6 L209.8 666.0 L210.5 664.2 L211.2 664.1 L211.9 664.5 L212.6 663.8 L213.3 663.8 L214.0 663.0 L214.7 662.3 L215.4 663.3 L216.1 662.9 L216.8 662.1 L217.5 661.9 L218.2 660.9 L218.9 662.1 L219.6 661.8 L220.3 662.2 L221.0 660.9 L221.7 662.9 L222.4 662.7 L223.1 661.9 L223.8 660.2 L224.5 661.9 L225.2 659.9 L225.9 660.0 L226.6 661.2 L227.3 662.2 L228.0 661.0 L228.7 661.3 L229.4 659.7 L230.1 658.6 L230.8 658.6 L231.5 659.9 L232.2 657.4 L232.9 658.6 L233.6 657.0 L234.3 657.3 L235.0 658.1 L235.7 657.1 L236.4 655.1 L237.1 655.2 L237.8 655.3 L238.5 653.7 L239.2 653.9 L239.9 652.7 L240.6 652.6 L241.3 651.8 L242.0 651.3 L242.7 650.7 L243.4 651.4 L244.1 649.2 L244.8 650.5 L245.5 647.6 L246.2 647.8 L246.9 647.3 L247.6 646.1 L248.3 645.7 L249.0 645.4 L249.7 643.6 L250.4 643.4 L251.1 642.6 L251.8 644.0 L252.5 642.4 L253.2 642.3 L253.9 640.7 L254.6 640.0 L255.3 641.2 L256.0 639.8 L256.7 638.5 L257.4 639.6 L258.1 638.7 L258.8 639.0 L259.5 637.9 L260.2 637.8 L260.9 635.8 L261.6 636.9 L262.3 635.1 L263.0 636.0 L263.7 636.6 L264.4 636.0 L265.1 634.7 L265.8 633.9 L266.5 634.1 L267.2 632.2 L267.9 632.3 L268.6 632.6 L269.3 631.3 L270.0 629.2 L270.7 629.7 L271.4 627.7 L272.1 628.0 L272.8 629.0 L273.5 629.1 L274.2 627.5 L274.9 627.7 L275.6 626.5 L276.3 627.1 L277.0 625.1 L277.7 625.2 L278.4 624.7 L279.1 624.5 L279.8 622.9 L280.5 624.4 L281.2 621.9 L281.9 621.0 L282.6 622.6 L283.3 621.2 L284.0 621.6 L284.7 619.3 L285.4 619.9 L286.1 618.6 L286.8 618.0 L287.5 617.5 L288.2 618.3 L288.9 618.5 L289.6 617.9 L290.3 617.5 L291.0 614.9 L291.7 615.0 L292.4 614.0 L293.1 613.4 L293.8 613.4 L294.5 612.0 L295.2 610.7 L295.9 611.6 L296.6 611.0 L297.3 610.3 L298.0 612.1 L298.7 610.3 L299.4 611.4 L300.1 609.4 L300.8 609.1 L301.5 609.2 L302.2 609.0 L302.9 608.9 L303.6 608.3 L304.3 607.4 L305.0 606.7 L305.7 605.1 L306.4 606.7 L307.1 606.2 L307.8 605.3 L308.5 604.1 L309.2 602.4 L309.9 603.7 L310.6 600.8 L311.3 602.5 L312.0 601.3 L312.7 600.1 L313.4 599.9 L314.1 599.7 L314.8 597.9 L315.5 598.9 L316.2 597.0 L316.9 598.1 L317.6 598.2 L318.3 596.6" fill="none" stroke="#008000" stroke-width="0.80" stroke-linejoin="round"/>
<rect x="26.30" y="584.20" width="306.70" height="202.60" fill="none" stroke="#262626" stroke-width="0.8"/>
<text x="40.40" y="800.40" font-size="9.69" text-anchor="middle" textLength="5.93" lengthAdjust="spacingAndGlyphs" >0</text>
<text x="96.06" y="800.40" font-size="9.69" text-anchor="middle" textLength="11.85" lengthAdjust="spacingAndGlyphs" >20</text>
<text x="151.72" y="800.40" font-size="9.69" text-anchor="middle" textLength="11.85" lengthAdjust="spacingAndGlyphs" >40</text>
<text x="207.38" y="800.40" font-size="9.69" text-anchor="middle" textLength="11.85" lengthAdjust="spacingAndGlyphs" >60</text>
<text x="263.04" y="800.40" font-size="9.69" text-anchor="middle" textLength="11.85" lengthAdjust="spacingAndGlyphs" >80</text>
<text x="318.70" y="800.40" font-size="9.69" text-anchor="middle" textLength="17.78" lengthAdjust="spacingAndGlyphs" >100</text>
<text x="19.70" y="747.60" font-size="9.69" text-anchor="end" textLength="5.93" lengthAdjust="spacingAndGlyphs" >2</text>
<text x="19.70" y="703.70" font-size="9.69" text-anchor="end" textLength="5.93" lengthAdjust="spacingAndGlyphs" >4</text>
<text x="19.70" y="659.80" font-size="9.69" text-anchor="end" textLength="5.93" lengthAdjust="spacingAndGlyphs" >6</text>
<text x="19.70" y="615.90" font-size="9.69" text-anchor="end" textLength="5.93" lengthAdjust="spacingAndGlyphs" >8</text>
<path d="M40.40 786.80v2.99M96.06 786.80v2.99M151.72 786.80v2.99M207.38 786.80v2.99M263.04 786.80v2.99M318.70 786.80v2.99M26.30 744.40h-2.99M26.30 700.50h-2.99M26.30 656.60h-2.99M26.30 612.70h-2.99" stroke="#262626" stroke-width="0.8" fill="none"/>
<text x="179.65" y="578.70" font-size="11.73" text-anchor="middle" textLength="105.21" lengthAdjust="spacingAndGlyphs" >Comparison for Rh</text>
<text x="179.65" y="813.20" font-size="9.69" text-anchor="middle" textLength="22.79" lengthAdjust="spacingAndGlyphs" >Time</text>
<text x="0.00" y="0.00" font-size="9.69" text-anchor="middle" textLength="12.37" lengthAdjust="spacingAndGlyphs" transform="translate(9.20 685.50) rotate(-90)">Rh</text>
<rect x="30.70" y="588.20" width="94.10" height="43.00" rx="1.6" fill="#fff" fill-opacity="0.8" stroke="#cccccc" stroke-width="0.8"/>
<path d="M34.00 596.20H53.40" stroke="#0000ff" stroke-width="1.25" />
<text x="59.60" y="599.30" font-size="9.69" text-anchor="start" textLength="62.31" lengthAdjust="spacingAndGlyphs" >Deterministic</text>
<path d="M34.00 609.40H53.40" stroke="#ff0000" stroke-width="1.25" stroke-dasharray="4.62 2.00"/>
<text x="59.60" y="612.50" font-size="9.69" text-anchor="start" textLength="55.88" lengthAdjust="spacingAndGlyphs" >White Noise</text>
<path d="M34.00 622.90H53.40" stroke="#008000" stroke-width="1.25" stroke-dasharray="8.00 2.00 1.25 2.00"/>
<text x="59.60" y="626.00" font-size="9.69" text-anchor="start" textLength="50.57" lengthAdjust="spacingAndGlyphs" >Lévy Noise</text>
<text x="167.20" y="843.90" font-family="Liberation Serif, serif" font-size="16.5" text-anchor="middle" fill="#1a1a1a">(e)</text>
</g>
<g id="pf">
<path d="M397.67 638.65 C398.21 641.77 399.71 651.55 400.91 657.38 C402.12 663.20 404.16 670.67 404.91 673.60 C405.66 676.54 404.49 672.47 405.41 674.99 C406.32 677.51 408.73 684.98 410.40 688.72 C412.06 692.47 413.73 694.75 415.39 697.46 C417.06 700.16 418.30 702.66 420.38 704.95 C422.46 707.24 425.38 709.44 427.87 711.19 C430.37 712.94 432.87 714.39 435.36 715.43 C437.86 716.47 440.15 716.97 442.85 717.43 C445.55 717.89 448.67 718.18 451.59 718.18 C454.50 718.18 457.20 717.97 460.32 717.43 C463.44 716.89 466.98 715.97 470.31 714.93 C473.64 713.89 476.97 712.52 480.29 711.19 C483.62 709.86 486.95 708.40 490.28 706.94 C493.61 705.49 497.35 703.91 500.26 702.45 C503.18 701.00 501.30 702.60 507.75 698.21 C514.20 693.82 531.68 681.04 538.96 676.11 C546.24 671.17 547.28 670.70 551.44 668.62 C555.60 666.54 559.76 665.16 563.93 663.62 C568.09 662.09 572.25 660.63 576.41 659.38 C580.57 658.13 584.73 657.01 588.89 656.14 C593.05 655.26 597.21 654.68 601.37 654.14 C605.53 653.60 609.69 653.27 613.85 652.89 C618.01 652.52 622.17 652.10 626.33 651.89 C630.49 651.68 634.65 651.64 638.81 651.64 C642.97 651.64 647.13 651.81 651.29 651.89 C655.45 651.98 660.78 652.06 663.78 652.14 C666.77 652.22 668.35 652.35 669.27 652.39" fill="none" stroke="#0000ff" stroke-width="1.45" stroke-linejoin="round"/>
<path d="M397.9 638.5 L398.4 642.1 L398.9 645.2 L399.4 646.7 L399.9 647.1 L400.4 647.2 L400.9 645.5 L401.4 647.7 L401.9 651.1 L402.4 650.3 L402.9 655.1 L403.4 657.7 L403.9 661.2 L404.4 662.0 L404.9 665.3 L405.4 666.8 L405.9 667.6 L406.4 665.7 L406.9 666.8 L407.4 667.1 L407.9 667.8 L408.4 663.6 L408.9 664.3 L409.4 668.5 L409.9 668.4 L410.4 667.0 L410.9 667.2 L411.4 667.6 L411.9 668.8 L412.4 672.5 L412.9 674.2 L413.4 672.0 L413.9 671.0 L414.4 674.3 L414.9 671.4 L415.4 671.4 L415.9 672.3 L416.4 671.0 L416.9 673.1 L417.4 673.8 L417.9 676.0 L418.4 682.3 L418.9 684.8 L419.4 685.2 L419.9 687.7 L420.4 687.7 L420.9 691.3 L421.4 692.0 L421.9 697.9 L422.4 699.0 L422.9 700.1 L423.4 702.7 L423.9 703.3 L424.4 708.4 L424.9 711.6 L425.4 712.7 L425.9 713.4 L426.4 715.7 L426.9 720.4 L427.4 718.9 L427.9 719.7 L428.4 723.3 L428.9 722.8 L429.4 722.2 L429.9 723.3 L430.4 723.5 L430.9 722.8 L431.4 722.5 L431.9 723.5 L432.4 724.9 L432.9 730.0 L433.4 730.1 L433.9 731.0 L434.4 733.3 L434.9 733.9 L435.4 735.2 L435.9 739.8 L436.4 737.8 L436.9 738.7 L437.4 739.7 L437.9 739.3 L438.4 739.3 L438.9 739.7 L439.4 737.4 L439.9 736.8 L440.4 735.3 L440.9 734.2 L441.4 731.3 L441.9 728.6 L442.4 727.0 L442.9 728.9 L443.4 729.8 L443.9 730.3 L444.4 731.6 L444.9 735.3 L445.4 735.9 L445.9 740.3 L446.4 742.9 L446.9 741.1 L447.4 740.6 L447.9 739.3 L448.4 738.3 L448.9 740.9 L449.4 739.8 L449.9 738.7 L450.4 737.7 L450.9 739.2 L451.4 740.5 L451.9 740.6 L452.4 743.5 L452.9 741.0 L453.4 741.4 L453.9 742.2 L454.4 741.1 L454.9 742.3 L455.4 744.1 L455.9 744.8 L456.4 746.4 L456.9 747.4 L457.4 748.3 L457.9 750.6 L458.4 752.1 L458.9 755.7 L459.4 756.7 L459.9 753.4 L460.4 754.1 L460.9 751.3 L461.4 749.4 L461.9 750.0 L462.4 749.8 L462.9 750.3 L463.4 747.7 L463.9 747.5 L464.4 747.2 L464.9 745.5 L465.4 742.9 L465.9 735.8 L466.4 733.8 L466.9 731.4 L467.4 724.9 L467.9 723.3 L468.4 720.4 L468.9 717.8 L469.4 708.4 L469.9 705.3 L470.4 703.8 L470.9 703.9 L471.4 702.4 L471.9 702.2 L472.4 702.0 L472.9 703.2 L473.4 706.4 L473.9 706.5 L474.4 703.9 L474.9 704.3 L475.4 708.5 L475.9 710.7 L476.4 710.3 L476.9 706.8 L477.4 703.1 L477.9 702.9 L478.4 702.9 L478.9 699.4 L479.4 697.1 L479.9 692.4 L480.4 691.0 L480.9 689.3 L481.4 687.5 L481.9 688.0 L482.4 686.6 L482.9 689.0 L483.4 692.1 L483.9 695.7 L484.4 695.6 L484.9 696.7 L485.4 700.4 L485.9 704.3 L486.4 709.5 L486.9 713.8 L487.4 711.6 L487.9 712.3 L488.4 713.2 L488.9 714.8 L489.4 713.9 L489.9 714.0 L490.4 716.2 L490.9 716.7 L491.4 715.3 L491.9 714.3 L492.4 713.6 L492.9 715.5 L493.4 718.2 L493.9 716.8 L494.4 716.7 L494.9 716.1 L495.4 718.1 L495.9 723.6 L496.4 725.1 L496.9 725.9 L497.4 727.2 L497.9 732.3 L498.4 734.5 L498.9 735.5 L499.4 737.8 L499.9 739.8 L500.4 742.4 L500.9 737.9 L501.4 738.9 L501.9 736.7 L502.4 731.4 L502.9 730.0 L503.4 729.0 L503.9 729.3 L504.4 724.3 L504.9 722.4 L505.4 715.7 L505.9 715.6 L506.4 716.0 L506.9 713.5 L507.4 709.3 L507.9 707.4 L508.4 706.5 L508.9 708.8 L509.4 714.1 L509.9 716.9 L510.4 719.3 L510.9 722.5 L511.4 727.2 L511.9 730.8 L512.4 732.6 L512.9 732.6 L513.4 734.1 L513.9 736.2 L514.4 737.6 L514.9 736.7 L515.4 731.8 L515.9 730.6 L516.4 726.6 L516.9 724.1 L517.4 726.5 L517.9 725.1 L518.4 722.9 L518.9 719.8 L519.4 719.7 L519.9 719.5 L520.4 723.8 L520.9 723.1 L521.4 723.0 L521.9 723.8 L522.4 727.6 L522.9 730.0 L523.4 730.1 L523.9 733.2 L524.4 734.6 L524.9 735.6 L525.4 738.3 L525.9 737.0 L526.4 737.4 L526.9 735.3 L527.4 730.5 L527.9 727.0 L528.4 725.5 L528.9 724.9 L529.4 720.0 L529.9 716.4 L530.4 715.4 L530.9 716.0 L531.4 718.3 L531.9 718.2 L532.4 717.8 L532.9 717.3 L533.4 715.4 L533.9 714.8 L534.4 712.9 L534.9 709.7 L535.4 709.4 L535.9 708.1 L536.4 708.2 L536.9 708.0 L537.4 709.6 L537.9 711.2 L538.4 715.1 L538.9 719.0 L539.4 720.9 L539.9 721.3 L540.4 729.6 L540.9 724.7 L541.4 723.0 L541.9 723.8 L542.4 723.1 L542.9 721.4 L543.4 717.8 L543.9 714.9 L544.4 714.9 L544.9 714.8 L545.4 710.9 L545.9 713.9 L546.4 711.0 L546.9 708.3 L547.4 707.8 L547.9 709.5 L548.4 706.2 L548.9 704.8 L549.4 702.1 L549.9 700.9 L550.4 696.5 L550.9 694.6 L551.4 693.2 L551.9 691.2 L552.4 691.7 L552.9 687.8 L553.4 683.3 L553.9 682.9 L554.4 680.9 L554.9 679.8 L555.4 678.9 L555.9 679.2 L556.4 678.1 L556.9 675.6 L557.4 675.6 L557.9 675.9 L558.4 674.4 L558.9 669.1 L559.4 667.5 L559.9 664.8 L560.4 665.1 L560.9 666.2 L561.4 664.5 L561.9 667.0 L562.4 667.9 L562.9 664.8 L563.4 665.7 L563.9 666.6 L564.4 668.3 L564.9 668.8 L565.4 670.1 L565.9 664.9 L566.4 661.0 L566.9 660.4 L567.4 660.5 L567.9 657.4 L568.4 655.3 L568.9 655.4 L569.4 654.2 L569.9 653.5 L570.4 650.5 L570.9 647.6 L571.4 644.0 L571.9 644.0 L572.4 643.3 L572.9 640.2 L573.4 637.4 L573.9 638.6 L574.4 640.0 L574.9 640.7 L575.4 641.6 L575.9 642.3 L576.4 644.3 L576.9 646.6 L577.4 646.5 L577.9 646.8 L578.4 649.8 L578.9 652.1 L579.4 650.9 L579.9 652.4 L580.4 647.5 L580.9 645.3 L581.4 645.5 L581.9 644.3 L582.4 642.2 L582.9 639.5 L583.4 637.8 L583.9 636.3 L584.4 638.5 L584.9 633.8 L585.4 631.7 L585.9 630.7 L586.4 629.3 L586.9 624.7 L587.4 622.6 L587.9 624.9 L588.4 630.6 L588.9 631.3 L589.4 631.3 L589.9 636.8 L590.4 641.6 L590.9 639.8 L591.4 641.2 L591.9 640.6 L592.4 642.3 L592.9 644.0 L593.4 642.8 L593.9 643.2 L594.4 639.3 L594.9 637.9 L595.4 637.7 L595.9 638.2 L596.4 639.8 L596.9 640.3 L597.4 641.4 L597.9 642.0 L598.4 641.9 L598.9 641.5 L599.4 641.1 L599.9 641.7 L600.4 643.3 L600.9 640.2 L601.4 635.1 L601.9 634.2 L602.4 633.8 L602.9 631.8 L603.4 628.8 L603.9 621.1 L604.4 620.0 L604.9 618.1 L605.4 615.3 L605.9 615.3 L606.4 614.0 L606.9 615.0 L607.4 612.4 L607.9 612.4 L608.4 612.6 L608.9 613.7 L609.4 613.7 L609.9 614.0 L610.4 615.1 L610.9 612.6 L611.4 609.1 L611.9 609.1 L612.4 610.3 L612.9 605.4 L613.4 605.4 L613.9 605.0 L614.4 601.9 L614.9 599.3 L615.4 601.1 L615.9 606.4 L616.4 605.0 L616.9 605.2 L617.4 606.6 L617.9 612.9 L618.4 612.6 L618.9 612.6 L619.4 614.2 L619.9 619.4 L620.4 620.9 L620.9 621.3 L621.4 625.4 L621.9 626.9 L622.4 626.7 L622.9 625.0 L623.4 625.1 L623.9 624.1 L624.4 625.0 L624.9 623.3 L625.4 621.8 L625.9 621.1 L626.4 621.9 L626.9 618.2 L627.4 615.6 L627.9 618.0 L628.4 620.6 L628.9 621.4 L629.4 625.8 L629.9 627.3 L630.4 627.3 L630.9 631.9 L631.4 635.2 L631.9 633.8 L632.4 635.9 L632.9 635.1 L633.4 636.0 L633.9 638.6 L634.4 640.1 L634.9 642.7 L635.4 646.8 L635.9 651.8 L636.4 654.6 L636.9 655.3 L637.4 656.8 L637.9 659.5 L638.4 657.8 L638.9 657.8 L639.4 658.7 L639.9 657.3 L640.4 656.5 L640.9 657.9 L641.4 657.9 L641.9 658.0 L642.4 662.3 L642.9 663.2 L643.4 664.2 L643.9 662.8 L644.4 660.8 L644.9 660.0 L645.4 658.4 L645.9 659.0 L646.4 660.3 L646.9 661.4 L647.4 660.0 L647.9 658.7 L648.4 659.4 L648.9 662.2 L649.4 668.9 L649.9 668.4 L650.4 669.0 L650.9 669.0 L651.4 669.8 L651.9 669.7 L652.4 666.4 L652.9 666.2 L653.4 666.2 L653.9 669.2 L654.4 671.5 L654.9 671.0 L655.4 673.4 L655.9 676.8 L656.4 682.1 L656.9 680.8 L657.4 680.9 L657.9 681.6 L658.4 682.9 L658.9 688.5 L659.4 686.3 L659.9 685.9 L660.4 684.9 L660.9 678.9 L661.4 677.0 L661.9 674.5 L662.4 676.1 L662.9 675.6 L663.4 675.2 L663.9 673.7 L664.4 674.4 L664.9 672.6 L665.4 673.4 L665.9 673.2 L666.4 672.7 L666.9 672.8 L667.4 675.9 L667.9 679.0 L668.4 678.7 L668.8 680.0 L668.8 682.9 L668.4 682.2 L667.9 681.4 L667.4 679.8 L666.9 676.5 L666.4 674.7 L665.9 675.9 L665.4 675.9 L664.9 675.8 L664.4 676.4 L663.9 676.5 L663.4 679.6 L662.9 676.6 L662.4 677.6 L661.9 678.3 L661.4 679.4 L660.9 684.9 L660.4 687.7 L659.9 687.8 L659.4 690.3 L658.9 691.7 L658.4 691.3 L657.9 683.7 L657.4 684.0 L656.9 684.7 L656.4 684.1 L655.9 682.9 L655.4 676.8 L654.9 674.4 L654.4 673.0 L653.9 673.3 L653.4 669.9 L652.9 667.4 L652.4 671.5 L651.9 671.9 L651.4 671.5 L650.9 671.6 L650.4 671.6 L649.9 671.0 L649.4 671.0 L648.9 668.9 L648.4 664.7 L647.9 662.0 L647.4 663.3 L646.9 665.1 L646.4 665.1 L645.9 660.9 L645.4 661.3 L644.9 661.5 L644.4 663.9 L643.9 667.1 L643.4 666.9 L642.9 666.2 L642.4 665.2 L641.9 663.1 L641.4 661.2 L640.9 661.5 L640.4 659.5 L639.9 660.3 L639.4 661.9 L638.9 662.3 L638.4 660.9 L637.9 662.3 L637.4 660.2 L636.9 659.6 L636.4 656.4 L635.9 656.2 L635.4 653.2 L634.9 646.8 L634.4 643.4 L633.9 642.0 L633.4 639.0 L632.9 637.2 L632.4 637.2 L631.9 636.2 L631.4 638.2 L630.9 637.1 L630.4 631.9 L629.9 629.9 L629.4 628.1 L628.9 626.9 L628.4 622.6 L627.9 622.6 L627.4 618.4 L626.9 621.9 L626.4 624.8 L625.9 624.8 L625.4 625.0 L624.9 626.9 L624.4 626.9 L623.9 627.1 L623.4 627.5 L622.9 628.3 L622.4 628.5 L621.9 629.5 L621.4 628.3 L620.9 626.2 L620.4 622.5 L619.9 622.8 L619.4 620.0 L618.9 615.6 L618.4 615.3 L617.9 615.8 L617.4 613.7 L616.9 609.0 L616.4 609.7 L615.9 609.0 L615.4 607.3 L614.9 602.5 L614.4 605.5 L613.9 608.2 L613.4 608.2 L612.9 611.1 L612.4 612.9 L611.9 612.1 L611.4 613.4 L610.9 616.3 L610.4 617.1 L609.9 616.9 L609.4 616.6 L608.9 616.8 L608.4 616.2 L607.9 615.5 L607.4 615.0 L606.9 618.0 L606.4 616.9 L605.9 617.0 L605.4 619.1 L604.9 620.0 L604.4 622.6 L603.9 628.8 L603.4 632.3 L602.9 634.3 L602.4 635.8 L601.9 637.3 L601.4 641.0 L600.9 643.9 L600.4 645.0 L599.9 643.7 L599.4 643.7 L598.9 644.6 L598.4 644.1 L597.9 644.4 L597.4 644.4 L596.9 641.9 L596.4 642.0 L595.9 640.7 L595.4 640.2 L594.9 640.0 L594.4 644.3 L593.9 644.9 L593.4 645.1 L592.9 646.8 L592.4 646.7 L591.9 642.3 L591.4 643.7 L590.9 642.5 L590.4 644.8 L589.9 644.6 L589.4 637.3 L588.9 632.9 L588.4 632.4 L587.9 630.6 L587.4 624.9 L586.9 629.3 L586.4 632.5 L585.9 634.5 L585.4 635.0 L584.9 639.0 L584.4 640.1 L583.9 639.6 L583.4 639.8 L582.9 642.2 L582.4 646.4 L581.9 647.8 L581.4 648.3 L580.9 648.7 L580.4 654.7 L579.9 654.6 L579.4 653.6 L578.9 655.1 L578.4 653.8 L577.9 651.4 L577.4 648.1 L576.9 649.4 L576.4 648.6 L575.9 644.8 L575.4 644.3 L574.9 644.3 L574.4 643.0 L573.9 640.5 L573.4 642.0 L572.9 644.9 L572.4 645.5 L571.9 647.1 L571.4 647.6 L570.9 650.7 L570.4 654.6 L569.9 656.4 L569.4 656.4 L568.9 656.8 L568.4 659.2 L567.9 662.1 L567.4 664.8 L566.9 663.7 L566.4 666.1 L565.9 670.8 L565.4 673.7 L564.9 673.7 L564.4 669.5 L563.9 669.5 L563.4 669.1 L562.9 668.8 L562.4 669.9 L561.9 670.3 L561.4 667.4 L560.9 668.2 L560.4 667.1 L559.9 669.2 L559.4 669.1 L558.9 674.4 L558.4 676.5 L557.9 678.7 L557.4 678.6 L556.9 678.8 L556.4 679.9 L555.9 682.5 L555.4 682.4 L554.9 682.3 L554.4 683.8 L553.9 686.4 L553.4 688.2 L552.9 691.7 L552.4 694.2 L551.9 694.7 L551.4 695.4 L550.9 696.6 L550.4 702.5 L549.9 704.1 L549.4 707.4 L548.9 707.4 L548.4 710.7 L547.9 712.4 L547.4 711.7 L546.9 712.7 L546.4 715.1 L545.9 716.0 L545.4 715.7 L544.9 717.9 L544.4 719.3 L543.9 717.8 L543.4 723.1 L542.9 723.9 L542.4 725.6 L541.9 727.3 L541.4 726.1 L540.9 729.9 L540.4 731.2 L539.9 729.6 L539.4 722.7 L538.9 722.0 L538.4 719.0 L537.9 715.8 L537.4 711.3 L536.9 710.2 L536.4 710.2 L535.9 711.4 L535.4 711.5 L534.9 712.9 L534.4 716.6 L533.9 717.0 L533.4 718.8 L532.9 719.9 L532.4 722.1 L531.9 719.9 L531.4 720.9 L530.9 719.7 L530.4 717.2 L529.9 720.5 L529.4 725.5 L528.9 726.2 L528.4 727.2 L527.9 730.5 L527.4 735.6 L526.9 738.6 L526.4 740.0 L525.9 741.3 L525.4 741.7 L524.9 739.3 L524.4 737.3 L523.9 736.6 L523.4 733.2 L522.9 733.7 L522.4 730.0 L521.9 728.2 L521.4 726.5 L520.9 726.6 L520.4 726.1 L519.9 725.0 L519.4 721.8 L518.9 726.0 L518.4 725.3 L517.9 729.0 L517.4 730.6 L516.9 729.3 L516.4 730.6 L515.9 732.2 L515.4 737.3 L514.9 738.7 L514.4 740.4 L513.9 740.2 L513.4 737.2 L512.9 735.3 L512.4 735.5 L511.9 734.7 L511.4 730.8 L510.9 727.6 L510.4 722.5 L509.9 720.5 L509.4 717.5 L508.9 714.1 L508.4 708.8 L507.9 709.3 L507.4 713.9 L506.9 716.0 L506.4 718.6 L505.9 719.1 L505.4 722.4 L504.9 724.3 L504.4 729.4 L503.9 731.6 L503.4 731.1 L502.9 733.8 L502.4 737.5 L501.9 740.6 L501.4 742.6 L500.9 743.6 L500.4 745.4 L499.9 742.7 L499.4 741.1 L498.9 740.0 L498.4 736.4 L497.9 735.0 L497.4 733.1 L496.9 728.4 L496.4 726.7 L495.9 726.0 L495.4 723.6 L494.9 719.5 L494.4 718.3 L493.9 718.2 L493.4 719.8 L492.9 719.1 L492.4 716.8 L491.9 717.2 L491.4 717.6 L490.9 719.8 L490.4 719.5 L489.9 716.7 L489.4 716.0 L488.9 718.0 L488.4 716.0 L487.9 713.8 L487.4 715.8 L486.9 716.5 L486.4 714.6 L485.9 710.0 L485.4 704.3 L484.9 701.2 L484.4 698.1 L483.9 698.1 L483.4 696.3 L482.9 692.5 L482.4 690.6 L481.9 689.9 L481.4 690.3 L480.9 691.0 L480.4 694.8 L479.9 697.1 L479.4 700.6 L478.9 704.2 L478.4 706.3 L477.9 705.6 L477.4 707.7 L476.9 710.8 L476.4 712.5 L475.9 713.3 L475.4 712.6 L474.9 708.9 L474.4 707.4 L473.9 708.9 L473.4 707.3 L472.9 707.3 L472.4 704.5 L471.9 705.2 L471.4 706.5 L470.9 706.4 L470.4 706.2 L469.9 708.4 L469.4 717.8 L468.9 721.0 L468.4 723.8 L467.9 725.6 L467.4 731.4 L466.9 733.8 L466.4 736.1 L465.9 743.2 L465.4 745.5 L464.9 748.0 L464.4 750.1 L463.9 750.5 L463.4 750.8 L462.9 752.1 L462.4 753.3 L461.9 752.7 L461.4 751.6 L460.9 755.3 L460.4 756.2 L459.9 757.5 L459.4 758.2 L458.9 757.0 L458.4 756.4 L457.9 752.5 L457.4 751.2 L456.9 749.5 L456.4 750.0 L455.9 747.2 L455.4 747.1 L454.9 746.6 L454.4 743.6 L453.9 746.0 L453.4 743.4 L452.9 745.8 L452.4 745.8 L451.9 743.6 L451.4 742.5 L450.9 742.5 L450.4 741.3 L449.9 741.0 L449.4 745.2 L448.9 744.3 L448.4 740.9 L447.9 742.5 L447.4 742.0 L446.9 747.0 L446.4 747.0 L445.9 744.4 L445.4 741.9 L444.9 737.8 L444.4 735.4 L443.9 732.7 L443.4 733.1 L442.9 731.4 L442.4 729.7 L441.9 732.3 L441.4 734.6 L440.9 736.1 L440.4 738.9 L439.9 738.6 L439.4 740.2 L438.9 742.3 L438.4 743.9 L437.9 742.1 L437.4 744.6 L436.9 741.1 L436.4 740.7 L435.9 740.8 L435.4 740.8 L434.9 736.9 L434.4 735.0 L433.9 733.7 L433.4 732.1 L432.9 733.7 L432.4 731.0 L431.9 726.1 L431.4 724.2 L430.9 724.9 L430.4 727.0 L429.9 725.3 L429.4 723.9 L428.9 727.1 L428.4 727.1 L427.9 723.7 L427.4 721.6 L426.9 722.6 L426.4 720.9 L425.9 716.3 L425.4 715.1 L424.9 713.3 L424.4 712.8 L423.9 708.4 L423.4 704.8 L422.9 703.0 L422.4 701.5 L421.9 701.8 L421.4 697.9 L420.9 694.0 L420.4 691.3 L419.9 690.1 L419.4 689.5 L418.9 686.3 L418.4 685.1 L417.9 682.5 L417.4 676.9 L416.9 675.3 L416.4 675.1 L415.9 674.7 L415.4 675.8 L414.9 677.1 L414.4 677.2 L413.9 674.3 L413.4 675.2 L412.9 676.4 L412.4 674.3 L411.9 673.3 L411.4 669.9 L410.9 669.7 L410.4 668.9 L409.9 670.3 L409.4 671.2 L408.9 669.3 L408.4 667.8 L407.9 669.5 L407.4 670.7 L406.9 669.5 L406.4 668.3 L405.9 669.4 L405.4 668.8 L404.9 669.7 L404.4 665.3 L403.9 663.3 L403.4 662.5 L402.9 657.7 L402.4 657.0 L401.9 654.8 L401.4 653.7 L400.9 647.9 L400.4 648.9 L399.9 648.2 L399.4 647.4 L398.9 647.0 L398.4 645.4 L397.9 642.1Z" fill="#ff0000" stroke="#ff0000" stroke-width="1.20" stroke-linejoin="round"/>
<path d="M397.7 639.7 L398.4 642.9 L399.1 649.6 L399.8 650.2 L400.5 644.6 L401.2 647.9 L401.9 656.6 L402.6 658.5 L403.3 665.8 L404.0 663.8 L404.7 660.7 L405.4 669.8 L406.1 660.2 L406.8 671.8 L407.5 674.4 L408.2 670.6 L408.9 667.6 L409.6 667.9 L410.3 664.9 L411.0 671.4 L411.7 665.3 L412.4 677.0 L413.1 666.8 L413.8 678.3 L414.5 669.8 L415.2 676.0 L415.9 676.0 L416.6 667.4 L417.3 682.1 L418.0 684.9 L418.7 681.4 L419.4 687.4 L420.1 685.6 L420.8 698.1 L421.5 706.1 L422.2 698.4 L422.9 703.3 L423.6 712.7 L424.3 715.4 L425.0 709.0 L425.7 715.3 L426.4 712.0 L427.1 719.5 L427.8 726.9 L428.5 731.8 L429.2 729.8 L429.9 723.4 L430.6 721.0 L431.3 721.5 L432.0 724.2 L432.7 738.7 L433.4 733.5 L434.1 741.0 L434.8 742.2 L435.5 737.6 L436.2 732.4 L436.9 740.4 L437.6 740.7 L438.3 748.4 L439.0 733.5 L439.7 738.8 L440.4 734.6 L441.1 732.1 L441.8 730.9 L442.5 729.8 L443.2 727.8 L443.9 738.3 L444.6 729.7 L445.3 733.5 L446.0 742.8 L446.7 744.2 L447.4 745.6 L448.1 742.8 L448.8 738.4 L449.5 736.2 L450.2 740.0 L450.9 734.0 L451.6 743.4 L452.3 743.3 L453.0 737.1 L453.7 744.1 L454.4 737.5 L455.1 752.5 L455.8 742.7 L456.5 752.1 L457.2 746.7 L457.9 758.4 L458.6 756.2 L459.3 758.6 L460.0 757.8 L460.7 747.4 L461.4 752.6 L462.1 751.0 L462.8 750.3 L463.5 742.1 L464.2 752.0 L464.9 753.5 L465.6 743.3 L466.3 729.5 L467.0 731.6 L467.7 723.6 L468.4 726.3 L469.1 710.9 L469.8 704.5 L470.5 706.7 L471.2 697.6 L471.9 703.1 L472.6 706.8 L473.3 700.0 L474.0 705.5 L474.7 701.5 L475.4 703.8 L476.1 718.2 L476.8 715.6 L477.5 699.6 L478.2 703.0 L478.9 700.6 L479.6 694.5 L480.3 698.7 L481.0 684.4 L481.7 689.6 L482.4 686.1 L483.1 690.2 L483.8 694.8 L484.5 700.7 L485.2 700.7 L485.9 712.5 L486.6 713.6 L487.3 715.4 L488.0 714.0 L488.7 721.5 L489.4 708.6 L490.1 714.0 L490.8 721.9 L491.5 717.0 L492.2 719.5 L492.9 717.1 L493.6 720.6 L494.3 716.0 L495.0 722.0 L495.7 724.9 L496.4 719.7 L497.1 724.2 L497.8 729.7 L498.5 730.9 L499.2 742.4 L499.9 742.0 L500.6 733.9 L501.3 734.3 L502.0 736.6 L502.7 726.3 L503.4 728.9 L504.1 725.2 L504.8 719.4 L505.5 713.2 L506.2 710.5 L506.9 715.1 L507.6 711.5 L508.3 708.3 L509.0 713.5 L509.7 715.0 L510.4 720.0 L511.1 722.2 L511.8 739.6 L512.5 729.3 L513.2 728.8 L513.9 744.0 L514.6 736.4 L515.3 733.8 L516.0 731.7 L516.7 722.6 L517.4 721.7 L518.1 730.9 L518.8 724.0 L519.5 723.3 L520.2 729.8 L520.9 718.0 L521.6 729.7 L522.3 724.4 L523.0 737.4 L523.7 734.3 L524.4 732.3 L525.1 739.8 L525.8 733.1 L526.5 730.1 L527.2 734.1 L527.9 729.6 L528.6 728.4 L529.3 719.5 L530.0 722.0 L530.7 713.2 L531.4 721.0 L532.1 726.8 L532.8 719.2 L533.5 718.5 L534.2 717.5 L534.9 710.1 L535.6 716.6 L536.3 711.8 L537.0 714.9 L537.7 716.2 L538.4 715.0 L539.1 719.2 L539.8 722.3 L540.5 726.9 L541.2 731.3 L541.9 725.3 L542.6 715.9 L543.3 716.1 L544.0 723.9 L544.7 709.6 L545.4 713.1 L546.1 719.9 L546.8 712.5 L547.5 707.5 L548.2 711.3 L548.9 707.1 L549.6 703.1 L550.3 697.3 L551.0 701.1 L551.7 697.4 L552.4 690.4 L553.1 678.9 L553.8 680.2 L554.5 675.9 L555.2 673.8 L555.9 687.7 L556.6 681.0 L557.3 678.6 L558.0 677.5 L558.7 674.2 L559.4 672.7 L560.1 672.9 L560.8 673.6 L561.5 675.5 L562.2 668.4 L562.9 664.3 L563.6 666.1 L564.3 674.7 L565.0 675.6 L565.7 662.9 L566.4 662.8 L567.1 663.4 L567.8 658.6 L568.5 654.3 L569.2 651.4 L569.9 650.4 L570.6 644.5 L571.3 651.2 L572.0 640.5 L572.7 647.5 L573.4 646.5 L574.1 638.1 L574.8 646.8 L575.5 641.8 L576.2 648.0 L576.9 652.1 L577.6 655.2 L578.3 647.2 L579.0 646.6 L579.7 660.3 L580.4 652.1 L581.1 642.9 L581.8 639.4 L582.5 637.6 L583.2 639.1 L583.9 637.4 L584.6 629.6 L585.3 640.2 L586.0 631.3 L586.7 632.5 L587.4 630.1 L588.1 632.8 L588.8 636.6 L589.5 644.2 L590.2 647.7 L590.9 645.0 L591.6 641.5 L592.3 641.2 L593.0 640.6 L593.7 643.6 L594.4 636.1 L595.1 640.4 L595.8 635.5 L596.5 644.9 L597.2 640.2 L597.9 640.3 L598.6 648.7 L599.3 635.6 L600.0 647.5 L600.7 644.9 L601.4 640.9 L602.1 631.6 L602.8 631.0 L603.5 631.8 L604.2 616.5 L604.9 615.8 L605.6 623.0 L606.3 618.3 L607.0 612.6 L607.7 618.8 L608.4 619.0 L609.1 613.6 L609.8 618.3 L610.5 612.6 L611.2 609.2 L611.9 610.0 L612.6 611.2 L613.3 610.9 L614.0 609.1 L614.7 603.8 L615.4 599.6 L616.1 606.0 L616.8 604.4 L617.5 618.6 L618.2 613.6 L618.9 611.7 L619.6 627.9 L620.3 614.9 L621.0 628.6 L621.7 626.6 L622.4 626.4 L623.1 629.0 L623.8 623.9 L624.5 626.2 L625.2 626.8 L625.9 627.7 L626.6 625.9 L627.3 617.6 L628.0 627.7 L628.7 619.2 L629.4 624.8 L630.1 627.6 L630.8 635.4 L631.5 632.3 L632.2 632.7 L632.9 629.9 L633.6 646.8 L634.3 645.8 L635.0 648.0 L635.7 651.5 L636.4 659.0 L637.1 657.3 L637.8 664.4 L638.5 663.7 L639.2 659.7 L639.9 658.7 L640.6 657.9 L641.3 662.8 L642.0 661.5 L642.7 660.8 L643.4 670.7 L644.1 661.7 L644.8 660.8 L645.5 658.3 L646.2 661.5 L646.9 665.6 L647.6 665.3 L648.3 662.5 L649.0 665.4 L649.7 671.3 L650.4 669.7 L651.1 667.4 L651.8 675.7 L652.5 661.6 L653.2 669.4 L653.9 668.0 L654.6 677.9 L655.3 672.9 L656.0 680.8 L656.7 689.1 L657.4 681.8 L658.1 682.0 L658.8 696.9 L659.5 687.2 L660.2 686.9 L660.9 680.8 L661.6 683.2 L662.3 678.0 L663.0 684.2 L663.7 674.8 L664.4 682.2 L665.1 669.7 L665.8 671.9 L666.5 669.4 L667.2 682.5 L667.9 675.4 L668.6 676.0" fill="none" stroke="#ff0000" stroke-width="1.15" stroke-linejoin="round"/>
<path d="M397.9 638.6 L398.4 642.7 L398.9 646.8 L399.4 651.1 L399.9 654.5 L400.4 657.2 L400.9 659.6 L401.4 662.7 L401.9 664.5 L402.4 666.9 L402.9 666.1 L403.4 664.3 L403.9 668.3 L404.4 669.1 L404.9 674.5 L405.4 682.6 L405.9 683.0 L406.4 686.8 L406.9 688.2 L407.4 696.8 L407.9 700.9 L408.4 702.8 L408.9 703.6 L409.4 706.9 L409.9 708.7 L410.4 709.6 L410.9 712.5 L411.4 720.1 L411.9 719.5 L412.4 719.8 L412.9 719.1 L413.4 720.0 L413.9 720.9 L414.4 723.9 L414.9 720.6 L415.4 720.5 L415.9 721.0 L416.4 724.6 L416.9 723.3 L417.4 729.2 L417.9 731.4 L418.4 734.1 L418.9 734.9 L419.4 734.3 L419.9 737.5 L420.4 741.5 L420.9 743.2 L421.4 741.2 L421.9 743.0 L422.4 747.1 L422.9 746.0 L423.4 745.0 L423.9 744.7 L424.4 745.6 L424.9 746.8 L425.4 749.5 L425.9 752.4 L426.4 750.4 L426.9 750.4 L427.4 748.9 L427.9 744.1 L428.4 736.4 L428.9 736.4 L429.4 733.5 L429.9 732.5 L430.4 728.6 L430.9 727.1 L431.4 724.7 L431.9 723.9 L432.4 720.4 L432.9 718.7 L433.4 716.7 L433.9 715.7 L434.4 715.7 L434.9 715.8 L435.4 716.1 L435.9 718.0 L436.4 718.5 L436.9 718.4 L437.4 720.5 L437.9 721.7 L438.4 726.6 L438.9 728.0 L439.4 730.6 L439.9 730.5 L440.4 730.3 L440.9 730.7 L441.4 730.1 L441.9 731.9 L442.4 734.8 L442.9 736.8 L443.4 738.0 L443.9 737.2 L444.4 737.5 L444.9 738.9 L445.4 742.7 L445.9 743.0 L446.4 746.8 L446.9 746.5 L447.4 747.5 L447.9 747.0 L448.4 741.1 L448.9 735.0 L449.4 734.6 L449.9 731.8 L450.4 730.2 L450.9 725.0 L451.4 725.5 L451.9 725.4 L452.4 726.3 L452.9 729.7 L453.4 730.1 L453.9 727.7 L454.4 728.7 L454.9 727.6 L455.4 724.8 L455.9 723.8 L456.4 724.9 L456.9 725.6 L457.4 725.6 L457.9 726.9 L458.4 729.4 L458.9 730.7 L459.4 733.1 L459.9 735.9 L460.4 740.2 L460.9 740.5 L461.4 738.6 L461.9 739.6 L462.4 742.5 L462.9 742.5 L463.4 741.1 L463.9 740.9 L464.4 740.1 L464.9 740.1 L465.4 741.3 L465.9 744.3 L466.4 749.0 L466.9 751.8 L467.4 758.4 L467.9 757.9 L468.4 759.8 L468.9 758.0 L469.4 757.3 L469.9 757.3 L470.4 755.3 L470.9 756.9 L471.4 759.7 L471.9 766.0 L472.4 767.3 L472.9 770.2 L473.4 770.5 L473.9 771.1 L474.4 772.0 L474.9 771.5 L475.4 766.5 L475.9 766.0 L476.4 762.8 L476.9 758.9 L477.4 753.5 L477.9 753.6 L478.4 751.3 L478.9 749.6 L479.4 748.4 L479.9 744.5 L480.4 741.1 L480.9 738.8 L481.4 738.6 L481.9 738.1 L482.4 735.1 L482.9 732.7 L483.4 729.7 L483.9 725.7 L484.4 726.3 L484.9 730.3 L485.4 728.4 L485.9 726.7 L486.4 725.5 L486.9 724.5 L487.4 726.9 L487.9 723.7 L488.4 724.5 L488.9 727.7 L489.4 728.8 L489.9 728.5 L490.4 726.1 L490.9 722.2 L491.4 720.7 L491.9 718.3 L492.4 718.1 L492.9 715.5 L493.4 715.7 L493.9 711.7 L494.4 710.9 L494.9 708.9 L495.4 706.7 L495.9 705.6 L496.4 705.2 L496.9 704.7 L497.4 701.7 L497.9 699.5 L498.4 698.8 L498.9 697.5 L499.4 696.8 L499.9 695.7 L500.4 692.9 L500.9 688.9 L501.4 686.6 L501.9 684.9 L502.4 682.6 L502.9 683.2 L503.4 683.8 L503.9 683.8 L504.4 681.1 L504.9 681.6 L505.4 681.5 L505.9 679.0 L506.4 679.3 L506.9 679.2 L507.4 675.9 L507.9 675.9 L508.4 675.6 L508.9 674.3 L509.4 672.7 L509.9 671.5 L510.4 671.0 L510.9 675.3 L511.4 674.1 L511.9 675.7 L512.4 674.1 L512.9 675.0 L513.4 671.8 L513.9 672.0 L514.4 673.5 L514.9 672.2 L515.4 669.6 L515.9 672.9 L516.4 673.7 L516.9 675.0 L517.4 679.4 L517.9 679.4 L518.4 679.4 L518.9 681.6 L519.4 684.4 L519.9 689.7 L520.4 688.1 L520.9 685.4 L521.4 687.9 L521.9 691.3 L522.4 689.8 L522.9 693.2 L523.4 690.6 L523.9 690.6 L524.4 690.9 L524.9 690.2 L525.4 687.6 L525.9 686.9 L526.4 687.0 L526.9 684.1 L527.4 684.2 L527.9 682.9 L528.4 682.7 L528.9 684.7 L529.4 684.4 L529.9 684.3 L530.4 684.9 L530.9 685.9 L531.4 690.5 L531.9 684.9 L532.4 681.2 L532.9 678.4 L533.4 677.3 L533.9 678.1 L534.4 678.1 L534.9 679.4 L535.4 680.8 L535.9 681.3 L536.4 681.0 L536.9 682.0 L537.4 683.9 L537.9 684.2 L538.4 687.0 L538.9 688.4 L539.4 686.4 L539.9 683.3 L540.4 682.5 L540.9 684.5 L541.4 681.2 L541.9 678.8 L542.4 678.6 L542.9 677.7 L543.4 679.6 L543.9 677.5 L544.4 673.4 L544.9 670.7 L545.4 669.2 L545.9 667.7 L546.4 666.9 L546.9 664.5 L547.4 664.5 L547.9 663.0 L548.4 660.0 L548.9 659.1 L549.4 656.6 L549.9 652.0 L550.4 654.9 L550.9 652.8 L551.4 651.5 L551.9 653.1 L552.4 650.3 L552.9 645.6 L553.4 643.5 L553.9 643.0 L554.4 637.2 L554.9 636.2 L555.4 632.7 L555.9 631.8 L556.4 629.1 L556.9 627.9 L557.4 630.2 L557.9 632.4 L558.4 634.5 L558.9 637.5 L559.4 641.0 L559.9 640.9 L560.4 640.9 L560.9 642.7 L561.4 647.6 L561.9 648.7 L562.4 649.7 L562.9 649.9 L563.4 651.3 L563.9 653.7 L564.4 651.3 L564.9 650.9 L565.4 649.1 L565.9 644.4 L566.4 642.0 L566.9 639.1 L567.4 637.3 L567.9 635.9 L568.4 633.0 L568.9 630.7 L569.4 627.7 L569.9 627.1 L570.4 627.2 L570.9 628.1 L571.4 628.6 L571.9 628.6 L572.4 625.3 L572.9 626.5 L573.4 628.1 L573.9 628.0 L574.4 628.3 L574.9 628.1 L575.4 629.0 L575.9 632.6 L576.4 631.9 L576.9 634.7 L577.4 638.2 L577.9 642.9 L578.4 644.4 L578.9 645.7 L579.4 647.0 L579.9 647.6 L580.4 645.2 L580.9 643.0 L581.4 639.6 L581.9 638.3 L582.4 632.2 L582.9 630.6 L583.4 633.0 L583.9 634.0 L584.4 631.5 L584.9 629.4 L585.4 632.5 L585.9 633.8 L586.4 633.7 L586.9 633.5 L587.4 634.5 L587.9 633.8 L588.4 631.6 L588.9 632.3 L589.4 635.6 L589.9 638.1 L590.4 636.9 L590.9 636.9 L591.4 640.8 L591.9 640.2 L592.4 642.5 L592.9 639.8 L593.4 636.1 L593.9 631.8 L594.4 627.8 L594.9 624.8 L595.4 624.6 L595.9 626.4 L596.4 626.7 L596.9 628.3 L597.4 629.0 L597.9 632.3 L598.4 630.2 L598.9 627.7 L599.4 626.3 L599.9 626.1 L600.4 627.8 L600.9 627.2 L601.4 626.5 L601.9 623.7 L602.4 621.3 L602.9 619.0 L603.4 618.8 L603.9 620.0 L604.4 621.5 L604.9 622.3 L605.4 623.3 L605.9 622.7 L606.4 621.3 L606.9 621.1 L607.4 622.9 L607.9 620.1 L608.4 618.6 L608.9 618.6 L609.4 619.0 L609.9 619.2 L610.4 623.6 L610.9 622.3 L611.4 622.3 L611.9 621.8 L612.4 626.0 L612.9 629.8 L613.4 630.6 L613.9 629.5 L614.4 628.6 L614.9 630.1 L615.4 629.8 L615.9 624.9 L616.4 624.8 L616.9 624.2 L617.4 619.1 L617.9 619.1 L618.4 620.8 L618.9 614.9 L619.4 613.5 L619.9 610.5 L620.4 612.0 L620.9 611.9 L621.4 611.9 L621.9 614.6 L622.4 614.2 L622.9 614.5 L623.4 617.6 L623.9 619.9 L624.4 622.3 L624.9 623.6 L625.4 623.9 L625.9 622.0 L626.4 620.3 L626.9 620.2 L627.4 621.1 L627.9 622.2 L628.4 625.5 L628.9 628.6 L629.4 633.8 L629.9 635.0 L630.4 634.8 L630.9 632.6 L631.4 627.9 L631.9 628.7 L632.4 631.5 L632.9 628.5 L633.4 626.7 L633.9 623.9 L634.4 619.5 L634.9 617.5 L635.4 616.9 L635.9 614.8 L636.4 610.6 L636.9 612.1 L637.4 610.0 L637.9 607.2 L638.4 608.0 L638.9 609.1 L639.4 606.9 L639.9 604.7 L640.4 603.7 L640.9 599.4 L641.4 601.3 L641.9 601.4 L642.4 603.8 L642.9 601.3 L643.4 599.0 L643.9 600.4 L644.4 602.0 L644.9 605.7 L645.4 608.4 L645.9 609.4 L646.4 612.9 L646.9 616.7 L647.4 615.8 L647.9 617.1 L648.4 622.3 L648.9 622.2 L649.4 625.4 L649.9 629.3 L650.4 628.8 L650.9 630.6 L651.4 634.0 L651.9 635.4 L652.4 639.7 L652.9 644.6 L653.4 649.5 L653.9 649.6 L654.4 653.4 L654.9 657.6 L655.4 657.6 L655.9 659.3 L656.4 660.2 L656.9 660.3 L657.4 660.4 L657.9 659.8 L658.4 659.7 L658.9 660.7 L659.4 661.3 L659.9 666.2 L660.4 664.1 L660.9 664.5 L661.4 663.0 L661.9 662.7 L662.4 658.9 L662.9 657.8 L663.4 658.9 L663.9 656.5 L664.4 659.5 L664.9 656.8 L665.4 654.2 L665.9 649.8 L666.4 649.8 L666.9 646.1 L667.4 643.8 L667.9 640.2 L668.4 638.7 L668.8 637.1 L668.8 639.6 L668.4 640.5 L667.9 644.4 L667.4 647.3 L666.9 651.0 L666.4 651.3 L665.9 654.5 L665.4 657.2 L664.9 661.1 L664.4 662.4 L663.9 660.5 L663.4 661.4 L662.9 659.2 L662.4 664.5 L661.9 664.4 L661.4 666.8 L660.9 666.8 L660.4 667.5 L659.9 668.9 L659.4 668.9 L658.9 662.9 L658.4 662.9 L657.9 662.9 L657.4 662.8 L656.9 662.6 L656.4 663.2 L655.9 661.4 L655.4 660.2 L654.9 660.0 L654.4 657.7 L653.9 653.4 L653.4 652.4 L652.9 649.7 L652.4 645.0 L651.9 641.6 L651.4 636.3 L650.9 634.0 L650.4 631.5 L649.9 632.5 L649.4 629.6 L648.9 626.9 L648.4 624.7 L647.9 622.5 L647.4 618.6 L646.9 618.6 L646.4 616.7 L645.9 613.7 L645.4 610.5 L644.9 608.7 L644.4 605.7 L643.9 603.2 L643.4 603.0 L642.9 606.1 L642.4 606.7 L641.9 604.1 L641.4 603.4 L640.9 604.9 L640.4 605.1 L639.9 606.9 L639.4 610.1 L638.9 612.1 L638.4 610.4 L637.9 611.6 L637.4 612.6 L636.9 614.7 L636.4 615.3 L635.9 617.2 L635.4 619.0 L634.9 619.6 L634.4 625.3 L633.9 627.1 L633.4 631.9 L632.9 631.5 L632.4 634.1 L631.9 631.9 L631.4 633.0 L630.9 635.1 L630.4 639.0 L629.9 639.4 L629.4 635.3 L628.9 633.9 L628.4 628.6 L627.9 625.5 L627.4 622.9 L626.9 622.3 L626.4 623.9 L625.9 624.7 L625.4 625.1 L624.9 625.1 L624.4 624.9 L623.9 622.3 L623.4 621.0 L622.9 618.9 L622.4 617.3 L621.9 617.5 L621.4 617.4 L620.9 616.1 L620.4 616.1 L619.9 613.5 L619.4 616.5 L618.9 620.8 L618.4 623.6 L617.9 623.2 L617.4 624.2 L616.9 628.7 L616.4 628.5 L615.9 629.8 L615.4 633.6 L614.9 632.3 L614.4 631.5 L613.9 632.7 L613.4 632.7 L612.9 633.5 L612.4 629.8 L611.9 626.0 L611.4 624.2 L610.9 624.2 L610.4 625.5 L609.9 625.0 L609.4 623.0 L608.9 622.9 L608.4 621.2 L607.9 625.0 L607.4 626.4 L606.9 625.3 L606.4 624.1 L605.9 627.3 L605.4 626.4 L604.9 624.7 L604.4 623.8 L603.9 624.0 L603.4 620.3 L602.9 621.8 L602.4 625.0 L601.9 626.5 L601.4 628.9 L600.9 629.4 L600.4 629.0 L599.9 629.2 L599.4 628.3 L598.9 630.2 L598.4 635.0 L597.9 635.0 L597.4 633.2 L596.9 629.8 L596.4 630.1 L595.9 627.9 L595.4 626.6 L594.9 628.2 L594.4 632.9 L593.9 637.2 L593.4 640.4 L592.9 642.8 L592.4 645.7 L591.9 643.6 L591.4 643.5 L590.9 642.5 L590.4 639.1 L589.9 639.9 L589.4 639.0 L588.9 635.6 L588.4 633.8 L587.9 636.3 L587.4 636.1 L586.9 637.3 L586.4 635.1 L585.9 636.8 L585.4 633.8 L584.9 632.9 L584.4 634.3 L583.9 636.0 L583.4 635.9 L582.9 634.4 L582.4 638.7 L581.9 639.6 L581.4 643.0 L580.9 645.2 L580.4 648.7 L579.9 649.2 L579.4 650.1 L578.9 651.0 L578.4 646.3 L577.9 645.4 L577.4 643.7 L576.9 638.2 L576.4 637.1 L575.9 635.3 L575.4 633.2 L574.9 630.2 L574.4 630.3 L573.9 630.2 L573.4 632.3 L572.9 630.3 L572.4 628.6 L571.9 630.7 L571.4 630.7 L570.9 629.8 L570.4 629.5 L569.9 628.4 L569.4 632.6 L568.9 633.6 L568.4 635.9 L567.9 640.8 L567.4 640.8 L566.9 643.0 L566.4 645.6 L565.9 649.5 L565.4 651.4 L564.9 653.0 L564.4 654.9 L563.9 655.8 L563.4 654.1 L562.9 652.7 L562.4 653.1 L561.9 653.2 L561.4 649.4 L560.9 648.6 L560.4 642.9 L559.9 643.4 L559.4 644.4 L558.9 641.0 L558.4 637.7 L557.9 635.2 L557.4 634.1 L556.9 631.2 L556.4 632.7 L555.9 634.9 L555.4 636.2 L554.9 639.1 L554.4 643.5 L553.9 643.9 L553.4 647.5 L552.9 650.3 L552.4 655.9 L551.9 655.1 L551.4 654.5 L550.9 656.5 L550.4 657.0 L549.9 657.1 L549.4 659.5 L548.9 661.8 L548.4 664.4 L547.9 667.1 L547.4 668.7 L546.9 667.8 L546.4 669.7 L545.9 671.8 L545.4 671.8 L544.9 673.4 L544.4 677.5 L543.9 680.3 L543.4 681.7 L542.9 679.8 L542.4 681.0 L541.9 681.5 L541.4 684.5 L540.9 686.7 L540.4 685.5 L539.9 687.1 L539.4 688.4 L538.9 691.1 L538.4 689.8 L537.9 687.9 L537.4 686.2 L536.9 685.6 L536.4 682.9 L535.9 683.6 L535.4 684.4 L534.9 683.4 L534.4 680.7 L533.9 680.7 L533.4 680.6 L532.9 681.4 L532.4 685.5 L531.9 691.0 L531.4 694.1 L530.9 690.5 L530.4 688.7 L529.9 687.3 L529.4 687.0 L528.9 687.0 L528.4 685.4 L527.9 686.4 L527.4 686.4 L526.9 687.2 L526.4 689.8 L525.9 690.0 L525.4 690.5 L524.9 695.2 L524.4 695.2 L523.9 691.6 L523.4 693.6 L522.9 695.4 L522.4 693.8 L521.9 693.8 L521.4 692.3 L520.9 688.5 L520.4 692.6 L519.9 692.5 L519.4 690.4 L518.9 686.1 L518.4 681.6 L517.9 681.8 L517.4 682.8 L516.9 680.6 L516.4 675.8 L515.9 675.9 L515.4 673.8 L514.9 674.3 L514.4 675.1 L513.9 674.0 L513.4 678.0 L512.9 678.0 L512.4 678.0 L511.9 677.4 L511.4 676.8 L510.9 676.9 L510.4 676.7 L509.9 676.0 L509.4 676.0 L508.9 676.4 L508.4 678.0 L507.9 678.9 L507.4 680.6 L506.9 681.9 L506.4 681.8 L505.9 683.1 L505.4 684.3 L504.9 684.1 L504.4 686.0 L503.9 686.3 L503.4 687.2 L502.9 686.5 L502.4 685.0 L501.9 687.7 L501.4 689.8 L500.9 694.5 L500.4 695.9 L499.9 698.3 L499.4 698.6 L498.9 699.5 L498.4 702.9 L497.9 704.1 L497.4 705.3 L496.9 708.0 L496.4 707.3 L495.9 709.0 L495.4 710.1 L494.9 711.9 L494.4 712.7 L493.9 717.9 L493.4 718.4 L492.9 719.6 L492.4 719.3 L491.9 721.8 L491.4 724.3 L490.9 726.1 L490.4 729.8 L489.9 730.2 L489.4 730.6 L488.9 730.3 L488.4 727.7 L487.9 727.6 L487.4 728.4 L486.9 726.9 L486.4 729.5 L485.9 728.9 L485.4 732.1 L484.9 733.1 L484.4 730.7 L483.9 729.7 L483.4 734.6 L482.9 736.0 L482.4 738.1 L481.9 740.3 L481.4 739.7 L480.9 741.8 L480.4 744.5 L479.9 748.4 L479.4 752.3 L478.9 751.4 L478.4 753.6 L477.9 756.1 L477.4 759.4 L476.9 762.8 L476.4 767.7 L475.9 767.5 L475.4 772.9 L474.9 773.9 L474.4 774.2 L473.9 774.0 L473.4 772.2 L472.9 772.5 L472.4 771.4 L471.9 767.6 L471.4 766.0 L470.9 759.7 L470.4 757.8 L469.9 760.3 L469.4 760.3 L468.9 760.8 L468.4 762.6 L467.9 760.0 L467.4 759.9 L466.9 759.1 L466.4 751.8 L465.9 749.0 L465.4 744.3 L464.9 742.9 L464.4 744.0 L463.9 744.1 L463.4 745.6 L462.9 746.0 L462.4 745.1 L461.9 745.0 L461.4 742.2 L460.9 745.1 L460.4 743.9 L459.9 740.4 L459.4 735.9 L458.9 733.9 L458.4 730.7 L457.9 729.4 L457.4 729.0 L456.9 728.2 L456.4 729.0 L455.9 726.8 L455.4 728.0 L454.9 730.7 L454.4 732.0 L453.9 732.0 L453.4 731.6 L452.9 733.3 L452.4 729.8 L451.9 727.6 L451.4 728.0 L450.9 730.4 L450.4 732.5 L449.9 735.3 L449.4 737.5 L448.9 741.1 L448.4 747.0 L447.9 751.2 L447.4 751.2 L446.9 753.0 L446.4 749.6 L445.9 746.8 L445.4 744.2 L444.9 743.7 L444.4 740.8 L443.9 739.5 L443.4 739.5 L442.9 738.4 L442.4 739.3 L441.9 735.8 L441.4 731.9 L440.9 734.7 L440.4 734.7 L439.9 731.9 L439.4 733.7 L438.9 733.1 L438.4 729.9 L437.9 726.6 L437.4 722.8 L436.9 721.2 L436.4 721.1 L435.9 719.9 L435.4 719.4 L434.9 717.9 L434.4 717.5 L433.9 717.7 L433.4 720.6 L432.9 722.9 L432.4 725.5 L431.9 726.3 L431.4 728.0 L430.9 729.1 L430.4 732.5 L429.9 734.5 L429.4 737.9 L428.9 739.0 L428.4 744.1 L427.9 748.9 L427.4 752.1 L426.9 753.5 L426.4 752.8 L425.9 755.6 L425.4 753.9 L424.9 751.1 L424.4 747.1 L423.9 747.5 L423.4 747.5 L422.9 749.5 L422.4 748.5 L421.9 747.4 L421.4 743.8 L420.9 745.3 L420.4 744.1 L419.9 741.5 L419.4 737.5 L418.9 736.7 L418.4 736.8 L417.9 734.2 L417.4 731.7 L416.9 729.8 L416.4 726.9 L415.9 724.7 L415.4 722.5 L414.9 724.7 L414.4 726.2 L413.9 725.1 L413.4 722.3 L412.9 721.9 L412.4 722.8 L411.9 721.9 L411.4 721.8 L410.9 720.1 L410.4 712.9 L409.9 712.1 L409.4 710.1 L408.9 707.1 L408.4 704.3 L407.9 703.7 L407.4 701.1 L406.9 696.8 L406.4 688.2 L405.9 687.3 L405.4 684.7 L404.9 683.5 L404.4 674.5 L403.9 669.5 L403.4 669.1 L402.9 667.7 L402.4 669.3 L401.9 669.0 L401.4 665.0 L400.9 662.9 L400.4 659.6 L399.9 657.2 L399.4 654.5 L398.9 651.1 L398.4 646.8 L397.9 642.7Z" fill="#008000" stroke="#008000" stroke-width="1.20" stroke-linejoin="round"/>
<path d="M397.7 640.9 L398.4 646.3 L399.1 654.2 L399.8 654.8 L400.5 664.2 L401.2 662.1 L401.9 665.9 L402.6 660.1 L403.3 665.1 L404.0 665.0 L404.7 678.3 L405.4 690.5 L406.1 690.1 L406.8 690.5 L407.5 708.8 L408.2 701.9 L408.9 704.2 L409.6 707.9 L410.3 711.1 L411.0 718.5 L411.7 727.5 L412.4 716.7 L413.1 717.6 L413.8 725.9 L414.5 715.8 L415.2 715.0 L415.9 723.5 L416.6 723.9 L417.3 723.6 L418.0 728.6 L418.7 729.1 L419.4 732.8 L420.1 744.3 L420.8 747.1 L421.5 749.7 L422.2 742.2 L422.9 745.3 L423.6 751.3 L424.3 751.3 L425.0 751.3 L425.7 752.7 L426.4 754.6 L427.1 754.1 L427.8 743.4 L428.5 738.4 L429.2 738.0 L429.9 740.4 L430.6 722.8 L431.3 730.8 L432.0 722.8 L432.7 724.4 L433.4 719.1 L434.1 711.0 L434.8 722.2 L435.5 720.5 L436.2 726.6 L436.9 724.0 L437.6 725.3 L438.3 732.5 L439.0 735.7 L439.7 735.5 L440.4 732.2 L441.1 728.3 L441.8 727.0 L442.5 739.2 L443.2 743.8 L443.9 734.8 L444.6 740.2 L445.3 741.1 L446.0 745.2 L446.7 749.3 L447.4 751.1 L448.1 739.9 L448.8 735.5 L449.5 733.1 L450.2 736.7 L450.9 731.5 L451.6 723.8 L452.3 729.6 L453.0 729.3 L453.7 730.5 L454.4 734.1 L455.1 727.0 L455.8 727.2 L456.5 730.1 L457.2 727.2 L457.9 731.1 L458.6 729.9 L459.3 736.0 L460.0 736.3 L460.7 741.5 L461.4 741.3 L462.1 743.0 L462.8 741.9 L463.5 739.6 L464.2 747.4 L464.9 742.9 L465.6 739.8 L466.3 745.9 L467.0 761.2 L467.7 762.1 L468.4 763.4 L469.1 754.2 L469.8 758.1 L470.5 762.3 L471.2 764.7 L471.9 767.9 L472.6 767.0 L473.3 765.6 L474.0 777.6 L474.7 767.0 L475.4 766.6 L476.1 772.0 L476.8 754.0 L477.5 749.7 L478.2 759.3 L478.9 752.5 L479.6 747.4 L480.3 749.6 L481.0 737.1 L481.7 739.5 L482.4 734.7 L483.1 729.9 L483.8 730.5 L484.5 729.8 L485.2 729.5 L485.9 725.4 L486.6 718.9 L487.3 733.5 L488.0 724.9 L488.7 722.1 L489.4 722.8 L490.1 721.7 L490.8 723.1 L491.5 716.9 L492.2 711.8 L492.9 711.8 L493.6 721.6 L494.3 718.6 L495.0 704.7 L495.7 707.2 L496.4 709.6 L497.1 697.5 L497.8 699.3 L498.5 697.0 L499.2 703.4 L499.9 702.5 L500.6 697.4 L501.3 691.3 L502.0 684.9 L502.7 691.7 L503.4 682.9 L504.1 684.5 L504.8 686.8 L505.5 683.8 L506.2 687.4 L506.9 679.3 L507.6 680.5 L508.3 678.7 L509.0 670.9 L509.7 677.7 L510.4 677.4 L511.1 673.9 L511.8 679.8 L512.5 670.4 L513.2 674.1 L513.9 673.7 L514.6 672.6 L515.3 674.3 L516.0 671.5 L516.7 675.3 L517.4 686.7 L518.1 673.7 L518.8 690.1 L519.5 694.9 L520.2 692.7 L520.9 693.8 L521.6 690.1 L522.3 688.8 L523.0 685.7 L523.7 688.3 L524.4 699.9 L525.1 689.1 L525.8 681.6 L526.5 687.9 L527.2 682.2 L527.9 681.2 L528.6 683.5 L529.3 690.7 L530.0 684.5 L530.7 690.7 L531.4 694.1 L532.1 681.1 L532.8 678.5 L533.5 684.8 L534.2 675.1 L534.9 676.0 L535.6 684.7 L536.3 684.5 L537.0 686.0 L537.7 688.5 L538.4 692.6 L539.1 694.2 L539.8 685.0 L540.5 680.3 L541.2 686.8 L541.9 681.2 L542.6 677.9 L543.3 681.2 L544.0 678.5 L544.7 670.6 L545.4 676.2 L546.1 666.4 L546.8 669.4 L547.5 671.8 L548.2 666.4 L548.9 667.3 L549.6 652.7 L550.3 653.9 L551.0 659.8 L551.7 647.3 L552.4 653.9 L553.1 645.0 L553.8 637.8 L554.5 633.2 L555.2 632.1 L555.9 635.2 L556.6 624.8 L557.3 634.8 L558.0 639.3 L558.7 632.4 L559.4 648.0 L560.1 642.2 L560.8 652.5 L561.5 644.2 L562.2 646.7 L562.9 644.5 L563.6 648.4 L564.3 659.9 L565.0 650.9 L565.7 644.2 L566.4 647.5 L567.1 639.6 L567.8 642.8 L568.5 630.8 L569.2 632.8 L569.9 630.4 L570.6 629.6 L571.3 635.0 L572.0 628.0 L572.7 621.6 L573.4 630.2 L574.1 630.3 L574.8 631.6 L575.5 633.8 L576.2 632.9 L576.9 629.6 L577.6 642.0 L578.3 649.3 L579.0 652.5 L579.7 652.5 L580.4 648.5 L581.1 642.9 L581.8 636.3 L582.5 632.9 L583.2 634.0 L583.9 634.9 L584.6 624.3 L585.3 632.5 L586.0 634.0 L586.7 638.5 L587.4 638.2 L588.1 630.0 L588.8 633.6 L589.5 638.8 L590.2 635.1 L590.9 636.4 L591.6 648.6 L592.3 645.6 L593.0 639.4 L593.7 627.6 L594.4 631.0 L595.1 627.1 L595.8 630.7 L596.5 632.9 L597.2 629.6 L597.9 640.1 L598.6 624.7 L599.3 631.4 L600.0 623.5 L600.7 626.2 L601.4 623.9 L602.1 621.0 L602.8 613.6 L603.5 625.0 L604.2 622.1 L604.9 619.7 L605.6 621.5 L606.3 619.5 L607.0 620.4 L607.7 622.3 L608.4 623.9 L609.1 624.9 L609.8 623.2 L610.5 621.0 L611.2 630.1 L611.9 623.0 L612.6 630.7 L613.3 637.0 L614.0 635.1 L614.7 634.6 L615.4 629.7 L616.1 626.7 L616.8 625.1 L617.5 622.1 L618.2 621.5 L618.9 615.4 L619.6 610.8 L620.3 615.9 L621.0 613.7 L621.7 617.2 L622.4 613.6 L623.1 612.5 L623.8 626.5 L624.5 622.4 L625.2 623.6 L625.9 623.0 L626.6 622.7 L627.3 615.2 L628.0 628.0 L628.7 636.5 L629.4 636.1 L630.1 636.1 L630.8 637.1 L631.5 628.7 L632.2 631.8 L632.9 625.6 L633.6 620.0 L634.3 627.3 L635.0 617.3 L635.7 617.7 L636.4 616.0 L637.1 605.6 L637.8 614.3 L638.5 609.1 L639.2 609.9 L639.9 603.7 L640.6 600.8 L641.3 604.1 L642.0 602.5 L642.7 596.9 L643.4 607.8 L644.1 600.0 L644.8 603.2 L645.5 607.8 L646.2 613.6 L646.9 617.1 L647.6 619.9 L648.3 623.9 L649.0 631.0 L649.7 624.1 L650.4 629.5 L651.1 632.6 L651.8 639.3 L652.5 642.6 L653.2 656.6 L653.9 657.1 L654.6 657.4 L655.3 655.2 L656.0 658.7 L656.7 668.2 L657.4 658.7 L658.1 656.3 L658.8 655.0 L659.5 666.8 L660.2 665.3 L660.9 658.8 L661.6 665.1 L662.3 667.4 L663.0 655.9 L663.7 662.6 L664.4 660.0 L665.1 652.4 L665.8 652.7 L666.5 649.2 L667.2 650.3 L667.9 643.2 L668.6 641.2" fill="none" stroke="#008000" stroke-width="1.15" stroke-linejoin="round"/>
<rect x="384.20" y="590.00" width="297.40" height="197.30" fill="none" stroke="#262626" stroke-width="0.8"/>
<text x="397.70" y="800.49" font-size="9.39" text-anchor="middle" textLength="5.75" lengthAdjust="spacingAndGlyphs" >0</text>
<text x="451.88" y="800.49" font-size="9.39" text-anchor="middle" textLength="11.49" lengthAdjust="spacingAndGlyphs" >20</text>
<text x="506.06" y="800.49" font-size="9.39" text-anchor="middle" textLength="11.49" lengthAdjust="spacingAndGlyphs" >40</text>
<text x="560.24" y="800.49" font-size="9.39" text-anchor="middle" textLength="11.49" lengthAdjust="spacingAndGlyphs" >60</text>
<text x="614.42" y="800.49" font-size="9.39" text-anchor="middle" textLength="11.49" lengthAdjust="spacingAndGlyphs" >80</text>
<text x="668.60" y="800.49" font-size="9.39" text-anchor="middle" textLength="17.24" lengthAdjust="spacingAndGlyphs" >100</text>
<text x="377.80" y="773.00" font-size="9.39" text-anchor="end" textLength="14.37" lengthAdjust="spacingAndGlyphs" >0.0</text>
<text x="377.80" y="735.60" font-size="9.39" text-anchor="end" textLength="14.37" lengthAdjust="spacingAndGlyphs" >0.2</text>
<text x="377.80" y="698.20" font-size="9.39" text-anchor="end" textLength="14.37" lengthAdjust="spacingAndGlyphs" >0.4</text>
<text x="377.80" y="660.80" font-size="9.39" text-anchor="end" textLength="14.37" lengthAdjust="spacingAndGlyphs" >0.6</text>
<text x="377.80" y="623.40" font-size="9.39" text-anchor="end" textLength="14.37" lengthAdjust="spacingAndGlyphs" >0.8</text>
<path d="M397.70 787.30v2.90M451.88 787.30v2.90M506.06 787.30v2.90M560.24 787.30v2.90M614.42 787.30v2.90M668.60 787.30v2.90M384.20 769.90h-2.90M384.20 732.50h-2.90M384.20 695.10h-2.90M384.20 657.70h-2.90M384.20 620.30h-2.90" stroke="#262626" stroke-width="0.8" fill="none"/>
<text x="532.90" y="584.50" font-size="11.38" text-anchor="middle" textLength="98.92" lengthAdjust="spacingAndGlyphs" >Comparison for Er</text>
<text x="532.90" y="812.91" font-size="9.39" text-anchor="middle" textLength="22.11" lengthAdjust="spacingAndGlyphs" >Time</text>
<text x="0.00" y="0.00" font-size="9.39" text-anchor="middle" textLength="9.42" lengthAdjust="spacingAndGlyphs" transform="translate(358.50 688.65) rotate(-90)">Er</text>
<rect x="387.90" y="594.50" width="91.60" height="41.70" rx="1.6" fill="#fff" fill-opacity="0.8" stroke="#cccccc" stroke-width="0.8"/>
<path d="M391.70 601.50H410.40" stroke="#0000ff" stroke-width="1.25" />
<text x="416.30" y="604.51" font-size="9.39" text-anchor="start" textLength="60.44" lengthAdjust="spacingAndGlyphs" >Deterministic</text>
<path d="M391.70 614.70H410.40" stroke="#ff0000" stroke-width="1.25" stroke-dasharray="4.62 2.00"/>
<text x="416.30" y="617.71" font-size="9.39" text-anchor="start" textLength="54.20" lengthAdjust="spacingAndGlyphs" >White Noise</text>
<path d="M391.70 627.90H410.40" stroke="#008000" stroke-width="1.25" stroke-dasharray="8.00 2.00 1.25 2.00"/>
<text x="416.30" y="630.91" font-size="9.39" text-anchor="start" textLength="49.05" lengthAdjust="spacingAndGlyphs" >Lévy Noise</text>
<text x="517.10" y="844.00" font-family="Liberation Serif, serif" font-size="16.5" text-anchor="middle" fill="#1a1a1a">(f)</text>
</g>
<g id="pg">
<path d="M47.57 919.42 C48.11 922.54 49.61 932.32 50.82 938.14 C52.03 943.96 54.07 951.42 54.82 954.35 C55.57 957.29 54.40 953.22 55.32 955.74 C56.23 958.26 58.65 965.72 60.32 969.47 C61.98 973.21 63.65 975.49 65.32 978.20 C66.98 980.90 68.23 983.40 70.32 985.68 C72.40 987.97 75.32 990.17 77.82 991.92 C80.32 993.67 82.82 995.12 85.32 996.16 C87.82 997.20 90.11 997.70 92.82 998.16 C95.53 998.61 98.65 998.91 101.57 998.91 C104.48 998.91 107.19 998.70 110.32 998.16 C113.44 997.62 116.98 996.70 120.32 995.66 C123.65 994.62 126.98 993.25 130.32 991.92 C133.65 990.59 136.98 989.13 140.32 987.68 C143.65 986.22 147.40 984.64 150.32 983.19 C153.23 981.73 151.36 983.33 157.82 978.95 C164.27 974.56 181.78 961.79 189.07 956.86 C196.36 951.93 197.40 951.45 201.57 949.37 C205.74 947.29 209.90 945.92 214.07 944.38 C218.24 942.84 222.40 941.39 226.57 940.14 C230.74 938.89 234.90 937.77 239.07 936.90 C243.24 936.02 247.40 935.44 251.57 934.90 C255.74 934.36 259.90 934.03 264.07 933.65 C268.24 933.28 272.40 932.86 276.57 932.66 C280.74 932.45 284.90 932.41 289.07 932.41 C293.24 932.41 297.40 932.57 301.57 932.66 C305.74 932.74 311.07 932.82 314.07 932.90 C317.07 932.99 318.65 933.11 319.57 933.15" fill="none" stroke="#0000ff" stroke-width="1.45" stroke-linejoin="round"/>
<path d="M47.8 919.3 L48.3 922.8 L48.8 926.0 L49.3 927.5 L49.8 927.8 L50.3 928.0 L50.8 926.3 L51.3 928.4 L51.8 931.8 L52.3 931.0 L52.8 935.8 L53.3 938.4 L53.8 941.9 L54.3 942.7 L54.8 946.0 L55.3 947.5 L55.8 948.4 L56.3 946.4 L56.8 947.5 L57.3 947.9 L57.8 948.6 L58.3 944.3 L58.8 945.1 L59.3 949.2 L59.8 949.2 L60.3 947.8 L60.8 948.0 L61.3 948.3 L61.8 949.5 L62.3 953.2 L62.8 954.9 L63.3 952.7 L63.8 951.7 L64.3 955.0 L64.8 952.2 L65.3 952.2 L65.8 953.1 L66.3 951.8 L66.8 953.7 L67.3 954.4 L67.8 956.6 L68.3 962.9 L68.8 965.4 L69.3 965.8 L69.8 968.2 L70.3 968.2 L70.8 971.9 L71.3 972.6 L71.8 978.4 L72.3 979.6 L72.8 980.7 L73.3 983.2 L73.8 983.9 L74.3 988.9 L74.8 992.2 L75.3 993.2 L75.8 994.0 L76.3 996.3 L76.8 1001.0 L77.3 999.6 L77.8 1000.3 L78.3 1004.0 L78.8 1003.6 L79.3 1002.9 L79.8 1004.1 L80.3 1004.3 L80.8 1003.6 L81.3 1003.2 L81.8 1004.0 L82.3 1005.5 L82.8 1010.5 L83.3 1010.6 L83.8 1011.5 L84.3 1013.8 L84.8 1014.4 L85.3 1015.7 L85.8 1020.3 L86.3 1018.3 L86.8 1019.5 L87.3 1020.4 L87.8 1020.1 L88.3 1020.1 L88.8 1020.6 L89.3 1018.3 L89.8 1017.7 L90.3 1016.2 L90.8 1015.1 L91.3 1012.2 L91.8 1009.5 L92.3 1007.9 L92.8 1009.7 L93.3 1010.3 L93.8 1010.7 L94.3 1012.0 L94.8 1015.7 L95.3 1016.4 L95.8 1020.8 L96.3 1023.4 L96.8 1022.0 L97.3 1021.5 L97.8 1020.2 L98.3 1019.2 L98.8 1021.5 L99.3 1020.4 L99.8 1019.4 L100.3 1018.2 L100.8 1019.8 L101.3 1021.0 L101.8 1021.1 L102.3 1024.1 L102.8 1021.7 L103.3 1022.1 L103.8 1022.9 L104.3 1021.8 L104.8 1023.0 L105.3 1024.6 L105.8 1025.3 L106.3 1026.9 L106.8 1027.9 L107.3 1028.8 L107.8 1031.1 L108.3 1032.6 L108.8 1036.2 L109.3 1037.1 L109.8 1034.4 L110.3 1035.1 L110.8 1032.3 L111.3 1030.4 L111.8 1030.7 L112.3 1030.5 L112.8 1031.0 L113.3 1028.4 L113.8 1028.6 L114.3 1028.3 L114.8 1026.6 L115.3 1024.0 L115.8 1017.4 L116.3 1015.4 L116.8 1013.1 L117.3 1006.5 L117.8 1004.8 L118.3 1001.9 L118.8 999.3 L119.3 989.9 L119.8 986.5 L120.3 985.0 L120.8 985.1 L121.3 982.9 L121.8 982.7 L122.3 982.5 L122.8 983.7 L123.3 986.9 L123.8 987.0 L124.3 984.4 L124.8 984.8 L125.3 989.0 L125.8 991.2 L126.3 990.8 L126.8 988.0 L127.3 984.3 L127.8 984.1 L128.3 984.1 L128.8 980.8 L129.3 978.5 L129.8 973.8 L130.3 972.4 L130.8 970.7 L131.3 968.9 L131.8 968.4 L132.3 967.1 L132.8 969.4 L133.3 972.5 L133.8 976.1 L134.3 975.6 L134.8 976.8 L135.3 980.4 L135.8 984.3 L136.3 989.6 L136.8 993.9 L137.3 991.7 L137.8 992.7 L138.3 993.7 L138.8 995.3 L139.3 994.4 L139.8 994.5 L140.3 996.7 L140.8 997.6 L141.3 996.2 L141.8 995.2 L142.3 994.6 L142.8 996.5 L143.3 998.6 L143.8 997.1 L144.3 997.1 L144.8 996.2 L145.3 998.3 L145.8 1003.7 L146.3 1005.2 L146.8 1006.0 L147.3 1007.4 L147.8 1012.4 L148.3 1014.6 L148.8 1015.7 L149.3 1018.1 L149.8 1020.1 L150.3 1022.7 L150.8 1019.2 L151.3 1020.2 L151.8 1018.0 L152.3 1012.7 L152.8 1011.3 L153.3 1010.7 L153.8 1011.0 L154.3 1005.9 L154.8 1004.1 L155.3 997.1 L155.8 997.0 L156.3 997.4 L156.8 994.9 L157.3 990.7 L157.8 987.5 L158.3 986.6 L158.8 988.9 L159.3 994.2 L159.8 997.0 L160.3 999.1 L160.8 1002.2 L161.3 1007.0 L161.8 1010.5 L162.3 1012.4 L162.8 1012.6 L163.3 1014.1 L163.8 1016.2 L164.3 1018.8 L164.8 1017.9 L165.3 1013.1 L165.8 1011.8 L166.3 1007.8 L166.8 1005.6 L167.3 1007.9 L167.8 1006.5 L168.3 1004.3 L168.8 1000.8 L169.3 1000.1 L169.8 999.9 L170.3 1004.2 L170.8 1003.5 L171.3 1003.3 L171.8 1003.9 L172.3 1007.7 L172.8 1010.2 L173.3 1010.2 L173.8 1013.3 L174.3 1014.4 L174.8 1015.4 L175.3 1018.1 L175.8 1019.3 L176.3 1019.6 L176.8 1017.6 L177.3 1012.8 L177.8 1008.5 L178.3 1007.0 L178.8 1006.4 L179.3 1001.5 L179.8 997.9 L180.3 996.1 L180.8 996.5 L181.3 998.9 L181.8 998.7 L182.3 998.4 L182.8 998.7 L183.3 997.2 L183.8 996.6 L184.3 994.6 L184.8 991.5 L185.3 989.9 L185.8 988.5 L186.3 988.5 L186.8 988.3 L187.3 989.9 L187.8 991.5 L188.3 994.5 L188.8 998.5 L189.3 1000.4 L189.8 1000.8 L190.3 1009.1 L190.8 1005.9 L191.3 1004.1 L191.8 1004.9 L192.3 1004.2 L192.8 1002.7 L193.3 999.2 L193.8 996.3 L194.3 996.3 L194.8 996.2 L195.3 992.1 L195.8 995.1 L196.3 992.2 L196.8 989.5 L197.3 989.0 L197.8 990.9 L198.3 987.6 L198.8 986.2 L199.3 983.5 L199.8 982.3 L200.3 978.3 L200.8 976.5 L201.3 975.1 L201.8 973.1 L202.3 973.6 L202.8 969.5 L203.3 965.0 L203.8 964.5 L204.3 962.6 L204.8 961.4 L205.3 960.1 L205.8 960.2 L206.3 959.1 L206.8 956.6 L207.3 956.6 L207.8 957.6 L208.3 956.1 L208.8 950.8 L209.3 949.2 L209.8 946.5 L210.3 946.1 L210.8 947.2 L211.3 945.5 L211.8 948.0 L212.3 948.9 L212.8 944.8 L213.3 945.8 L213.8 946.7 L214.3 948.3 L214.8 948.8 L215.3 952.1 L215.8 946.9 L216.3 943.0 L216.8 942.4 L217.3 942.5 L217.8 939.1 L218.3 937.1 L218.8 937.2 L219.3 935.9 L219.8 935.3 L220.3 932.2 L220.8 929.3 L221.3 925.6 L221.8 925.6 L222.3 925.0 L222.8 920.6 L223.3 917.8 L223.8 919.0 L224.3 920.3 L224.8 921.1 L225.3 922.1 L225.8 922.8 L226.3 924.8 L226.8 927.1 L227.3 927.0 L227.8 927.3 L228.3 930.1 L228.8 932.3 L229.3 931.2 L229.8 932.6 L230.3 929.4 L230.8 927.2 L231.3 927.4 L231.8 926.2 L232.3 924.0 L232.8 921.4 L233.3 919.7 L233.8 918.2 L234.3 920.4 L234.8 915.7 L235.3 913.4 L235.8 912.3 L236.3 910.9 L236.8 906.3 L237.3 904.2 L237.8 905.3 L238.3 909.7 L238.8 910.4 L239.3 910.4 L239.8 915.9 L240.3 921.8 L240.8 920.0 L241.3 921.4 L241.8 920.8 L242.3 922.4 L242.8 925.5 L243.3 924.3 L243.8 924.7 L244.3 920.8 L244.8 919.4 L245.3 918.0 L245.8 918.5 L246.3 920.1 L246.8 920.6 L247.3 921.7 L247.8 922.4 L248.3 922.4 L248.8 921.9 L249.3 921.6 L249.8 922.1 L250.3 924.3 L250.8 922.8 L251.3 917.7 L251.8 916.8 L252.3 916.4 L252.8 914.1 L253.3 911.1 L253.8 903.4 L254.3 902.3 L254.8 900.4 L255.3 896.7 L255.8 896.7 L256.3 895.4 L256.8 896.4 L257.3 893.6 L257.8 892.9 L258.3 892.9 L258.8 894.0 L259.3 894.0 L259.8 894.3 L260.3 896.8 L260.8 894.4 L261.3 890.8 L261.8 890.8 L262.3 891.9 L262.8 886.9 L263.3 886.9 L263.8 886.4 L264.3 883.3 L264.8 880.7 L265.3 881.8 L265.8 886.3 L266.3 885.0 L266.8 885.2 L267.3 886.6 L267.8 892.4 L268.3 892.1 L268.8 892.1 L269.3 893.6 L269.8 898.9 L270.3 900.6 L270.8 901.2 L271.3 905.3 L271.8 906.9 L272.3 906.6 L272.8 906.3 L273.3 906.4 L273.8 905.4 L274.3 906.3 L274.8 904.7 L275.3 903.6 L275.8 902.9 L276.3 903.7 L276.8 900.0 L277.3 897.4 L277.8 897.2 L278.3 899.4 L278.8 900.2 L279.3 904.6 L279.8 906.6 L280.3 906.5 L280.8 911.1 L281.3 914.5 L281.8 913.7 L282.3 915.8 L282.8 915.0 L283.3 915.9 L283.8 918.5 L284.3 918.2 L284.8 920.9 L285.3 924.9 L285.8 930.2 L286.3 934.3 L286.8 935.0 L287.3 936.5 L287.8 939.2 L288.3 938.5 L288.8 939.3 L289.3 940.2 L289.8 938.7 L290.3 937.9 L290.8 939.3 L291.3 937.3 L291.8 937.3 L292.3 941.6 L292.8 942.5 L293.3 943.6 L293.8 944.6 L294.3 942.7 L294.8 941.9 L295.3 940.3 L295.8 939.9 L296.3 940.3 L296.8 941.4 L297.3 940.0 L297.8 938.7 L298.3 939.4 L298.8 941.8 L299.3 948.5 L299.8 948.0 L300.3 948.6 L300.8 948.6 L301.3 951.1 L301.8 951.0 L302.3 947.7 L302.8 947.5 L303.3 947.5 L303.8 948.3 L304.3 950.6 L304.8 950.1 L305.3 952.5 L305.8 955.8 L306.3 961.5 L306.8 960.1 L307.3 960.2 L307.8 960.9 L308.3 962.2 L308.8 969.6 L309.3 968.8 L309.8 968.4 L310.3 967.4 L310.8 961.4 L311.3 959.1 L311.8 955.9 L312.3 957.4 L312.8 956.9 L313.3 956.5 L313.8 954.9 L314.3 955.5 L314.8 953.7 L315.3 954.6 L315.8 954.3 L316.3 952.4 L316.8 952.1 L317.3 955.3 L317.8 958.4 L318.3 958.0 L318.8 960.4 L319.1 960.0 L319.1 964.0 L318.8 962.5 L318.3 961.6 L317.8 960.8 L317.3 959.1 L316.8 955.9 L316.3 955.8 L315.8 957.1 L315.3 957.1 L314.8 957.0 L314.3 957.6 L313.8 957.8 L313.3 960.9 L312.8 957.9 L312.3 958.9 L311.8 959.6 L311.3 961.9 L310.8 967.4 L310.3 970.2 L309.8 970.3 L309.3 972.8 L308.8 972.5 L308.3 970.6 L307.8 963.0 L307.3 963.4 L306.8 964.0 L306.3 963.5 L305.8 962.2 L305.3 955.8 L304.8 953.4 L304.3 952.1 L303.8 952.4 L303.3 949.8 L302.8 948.7 L302.3 952.8 L301.8 953.2 L301.3 952.8 L300.8 951.3 L300.3 951.3 L299.8 950.6 L299.3 950.6 L298.8 948.5 L298.3 944.4 L297.8 942.0 L297.3 943.3 L296.8 945.1 L296.3 945.1 L295.8 942.1 L295.3 943.2 L294.8 943.3 L294.3 945.7 L293.8 949.0 L293.3 948.7 L292.8 945.5 L292.3 944.5 L291.8 942.5 L291.3 940.6 L290.8 941.8 L290.3 941.0 L289.8 941.8 L289.3 943.3 L288.8 943.8 L288.3 940.6 L287.8 942.0 L287.3 939.9 L286.8 939.3 L286.3 936.1 L285.8 935.9 L285.3 931.4 L284.8 924.9 L284.3 921.5 L283.8 921.2 L283.3 918.9 L282.8 917.1 L282.3 917.1 L281.8 916.1 L281.3 917.6 L280.8 916.3 L280.3 911.1 L279.8 909.1 L279.3 907.3 L278.8 905.7 L278.3 901.4 L277.8 901.4 L277.3 900.2 L276.8 903.7 L276.3 906.6 L275.8 906.6 L275.3 906.6 L274.8 908.2 L274.3 908.2 L273.8 908.4 L273.3 908.8 L272.8 908.8 L272.3 908.5 L271.8 909.4 L271.3 908.3 L270.8 906.2 L270.3 902.5 L269.8 902.3 L269.3 899.5 L268.8 895.1 L268.3 894.7 L267.8 895.5 L267.3 893.6 L266.8 889.0 L266.3 889.7 L265.8 889.0 L265.3 887.3 L264.8 883.9 L264.3 886.9 L263.8 889.6 L263.3 889.6 L262.8 892.6 L262.3 894.6 L261.8 893.9 L261.3 895.1 L260.8 898.0 L260.3 898.7 L259.8 897.5 L259.3 896.9 L258.8 897.1 L258.3 896.5 L257.8 895.8 L257.3 896.4 L256.8 899.4 L256.3 898.3 L255.8 898.4 L255.3 901.1 L254.8 902.3 L254.3 904.9 L253.8 911.1 L253.3 914.6 L252.8 916.8 L252.3 918.4 L251.8 919.9 L251.3 923.5 L250.8 926.5 L250.3 926.6 L249.8 924.3 L249.3 924.2 L248.8 925.1 L248.3 924.5 L247.8 924.7 L247.3 924.7 L246.8 922.3 L246.3 922.3 L245.8 921.1 L245.3 921.4 L244.8 921.5 L244.3 925.8 L243.8 926.4 L243.3 926.6 L242.8 927.8 L242.3 926.9 L241.8 922.5 L241.3 923.9 L240.8 922.7 L240.3 924.5 L239.8 923.8 L239.3 916.3 L238.8 911.9 L238.3 911.5 L237.8 909.7 L237.3 906.3 L236.8 910.9 L236.3 914.1 L235.8 916.1 L235.3 916.6 L234.8 920.8 L234.3 922.0 L233.8 921.4 L233.3 921.6 L232.8 924.0 L232.3 928.3 L231.8 929.6 L231.3 930.1 L230.8 930.5 L230.3 935.8 L229.8 934.9 L229.3 933.9 L228.8 935.3 L228.3 934.1 L227.8 931.6 L227.3 928.6 L226.8 929.9 L226.3 929.1 L225.8 925.3 L225.3 924.7 L224.8 924.7 L224.3 923.3 L223.8 920.9 L223.3 922.4 L222.8 926.5 L222.3 927.2 L221.8 928.8 L221.3 929.3 L220.8 932.4 L220.3 936.3 L219.8 938.2 L219.3 938.2 L218.8 938.5 L218.3 941.0 L217.8 944.0 L217.3 946.8 L216.8 945.7 L216.3 948.1 L215.8 952.8 L215.3 953.7 L214.8 953.7 L214.3 949.6 L213.8 949.6 L213.3 949.1 L212.8 949.8 L212.3 950.9 L211.8 951.3 L211.3 948.4 L210.8 949.2 L210.3 948.7 L209.8 950.9 L209.3 950.8 L208.8 956.1 L208.3 958.2 L207.8 959.9 L207.3 959.6 L206.8 959.8 L206.3 960.9 L205.8 963.4 L205.3 963.3 L204.8 964.0 L204.3 965.5 L203.8 968.1 L203.3 969.9 L202.8 973.6 L202.3 976.1 L201.8 976.6 L201.3 977.3 L200.8 978.5 L200.3 984.2 L199.8 985.5 L199.3 988.8 L198.8 988.8 L198.3 992.1 L197.8 993.6 L197.3 992.9 L196.8 993.9 L196.3 996.3 L195.8 997.2 L195.3 997.0 L194.8 999.3 L194.3 1000.7 L193.8 999.2 L193.3 1004.4 L192.8 1005.0 L192.3 1006.8 L191.8 1008.4 L191.3 1007.2 L190.8 1011.0 L190.3 1012.1 L189.8 1009.1 L189.3 1002.2 L188.8 1001.4 L188.3 998.5 L187.8 995.3 L187.3 991.6 L186.8 990.5 L186.3 990.6 L185.8 991.8 L185.3 992.2 L184.8 994.6 L184.3 998.3 L183.8 998.7 L183.3 1000.5 L182.8 1000.8 L182.3 1002.6 L181.8 1000.4 L181.3 1001.4 L180.8 1000.2 L180.3 997.9 L179.8 1002.0 L179.3 1007.0 L178.8 1007.7 L178.3 1008.7 L177.8 1012.8 L177.3 1017.9 L176.8 1020.8 L176.3 1022.2 L175.8 1021.0 L175.3 1021.4 L174.8 1019.1 L174.3 1017.1 L173.8 1016.5 L173.3 1013.3 L172.8 1013.8 L172.3 1010.2 L171.8 1008.3 L171.3 1006.9 L170.8 1007.0 L170.3 1006.5 L169.8 1005.4 L169.3 1002.1 L168.8 1007.4 L168.3 1006.7 L167.8 1010.4 L167.3 1012.0 L166.8 1010.8 L166.3 1011.8 L165.8 1013.5 L165.3 1018.6 L164.8 1019.9 L164.3 1021.6 L163.8 1021.4 L163.3 1017.1 L162.8 1015.3 L162.3 1015.4 L161.8 1014.5 L161.3 1010.5 L160.8 1007.3 L160.3 1002.2 L159.8 1000.3 L159.3 997.6 L158.8 994.2 L158.3 988.9 L157.8 990.7 L157.3 995.3 L156.8 997.4 L156.3 1000.0 L155.8 1000.5 L155.3 1004.1 L154.8 1006.0 L154.3 1011.0 L153.8 1013.2 L153.3 1012.7 L152.8 1015.4 L152.3 1018.8 L151.8 1021.9 L151.3 1023.9 L150.8 1023.9 L150.3 1025.7 L149.8 1022.9 L149.3 1021.4 L148.8 1020.1 L148.3 1016.6 L147.8 1015.1 L147.3 1013.3 L146.8 1008.5 L146.3 1006.8 L145.8 1006.1 L145.3 1003.7 L144.8 999.9 L144.3 998.7 L143.8 998.6 L143.3 1000.2 L142.8 999.5 L142.3 997.8 L141.8 998.1 L141.3 998.5 L140.8 1000.7 L140.3 1000.4 L139.8 997.3 L139.3 996.5 L138.8 998.6 L138.3 996.5 L137.8 994.2 L137.3 995.9 L136.8 996.5 L136.3 994.7 L135.8 990.1 L135.3 984.3 L134.8 981.2 L134.3 978.1 L133.8 978.1 L133.3 976.7 L132.8 972.9 L132.3 971.0 L131.8 970.4 L131.3 971.8 L130.8 972.4 L130.3 976.2 L129.8 978.5 L129.3 982.0 L128.8 985.4 L128.3 987.5 L127.8 986.8 L127.3 988.9 L126.8 991.9 L126.3 993.0 L125.8 993.8 L125.3 993.1 L124.8 989.4 L124.3 987.9 L123.8 989.4 L123.3 987.8 L122.8 987.8 L122.3 985.0 L121.8 985.7 L121.3 987.7 L120.8 987.6 L120.3 987.4 L119.8 989.9 L119.3 999.3 L118.8 1002.5 L118.3 1005.3 L117.8 1007.2 L117.3 1013.1 L116.8 1015.4 L116.3 1017.7 L115.8 1024.3 L115.3 1026.6 L114.8 1029.1 L114.3 1031.3 L113.8 1031.2 L113.3 1031.5 L112.8 1032.8 L112.3 1034.0 L111.8 1033.4 L111.3 1032.6 L110.8 1036.3 L110.3 1037.2 L109.8 1038.5 L109.3 1038.9 L108.8 1037.4 L108.3 1036.9 L107.8 1033.0 L107.3 1031.6 L106.8 1030.0 L106.3 1030.5 L105.8 1027.7 L105.3 1027.6 L104.8 1027.4 L104.3 1024.3 L103.8 1026.8 L103.3 1024.1 L102.8 1026.4 L102.3 1026.4 L101.8 1024.2 L101.3 1023.1 L100.8 1023.1 L100.3 1021.9 L99.8 1021.6 L99.3 1025.9 L98.8 1024.9 L98.3 1021.5 L97.8 1023.5 L97.3 1022.9 L96.8 1027.9 L96.3 1027.7 L95.8 1024.9 L95.3 1022.4 L94.8 1018.3 L94.3 1015.8 L93.8 1013.2 L93.3 1013.6 L92.8 1012.3 L92.3 1010.6 L91.8 1013.1 L91.3 1015.5 L90.8 1017.0 L90.3 1019.8 L89.8 1019.5 L89.3 1021.1 L88.8 1023.1 L88.3 1024.7 L87.8 1022.9 L87.3 1025.4 L86.8 1021.8 L86.3 1021.2 L85.8 1021.3 L85.3 1021.3 L84.8 1017.4 L84.3 1015.5 L83.8 1014.2 L83.3 1012.6 L82.8 1014.2 L82.3 1011.6 L81.8 1006.7 L81.3 1005.0 L80.8 1005.6 L80.3 1007.8 L79.8 1006.1 L79.3 1004.6 L78.8 1007.7 L78.3 1007.7 L77.8 1004.4 L77.3 1002.2 L76.8 1003.2 L76.3 1001.5 L75.8 996.8 L75.3 995.7 L74.8 993.9 L74.3 993.4 L73.8 988.9 L73.3 985.3 L72.8 983.5 L72.3 982.0 L71.8 982.3 L71.3 978.4 L70.8 974.5 L70.3 971.9 L69.8 970.7 L69.3 970.0 L68.8 966.9 L68.3 965.7 L67.8 963.1 L67.3 957.5 L66.8 955.9 L66.3 955.9 L65.8 955.5 L65.3 956.6 L64.8 957.8 L64.3 958.0 L63.8 955.0 L63.3 955.9 L62.8 957.1 L62.3 955.0 L61.8 954.0 L61.3 950.7 L60.8 950.5 L60.3 949.7 L59.8 951.1 L59.3 951.9 L58.8 950.1 L58.3 948.6 L57.8 950.2 L57.3 951.5 L56.8 950.3 L56.3 949.1 L55.8 950.2 L55.3 949.5 L54.8 950.4 L54.3 946.0 L53.8 944.0 L53.3 943.2 L52.8 938.4 L52.3 937.7 L51.8 935.5 L51.3 934.5 L50.8 928.7 L50.3 929.6 L49.8 929.0 L49.3 928.1 L48.8 927.8 L48.3 926.1 L47.8 922.8Z" fill="#ff0000" stroke="#ff0000" stroke-width="1.20" stroke-linejoin="round"/>
<path d="M47.6 920.4 L48.3 924.9 L49.0 925.2 L49.7 930.3 L50.4 931.2 L51.1 935.3 L51.8 934.4 L52.5 935.6 L53.2 937.7 L53.9 946.9 L54.6 942.5 L55.3 952.1 L56.0 940.9 L56.7 954.6 L57.4 945.0 L58.1 948.8 L58.8 950.1 L59.5 943.3 L60.2 955.5 L60.9 950.7 L61.6 947.6 L62.3 954.1 L63.0 950.4 L63.7 958.8 L64.4 961.3 L65.1 952.5 L65.8 956.1 L66.5 961.7 L67.2 960.8 L67.9 959.4 L68.6 966.6 L69.3 961.6 L70.0 969.3 L70.7 978.5 L71.4 987.2 L72.1 987.6 L72.8 981.1 L73.5 983.5 L74.2 989.3 L74.9 990.6 L75.6 1002.2 L76.3 1001.3 L77.0 1007.7 L77.7 1009.2 L78.4 1003.0 L79.1 996.9 L79.8 1005.6 L80.5 1004.5 L81.2 1010.9 L81.9 1003.2 L82.6 1013.5 L83.3 1009.2 L84.0 1013.8 L84.7 1016.3 L85.4 1020.4 L86.1 1016.1 L86.8 1027.5 L87.5 1014.7 L88.2 1017.0 L88.9 1017.6 L89.6 1018.7 L90.3 1022.3 L91.0 1017.1 L91.7 1007.1 L92.4 1007.3 L93.1 1012.4 L93.8 1005.1 L94.5 1018.3 L95.2 1018.0 L95.9 1020.3 L96.6 1024.9 L97.3 1017.4 L98.0 1027.2 L98.7 1020.0 L99.4 1024.1 L100.1 1017.0 L100.8 1028.3 L101.5 1022.5 L102.2 1026.4 L102.9 1025.8 L103.6 1019.0 L104.3 1025.1 L105.0 1025.6 L105.7 1025.6 L106.4 1022.1 L107.1 1033.6 L107.8 1038.9 L108.5 1040.7 L109.2 1032.5 L109.9 1039.6 L110.6 1033.4 L111.3 1035.7 L112.0 1030.1 L112.7 1029.6 L113.4 1031.4 L114.1 1023.0 L114.8 1027.2 L115.5 1022.4 L116.2 1009.7 L116.9 1009.7 L117.6 1000.9 L118.3 996.8 L119.0 1001.5 L119.7 995.0 L120.4 981.7 L121.1 983.7 L121.8 983.1 L122.5 985.5 L123.2 993.2 L123.9 981.6 L124.6 987.8 L125.3 988.6 L126.0 987.9 L126.7 987.9 L127.4 987.2 L128.1 984.1 L128.8 988.4 L129.5 974.6 L130.2 976.0 L130.9 969.8 L131.6 974.5 L132.3 962.7 L133.0 970.8 L133.7 980.8 L134.4 980.2 L135.1 986.6 L135.8 987.0 L136.5 998.3 L137.2 992.3 L137.9 996.2 L138.6 997.0 L139.3 989.3 L140.0 992.6 L140.7 995.3 L141.4 989.9 L142.1 999.1 L142.8 998.7 L143.5 991.0 L144.2 991.4 L144.9 1003.2 L145.6 999.4 L146.3 1004.8 L147.0 1008.7 L147.7 1009.7 L148.4 1013.7 L149.1 1013.0 L149.8 1021.8 L150.5 1024.7 L151.2 1022.7 L151.9 1013.4 L152.6 1009.6 L153.3 1010.8 L154.0 1001.7 L154.7 1011.9 L155.4 994.0 L156.1 991.9 L156.8 1001.9 L157.5 987.9 L158.2 987.0 L158.9 999.0 L159.6 994.5 L160.3 993.8 L161.0 1015.6 L161.7 1013.6 L162.4 1015.0 L163.1 1020.4 L163.8 1012.0 L164.5 1022.7 L165.2 1011.4 L165.9 1015.6 L166.6 1007.6 L167.3 1006.3 L168.0 1005.3 L168.7 998.0 L169.4 995.8 L170.1 1006.4 L170.8 1006.0 L171.5 1009.0 L172.2 1005.8 L172.9 1017.5 L173.6 1010.2 L174.3 1017.1 L175.0 1026.6 L175.7 1020.8 L176.4 1021.8 L177.1 1018.1 L177.8 1009.4 L178.5 1013.9 L179.2 1006.8 L179.9 1001.5 L180.6 1001.1 L181.3 998.1 L182.0 997.9 L182.7 996.6 L183.4 997.2 L184.1 1003.3 L184.8 992.9 L185.5 983.4 L186.2 985.2 L186.9 997.6 L187.6 986.7 L188.3 996.3 L189.0 1008.1 L189.7 1006.9 L190.4 1005.0 L191.1 1008.4 L191.8 1007.7 L192.5 1004.5 L193.2 999.6 L193.9 1005.3 L194.6 1002.2 L195.3 992.0 L196.0 987.4 L196.7 987.3 L197.4 987.2 L198.1 983.0 L198.8 994.3 L199.5 987.7 L200.2 982.7 L200.9 978.2 L201.6 977.3 L202.3 979.2 L203.0 974.3 L203.7 972.7 L204.4 969.5 L205.1 961.2 L205.8 959.3 L206.5 956.2 L207.2 963.9 L207.9 960.9 L208.6 948.5 L209.3 949.3 L210.0 948.1 L210.7 947.1 L211.4 947.9 L212.1 946.1 L212.8 942.8 L213.5 943.5 L214.2 954.3 L214.9 948.9 L215.6 954.8 L216.3 952.4 L217.0 941.3 L217.7 945.8 L218.4 936.1 L219.1 938.6 L219.8 940.8 L220.5 936.9 L221.2 922.8 L221.9 920.4 L222.6 930.4 L223.3 921.1 L224.0 917.9 L224.7 916.2 L225.4 920.9 L226.1 927.3 L226.8 928.0 L227.5 922.6 L228.2 938.9 L228.9 932.9 L229.6 939.3 L230.3 938.9 L231.0 930.1 L231.7 932.4 L232.4 926.2 L233.1 925.1 L233.8 923.7 L234.5 918.3 L235.2 911.8 L235.9 909.2 L236.6 908.1 L237.3 899.6 L238.0 912.0 L238.7 907.2 L239.4 923.6 L240.1 920.5 L240.8 918.4 L241.5 927.3 L242.2 917.8 L242.9 928.9 L243.6 928.4 L244.3 926.1 L245.0 916.5 L245.7 917.7 L246.4 928.3 L247.1 918.4 L247.8 920.3 L248.5 930.3 L249.2 925.7 L249.9 924.4 L250.6 929.5 L251.3 925.3 L252.0 915.9 L252.7 918.3 L253.4 905.4 L254.1 901.6 L254.8 900.8 L255.5 900.5 L256.2 900.9 L256.9 900.4 L257.6 897.2 L258.3 890.1 L259.0 894.1 L259.7 893.2 L260.4 900.4 L261.1 892.6 L261.8 889.9 L262.5 896.6 L263.2 881.4 L263.9 886.9 L264.6 880.7 L265.3 883.4 L266.0 890.1 L266.7 885.4 L267.4 895.1 L268.1 896.8 L268.8 898.3 L269.5 906.4 L270.2 902.1 L270.9 913.0 L271.6 903.2 L272.3 905.5 L273.0 905.6 L273.7 907.9 L274.4 903.8 L275.1 901.3 L275.8 898.4 L276.5 908.3 L277.2 902.9 L277.9 898.4 L278.6 900.5 L279.3 909.5 L280.0 907.6 L280.7 917.2 L281.4 918.5 L282.1 915.9 L282.8 916.0 L283.5 918.1 L284.2 923.0 L284.9 926.0 L285.6 929.1 L286.3 940.4 L287.0 937.6 L287.7 940.7 L288.4 939.9 L289.1 940.5 L289.8 942.6 L290.5 945.5 L291.2 939.4 L291.9 938.5 L292.6 945.7 L293.3 945.5 L294.0 940.9 L294.7 947.5 L295.4 935.9 L296.1 944.1 L296.8 940.0 L297.5 945.6 L298.2 939.6 L298.9 947.3 L299.6 955.7 L300.3 949.2 L301.0 946.8 L301.7 959.0 L302.4 948.4 L303.1 949.3 L303.8 949.3 L304.5 958.6 L305.2 955.3 L305.9 969.3 L306.6 961.8 L307.3 968.6 L308.0 961.4 L308.7 968.4 L309.4 964.1 L310.1 973.4 L310.8 959.5 L311.5 952.3 L312.2 958.4 L312.9 959.1 L313.6 949.5 L314.3 951.7 L315.0 959.7 L315.7 955.1 L316.4 960.8 L317.1 950.4 L317.8 966.4 L318.5 960.4" fill="none" stroke="#ff0000" stroke-width="1.15" stroke-linejoin="round"/>
<path d="M47.8 919.3 L48.3 923.4 L48.8 927.6 L49.3 931.9 L49.8 935.2 L50.3 937.9 L50.8 940.3 L51.3 943.5 L51.8 945.2 L52.3 947.6 L52.8 946.8 L53.3 945.1 L53.8 949.0 L54.3 949.8 L54.8 955.2 L55.3 963.3 L55.8 963.7 L56.3 967.5 L56.8 968.8 L57.3 977.4 L57.8 981.5 L58.3 983.4 L58.8 984.2 L59.3 987.5 L59.8 989.4 L60.3 990.2 L60.8 993.1 L61.3 1000.7 L61.8 1000.2 L62.3 1000.5 L62.8 999.8 L63.3 1000.7 L63.8 1001.6 L64.3 1004.6 L64.8 1001.3 L65.3 1001.2 L65.8 1001.7 L66.3 1005.2 L66.8 1003.9 L67.3 1009.8 L67.8 1012.0 L68.3 1014.7 L68.8 1015.5 L69.3 1014.9 L69.8 1018.1 L70.3 1022.1 L70.8 1023.8 L71.3 1021.8 L71.8 1023.6 L72.3 1027.8 L72.8 1026.6 L73.3 1025.7 L73.8 1025.3 L74.3 1026.2 L74.8 1027.4 L75.3 1030.0 L75.8 1033.3 L76.3 1031.3 L76.8 1031.3 L77.3 1029.8 L77.8 1025.0 L78.3 1017.3 L78.8 1017.3 L79.3 1014.5 L79.8 1013.5 L80.3 1009.5 L80.8 1008.1 L81.3 1005.7 L81.8 1004.8 L82.3 1001.2 L82.8 999.5 L83.3 997.6 L83.8 996.6 L84.3 996.5 L84.8 996.5 L85.3 996.9 L85.8 998.7 L86.3 999.2 L86.8 998.9 L87.3 1000.9 L87.8 1002.2 L88.3 1007.0 L88.8 1008.6 L89.3 1011.2 L89.8 1011.0 L90.3 1010.9 L90.8 1011.3 L91.3 1010.7 L91.8 1012.5 L92.3 1015.4 L92.8 1017.4 L93.3 1018.6 L93.8 1017.8 L94.3 1018.1 L94.8 1019.4 L95.3 1023.2 L95.8 1023.5 L96.3 1027.2 L96.8 1027.0 L97.3 1028.0 L97.8 1028.3 L98.3 1022.4 L98.8 1016.2 L99.3 1015.9 L99.8 1012.9 L100.3 1011.3 L100.8 1006.1 L101.3 1006.6 L101.8 1006.0 L102.3 1006.9 L102.8 1010.3 L103.3 1010.7 L103.8 1008.3 L104.3 1009.6 L104.8 1008.5 L105.3 1005.7 L105.8 1004.7 L106.3 1005.8 L106.8 1006.1 L107.3 1006.1 L107.8 1007.3 L108.3 1009.9 L108.8 1011.0 L109.3 1013.3 L109.8 1016.1 L110.3 1020.5 L110.8 1021.0 L111.3 1019.1 L111.8 1020.1 L112.3 1023.5 L112.8 1023.5 L113.3 1022.1 L113.8 1022.0 L114.3 1021.1 L114.8 1019.9 L115.3 1021.1 L115.8 1024.2 L116.3 1028.8 L116.8 1032.0 L117.3 1038.5 L117.8 1038.1 L118.3 1039.9 L118.8 1039.0 L119.3 1038.3 L119.8 1038.3 L120.3 1035.4 L120.8 1037.0 L121.3 1039.8 L121.8 1046.0 L122.3 1047.4 L122.8 1050.5 L123.3 1050.7 L123.8 1051.3 L124.3 1053.2 L124.8 1052.7 L125.3 1047.7 L125.8 1047.2 L126.3 1044.3 L126.8 1040.4 L127.3 1035.0 L127.8 1034.9 L128.3 1032.6 L128.8 1030.9 L129.3 1029.7 L129.8 1025.7 L130.3 1022.4 L130.8 1020.0 L131.3 1019.7 L131.8 1019.2 L132.3 1016.2 L132.8 1013.8 L133.3 1010.8 L133.8 1006.7 L134.3 1007.2 L134.8 1011.2 L135.3 1009.3 L135.8 1007.6 L136.3 1006.1 L136.8 1005.0 L137.3 1007.4 L137.8 1004.2 L138.3 1005.0 L138.8 1008.2 L139.3 1009.8 L139.8 1009.5 L140.3 1007.1 L140.8 1003.2 L141.3 1001.9 L141.8 999.6 L142.3 999.3 L142.8 996.8 L143.3 997.0 L143.8 993.1 L144.3 992.3 L144.8 990.3 L145.3 988.1 L145.8 986.9 L146.3 986.4 L146.8 985.9 L147.3 982.9 L147.8 980.7 L148.3 980.0 L148.8 978.7 L149.3 978.0 L149.8 977.1 L150.3 974.3 L150.8 970.3 L151.3 968.0 L151.8 966.3 L152.3 963.2 L152.8 963.8 L153.3 964.4 L153.8 964.4 L154.3 961.7 L154.8 962.7 L155.3 962.8 L155.8 960.2 L156.3 960.5 L156.8 960.5 L157.3 957.0 L157.8 957.0 L158.3 956.7 L158.8 955.5 L159.3 953.9 L159.8 952.0 L160.3 951.5 L160.8 955.8 L161.3 954.6 L161.8 956.2 L162.3 955.1 L162.8 956.0 L163.3 952.8 L163.8 953.0 L164.3 954.2 L164.8 953.0 L165.3 950.4 L165.8 953.6 L166.3 954.4 L166.8 954.9 L167.3 959.3 L167.8 959.2 L168.3 959.2 L168.8 961.4 L169.3 964.8 L169.8 970.1 L170.3 968.5 L170.8 965.8 L171.3 968.3 L171.8 972.2 L172.3 970.7 L172.8 974.1 L173.3 971.5 L173.8 971.6 L174.3 971.9 L174.8 971.2 L175.3 968.5 L175.8 967.9 L176.3 968.0 L176.8 965.2 L177.3 965.3 L177.8 964.0 L178.3 963.8 L178.8 965.6 L179.3 964.5 L179.8 964.5 L180.3 965.0 L180.8 966.0 L181.3 970.6 L181.8 966.5 L182.3 962.8 L182.8 959.9 L183.3 958.9 L183.8 958.5 L184.3 958.4 L184.8 959.7 L185.3 961.1 L185.8 961.6 L186.3 961.3 L186.8 962.4 L187.3 964.3 L187.8 964.6 L188.3 967.4 L188.8 968.9 L189.3 967.7 L189.8 964.6 L190.3 963.9 L190.8 965.9 L191.3 962.3 L191.8 960.0 L192.3 959.8 L192.8 958.9 L193.3 960.8 L193.8 959.1 L194.3 955.0 L194.8 952.3 L195.3 950.9 L195.8 949.4 L196.3 948.1 L196.8 945.7 L197.3 945.7 L197.8 944.2 L198.3 941.2 L198.8 940.5 L199.3 938.0 L199.8 933.5 L200.3 936.4 L200.8 934.2 L201.3 932.9 L201.8 934.7 L202.3 932.0 L202.8 927.3 L203.3 925.2 L203.8 924.7 L204.3 919.1 L204.8 918.1 L205.3 914.7 L205.8 913.7 L206.3 911.0 L206.8 909.9 L207.3 909.8 L207.8 912.0 L208.3 914.1 L208.8 917.1 L209.3 920.8 L209.8 920.7 L210.3 920.7 L210.8 922.5 L211.3 927.4 L211.8 929.0 L212.3 930.0 L212.8 930.2 L213.3 931.5 L213.8 933.9 L214.3 933.0 L214.8 932.7 L215.3 930.9 L215.8 926.2 L216.3 924.0 L216.8 921.4 L217.3 919.6 L217.8 918.1 L218.3 915.3 L218.8 912.5 L219.3 908.7 L219.8 908.1 L220.3 908.2 L220.8 909.0 L221.3 909.6 L221.8 909.6 L222.3 906.2 L222.8 907.4 L223.3 908.6 L223.8 908.5 L224.3 908.8 L224.8 908.6 L225.3 909.2 L225.8 912.3 L226.3 911.6 L226.8 914.4 L227.3 917.9 L227.8 922.7 L228.3 924.4 L228.8 925.6 L229.3 927.0 L229.8 927.5 L230.3 927.5 L230.8 925.2 L231.3 921.9 L231.8 920.5 L232.3 914.5 L232.8 911.6 L233.3 914.1 L233.8 915.1 L234.3 912.6 L234.8 910.5 L235.3 913.1 L235.8 914.3 L236.3 914.2 L236.8 914.0 L237.3 915.0 L237.8 914.0 L238.3 911.8 L238.8 912.5 L239.3 915.8 L239.8 918.3 L240.3 917.0 L240.8 917.0 L241.3 920.9 L241.8 920.3 L242.3 923.0 L242.8 923.0 L243.3 919.3 L243.8 915.0 L244.3 911.1 L244.8 908.0 L245.3 905.4 L245.8 906.0 L246.3 906.3 L246.8 907.9 L247.3 908.6 L247.8 912.4 L248.3 911.5 L248.8 908.9 L249.3 907.6 L249.8 907.3 L250.3 909.0 L250.8 908.5 L251.3 907.7 L251.8 904.9 L252.3 902.5 L252.8 900.4 L253.3 900.2 L253.8 901.4 L254.3 902.9 L254.8 903.7 L255.3 904.0 L255.8 903.0 L256.3 901.6 L256.8 901.4 L257.3 903.2 L257.8 901.5 L258.3 900.0 L258.8 900.0 L259.3 900.4 L259.8 900.6 L260.3 903.5 L260.8 902.1 L261.3 902.1 L261.8 901.6 L262.3 905.8 L262.8 909.6 L263.3 910.7 L263.8 909.7 L264.3 908.7 L264.8 910.3 L265.3 911.9 L265.8 907.0 L266.3 906.9 L266.8 906.3 L267.3 901.2 L267.8 901.2 L268.3 902.7 L268.8 896.8 L269.3 895.4 L269.8 892.5 L270.3 893.5 L270.8 892.2 L271.3 892.2 L271.8 894.8 L272.3 894.5 L272.8 894.7 L273.3 897.5 L273.8 899.9 L274.3 902.3 L274.8 903.6 L275.3 904.2 L275.8 903.3 L276.3 901.6 L276.8 901.5 L277.3 902.3 L277.8 901.8 L278.3 903.9 L278.8 907.0 L279.3 912.2 L279.8 913.3 L280.3 916.6 L280.8 914.4 L281.3 909.7 L281.8 910.5 L282.3 913.5 L282.8 910.8 L283.3 909.2 L283.8 906.5 L284.3 902.0 L284.8 900.0 L285.3 898.8 L285.8 896.5 L286.3 892.3 L286.8 893.7 L287.3 891.7 L287.8 888.5 L288.3 889.3 L288.8 890.4 L289.3 888.2 L289.8 886.0 L290.3 885.2 L290.8 880.9 L291.3 882.8 L291.8 883.0 L292.3 885.3 L292.8 882.8 L293.3 879.1 L293.8 880.3 L294.3 881.8 L294.8 885.6 L295.3 887.2 L295.8 888.2 L296.3 891.7 L296.8 895.4 L297.3 894.5 L297.8 896.2 L298.3 901.6 L298.8 901.5 L299.3 904.7 L299.8 908.6 L300.3 907.7 L300.8 909.2 L301.3 912.5 L301.8 913.9 L302.3 918.2 L302.8 923.3 L303.3 928.4 L303.8 928.5 L304.3 932.2 L304.8 936.5 L305.3 937.1 L305.8 939.3 L306.3 940.2 L306.8 940.3 L307.3 940.4 L307.8 939.8 L308.3 939.6 L308.8 940.7 L309.3 941.3 L309.8 946.2 L310.3 945.4 L310.8 946.0 L311.3 944.5 L311.8 944.2 L312.3 940.3 L312.8 939.0 L313.3 940.1 L313.8 937.6 L314.3 940.6 L314.8 938.5 L315.3 937.8 L315.8 933.4 L316.3 933.4 L316.8 929.6 L317.3 927.3 L317.8 923.7 L318.3 922.2 L318.8 918.7 L319.1 914.8 L319.1 919.9 L318.8 923.1 L318.3 924.0 L317.8 927.9 L317.3 930.8 L316.8 934.6 L316.3 934.9 L315.8 938.0 L315.3 939.6 L314.8 942.3 L314.3 943.6 L313.8 941.6 L313.3 942.6 L312.8 940.5 L312.3 946.1 L311.8 946.0 L311.3 948.3 L310.8 948.3 L310.3 948.4 L309.8 948.9 L309.3 948.9 L308.8 942.9 L308.3 942.9 L307.8 942.9 L307.3 942.8 L306.8 942.5 L306.3 943.2 L305.8 941.4 L305.3 940.2 L304.8 939.2 L304.3 936.6 L303.8 932.2 L303.3 931.3 L302.8 928.6 L302.3 923.6 L301.8 920.1 L301.3 914.8 L300.8 912.5 L300.3 910.1 L299.8 911.8 L299.3 908.9 L298.8 906.2 L298.3 904.0 L297.8 901.8 L297.3 897.3 L296.8 897.3 L296.3 895.4 L295.8 892.5 L295.3 889.3 L294.8 888.6 L294.3 885.6 L293.8 883.0 L293.3 884.0 L292.8 887.7 L292.3 888.2 L291.8 885.7 L291.3 884.9 L290.8 886.4 L290.3 886.5 L289.8 888.2 L289.3 891.5 L288.8 893.4 L288.3 891.7 L287.8 893.2 L287.3 894.3 L286.8 896.4 L286.3 897.0 L285.8 898.8 L285.3 901.3 L284.8 902.2 L284.3 907.9 L283.8 909.6 L283.3 914.4 L282.8 913.5 L282.3 915.9 L281.8 913.7 L281.3 914.8 L280.8 916.9 L280.3 919.6 L279.8 918.2 L279.3 913.7 L278.8 912.3 L278.3 907.0 L277.8 903.9 L277.3 904.2 L276.8 903.6 L276.3 905.2 L275.8 906.0 L275.3 906.2 L274.8 905.0 L274.3 904.9 L273.8 902.3 L273.3 901.0 L272.8 898.8 L272.3 897.6 L271.8 897.8 L271.3 897.7 L270.8 896.4 L270.3 896.4 L269.8 895.4 L269.3 898.4 L268.8 902.7 L268.3 905.5 L267.8 905.1 L267.3 906.3 L266.8 910.7 L266.3 910.6 L265.8 911.9 L265.3 914.9 L264.8 912.8 L264.3 911.6 L263.8 912.8 L263.3 912.8 L262.8 913.7 L262.3 909.6 L261.8 905.8 L261.3 904.0 L260.8 904.0 L260.3 906.1 L259.8 906.1 L259.3 904.4 L258.8 904.3 L258.3 902.6 L257.8 906.1 L257.3 906.7 L256.8 905.6 L256.3 904.4 L255.8 907.6 L255.3 906.7 L254.8 906.0 L254.3 905.2 L253.8 905.4 L253.3 901.7 L252.8 903.0 L252.3 906.2 L251.8 907.7 L251.3 910.1 L250.8 910.6 L250.3 910.2 L249.8 910.4 L249.3 909.5 L248.8 911.5 L248.3 916.2 L247.8 916.2 L247.3 913.0 L246.8 909.4 L246.3 909.7 L245.8 907.5 L245.3 908.7 L244.8 911.5 L244.3 916.1 L243.8 920.4 L243.3 923.6 L242.8 924.4 L242.3 925.8 L241.8 923.7 L241.3 923.5 L240.8 922.6 L240.3 919.2 L239.8 920.1 L239.3 919.2 L238.8 915.8 L238.3 914.0 L237.8 916.7 L237.3 916.6 L236.8 917.8 L236.3 915.6 L235.8 917.3 L235.3 914.6 L234.8 913.9 L234.3 915.3 L233.8 917.0 L233.3 916.9 L232.8 915.5 L232.3 921.0 L231.8 921.9 L231.3 925.2 L230.8 927.5 L230.3 930.1 L229.8 929.1 L229.3 930.1 L228.8 930.9 L228.3 926.3 L227.8 925.4 L227.3 923.4 L226.8 917.9 L226.3 916.8 L225.8 915.0 L225.3 913.0 L224.8 910.7 L224.3 910.8 L223.8 910.7 L223.3 912.8 L222.8 910.8 L222.3 909.6 L221.8 911.6 L221.3 911.6 L220.8 910.8 L220.3 910.4 L219.8 909.3 L219.3 913.6 L218.8 915.9 L218.3 918.1 L217.8 923.1 L217.3 923.1 L216.8 925.3 L216.3 927.3 L215.8 931.3 L215.3 933.2 L214.8 934.7 L214.3 936.6 L213.8 937.3 L213.3 934.4 L212.8 933.0 L212.3 933.4 L211.8 933.5 L211.3 929.2 L210.8 928.4 L210.3 922.7 L209.8 923.3 L209.3 924.2 L208.8 920.8 L208.3 917.3 L207.8 914.8 L207.3 913.7 L206.8 912.3 L206.3 914.6 L205.8 916.9 L205.3 918.1 L204.8 921.0 L204.3 925.4 L203.8 925.7 L203.3 929.1 L202.8 932.0 L202.3 937.6 L201.8 936.8 L201.3 936.2 L200.8 937.9 L200.3 938.4 L199.8 938.6 L199.3 941.0 L198.8 943.0 L198.3 945.6 L197.8 948.3 L197.3 949.9 L196.8 949.0 L196.3 951.4 L195.8 953.4 L195.3 953.4 L194.8 955.0 L194.3 959.1 L193.8 961.5 L193.3 962.9 L192.8 961.0 L192.3 962.1 L191.8 962.6 L191.3 965.9 L190.8 968.1 L190.3 966.8 L189.8 968.4 L189.3 969.7 L188.8 971.4 L188.3 970.2 L187.8 968.3 L187.3 966.5 L186.8 965.9 L186.3 963.2 L185.8 963.9 L185.3 964.8 L184.8 963.7 L184.3 961.0 L183.8 962.3 L183.3 962.2 L182.8 963.0 L182.3 967.0 L181.8 972.6 L181.3 974.7 L180.8 970.6 L180.3 968.9 L179.8 967.4 L179.3 967.2 L178.8 967.2 L178.3 966.5 L177.8 967.6 L177.3 967.5 L176.8 968.3 L176.3 970.7 L175.8 970.9 L175.3 971.4 L174.8 976.2 L174.3 976.2 L173.8 972.5 L173.3 974.5 L172.8 976.3 L172.3 974.7 L171.8 974.8 L171.3 973.2 L170.8 968.9 L170.3 973.0 L169.8 972.9 L169.3 970.8 L168.8 966.5 L168.3 961.4 L167.8 961.6 L167.3 962.6 L166.8 960.5 L166.3 956.3 L165.8 956.7 L165.3 954.5 L164.8 955.1 L164.3 955.8 L163.8 954.9 L163.3 959.0 L162.8 959.0 L162.3 958.5 L161.8 957.9 L161.3 957.3 L160.8 957.4 L160.3 957.2 L159.8 957.2 L159.3 957.1 L158.8 957.6 L158.3 959.2 L157.8 960.1 L157.3 961.7 L156.8 963.1 L156.3 963.1 L155.8 964.4 L155.3 965.5 L154.8 965.3 L154.3 966.6 L153.8 966.9 L153.3 967.8 L152.8 967.1 L152.3 966.4 L151.8 969.0 L151.3 971.2 L150.8 975.8 L150.3 977.2 L149.8 979.5 L149.3 979.8 L148.8 980.7 L148.3 984.1 L147.8 985.3 L147.3 986.5 L146.8 989.2 L146.3 988.5 L145.8 990.2 L145.3 991.4 L144.8 993.2 L144.3 994.0 L143.8 999.2 L143.3 999.7 L142.8 1000.9 L142.3 1000.6 L141.8 1003.1 L141.3 1005.3 L140.8 1007.1 L140.3 1010.8 L139.8 1011.2 L139.3 1011.5 L138.8 1011.3 L138.3 1008.2 L137.8 1008.1 L137.3 1008.9 L136.8 1007.4 L136.3 1010.4 L135.8 1009.8 L135.3 1013.0 L134.8 1014.0 L134.3 1011.6 L133.8 1010.8 L133.3 1015.7 L132.8 1017.1 L132.3 1019.2 L131.8 1021.4 L131.3 1021.0 L130.8 1023.0 L130.3 1025.7 L129.8 1029.7 L129.3 1033.7 L128.8 1032.7 L128.3 1034.9 L127.8 1037.4 L127.3 1040.9 L126.8 1044.3 L126.3 1049.2 L125.8 1049.1 L125.3 1054.1 L124.8 1055.1 L124.3 1055.4 L123.8 1055.2 L123.3 1052.4 L122.8 1052.7 L122.3 1051.6 L121.8 1047.7 L121.3 1046.0 L120.8 1039.8 L120.3 1038.8 L119.8 1041.3 L119.3 1041.3 L118.8 1041.8 L118.3 1042.8 L117.8 1040.2 L117.3 1040.1 L116.8 1039.3 L116.3 1032.0 L115.8 1028.8 L115.3 1024.2 L114.8 1022.8 L114.3 1025.0 L113.8 1025.1 L113.3 1026.6 L112.8 1027.0 L112.3 1025.8 L111.8 1025.4 L111.3 1022.7 L110.8 1025.6 L110.3 1024.3 L109.8 1020.6 L109.3 1016.1 L108.8 1014.2 L108.3 1011.2 L107.8 1009.9 L107.3 1009.5 L106.8 1008.6 L106.3 1009.9 L105.8 1007.7 L105.3 1008.9 L104.8 1011.6 L104.3 1012.9 L103.8 1012.9 L103.3 1012.2 L102.8 1013.9 L102.3 1010.4 L101.8 1008.2 L101.3 1008.9 L100.8 1011.5 L100.3 1013.6 L99.8 1016.6 L99.3 1018.8 L98.8 1022.4 L98.3 1028.3 L97.8 1031.6 L97.3 1031.6 L96.8 1033.5 L96.3 1030.1 L95.8 1027.2 L95.3 1024.8 L94.8 1024.2 L94.3 1021.4 L93.8 1020.2 L93.3 1020.2 L92.8 1019.0 L92.3 1020.0 L91.8 1016.4 L91.3 1012.5 L90.8 1015.3 L90.3 1015.3 L89.8 1012.4 L89.3 1014.3 L88.8 1013.6 L88.3 1010.5 L87.8 1007.0 L87.3 1003.2 L86.8 1001.7 L86.3 1001.8 L85.8 1000.6 L85.3 1000.2 L84.8 998.7 L84.3 998.2 L83.8 998.5 L83.3 1001.4 L82.8 1003.7 L82.3 1006.5 L81.8 1007.2 L81.3 1008.9 L80.8 1010.0 L80.3 1013.5 L79.8 1015.5 L79.3 1018.9 L78.8 1019.9 L78.3 1025.0 L77.8 1029.8 L77.3 1033.0 L76.8 1034.4 L76.3 1033.7 L75.8 1036.5 L75.3 1034.4 L74.8 1031.6 L74.3 1027.7 L73.8 1028.1 L73.3 1028.1 L72.8 1030.1 L72.3 1029.1 L71.8 1028.0 L71.3 1024.4 L70.8 1025.9 L70.3 1024.8 L69.8 1022.1 L69.3 1018.1 L68.8 1017.3 L68.3 1017.4 L67.8 1014.8 L67.3 1012.3 L66.8 1010.4 L66.3 1007.6 L65.8 1005.4 L65.3 1003.2 L64.8 1005.4 L64.3 1006.9 L63.8 1005.8 L63.3 1003.0 L62.8 1002.6 L62.3 1003.4 L61.8 1002.6 L61.3 1002.4 L60.8 1000.7 L60.3 993.5 L59.8 992.8 L59.3 990.7 L58.8 987.8 L58.3 985.0 L57.8 984.3 L57.3 981.8 L56.8 977.4 L56.3 968.8 L55.8 968.0 L55.3 965.3 L54.8 964.1 L54.3 955.2 L53.8 950.2 L53.3 949.8 L52.8 948.5 L52.3 950.1 L51.8 949.7 L51.3 945.8 L50.8 943.7 L50.3 940.3 L49.8 938.0 L49.3 935.2 L48.8 931.9 L48.3 927.6 L47.8 923.4Z" fill="#008000" stroke="#008000" stroke-width="1.20" stroke-linejoin="round"/>
<path d="M47.6 921.3 L48.3 927.2 L49.0 934.5 L49.7 935.6 L50.4 946.3 L51.1 943.3 L51.8 946.4 L52.5 945.1 L53.2 947.3 L53.9 950.0 L54.6 966.5 L55.3 959.8 L56.0 964.7 L56.7 976.0 L57.4 976.1 L58.1 977.7 L58.8 986.6 L59.5 988.4 L60.2 985.1 L60.9 994.8 L61.6 994.7 L62.3 998.9 L63.0 1003.3 L63.7 1006.6 L64.4 1007.9 L65.1 996.6 L65.8 1001.1 L66.5 1012.4 L67.2 1016.0 L67.9 1015.7 L68.6 1015.1 L69.3 1019.5 L70.0 1027.0 L70.7 1021.7 L71.4 1026.5 L72.1 1030.7 L72.8 1035.2 L73.5 1021.4 L74.2 1031.4 L74.9 1032.1 L75.6 1038.5 L76.3 1032.9 L77.0 1025.8 L77.7 1032.8 L78.4 1020.2 L79.1 1023.5 L79.8 1018.7 L80.5 1010.2 L81.2 1011.6 L81.9 1007.4 L82.6 1005.9 L83.3 999.2 L84.0 994.6 L84.7 990.8 L85.4 1001.3 L86.1 1005.5 L86.8 996.7 L87.5 1003.5 L88.2 1006.4 L88.9 1009.8 L89.6 1011.2 L90.3 1014.8 L91.0 1007.4 L91.7 1011.9 L92.4 1017.7 L93.1 1024.7 L93.8 1022.8 L94.5 1019.1 L95.2 1025.5 L95.9 1027.1 L96.6 1030.9 L97.3 1033.5 L98.0 1026.0 L98.7 1021.2 L99.4 1018.0 L100.1 1012.3 L100.8 1011.8 L101.5 1004.6 L102.2 1010.2 L102.9 1005.7 L103.6 1009.3 L104.3 1012.1 L105.0 1006.5 L105.7 1003.8 L106.4 1004.5 L107.1 1013.2 L107.8 1010.1 L108.5 1005.8 L109.2 1010.2 L109.9 1024.5 L110.6 1026.4 L111.3 1023.1 L112.0 1020.1 L112.7 1024.5 L113.4 1027.5 L114.1 1024.9 L114.8 1022.5 L115.5 1022.1 L116.2 1024.6 L116.9 1043.8 L117.6 1033.6 L118.3 1038.3 L119.0 1046.6 L119.7 1033.0 L120.4 1033.2 L121.1 1049.7 L121.8 1048.9 L122.5 1052.5 L123.2 1058.4 L123.9 1052.2 L124.6 1054.2 L125.3 1049.0 L126.0 1044.5 L126.7 1045.1 L127.4 1034.3 L128.1 1033.0 L128.8 1029.4 L129.5 1020.9 L130.2 1029.9 L130.9 1019.1 L131.6 1013.5 L132.3 1010.8 L133.0 1007.0 L133.7 1007.7 L134.4 1009.4 L135.1 1004.4 L135.8 1003.0 L136.5 1013.0 L137.2 1015.0 L137.9 1002.9 L138.6 1009.7 L139.3 1014.0 L140.0 1002.9 L140.7 1002.7 L141.4 999.8 L142.1 1005.7 L142.8 1004.3 L143.5 1001.8 L144.2 996.2 L144.9 990.8 L145.6 995.4 L146.3 984.8 L147.0 985.6 L147.7 986.9 L148.4 982.4 L149.1 985.7 L149.8 977.0 L150.5 976.1 L151.2 971.4 L151.9 961.3 L152.6 969.5 L153.3 969.7 L154.0 962.6 L154.7 967.3 L155.4 956.2 L156.1 961.0 L156.8 962.5 L157.5 957.9 L158.2 960.6 L158.9 952.3 L159.6 952.1 L160.3 960.0 L161.0 949.1 L161.7 963.3 L162.4 961.4 L163.1 958.2 L163.8 960.8 L164.5 951.6 L165.2 949.5 L165.9 949.0 L166.6 954.8 L167.3 967.8 L168.0 960.4 L168.7 957.1 L169.4 973.8 L170.1 967.7 L170.8 963.8 L171.5 971.1 L172.2 977.7 L172.9 970.8 L173.6 974.6 L174.3 975.8 L175.0 967.7 L175.7 968.0 L176.4 972.1 L177.1 962.2 L177.8 960.4 L178.5 968.7 L179.2 968.4 L179.9 967.9 L180.6 970.8 L181.3 976.8 L182.0 971.7 L182.7 961.3 L183.4 955.1 L184.1 963.7 L184.8 962.7 L185.5 961.9 L186.2 962.8 L186.9 968.4 L187.6 965.0 L188.3 974.5 L189.0 966.8 L189.7 969.8 L190.4 973.8 L191.1 968.3 L191.8 968.1 L192.5 958.1 L193.2 959.8 L193.9 963.9 L194.6 946.9 L195.3 952.9 L196.0 949.3 L196.7 941.7 L197.4 941.7 L198.1 941.1 L198.8 943.6 L199.5 931.2 L200.2 940.0 L200.9 937.7 L201.6 928.9 L202.3 940.1 L203.0 927.5 L203.7 932.0 L204.4 912.8 L205.1 911.7 L205.8 908.5 L206.5 904.7 L207.2 918.6 L207.9 916.4 L208.6 916.1 L209.3 926.3 L210.0 922.2 L210.7 929.9 L211.4 929.9 L212.1 934.4 L212.8 934.3 L213.5 936.3 L214.2 940.1 L214.9 933.1 L215.6 921.9 L216.3 925.6 L217.0 922.3 L217.7 923.1 L218.4 914.1 L219.1 909.5 L219.8 901.9 L220.5 907.7 L221.2 914.6 L221.9 911.8 L222.6 913.2 L223.3 912.2 L224.0 911.4 L224.7 907.0 L225.4 914.1 L226.1 913.8 L226.8 916.0 L227.5 917.2 L228.2 924.6 L228.9 928.1 L229.6 931.4 L230.3 931.7 L231.0 920.8 L231.7 920.9 L232.4 913.4 L233.1 912.6 L233.8 912.7 L234.5 918.9 L235.2 915.3 L235.9 916.1 L236.6 909.1 L237.3 916.4 L238.0 914.5 L238.7 917.7 L239.4 923.0 L240.1 916.7 L240.8 926.2 L241.5 917.7 L242.2 928.4 L242.9 916.6 L243.6 915.6 L244.3 909.8 L245.0 904.9 L245.7 899.9 L246.4 911.6 L247.1 910.3 L247.8 910.5 L248.5 906.7 L249.2 905.4 L249.9 905.4 L250.6 909.3 L251.3 912.9 L252.0 908.2 L252.7 902.9 L253.4 901.2 L254.1 910.9 L254.8 904.0 L255.5 904.4 L256.2 908.4 L256.9 910.0 L257.6 907.1 L258.3 899.3 L259.0 902.5 L259.7 902.0 L260.4 904.1 L261.1 902.3 L261.8 901.2 L262.5 910.4 L263.2 913.6 L263.9 909.2 L264.6 912.7 L265.3 911.2 L266.0 901.9 L266.7 913.9 L267.4 901.2 L268.1 903.2 L268.8 899.4 L269.5 895.4 L270.2 888.2 L270.9 895.9 L271.6 901.6 L272.3 897.5 L273.0 898.4 L273.7 904.3 L274.4 902.7 L275.1 904.2 L275.8 900.3 L276.5 897.0 L277.2 908.2 L277.9 904.8 L278.6 911.4 L279.3 916.0 L280.0 912.4 L280.7 920.6 L281.4 910.7 L282.1 916.1 L282.8 910.0 L283.5 906.7 L284.2 906.7 L284.9 897.3 L285.6 890.8 L286.3 901.4 L287.0 889.2 L287.7 886.8 L288.4 888.1 L289.1 888.6 L289.8 886.5 L290.5 883.8 L291.2 884.3 L291.9 890.2 L292.6 878.4 L293.3 880.9 L294.0 881.2 L294.7 887.9 L295.4 885.8 L296.1 899.2 L296.8 902.0 L297.5 897.6 L298.2 899.1 L298.9 903.8 L299.6 917.0 L300.3 905.9 L301.0 908.7 L301.7 910.2 L302.4 925.2 L303.1 929.3 L303.8 923.5 L304.5 939.4 L305.2 944.4 L305.9 937.4 L306.6 945.5 L307.3 940.6 L308.0 937.9 L308.7 942.4 L309.4 948.1 L310.1 951.6 L310.8 948.1 L311.5 947.9 L312.2 948.4 L312.9 945.7 L313.6 937.1 L314.3 942.2 L315.0 939.5 L315.7 931.0 L316.4 932.0 L317.1 928.5 L317.8 928.1 L318.5 921.0" fill="none" stroke="#008000" stroke-width="1.15" stroke-linejoin="round"/>
<rect x="34.00" y="871.20" width="298.40" height="196.80" fill="none" stroke="#262626" stroke-width="0.8"/>
<text x="47.60" y="1081.24" font-size="9.43" text-anchor="middle" textLength="5.77" lengthAdjust="spacingAndGlyphs" >0</text>
<text x="101.86" y="1081.24" font-size="9.43" text-anchor="middle" textLength="11.54" lengthAdjust="spacingAndGlyphs" >20</text>
<text x="156.12" y="1081.24" font-size="9.43" text-anchor="middle" textLength="11.54" lengthAdjust="spacingAndGlyphs" >40</text>
<text x="210.38" y="1081.24" font-size="9.43" text-anchor="middle" textLength="11.54" lengthAdjust="spacingAndGlyphs" >60</text>
<text x="264.64" y="1081.24" font-size="9.43" text-anchor="middle" textLength="11.54" lengthAdjust="spacingAndGlyphs" >80</text>
<text x="318.90" y="1081.24" font-size="9.43" text-anchor="middle" textLength="17.31" lengthAdjust="spacingAndGlyphs" >100</text>
<text x="27.57" y="1053.72" font-size="9.43" text-anchor="end" textLength="14.42" lengthAdjust="spacingAndGlyphs" >0.0</text>
<text x="27.57" y="1016.34" font-size="9.43" text-anchor="end" textLength="14.42" lengthAdjust="spacingAndGlyphs" >0.2</text>
<text x="27.57" y="978.96" font-size="9.43" text-anchor="end" textLength="14.42" lengthAdjust="spacingAndGlyphs" >0.4</text>
<text x="27.57" y="941.58" font-size="9.43" text-anchor="end" textLength="14.42" lengthAdjust="spacingAndGlyphs" >0.6</text>
<text x="27.57" y="904.20" font-size="9.43" text-anchor="end" textLength="14.42" lengthAdjust="spacingAndGlyphs" >0.8</text>
<path d="M47.60 1068.00v2.91M101.86 1068.00v2.91M156.12 1068.00v2.91M210.38 1068.00v2.91M264.64 1068.00v2.91M318.90 1068.00v2.91M34.00 1050.60h-2.91M34.00 1013.22h-2.91M34.00 975.84h-2.91M34.00 938.46h-2.91M34.00 901.08h-2.91" stroke="#262626" stroke-width="0.8" fill="none"/>
<text x="183.20" y="865.70" font-size="11.42" text-anchor="middle" textLength="99.32" lengthAdjust="spacingAndGlyphs" >Comparison for Er</text>
<text x="183.20" y="1093.71" font-size="9.43" text-anchor="middle" textLength="22.20" lengthAdjust="spacingAndGlyphs" >Time</text>
<text x="0.00" y="0.00" font-size="9.43" text-anchor="middle" textLength="9.46" lengthAdjust="spacingAndGlyphs" transform="translate(9.20 969.60) rotate(-90)">Er</text>
<rect x="38.20" y="875.50" width="91.60" height="41.90" rx="1.6" fill="#fff" fill-opacity="0.8" stroke="#cccccc" stroke-width="0.8"/>
<path d="M41.70 882.50H60.40" stroke="#0000ff" stroke-width="1.25" />
<text x="66.60" y="885.52" font-size="9.43" text-anchor="start" textLength="60.68" lengthAdjust="spacingAndGlyphs" >Deterministic</text>
<path d="M41.70 895.70H60.40" stroke="#ff0000" stroke-width="1.25" stroke-dasharray="4.62 2.00"/>
<text x="66.60" y="898.72" font-size="9.43" text-anchor="start" textLength="54.41" lengthAdjust="spacingAndGlyphs" >White Noise</text>
<path d="M41.70 909.20H60.40" stroke="#008000" stroke-width="1.25" stroke-dasharray="8.00 2.00 1.25 2.00"/>
<text x="66.60" y="912.22" font-size="9.43" text-anchor="start" textLength="49.25" lengthAdjust="spacingAndGlyphs" >Lévy Noise</text>
<text x="167.40" y="1124.00" font-family="Liberation Serif, serif" font-size="16.5" text-anchor="middle" fill="#1a1a1a">(g)</text>
</g>
<g id="ph">
<path d="M402.41 1029.88 C402.91 1027.80 404.28 1020.73 405.41 1017.40 C406.53 1014.07 407.69 1011.91 409.15 1009.91 C410.61 1007.91 412.27 1006.50 414.14 1005.42 C416.02 1004.34 418.10 1003.84 420.38 1003.42 C422.67 1003.00 425.38 1002.84 427.87 1002.92 C430.37 1003.00 432.87 1003.46 435.36 1003.92 C437.86 1004.38 440.35 1005.00 442.85 1005.67 C445.35 1006.33 447.84 1007.21 450.34 1007.91 C452.84 1008.62 455.33 1009.37 457.83 1009.91 C460.32 1010.45 462.82 1010.83 465.32 1011.16 C467.81 1011.49 470.31 1011.78 472.81 1011.91 C475.30 1012.03 477.80 1011.99 480.29 1011.91 C482.79 1011.82 485.29 1011.70 487.78 1011.41 C490.28 1011.12 492.78 1010.70 495.27 1010.16 C497.77 1009.62 500.47 1008.83 502.76 1008.16 C505.05 1007.50 507.13 1006.79 509.00 1006.17 C510.87 1005.54 511.50 1005.46 513.99 1004.42 C516.49 1003.38 520.66 1001.71 523.99 999.93 C527.31 998.14 530.64 995.85 533.97 993.68 C537.30 991.52 540.63 989.23 543.96 986.94 C547.28 984.66 550.61 982.28 553.94 979.96 C557.27 977.63 560.60 975.25 563.93 972.97 C567.25 970.68 570.58 968.47 573.91 966.23 C577.24 963.98 580.57 961.69 583.90 959.49 C587.22 957.28 590.55 955.10 593.88 953.00 C597.21 950.89 600.54 948.72 603.87 946.87 C607.19 945.02 610.52 943.54 613.85 941.88 C617.18 940.21 620.51 938.47 623.84 936.88 C627.16 935.30 630.49 933.68 633.82 932.39 C637.15 931.10 640.48 930.14 643.81 929.15 C647.13 928.15 650.46 927.15 653.79 926.40 C657.12 925.65 661.20 925.07 663.78 924.65 C666.35 924.24 668.35 924.03 669.27 923.90" fill="none" stroke="#0000ff" stroke-width="1.45" stroke-linejoin="round"/>
<path d="M402.7 1026.9 L403.2 1023.8 L403.7 1020.5 L404.2 1019.4 L404.7 1017.7 L405.2 1015.4 L405.7 1015.0 L406.2 1013.7 L406.7 1013.8 L407.2 1012.2 L407.7 1012.3 L408.2 1010.7 L408.7 1008.9 L409.2 1008.3 L409.7 1007.9 L410.2 1006.2 L410.7 1004.9 L411.2 1003.3 L411.7 1001.5 L412.2 1001.6 L412.7 1000.9 L413.2 1000.2 L413.7 997.5 L414.2 995.0 L414.7 993.9 L415.2 992.6 L415.7 989.0 L416.2 987.2 L416.7 985.7 L417.2 982.8 L417.7 981.7 L418.2 981.2 L418.7 980.3 L419.2 980.9 L419.7 980.9 L420.2 981.4 L420.7 980.6 L421.2 978.8 L421.7 978.6 L422.2 978.3 L422.7 978.4 L423.2 981.0 L423.7 980.0 L424.2 980.0 L424.7 979.3 L425.2 979.7 L425.7 981.8 L426.2 982.3 L426.7 983.8 L427.2 985.2 L427.7 987.6 L428.2 988.8 L428.7 988.7 L429.2 987.1 L429.7 987.2 L430.2 987.1 L430.7 987.0 L431.2 988.6 L431.7 990.5 L432.2 991.2 L432.7 993.9 L433.2 992.7 L433.7 994.7 L434.2 996.4 L434.7 996.3 L435.2 998.1 L435.7 999.2 L436.2 999.0 L436.7 1000.5 L437.2 1001.1 L437.7 1002.0 L438.2 1002.2 L438.7 1004.3 L439.2 1006.4 L439.7 1007.6 L440.2 1008.5 L440.7 1009.1 L441.2 1009.8 L441.7 1012.1 L442.2 1012.5 L442.7 1012.9 L443.2 1012.6 L443.7 1015.7 L444.2 1018.1 L444.7 1018.8 L445.2 1019.5 L445.7 1018.8 L446.2 1017.8 L446.7 1018.2 L447.2 1019.7 L447.7 1020.2 L448.2 1021.6 L448.7 1023.9 L449.2 1024.0 L449.7 1024.9 L450.2 1025.6 L450.7 1027.2 L451.2 1027.0 L451.7 1025.9 L452.2 1023.5 L452.7 1023.6 L453.2 1021.7 L453.7 1021.8 L454.2 1022.4 L454.7 1023.4 L455.2 1023.8 L455.7 1023.3 L456.2 1025.8 L456.7 1025.5 L457.2 1024.0 L457.7 1022.9 L458.2 1022.3 L458.7 1020.8 L459.2 1020.7 L459.7 1019.5 L460.2 1020.9 L460.7 1020.6 L461.2 1023.0 L461.7 1021.6 L462.2 1021.8 L462.7 1020.4 L463.2 1020.6 L463.7 1020.9 L464.2 1019.1 L464.7 1017.4 L465.2 1016.8 L465.7 1016.4 L466.2 1016.9 L466.7 1018.5 L467.2 1018.6 L467.7 1019.6 L468.2 1020.7 L468.7 1020.2 L469.2 1021.3 L469.7 1022.5 L470.2 1023.8 L470.7 1023.8 L471.2 1024.2 L471.7 1023.6 L472.2 1022.0 L472.7 1021.9 L473.2 1022.7 L473.7 1022.4 L474.2 1023.1 L474.7 1024.9 L475.2 1024.9 L475.7 1026.1 L476.2 1026.4 L476.7 1028.6 L477.2 1030.0 L477.7 1029.9 L478.2 1030.9 L478.7 1031.1 L479.2 1030.9 L479.7 1028.7 L480.2 1027.1 L480.7 1025.7 L481.2 1023.1 L481.7 1022.7 L482.2 1023.6 L482.7 1023.2 L483.2 1022.3 L483.7 1022.8 L484.2 1022.1 L484.7 1021.7 L485.2 1020.0 L485.7 1018.2 L486.2 1016.1 L486.7 1014.7 L487.2 1012.5 L487.7 1011.8 L488.2 1009.5 L488.7 1008.2 L489.2 1005.5 L489.7 1004.2 L490.2 1003.7 L490.7 1003.0 L491.2 1000.8 L491.7 999.1 L492.2 998.7 L492.7 998.9 L493.2 998.1 L493.7 996.7 L494.2 995.8 L494.7 995.4 L495.2 994.7 L495.7 994.3 L496.2 992.8 L496.7 993.0 L497.2 992.4 L497.7 991.4 L498.2 989.1 L498.7 989.6 L499.2 991.8 L499.7 994.5 L500.2 995.7 L500.7 995.1 L501.2 996.2 L501.7 998.0 L502.2 996.9 L502.7 997.8 L503.2 999.6 L503.7 999.7 L504.2 1001.1 L504.7 1001.8 L505.2 1003.8 L505.7 1005.9 L506.2 1005.6 L506.7 1007.2 L507.2 1007.6 L507.7 1009.8 L508.2 1010.2 L508.7 1012.8 L509.2 1012.8 L509.7 1014.3 L510.2 1014.3 L510.7 1013.9 L511.2 1013.3 L511.7 1012.6 L512.2 1012.6 L512.7 1011.6 L513.2 1009.9 L513.7 1009.2 L514.2 1010.0 L514.7 1009.6 L515.2 1009.5 L515.7 1010.9 L516.2 1012.3 L516.7 1011.4 L517.2 1013.4 L517.7 1014.2 L518.2 1014.2 L518.7 1015.5 L519.2 1016.4 L519.7 1015.4 L520.2 1014.3 L520.7 1013.9 L521.2 1013.0 L521.7 1011.6 L522.2 1011.7 L522.7 1013.0 L523.2 1013.3 L523.7 1015.5 L524.2 1016.1 L524.7 1015.5 L525.2 1015.3 L525.7 1014.0 L526.2 1015.0 L526.7 1016.8 L527.2 1015.3 L527.7 1015.6 L528.2 1015.6 L528.7 1016.6 L529.2 1014.5 L529.7 1015.1 L530.2 1016.1 L530.7 1016.6 L531.2 1019.5 L531.7 1019.6 L532.2 1020.4 L532.7 1021.1 L533.2 1020.6 L533.7 1020.8 L534.2 1022.7 L534.7 1022.9 L535.2 1025.3 L535.7 1026.0 L536.2 1026.5 L536.7 1027.6 L537.2 1028.1 L537.7 1029.2 L538.2 1029.4 L538.7 1028.0 L539.2 1026.2 L539.7 1025.4 L540.2 1024.5 L540.7 1024.6 L541.2 1025.9 L541.7 1023.6 L542.2 1023.3 L542.7 1021.3 L543.2 1021.2 L543.7 1021.4 L544.2 1020.4 L544.7 1020.1 L545.2 1020.0 L545.7 1020.0 L546.2 1018.1 L546.7 1017.0 L547.2 1014.2 L547.7 1013.7 L548.2 1013.3 L548.7 1013.0 L549.2 1011.4 L549.7 1011.0 L550.2 1008.8 L550.7 1008.8 L551.2 1008.4 L551.7 1009.1 L552.2 1008.1 L552.7 1007.1 L553.2 1006.4 L553.7 1005.9 L554.2 1004.8 L554.7 1004.3 L555.2 1002.4 L555.7 1001.7 L556.2 999.6 L556.7 999.4 L557.2 998.8 L557.7 998.4 L558.2 999.6 L558.7 1000.6 L559.2 1000.5 L559.7 1002.2 L560.2 1001.9 L560.7 1003.0 L561.2 1004.3 L561.7 1004.1 L562.2 1003.7 L562.7 1004.3 L563.2 1003.1 L563.7 1002.6 L564.2 1003.0 L564.7 1001.9 L565.2 1000.7 L565.7 1000.8 L566.2 999.9 L566.7 999.1 L567.2 997.3 L567.7 997.5 L568.2 997.5 L568.7 996.6 L569.2 995.5 L569.7 994.3 L570.2 992.1 L570.7 991.6 L571.2 992.6 L571.7 991.1 L572.2 991.9 L572.7 992.6 L573.2 991.4 L573.7 990.8 L574.2 989.0 L574.7 989.0 L575.2 989.1 L575.7 990.5 L576.2 990.4 L576.7 991.3 L577.2 991.4 L577.7 991.6 L578.2 992.0 L578.7 989.8 L579.2 990.2 L579.7 990.8 L580.2 991.0 L580.7 990.9 L581.2 989.4 L581.7 989.0 L582.2 986.7 L582.7 986.1 L583.2 984.2 L583.7 983.6 L584.2 982.7 L584.7 982.7 L585.2 979.8 L585.7 978.8 L586.2 978.8 L586.7 977.3 L587.2 975.2 L587.7 974.4 L588.2 972.5 L588.7 971.4 L589.2 968.1 L589.7 966.7 L590.2 967.0 L590.7 966.9 L591.2 967.8 L591.7 966.7 L592.2 965.7 L592.7 963.6 L593.2 962.1 L593.7 961.6 L594.2 959.7 L594.7 960.4 L595.2 958.6 L595.7 957.7 L596.2 955.8 L596.7 954.1 L597.2 951.6 L597.7 950.4 L598.2 950.2 L598.7 949.1 L599.2 947.7 L599.7 947.1 L600.2 946.6 L600.7 946.0 L601.2 947.1 L601.7 948.4 L602.2 949.9 L602.7 946.8 L603.2 946.5 L603.7 946.9 L604.2 948.5 L604.7 948.1 L605.2 948.4 L605.7 948.6 L606.2 947.1 L606.7 946.7 L607.2 946.1 L607.7 943.9 L608.2 943.9 L608.7 942.2 L609.2 942.1 L609.7 939.5 L610.2 939.2 L610.7 938.7 L611.2 937.6 L611.7 936.1 L612.2 936.3 L612.7 935.0 L613.2 933.7 L613.7 932.9 L614.2 932.4 L614.7 931.8 L615.2 931.1 L615.7 928.0 L616.2 927.5 L616.7 926.7 L617.2 927.1 L617.7 928.3 L618.2 928.8 L618.7 926.8 L619.2 925.9 L619.7 925.5 L620.2 926.5 L620.7 925.0 L621.2 924.6 L621.7 924.6 L622.2 922.3 L622.7 922.3 L623.2 920.6 L623.7 919.9 L624.2 920.6 L624.7 919.1 L625.2 917.4 L625.7 915.6 L626.2 914.5 L626.7 914.5 L627.2 914.3 L627.7 915.6 L628.2 916.1 L628.7 915.5 L629.2 914.1 L629.7 911.8 L630.2 910.5 L630.7 910.0 L631.2 910.0 L631.7 910.7 L632.2 910.4 L632.7 906.4 L633.2 905.9 L633.7 905.1 L634.2 904.5 L634.7 904.0 L635.2 903.0 L635.7 901.4 L636.2 900.6 L636.7 901.5 L637.2 900.4 L637.7 900.1 L638.2 900.8 L638.7 902.3 L639.2 904.2 L639.7 905.6 L640.2 905.4 L640.7 906.0 L641.2 907.4 L641.7 907.7 L642.2 908.9 L642.7 912.1 L643.2 913.0 L643.7 914.2 L644.2 914.2 L644.7 914.2 L645.2 916.8 L645.7 917.8 L646.2 917.5 L646.7 917.2 L647.2 916.6 L647.7 917.2 L648.2 918.3 L648.7 918.7 L649.2 918.2 L649.7 919.2 L650.2 919.0 L650.7 918.1 L651.2 917.3 L651.7 917.8 L652.2 917.4 L652.7 917.2 L653.2 919.6 L653.7 921.4 L654.2 921.8 L654.7 922.5 L655.2 924.1 L655.7 926.5 L656.2 927.5 L656.7 927.6 L657.2 928.5 L657.7 928.4 L658.2 928.7 L658.7 929.1 L659.2 931.0 L659.7 930.9 L660.2 933.1 L660.7 933.4 L661.2 934.1 L661.7 933.8 L662.2 934.9 L662.7 935.4 L663.2 934.0 L663.7 934.6 L664.2 936.7 L664.7 937.4 L665.2 937.6 L665.7 940.9 L666.2 943.2 L666.7 943.6 L667.2 946.6 L667.7 947.2 L668.2 948.0 L668.7 948.8 L668.7 950.9 L668.2 949.3 L667.7 948.0 L667.2 948.0 L666.7 946.9 L666.2 944.4 L665.7 943.2 L665.2 940.9 L664.7 938.6 L664.2 938.7 L663.7 937.0 L663.2 936.2 L662.7 936.3 L662.2 935.8 L661.7 935.0 L661.2 934.9 L660.7 934.7 L660.2 934.8 L659.7 934.8 L659.2 932.5 L658.7 931.6 L658.2 930.2 L657.7 929.1 L657.2 929.8 L656.7 929.1 L656.2 929.1 L655.7 929.1 L655.2 926.5 L654.7 924.5 L654.2 923.0 L653.7 922.7 L653.2 922.2 L652.7 919.6 L652.2 918.8 L651.7 918.8 L651.2 918.8 L650.7 919.8 L650.2 921.3 L649.7 920.6 L649.2 920.1 L648.7 919.8 L648.2 919.5 L647.7 918.8 L647.2 917.9 L646.7 919.6 L646.2 919.6 L645.7 919.2 L645.2 917.8 L644.7 917.2 L644.2 915.8 L643.7 915.3 L643.2 915.0 L642.7 913.1 L642.2 912.1 L641.7 911.0 L641.2 908.7 L640.7 908.2 L640.2 907.4 L639.7 906.4 L639.2 905.7 L638.7 904.5 L638.2 902.6 L637.7 901.5 L637.2 902.1 L636.7 902.7 L636.2 901.7 L635.7 903.7 L635.2 904.2 L634.7 905.4 L634.2 906.1 L633.7 906.4 L633.2 906.8 L632.7 910.8 L632.2 911.8 L631.7 911.9 L631.2 911.9 L630.7 911.6 L630.2 911.9 L629.7 914.4 L629.2 916.2 L628.7 916.8 L628.2 917.4 L627.7 917.0 L627.2 915.6 L626.7 916.7 L626.2 916.4 L625.7 917.5 L625.2 920.2 L624.7 921.1 L624.2 921.6 L623.7 921.2 L623.2 922.5 L622.7 924.2 L622.2 924.7 L621.7 925.6 L621.2 925.4 L620.7 927.2 L620.2 927.8 L619.7 926.8 L619.2 927.2 L618.7 929.1 L618.2 930.0 L617.7 929.7 L617.2 928.4 L616.7 928.0 L616.2 928.8 L615.7 931.1 L615.2 932.5 L614.7 933.0 L614.2 934.3 L613.7 934.3 L613.2 935.2 L612.7 936.9 L612.2 937.3 L611.7 937.6 L611.2 939.9 L610.7 939.7 L610.2 940.5 L609.7 943.0 L609.2 943.2 L608.7 944.9 L608.2 945.2 L607.7 946.3 L607.2 948.1 L606.7 947.6 L606.2 948.6 L605.7 950.6 L605.2 950.0 L604.7 949.5 L604.2 950.2 L603.7 948.5 L603.2 947.7 L602.7 950.5 L602.2 950.5 L601.7 950.4 L601.2 948.8 L600.7 947.5 L600.2 947.7 L599.7 948.5 L599.2 949.1 L598.7 951.6 L598.2 951.4 L597.7 952.4 L597.2 954.9 L596.7 956.2 L596.2 957.9 L595.7 959.1 L595.2 960.6 L594.7 961.4 L594.2 961.6 L593.7 963.8 L593.2 963.6 L592.7 965.7 L592.2 967.1 L591.7 968.3 L591.2 968.6 L590.7 968.4 L590.2 968.2 L589.7 968.1 L589.2 971.9 L588.7 973.1 L588.2 974.6 L587.7 975.8 L587.2 978.0 L586.7 979.4 L586.2 979.8 L585.7 979.8 L585.2 983.6 L584.7 983.9 L584.2 984.4 L583.7 985.0 L583.2 986.3 L582.7 986.9 L582.2 989.7 L581.7 990.2 L581.2 991.2 L580.7 992.3 L580.2 992.2 L579.7 991.9 L579.2 991.4 L578.7 992.4 L578.2 993.0 L577.7 992.9 L577.2 992.5 L576.7 992.5 L576.2 992.8 L575.7 992.8 L575.2 990.7 L574.7 990.6 L574.2 991.3 L573.7 992.0 L573.2 992.6 L572.7 994.1 L572.2 994.0 L571.7 993.0 L571.2 994.3 L570.7 993.7 L570.2 994.6 L569.7 995.8 L569.2 997.2 L568.7 997.7 L568.2 998.0 L567.7 998.2 L567.2 999.7 L566.7 1000.1 L566.2 1001.5 L565.7 1001.8 L565.2 1002.5 L564.7 1003.7 L564.2 1004.1 L563.7 1003.8 L563.2 1004.9 L562.7 1005.5 L562.2 1004.7 L561.7 1005.2 L561.2 1005.2 L560.7 1004.4 L560.2 1003.1 L559.7 1003.3 L559.2 1002.7 L558.7 1001.8 L558.2 1001.8 L557.7 1000.0 L557.2 999.8 L556.7 1000.3 L556.2 1001.7 L555.7 1003.2 L555.2 1004.4 L554.7 1005.9 L554.2 1006.9 L553.7 1006.6 L553.2 1007.5 L552.7 1009.1 L552.2 1009.9 L551.7 1010.0 L551.2 1009.9 L550.7 1009.4 L550.2 1011.5 L549.7 1012.3 L549.2 1013.8 L548.7 1014.3 L548.2 1014.7 L547.7 1014.7 L547.2 1017.2 L546.7 1018.2 L546.2 1020.1 L545.7 1022.0 L545.2 1021.3 L544.7 1020.8 L544.2 1022.2 L543.7 1022.5 L543.2 1022.7 L542.7 1024.2 L542.2 1024.0 L541.7 1026.2 L541.2 1026.8 L540.7 1026.0 L540.2 1025.9 L539.7 1026.2 L539.2 1028.3 L538.7 1029.8 L538.2 1030.3 L537.7 1030.6 L537.2 1029.7 L536.7 1028.2 L536.2 1027.8 L535.7 1027.2 L535.2 1026.8 L534.7 1025.5 L534.2 1023.8 L533.7 1023.1 L533.2 1022.1 L532.7 1022.1 L532.2 1022.2 L531.7 1021.8 L531.2 1020.6 L530.7 1019.5 L530.2 1017.2 L529.7 1016.8 L529.2 1016.9 L528.7 1017.9 L528.2 1017.2 L527.7 1017.1 L527.2 1017.5 L526.7 1018.2 L526.2 1016.8 L525.7 1015.6 L525.2 1016.9 L524.7 1016.9 L524.2 1017.3 L523.7 1017.4 L523.2 1015.5 L522.7 1014.1 L522.2 1014.3 L521.7 1013.2 L521.2 1014.3 L520.7 1014.8 L520.2 1015.8 L519.7 1017.2 L519.2 1017.4 L518.7 1016.4 L518.2 1016.6 L517.7 1016.1 L517.2 1014.9 L516.7 1013.4 L516.2 1013.7 L515.7 1013.2 L515.2 1011.1 L514.7 1010.3 L514.2 1011.1 L513.7 1011.3 L513.2 1011.6 L512.7 1014.0 L512.2 1013.8 L511.7 1014.9 L511.2 1014.6 L510.7 1014.7 L510.2 1015.3 L509.7 1016.5 L509.2 1016.5 L508.7 1014.2 L508.2 1013.5 L507.7 1010.6 L507.2 1009.8 L506.7 1008.4 L506.2 1007.2 L505.7 1007.1 L505.2 1006.5 L504.7 1003.8 L504.2 1002.8 L503.7 1001.2 L503.2 1000.7 L502.7 999.7 L502.2 998.3 L501.7 998.9 L501.2 998.4 L500.7 997.2 L500.2 996.8 L499.7 995.8 L499.2 994.5 L498.7 991.8 L498.2 991.4 L497.7 992.5 L497.2 993.5 L496.7 994.3 L496.2 994.6 L495.7 995.9 L495.2 995.7 L494.7 996.8 L494.2 997.5 L493.7 998.3 L493.2 999.5 L492.7 999.7 L492.2 999.7 L491.7 1001.4 L491.2 1003.0 L490.7 1004.5 L490.2 1004.9 L489.7 1006.2 L489.2 1008.3 L488.7 1010.1 L488.2 1011.9 L487.7 1013.0 L487.2 1014.7 L486.7 1016.2 L486.2 1018.2 L485.7 1020.2 L485.2 1022.0 L484.7 1023.6 L484.2 1023.6 L483.7 1024.1 L483.2 1023.9 L482.7 1025.9 L482.2 1025.9 L481.7 1023.9 L481.2 1026.3 L480.7 1028.5 L480.2 1028.7 L479.7 1031.6 L479.2 1032.5 L478.7 1032.4 L478.2 1032.4 L477.7 1031.5 L477.2 1030.9 L476.7 1030.8 L476.2 1028.7 L475.7 1026.7 L475.2 1026.7 L474.7 1026.0 L474.2 1026.1 L473.7 1024.2 L473.2 1024.2 L472.7 1023.8 L472.2 1023.9 L471.7 1024.4 L471.2 1025.6 L470.7 1025.1 L470.2 1025.1 L469.7 1023.8 L469.2 1023.9 L468.7 1021.8 L468.2 1021.8 L467.7 1021.5 L467.2 1020.4 L466.7 1019.9 L466.2 1018.5 L465.7 1017.8 L465.2 1019.1 L464.7 1019.1 L464.2 1021.3 L463.7 1021.7 L463.2 1021.9 L462.7 1022.1 L462.2 1023.3 L461.7 1023.5 L461.2 1024.7 L460.7 1023.0 L460.2 1021.8 L459.7 1021.8 L459.2 1021.9 L458.7 1022.3 L458.2 1023.5 L457.7 1024.0 L457.2 1025.7 L456.7 1028.0 L456.2 1026.8 L455.7 1025.8 L455.2 1025.9 L454.7 1025.3 L454.2 1023.8 L453.7 1022.4 L453.2 1023.9 L452.7 1025.0 L452.2 1025.9 L451.7 1027.9 L451.2 1028.6 L450.7 1028.4 L450.2 1027.5 L449.7 1025.9 L449.2 1025.5 L448.7 1025.5 L448.2 1024.2 L447.7 1021.9 L447.2 1020.4 L446.7 1020.0 L446.2 1019.2 L445.7 1019.9 L445.2 1020.4 L444.7 1020.4 L444.2 1018.8 L443.7 1018.5 L443.2 1015.7 L442.7 1014.2 L442.2 1013.9 L441.7 1013.3 L441.2 1012.2 L440.7 1010.0 L440.2 1009.5 L439.7 1009.7 L439.2 1007.8 L438.7 1006.9 L438.2 1004.3 L437.7 1002.9 L437.2 1002.6 L436.7 1001.8 L436.2 1000.8 L435.7 1000.3 L435.2 1000.1 L434.7 998.3 L434.2 997.9 L433.7 997.7 L433.2 995.0 L432.7 994.6 L432.2 994.6 L431.7 992.4 L431.2 991.1 L430.7 989.2 L430.2 988.2 L429.7 988.4 L429.2 989.3 L428.7 989.4 L428.2 989.3 L427.7 989.3 L427.2 987.8 L426.7 985.5 L426.2 984.1 L425.7 982.4 L425.2 982.5 L424.7 980.6 L424.2 981.0 L423.7 981.8 L423.2 981.9 L422.7 981.2 L422.2 979.2 L421.7 980.0 L421.2 981.0 L420.7 981.9 L420.2 982.6 L419.7 982.0 L419.2 982.4 L418.7 982.4 L418.2 982.4 L417.7 982.8 L417.2 985.7 L416.7 987.7 L416.2 989.0 L415.7 992.9 L415.2 994.6 L414.7 995.4 L414.2 997.5 L413.7 1001.0 L413.2 1001.0 L412.7 1003.1 L412.2 1002.4 L411.7 1003.9 L411.2 1004.9 L410.7 1006.7 L410.2 1007.9 L409.7 1009.8 L409.2 1009.6 L408.7 1010.7 L408.2 1013.9 L407.7 1013.9 L407.2 1015.5 L406.7 1015.5 L406.2 1015.2 L405.7 1016.3 L405.2 1017.7 L404.7 1019.4 L404.2 1020.5 L403.7 1023.8 L403.2 1026.9 L402.7 1030.0Z" fill="#ff0000" stroke="#ff0000" stroke-width="1.30" stroke-linejoin="round"/>
<path d="M402.4 1028.4 L403.1 1025.7 L403.8 1019.5 L404.5 1018.7 L405.2 1015.8 L405.9 1015.1 L406.6 1014.0 L407.3 1011.6 L408.0 1013.4 L408.7 1005.4 L409.4 1009.5 L410.1 1010.6 L410.8 1001.3 L411.5 1001.6 L412.2 1001.0 L412.9 1000.0 L413.6 998.9 L414.3 994.0 L415.0 994.3 L415.7 987.4 L416.4 983.9 L417.1 986.2 L417.8 982.1 L418.5 983.9 L419.2 982.3 L419.9 984.9 L420.6 980.4 L421.3 979.7 L422.0 975.7 L422.7 983.4 L423.4 983.1 L424.1 983.2 L424.8 983.4 L425.5 979.4 L426.2 985.8 L426.9 983.1 L427.6 987.6 L428.3 989.0 L429.0 989.4 L429.7 990.4 L430.4 984.6 L431.1 991.7 L431.8 989.4 L432.5 995.0 L433.2 996.1 L433.9 1000.7 L434.6 1000.8 L435.3 1002.5 L436.0 1001.0 L436.7 1003.0 L437.4 1004.5 L438.1 1000.8 L438.8 1009.3 L439.5 1009.1 L440.2 1007.4 L440.9 1009.5 L441.6 1016.2 L442.3 1014.6 L443.0 1017.6 L443.7 1017.9 L444.4 1020.0 L445.1 1020.1 L445.8 1018.6 L446.5 1015.6 L447.2 1023.0 L447.9 1025.2 L448.6 1021.2 L449.3 1024.0 L450.0 1028.4 L450.7 1027.7 L451.4 1029.5 L452.1 1028.2 L452.8 1021.7 L453.5 1023.1 L454.2 1025.3 L454.9 1025.0 L455.6 1023.3 L456.3 1026.0 L457.0 1027.4 L457.7 1025.4 L458.4 1025.0 L459.1 1022.5 L459.8 1020.1 L460.5 1019.7 L461.2 1019.0 L461.9 1022.6 L462.6 1020.3 L463.3 1020.3 L464.0 1018.4 L464.7 1018.4 L465.4 1019.1 L466.1 1017.6 L466.8 1018.0 L467.5 1020.7 L468.2 1019.0 L468.9 1021.7 L469.6 1025.6 L470.3 1024.6 L471.0 1021.8 L471.7 1021.6 L472.4 1022.9 L473.1 1020.0 L473.8 1028.1 L474.5 1023.2 L475.2 1024.2 L475.9 1028.5 L476.6 1029.8 L477.3 1029.6 L478.0 1031.9 L478.7 1034.6 L479.4 1030.6 L480.1 1027.4 L480.8 1026.5 L481.5 1019.8 L482.2 1021.0 L482.9 1023.1 L483.6 1022.7 L484.3 1019.9 L485.0 1022.4 L485.7 1013.6 L486.4 1017.4 L487.1 1010.1 L487.8 1009.8 L488.5 1005.7 L489.2 1007.7 L489.9 1001.9 L490.6 1002.0 L491.3 999.8 L492.0 995.7 L492.7 1000.1 L493.4 1001.0 L494.1 995.8 L494.8 992.8 L495.5 992.3 L496.2 996.7 L496.9 991.5 L497.6 990.7 L498.3 991.0 L499.0 989.7 L499.7 996.6 L500.4 999.7 L501.1 993.8 L501.8 999.4 L502.5 997.7 L503.2 998.8 L503.9 1001.0 L504.6 1006.2 L505.3 1005.8 L506.0 1009.9 L506.7 1010.8 L507.4 1012.1 L508.1 1012.2 L508.8 1011.6 L509.5 1011.9 L510.2 1012.5 L510.9 1011.8 L511.6 1012.8 L512.3 1011.1 L513.0 1010.5 L513.7 1012.9 L514.4 1011.2 L515.1 1009.2 L515.8 1011.0 L516.5 1011.5 L517.2 1016.5 L517.9 1016.8 L518.6 1012.5 L519.3 1016.2 L520.0 1015.9 L520.7 1013.3 L521.4 1011.6 L522.1 1012.8 L522.8 1014.2 L523.5 1017.7 L524.2 1014.9 L524.9 1014.7 L525.6 1013.0 L526.3 1018.9 L527.0 1019.9 L527.7 1016.2 L528.4 1013.8 L529.1 1013.6 L529.8 1014.2 L530.5 1014.5 L531.2 1021.6 L531.9 1020.7 L532.6 1024.3 L533.3 1021.6 L534.0 1023.6 L534.7 1029.6 L535.4 1023.3 L536.1 1028.6 L536.8 1025.4 L537.5 1026.9 L538.2 1029.6 L538.9 1025.5 L539.6 1022.3 L540.3 1025.8 L541.0 1029.5 L541.7 1022.9 L542.4 1022.8 L543.1 1022.0 L543.8 1024.3 L544.5 1024.0 L545.2 1022.8 L545.9 1018.2 L546.6 1018.5 L547.3 1011.0 L548.0 1013.5 L548.7 1013.0 L549.4 1009.6 L550.1 1006.8 L550.8 1009.3 L551.5 1007.6 L552.2 1007.8 L552.9 1008.0 L553.6 1002.8 L554.3 1006.8 L555.0 1001.9 L555.7 1001.4 L556.4 998.7 L557.1 995.8 L557.8 999.5 L558.5 1000.2 L559.2 1001.4 L559.9 999.3 L560.6 1003.2 L561.3 1003.9 L562.0 1004.0 L562.7 1001.9 L563.4 999.7 L564.1 1003.4 L564.8 1000.7 L565.5 1003.0 L566.2 998.7 L566.9 996.8 L567.6 996.7 L568.3 997.5 L569.0 999.5 L569.7 992.7 L570.4 992.3 L571.1 994.8 L571.8 992.4 L572.5 991.6 L573.2 993.2 L573.9 990.6 L574.6 989.6 L575.3 993.1 L576.0 992.7 L576.7 993.1 L577.4 991.3 L578.1 993.0 L578.8 988.5 L579.5 988.9 L580.2 988.1 L580.9 992.9 L581.6 990.3 L582.3 983.0 L583.0 985.2 L583.7 980.2 L584.4 986.7 L585.1 982.7 L585.8 981.6 L586.5 976.3 L587.2 975.7 L587.9 972.0 L588.6 970.7 L589.3 966.8 L590.0 967.2 L590.7 969.9 L591.4 967.1 L592.1 966.1 L592.8 963.9 L593.5 961.8 L594.2 959.0 L594.9 957.6 L595.6 960.1 L596.3 953.2 L597.0 952.7 L597.7 951.8 L598.4 946.8 L599.1 950.0 L599.8 948.0 L600.5 944.9 L601.2 952.9 L601.9 949.1 L602.6 948.9 L603.3 950.7 L604.0 952.6 L604.7 949.4 L605.4 948.8 L606.1 950.3 L606.8 944.7 L607.5 946.6 L608.2 942.0 L608.9 941.4 L609.6 941.2 L610.3 939.7 L611.0 936.9 L611.7 936.7 L612.4 936.5 L613.1 936.7 L613.8 936.1 L614.5 935.4 L615.2 928.3 L615.9 926.8 L616.6 929.5 L617.3 928.5 L618.0 931.1 L618.7 925.9 L619.4 927.7 L620.1 927.5 L620.8 922.8 L621.5 923.7 L622.2 924.0 L622.9 920.3 L623.6 919.2 L624.3 920.4 L625.0 917.5 L625.7 918.4 L626.4 916.3 L627.1 914.4 L627.8 913.7 L628.5 919.7 L629.2 916.0 L629.9 909.1 L630.6 910.4 L631.3 911.8 L632.0 910.0 L632.7 909.0 L633.4 902.6 L634.1 904.0 L634.8 906.3 L635.5 901.9 L636.2 899.2 L636.9 903.8 L637.6 901.5 L638.3 903.3 L639.0 906.4 L639.7 908.8 L640.4 904.4 L641.1 904.5 L641.8 909.9 L642.5 912.2 L643.2 913.9 L643.9 917.1 L644.6 917.2 L645.3 919.4 L646.0 922.0 L646.7 918.6 L647.4 914.5 L648.1 922.4 L648.8 919.2 L649.5 921.1 L650.2 922.4 L650.9 918.7 L651.6 921.8 L652.3 919.1 L653.0 918.8 L653.7 924.7 L654.4 922.8 L655.1 925.7 L655.8 928.5 L656.5 925.5 L657.2 930.1 L657.9 927.4 L658.6 932.2 L659.3 932.1 L660.0 930.5 L660.7 934.8 L661.4 936.0 L662.1 934.9 L662.8 932.2 L663.5 937.4 L664.2 934.5 L664.9 938.9 L665.6 942.2 L666.3 944.1 L667.0 947.1 L667.7 947.5 L668.4 947.2" fill="none" stroke="#ff0000" stroke-width="1.00" stroke-linejoin="round"/>
<path d="M402.7 1029.3 L403.2 1027.4 L403.7 1025.8 L404.2 1023.8 L404.7 1021.2 L405.2 1019.0 L405.7 1017.9 L406.2 1018.0 L406.7 1017.6 L407.2 1016.9 L407.7 1015.9 L408.2 1015.3 L408.7 1015.4 L409.2 1015.1 L409.7 1016.1 L410.2 1016.1 L410.7 1014.3 L411.2 1012.0 L411.7 1010.7 L412.2 1011.3 L412.7 1012.1 L413.2 1013.3 L413.7 1013.6 L414.2 1015.1 L414.7 1015.6 L415.2 1016.5 L415.7 1017.6 L416.2 1016.8 L416.7 1017.0 L417.2 1018.2 L417.7 1019.4 L418.2 1018.7 L418.7 1018.8 L419.2 1017.9 L419.7 1017.3 L420.2 1015.5 L420.7 1013.9 L421.2 1012.9 L421.7 1012.8 L422.2 1013.4 L422.7 1013.9 L423.2 1015.0 L423.7 1016.3 L424.2 1014.6 L424.7 1014.7 L425.2 1016.1 L425.7 1017.3 L426.2 1018.6 L426.7 1019.6 L427.2 1018.6 L427.7 1018.2 L428.2 1016.8 L428.7 1016.0 L429.2 1014.6 L429.7 1013.4 L430.2 1011.7 L430.7 1011.0 L431.2 1011.4 L431.7 1010.5 L432.2 1010.3 L432.7 1009.8 L433.2 1009.4 L433.7 1009.2 L434.2 1009.1 L434.7 1010.8 L435.2 1009.5 L435.7 1009.2 L436.2 1009.2 L436.7 1009.1 L437.2 1009.6 L437.7 1010.1 L438.2 1012.2 L438.7 1013.5 L439.2 1014.7 L439.7 1015.7 L440.2 1017.7 L440.7 1018.1 L441.2 1017.6 L441.7 1017.6 L442.2 1020.9 L442.7 1019.9 L443.2 1019.5 L443.7 1019.8 L444.2 1018.7 L444.7 1018.7 L445.2 1019.1 L445.7 1018.0 L446.2 1018.6 L446.7 1019.5 L447.2 1020.5 L447.7 1020.9 L448.2 1022.0 L448.7 1025.5 L449.2 1026.2 L449.7 1027.6 L450.2 1029.7 L450.7 1029.7 L451.2 1030.3 L451.7 1031.0 L452.2 1032.5 L452.7 1034.0 L453.2 1033.7 L453.7 1033.3 L454.2 1031.1 L454.7 1029.0 L455.2 1026.5 L455.7 1024.0 L456.2 1023.4 L456.7 1023.2 L457.2 1023.3 L457.7 1021.8 L458.2 1021.9 L458.7 1023.4 L459.2 1021.2 L459.7 1020.7 L460.2 1020.4 L460.7 1021.0 L461.2 1024.1 L461.7 1023.6 L462.2 1023.1 L462.7 1022.7 L463.2 1023.4 L463.7 1023.8 L464.2 1026.2 L464.7 1025.9 L465.2 1027.9 L465.7 1029.9 L466.2 1031.5 L466.7 1033.1 L467.2 1037.4 L467.7 1038.5 L468.2 1040.3 L468.7 1042.9 L469.2 1045.2 L469.7 1045.8 L470.2 1046.1 L470.7 1048.7 L471.2 1049.4 L471.7 1049.9 L472.2 1051.1 L472.7 1051.1 L473.2 1052.3 L473.7 1054.9 L474.2 1055.7 L474.7 1055.7 L475.2 1056.6 L475.7 1057.3 L476.2 1057.8 L476.7 1057.6 L477.2 1058.1 L477.7 1058.0 L478.2 1056.9 L478.7 1055.6 L479.2 1054.7 L479.7 1056.4 L480.2 1057.1 L480.7 1056.6 L481.2 1055.6 L481.7 1055.3 L482.2 1055.1 L482.7 1055.7 L483.2 1057.0 L483.7 1056.4 L484.2 1055.6 L484.7 1052.7 L485.2 1052.4 L485.7 1052.5 L486.2 1051.0 L486.7 1052.3 L487.2 1054.3 L487.7 1054.1 L488.2 1054.1 L488.7 1054.3 L489.2 1055.5 L489.7 1055.1 L490.2 1055.1 L490.7 1053.9 L491.2 1053.9 L491.7 1052.5 L492.2 1052.5 L492.7 1050.6 L493.2 1049.5 L493.7 1048.9 L494.2 1048.7 L494.7 1048.1 L495.2 1048.4 L495.7 1048.5 L496.2 1048.3 L496.7 1046.8 L497.2 1046.5 L497.7 1046.1 L498.2 1045.3 L498.7 1044.8 L499.2 1044.8 L499.7 1044.1 L500.2 1042.1 L500.7 1040.3 L501.2 1039.9 L501.7 1040.1 L502.2 1040.6 L502.7 1040.7 L503.2 1039.8 L503.7 1039.8 L504.2 1041.5 L504.7 1041.5 L505.2 1041.0 L505.7 1039.2 L506.2 1040.1 L506.7 1040.4 L507.2 1038.4 L507.7 1037.6 L508.2 1037.0 L508.7 1032.8 L509.2 1031.0 L509.7 1026.1 L510.2 1024.7 L510.7 1022.1 L511.2 1019.0 L511.7 1017.8 L512.2 1017.3 L512.7 1015.4 L513.2 1014.1 L513.7 1012.0 L514.2 1011.5 L514.7 1011.4 L515.2 1011.0 L515.7 1011.1 L516.2 1011.6 L516.7 1010.9 L517.2 1010.6 L517.7 1009.9 L518.2 1008.3 L518.7 1007.8 L519.2 1007.5 L519.7 1009.1 L520.2 1009.4 L520.7 1008.1 L521.2 1007.9 L521.7 1008.0 L522.2 1007.9 L522.7 1005.6 L523.2 1005.2 L523.7 1004.6 L524.2 1002.8 L524.7 1000.5 L525.2 1000.3 L525.7 999.6 L526.2 998.8 L526.7 998.8 L527.2 1001.5 L527.7 1003.7 L528.2 1003.1 L528.7 1001.5 L529.2 1001.0 L529.7 1000.1 L530.2 999.7 L530.7 997.6 L531.2 996.3 L531.7 995.5 L532.2 995.4 L532.7 995.1 L533.2 996.9 L533.7 999.5 L534.2 999.9 L534.7 999.2 L535.2 1000.0 L535.7 999.3 L536.2 999.7 L536.7 1000.3 L537.2 997.0 L537.7 995.3 L538.2 993.9 L538.7 993.6 L539.2 991.4 L539.7 990.9 L540.2 991.2 L540.7 989.7 L541.2 988.7 L541.7 988.4 L542.2 987.4 L542.7 987.1 L543.2 986.3 L543.7 983.5 L544.2 983.0 L544.7 984.5 L545.2 984.4 L545.7 983.2 L546.2 984.2 L546.7 984.1 L547.2 984.9 L547.7 987.4 L548.2 988.1 L548.7 988.2 L549.2 987.9 L549.7 985.7 L550.2 985.4 L550.7 984.3 L551.2 983.1 L551.7 983.1 L552.2 984.3 L552.7 983.0 L553.2 983.4 L553.7 984.0 L554.2 984.3 L554.7 982.8 L555.2 979.3 L555.7 979.0 L556.2 979.4 L556.7 979.8 L557.2 980.6 L557.7 980.4 L558.2 980.1 L558.7 981.1 L559.2 982.8 L559.7 981.4 L560.2 980.3 L560.7 979.1 L561.2 978.6 L561.7 976.2 L562.2 976.2 L562.7 976.4 L563.2 973.8 L563.7 972.8 L564.2 971.5 L564.7 970.2 L565.2 966.5 L565.7 965.4 L566.2 964.8 L566.7 963.2 L567.2 961.6 L567.7 959.5 L568.2 956.8 L568.7 955.3 L569.2 954.0 L569.7 951.4 L570.2 948.1 L570.7 947.1 L571.2 946.5 L571.7 945.9 L572.2 944.7 L572.7 943.2 L573.2 941.1 L573.7 938.3 L574.2 936.4 L574.7 934.3 L575.2 932.4 L575.7 931.4 L576.2 930.8 L576.7 930.6 L577.2 928.3 L577.7 928.3 L578.2 929.0 L578.7 928.1 L579.2 927.2 L579.7 927.3 L580.2 926.8 L580.7 925.1 L581.2 927.3 L581.7 928.3 L582.2 928.3 L582.7 929.8 L583.2 930.7 L583.7 931.0 L584.2 931.2 L584.7 930.8 L585.2 931.5 L585.7 931.0 L586.2 931.3 L586.7 931.2 L587.2 931.5 L587.7 930.6 L588.2 929.4 L588.7 930.5 L589.2 930.5 L589.7 929.9 L590.2 928.9 L590.7 928.3 L591.2 929.0 L591.7 929.0 L592.2 929.3 L592.7 927.4 L593.2 927.1 L593.7 928.5 L594.2 927.9 L594.7 927.4 L595.2 927.1 L595.7 927.6 L596.2 928.1 L596.7 928.5 L597.2 929.0 L597.7 928.9 L598.2 929.4 L598.7 929.5 L599.2 927.4 L599.7 926.7 L600.2 926.1 L600.7 925.4 L601.2 923.3 L601.7 921.8 L602.2 922.9 L602.7 923.9 L603.2 922.8 L603.7 922.8 L604.2 922.4 L604.7 921.5 L605.2 921.5 L605.7 918.2 L606.2 918.1 L606.7 918.3 L607.2 917.3 L607.7 914.6 L608.2 912.1 L608.7 910.6 L609.2 908.0 L609.7 907.2 L610.2 905.5 L610.7 901.6 L611.2 899.1 L611.7 898.6 L612.2 897.9 L612.7 896.6 L613.2 895.5 L613.7 895.2 L614.2 894.8 L614.7 894.6 L615.2 895.4 L615.7 896.6 L616.2 896.4 L616.7 896.6 L617.2 897.2 L617.7 896.6 L618.2 894.0 L618.7 892.1 L619.2 891.4 L619.7 889.7 L620.2 888.0 L620.7 886.7 L621.2 886.3 L621.7 886.1 L622.2 884.6 L622.7 884.1 L623.2 884.5 L623.7 885.8 L624.2 884.9 L624.7 886.0 L625.2 886.7 L625.7 885.4 L626.2 886.8 L626.7 887.4 L627.2 888.5 L627.7 888.3 L628.2 887.6 L628.7 887.3 L629.2 886.4 L629.7 887.0 L630.2 886.7 L630.7 885.9 L631.2 885.9 L631.7 885.9 L632.2 887.0 L632.7 887.1 L633.2 887.1 L633.7 886.4 L634.2 886.3 L634.7 884.9 L635.2 884.7 L635.7 883.4 L636.2 884.4 L636.7 885.4 L637.2 885.5 L637.7 885.8 L638.2 887.6 L638.7 887.8 L639.2 888.0 L639.7 889.7 L640.2 889.9 L640.7 889.4 L641.2 892.3 L641.7 891.9 L642.2 890.9 L642.7 890.0 L643.2 890.7 L643.7 892.5 L644.2 893.5 L644.7 891.9 L645.2 891.6 L645.7 891.2 L646.2 892.2 L646.7 895.0 L647.2 895.5 L647.7 897.0 L648.2 898.2 L648.7 898.2 L649.2 900.1 L649.7 901.2 L650.2 902.3 L650.7 902.7 L651.2 903.8 L651.7 905.7 L652.2 906.2 L652.7 907.8 L653.2 906.7 L653.7 905.8 L654.2 906.1 L654.7 908.2 L655.2 908.0 L655.7 906.8 L656.2 907.1 L656.7 907.1 L657.2 906.3 L657.7 906.3 L658.2 907.6 L658.7 908.3 L659.2 907.8 L659.7 908.6 L660.2 910.0 L660.7 912.3 L661.2 912.4 L661.7 913.6 L662.2 914.6 L662.7 916.3 L663.2 916.3 L663.7 916.2 L664.2 916.2 L664.7 918.0 L665.2 920.5 L665.7 919.5 L666.2 918.8 L666.7 917.8 L667.2 918.5 L667.7 916.4 L668.2 913.7 L668.7 913.2 L669.2 913.2 L669.2 914.4 L668.7 914.4 L668.2 916.9 L667.7 918.8 L667.2 919.2 L666.7 919.7 L666.2 920.2 L665.7 921.7 L665.2 921.6 L664.7 920.9 L664.2 918.1 L663.7 917.4 L663.2 917.6 L662.7 917.5 L662.2 916.7 L661.7 914.6 L661.2 914.0 L660.7 913.3 L660.2 913.3 L659.7 910.0 L659.2 909.9 L658.7 909.3 L658.2 908.5 L657.7 908.0 L657.2 907.4 L656.7 908.9 L656.2 908.9 L655.7 908.7 L655.2 910.3 L654.7 909.9 L654.2 908.2 L653.7 907.6 L653.2 907.8 L652.7 908.4 L652.2 908.3 L651.7 907.7 L651.2 906.0 L650.7 903.8 L650.2 902.8 L649.7 902.6 L649.2 902.1 L648.7 900.5 L648.2 899.0 L647.7 899.1 L647.2 897.5 L646.7 896.2 L646.2 895.5 L645.7 892.3 L645.2 892.7 L644.7 893.7 L644.2 894.8 L643.7 894.1 L643.2 892.8 L642.7 891.5 L642.2 892.7 L641.7 893.3 L641.2 893.6 L640.7 892.3 L640.2 890.7 L639.7 890.8 L639.2 890.0 L638.7 888.9 L638.2 888.7 L637.7 887.7 L637.2 886.5 L636.7 886.9 L636.2 885.5 L635.7 885.3 L635.2 885.9 L634.7 887.1 L634.2 887.9 L633.7 887.9 L633.2 888.3 L632.7 888.4 L632.2 887.6 L631.7 887.6 L631.2 887.5 L630.7 887.8 L630.2 887.9 L629.7 888.4 L629.2 887.9 L628.7 888.5 L628.2 889.3 L627.7 889.8 L627.2 890.3 L626.7 888.5 L626.2 887.7 L625.7 887.0 L625.2 888.5 L624.7 887.6 L624.2 886.7 L623.7 886.8 L623.2 886.0 L622.7 885.4 L622.2 887.3 L621.7 887.3 L621.2 887.5 L620.7 888.0 L620.2 889.8 L619.7 892.3 L619.2 892.3 L618.7 894.3 L618.2 896.6 L617.7 899.3 L617.2 899.2 L616.7 897.9 L616.2 897.3 L615.7 898.4 L615.2 896.7 L614.7 895.9 L614.2 896.1 L613.7 896.6 L613.2 897.3 L612.7 898.6 L612.2 899.3 L611.7 899.9 L611.2 901.7 L610.7 905.5 L610.2 907.2 L609.7 908.9 L609.2 910.7 L608.7 913.0 L608.2 915.0 L607.7 917.3 L607.2 919.2 L606.7 919.3 L606.2 919.3 L605.7 921.5 L605.2 922.8 L604.7 922.7 L604.2 923.8 L603.7 924.5 L603.2 924.7 L602.7 924.8 L602.2 924.5 L601.7 923.7 L601.2 925.8 L600.7 926.2 L600.2 927.9 L599.7 927.9 L599.2 930.6 L598.7 930.6 L598.2 931.6 L597.7 931.6 L597.2 930.5 L596.7 930.0 L596.2 929.2 L595.7 929.3 L595.2 927.8 L594.7 928.8 L594.2 929.3 L593.7 929.8 L593.2 929.7 L592.7 929.5 L592.2 931.2 L591.7 930.4 L591.2 930.2 L590.7 930.1 L590.2 930.3 L589.7 931.3 L589.2 931.6 L588.7 931.5 L588.2 931.1 L587.7 932.3 L587.2 932.3 L586.7 932.8 L586.2 933.1 L585.7 932.6 L585.2 933.7 L584.7 933.0 L584.2 933.0 L583.7 933.0 L583.2 931.6 L582.7 930.8 L582.2 930.8 L581.7 930.1 L581.2 929.1 L580.7 927.3 L580.2 927.9 L579.7 928.1 L579.2 928.9 L578.7 929.4 L578.2 930.1 L577.7 929.8 L577.2 931.1 L576.7 931.6 L576.2 931.7 L575.7 933.3 L575.2 934.3 L574.7 936.4 L574.2 938.9 L573.7 941.1 L573.2 943.8 L572.7 944.7 L572.2 946.0 L571.7 947.5 L571.2 947.6 L570.7 948.1 L570.2 951.6 L569.7 954.0 L569.2 955.8 L568.7 957.1 L568.2 959.7 L567.7 963.2 L567.2 963.7 L566.7 964.9 L566.2 965.4 L565.7 967.4 L565.2 970.2 L564.7 972.0 L564.2 973.3 L563.7 974.4 L563.2 976.7 L562.7 977.9 L562.2 977.7 L561.7 978.6 L561.2 980.1 L560.7 980.7 L560.2 981.7 L559.7 983.3 L559.2 983.9 L558.7 983.2 L558.2 981.3 L557.7 981.4 L557.2 981.7 L556.7 981.0 L556.2 980.2 L555.7 979.7 L555.2 982.8 L554.7 984.8 L554.2 985.5 L553.7 985.2 L553.2 984.7 L552.7 986.0 L552.2 986.6 L551.7 984.6 L551.2 985.2 L550.7 985.5 L550.2 987.4 L549.7 987.9 L549.2 989.4 L548.7 989.8 L548.2 988.9 L547.7 988.7 L547.2 987.8 L546.7 985.3 L546.2 985.6 L545.7 985.5 L545.2 985.5 L544.7 985.2 L544.2 984.8 L543.7 986.4 L543.2 988.1 L542.7 988.3 L542.2 989.8 L541.7 989.8 L541.2 989.9 L540.7 992.1 L540.2 992.4 L539.7 992.6 L539.2 993.7 L538.7 994.2 L538.2 995.4 L537.7 997.0 L537.2 1000.4 L536.7 1000.9 L536.2 1000.8 L535.7 1000.4 L535.2 1000.6 L534.7 1001.4 L534.2 1000.8 L533.7 1000.4 L533.2 999.6 L532.7 996.9 L532.2 996.1 L531.7 996.5 L531.2 997.6 L530.7 999.8 L530.2 1001.0 L529.7 1001.4 L529.2 1001.9 L528.7 1004.2 L528.2 1004.5 L527.7 1004.8 L527.2 1004.3 L526.7 1002.0 L526.2 1000.5 L525.7 1001.0 L525.2 1001.3 L524.7 1002.9 L524.2 1005.4 L523.7 1006.2 L523.2 1006.2 L522.7 1008.2 L522.2 1009.1 L521.7 1008.9 L521.2 1008.8 L520.7 1009.4 L520.2 1011.1 L519.7 1010.0 L519.2 1009.3 L518.7 1009.3 L518.2 1009.9 L517.7 1011.7 L517.2 1011.4 L516.7 1012.3 L516.2 1013.5 L515.7 1013.4 L515.2 1012.6 L514.7 1012.6 L514.2 1012.8 L513.7 1014.8 L513.2 1015.4 L512.7 1017.3 L512.2 1018.2 L511.7 1019.0 L511.2 1022.1 L510.7 1025.3 L510.2 1026.1 L509.7 1031.0 L509.2 1033.1 L508.7 1037.0 L508.2 1037.9 L507.7 1038.5 L507.2 1041.0 L506.7 1042.1 L506.2 1042.0 L505.7 1041.0 L505.2 1042.5 L504.7 1042.6 L504.2 1042.9 L503.7 1041.8 L503.2 1042.4 L502.7 1042.4 L502.2 1041.7 L501.7 1040.8 L501.2 1041.1 L500.7 1042.1 L500.2 1045.0 L499.7 1045.3 L499.2 1045.8 L498.7 1046.0 L498.2 1047.7 L497.7 1047.4 L497.2 1048.0 L496.7 1048.8 L496.2 1049.5 L495.7 1049.4 L495.2 1049.4 L494.7 1049.8 L494.2 1049.9 L493.7 1049.8 L493.2 1051.7 L492.7 1053.5 L492.2 1053.6 L491.7 1055.1 L491.2 1055.1 L490.7 1056.1 L490.2 1056.4 L489.7 1056.8 L489.2 1056.8 L488.7 1056.2 L488.2 1056.4 L487.7 1055.6 L487.2 1055.6 L486.7 1055.0 L486.2 1053.0 L485.7 1053.5 L485.2 1053.5 L484.7 1055.7 L484.2 1056.4 L483.7 1058.8 L483.2 1058.6 L482.7 1058.2 L482.2 1056.4 L481.7 1056.6 L481.2 1058.0 L480.7 1058.2 L480.2 1058.6 L479.7 1058.4 L479.2 1056.7 L478.7 1056.9 L478.2 1059.0 L477.7 1058.8 L477.2 1059.5 L476.7 1059.5 L476.2 1059.1 L475.7 1058.0 L475.2 1058.0 L474.7 1057.2 L474.2 1056.8 L473.7 1056.7 L473.2 1055.3 L472.7 1052.6 L472.2 1052.0 L471.7 1051.6 L471.2 1050.3 L470.7 1049.8 L470.2 1049.5 L469.7 1046.9 L469.2 1045.8 L468.7 1045.2 L468.2 1042.9 L467.7 1040.3 L467.2 1039.3 L466.7 1037.4 L466.2 1033.3 L465.7 1032.1 L465.2 1030.1 L464.7 1028.3 L464.2 1026.9 L463.7 1026.9 L463.2 1024.4 L462.7 1023.7 L462.2 1024.4 L461.7 1024.3 L461.2 1024.9 L460.7 1024.1 L460.2 1021.8 L459.7 1021.3 L459.2 1023.9 L458.7 1024.1 L458.2 1023.4 L457.7 1024.0 L457.2 1024.8 L456.7 1024.3 L456.2 1024.2 L455.7 1027.0 L455.2 1029.0 L454.7 1031.1 L454.2 1034.8 L453.7 1034.4 L453.2 1034.8 L452.7 1034.9 L452.2 1034.5 L451.7 1032.8 L451.2 1032.8 L450.7 1030.4 L450.2 1031.0 L449.7 1031.0 L449.2 1027.7 L448.7 1026.8 L448.2 1025.5 L447.7 1022.0 L447.2 1022.0 L446.7 1021.2 L446.2 1020.2 L445.7 1019.1 L445.2 1020.4 L444.7 1019.9 L444.2 1021.2 L443.7 1020.7 L443.2 1020.9 L442.7 1021.3 L442.2 1021.6 L441.7 1021.2 L441.2 1019.6 L440.7 1019.1 L440.2 1018.6 L439.7 1018.6 L439.2 1017.2 L438.7 1014.7 L438.2 1013.5 L437.7 1013.1 L437.2 1010.4 L436.7 1009.8 L436.2 1010.5 L435.7 1010.4 L435.2 1011.4 L434.7 1011.6 L434.2 1011.6 L433.7 1010.3 L433.2 1010.5 L432.7 1011.7 L432.2 1011.6 L431.7 1012.9 L431.2 1012.9 L430.7 1011.9 L430.2 1013.9 L429.7 1015.4 L429.2 1016.0 L428.7 1017.1 L428.2 1018.2 L427.7 1019.9 L427.2 1020.8 L426.7 1021.0 L426.2 1020.3 L425.7 1019.2 L425.2 1017.7 L424.7 1016.5 L424.2 1016.3 L423.7 1017.9 L423.2 1016.8 L422.7 1015.0 L422.2 1015.5 L421.7 1013.5 L421.2 1014.0 L420.7 1015.5 L420.2 1017.4 L419.7 1019.2 L419.2 1019.2 L418.7 1020.4 L418.2 1020.9 L417.7 1020.6 L417.2 1020.0 L416.7 1018.4 L416.2 1018.8 L415.7 1019.2 L415.2 1017.7 L414.7 1016.5 L414.2 1016.5 L413.7 1015.1 L413.2 1014.0 L412.7 1013.9 L412.2 1012.2 L411.7 1012.0 L411.2 1014.3 L410.7 1016.4 L410.2 1016.9 L409.7 1017.0 L409.2 1016.4 L408.7 1017.0 L408.2 1016.4 L407.7 1017.1 L407.2 1018.4 L406.7 1018.5 L406.2 1019.2 L405.7 1019.5 L405.2 1021.2 L404.7 1023.8 L404.2 1025.8 L403.7 1027.4 L403.2 1029.3 L402.7 1031.1Z" fill="#008000" stroke="#008000" stroke-width="1.30" stroke-linejoin="round"/>
<path d="M402.4 1030.0 L403.1 1027.9 L403.8 1025.4 L404.5 1023.6 L405.2 1017.2 L405.9 1021.5 L406.6 1018.3 L407.3 1015.4 L408.0 1012.4 L408.7 1016.1 L409.4 1014.8 L410.1 1019.3 L410.8 1013.5 L411.5 1012.7 L412.2 1015.9 L412.9 1012.7 L413.6 1013.9 L414.3 1015.6 L415.0 1013.6 L415.7 1016.1 L416.4 1019.8 L417.1 1016.0 L417.8 1023.3 L418.5 1020.8 L419.2 1021.7 L419.9 1017.3 L420.6 1014.9 L421.3 1013.1 L422.0 1014.3 L422.7 1017.1 L423.4 1015.9 L424.1 1016.0 L424.8 1020.4 L425.5 1021.7 L426.2 1022.5 L426.9 1022.0 L427.6 1016.4 L428.3 1020.1 L429.0 1018.8 L429.7 1009.3 L430.4 1011.7 L431.1 1011.6 L431.8 1009.9 L432.5 1009.4 L433.2 1010.1 L433.9 1007.8 L434.6 1014.7 L435.3 1013.3 L436.0 1010.3 L436.7 1013.3 L437.4 1010.7 L438.1 1012.3 L438.8 1017.9 L439.5 1018.3 L440.2 1015.2 L440.9 1019.4 L441.6 1022.1 L442.3 1024.1 L443.0 1016.7 L443.7 1020.4 L444.4 1019.0 L445.1 1022.3 L445.8 1019.2 L446.5 1018.9 L447.2 1024.0 L447.9 1022.6 L448.6 1026.3 L449.3 1031.2 L450.0 1030.5 L450.7 1031.8 L451.4 1030.0 L452.1 1035.6 L452.8 1030.8 L453.5 1030.3 L454.2 1027.0 L454.9 1027.0 L455.6 1026.5 L456.3 1026.0 L457.0 1027.0 L457.7 1022.5 L458.4 1023.2 L459.1 1025.3 L459.8 1022.8 L460.5 1022.3 L461.2 1024.8 L461.9 1021.1 L462.6 1021.2 L463.3 1025.8 L464.0 1030.1 L464.7 1029.5 L465.4 1028.3 L466.1 1034.3 L466.8 1035.3 L467.5 1038.6 L468.2 1042.1 L468.9 1044.4 L469.6 1047.6 L470.3 1045.9 L471.0 1051.6 L471.7 1052.0 L472.4 1050.2 L473.1 1052.7 L473.8 1059.2 L474.5 1059.4 L475.2 1055.1 L475.9 1057.9 L476.6 1056.5 L477.3 1056.4 L478.0 1057.9 L478.7 1056.1 L479.4 1059.9 L480.1 1057.1 L480.8 1056.1 L481.5 1055.8 L482.2 1055.8 L482.9 1061.1 L483.6 1059.8 L484.3 1056.3 L485.0 1051.1 L485.7 1050.5 L486.4 1056.3 L487.1 1054.2 L487.8 1052.9 L488.5 1052.9 L489.2 1057.8 L489.9 1052.3 L490.6 1057.3 L491.3 1052.9 L492.0 1056.6 L492.7 1052.3 L493.4 1046.0 L494.1 1048.5 L494.8 1052.4 L495.5 1046.8 L496.2 1050.8 L496.9 1043.7 L497.6 1047.3 L498.3 1047.6 L499.0 1043.3 L499.7 1042.8 L500.4 1039.4 L501.1 1037.0 L501.8 1041.8 L502.5 1039.5 L503.2 1041.0 L503.9 1043.9 L504.6 1043.0 L505.3 1043.6 L506.0 1044.0 L506.7 1038.1 L507.4 1040.2 L508.1 1040.1 L508.8 1028.5 L509.5 1026.6 L510.2 1021.7 L510.9 1019.7 L511.6 1021.9 L512.3 1014.2 L513.0 1017.3 L513.7 1011.0 L514.4 1013.8 L515.1 1015.3 L515.8 1013.6 L516.5 1009.9 L517.2 1010.9 L517.9 1006.3 L518.6 1009.6 L519.3 1011.2 L520.0 1011.9 L520.7 1010.3 L521.4 1012.0 L522.1 1007.9 L522.8 1003.5 L523.5 1008.5 L524.2 998.2 L524.9 997.3 L525.6 1001.6 L526.3 1002.1 L527.0 1004.9 L527.7 1002.9 L528.4 1001.1 L529.1 1000.5 L529.8 1003.3 L530.5 997.1 L531.2 998.2 L531.9 995.6 L532.6 995.7 L533.3 1002.2 L534.0 1000.1 L534.7 1002.7 L535.4 997.0 L536.1 999.8 L536.8 998.4 L537.5 995.3 L538.2 993.1 L538.9 992.7 L539.6 988.3 L540.3 988.7 L541.0 989.7 L541.7 990.3 L542.4 990.3 L543.1 985.7 L543.8 982.1 L544.5 985.4 L545.2 981.4 L545.9 981.5 L546.6 984.0 L547.3 985.5 L548.0 987.3 L548.7 988.2 L549.4 986.5 L550.1 986.0 L550.8 984.2 L551.5 986.1 L552.2 982.3 L552.9 983.0 L553.6 985.2 L554.3 985.3 L555.0 979.6 L555.7 981.6 L556.4 980.0 L557.1 983.3 L557.8 984.2 L558.5 982.3 L559.2 985.9 L559.9 981.1 L560.6 979.4 L561.3 978.0 L562.0 976.7 L562.7 973.6 L563.4 970.8 L564.1 972.5 L564.8 967.6 L565.5 965.5 L566.2 962.3 L566.9 965.8 L567.6 964.8 L568.3 958.4 L569.0 953.1 L569.7 950.2 L570.4 944.2 L571.1 947.2 L571.8 948.9 L572.5 940.6 L573.2 941.2 L573.9 936.5 L574.6 936.4 L575.3 930.0 L576.0 931.3 L576.7 927.8 L577.4 929.3 L578.1 926.0 L578.8 931.6 L579.5 928.7 L580.2 925.6 L580.9 930.6 L581.6 930.5 L582.3 930.3 L583.0 930.0 L583.7 934.3 L584.4 929.3 L585.1 933.8 L585.8 930.7 L586.5 929.8 L587.2 927.9 L587.9 929.2 L588.6 930.8 L589.3 927.1 L590.0 929.6 L590.7 926.1 L591.4 928.0 L592.1 931.6 L592.8 928.2 L593.5 927.1 L594.2 929.8 L594.9 931.0 L595.6 926.0 L596.3 929.9 L597.0 926.2 L597.7 930.3 L598.4 930.1 L599.1 925.8 L599.8 925.1 L600.5 929.3 L601.2 924.4 L601.9 921.1 L602.6 921.2 L603.3 927.1 L604.0 925.5 L604.7 922.3 L605.4 921.2 L606.1 916.5 L606.8 916.3 L607.5 912.5 L608.2 912.2 L608.9 911.0 L609.6 908.5 L610.3 905.4 L611.0 898.7 L611.7 897.9 L612.4 894.1 L613.1 896.7 L613.8 894.3 L614.5 892.7 L615.2 899.4 L615.9 895.3 L616.6 896.2 L617.3 896.1 L618.0 894.9 L618.7 893.1 L619.4 892.9 L620.1 888.0 L620.8 885.9 L621.5 887.7 L622.2 887.0 L622.9 884.4 L623.6 886.6 L624.3 889.9 L625.0 885.9 L625.7 888.8 L626.4 886.5 L627.1 887.6 L627.8 887.9 L628.5 885.8 L629.2 889.3 L629.9 885.6 L630.6 889.0 L631.3 883.8 L632.0 884.2 L632.7 888.3 L633.4 887.2 L634.1 884.6 L634.8 884.1 L635.5 885.5 L636.2 883.2 L636.9 884.8 L637.6 888.6 L638.3 886.9 L639.0 887.0 L639.7 890.2 L640.4 891.8 L641.1 894.3 L641.8 893.0 L642.5 891.1 L643.2 896.8 L643.9 890.6 L644.6 891.0 L645.3 889.8 L646.0 893.8 L646.7 897.4 L647.4 898.5 L648.1 896.8 L648.8 902.0 L649.5 898.4 L650.2 904.5 L650.9 906.2 L651.6 908.3 L652.3 906.5 L653.0 909.3 L653.7 905.4 L654.4 912.6 L655.1 907.8 L655.8 905.9 L656.5 907.1 L657.2 905.9 L657.9 910.0 L658.6 912.3 L659.3 909.2 L660.0 914.1 L660.7 914.3 L661.4 913.5 L662.1 912.1 L662.8 917.9 L663.5 920.3 L664.2 920.4 L664.9 920.9 L665.6 922.2 L666.3 921.5 L667.0 916.9 L667.7 913.0 L668.4 910.3 L669.1 917.3" fill="none" stroke="#008000" stroke-width="1.00" stroke-linejoin="round"/>
<rect x="388.90" y="874.50" width="293.10" height="194.60" fill="none" stroke="#262626" stroke-width="0.8"/>
<text x="402.40" y="1082.11" font-size="9.26" text-anchor="middle" textLength="5.67" lengthAdjust="spacingAndGlyphs" >0</text>
<text x="455.70" y="1082.11" font-size="9.26" text-anchor="middle" textLength="11.33" lengthAdjust="spacingAndGlyphs" >20</text>
<text x="509.00" y="1082.11" font-size="9.26" text-anchor="middle" textLength="11.33" lengthAdjust="spacingAndGlyphs" >40</text>
<text x="562.30" y="1082.11" font-size="9.26" text-anchor="middle" textLength="11.33" lengthAdjust="spacingAndGlyphs" >60</text>
<text x="615.60" y="1082.11" font-size="9.26" text-anchor="middle" textLength="11.33" lengthAdjust="spacingAndGlyphs" >80</text>
<text x="668.90" y="1082.11" font-size="9.26" text-anchor="middle" textLength="17.00" lengthAdjust="spacingAndGlyphs" >100</text>
<text x="382.59" y="1059.14" font-size="9.26" text-anchor="end" textLength="19.83" lengthAdjust="spacingAndGlyphs" >0.50</text>
<text x="382.59" y="1037.37" font-size="9.26" text-anchor="end" textLength="19.83" lengthAdjust="spacingAndGlyphs" >0.75</text>
<text x="382.59" y="1015.61" font-size="9.26" text-anchor="end" textLength="19.83" lengthAdjust="spacingAndGlyphs" >1.00</text>
<text x="382.59" y="993.85" font-size="9.26" text-anchor="end" textLength="19.83" lengthAdjust="spacingAndGlyphs" >1.25</text>
<text x="382.59" y="972.09" font-size="9.26" text-anchor="end" textLength="19.83" lengthAdjust="spacingAndGlyphs" >1.50</text>
<text x="382.59" y="950.32" font-size="9.26" text-anchor="end" textLength="19.83" lengthAdjust="spacingAndGlyphs" >1.75</text>
<text x="382.59" y="928.56" font-size="9.26" text-anchor="end" textLength="19.83" lengthAdjust="spacingAndGlyphs" >2.00</text>
<text x="382.59" y="906.80" font-size="9.26" text-anchor="end" textLength="19.83" lengthAdjust="spacingAndGlyphs" >2.25</text>
<text x="382.59" y="885.04" font-size="9.26" text-anchor="end" textLength="19.83" lengthAdjust="spacingAndGlyphs" >2.50</text>
<path d="M402.40 1069.10v2.86M455.70 1069.10v2.86M509.00 1069.10v2.86M562.30 1069.10v2.86M615.60 1069.10v2.86M668.90 1069.10v2.86M388.90 1056.07h-2.86M388.90 1034.31h-2.86M388.90 1012.55h-2.86M388.90 990.79h-2.86M388.90 969.02h-2.86M388.90 947.26h-2.86M388.90 925.50h-2.86M388.90 903.74h-2.86M388.90 881.97h-2.86" stroke="#262626" stroke-width="0.8" fill="none"/>
<text x="535.45" y="869.00" font-size="11.22" text-anchor="middle" textLength="93.90" lengthAdjust="spacingAndGlyphs" >Comparison for Ir</text>
<text x="535.45" y="1094.35" font-size="9.26" text-anchor="middle" textLength="21.80" lengthAdjust="spacingAndGlyphs" >Time</text>
<text x="0.00" y="0.00" font-size="9.26" text-anchor="middle" textLength="6.29" lengthAdjust="spacingAndGlyphs" transform="translate(358.50 971.80) rotate(-90)">Ir</text>
<rect x="393.40" y="878.70" width="90.10" height="41.20" rx="1.6" fill="#fff" fill-opacity="0.8" stroke="#cccccc" stroke-width="0.8"/>
<path d="M396.70 886.00H415.40" stroke="#0000ff" stroke-width="1.25" />
<text x="421.30" y="888.96" font-size="9.26" text-anchor="start" textLength="59.59" lengthAdjust="spacingAndGlyphs" >Deterministic</text>
<path d="M396.70 898.90H415.40" stroke="#ff0000" stroke-width="1.25" stroke-dasharray="4.62 2.00"/>
<text x="421.30" y="901.86" font-size="9.26" text-anchor="start" textLength="53.44" lengthAdjust="spacingAndGlyphs" >White Noise</text>
<path d="M396.70 912.20H415.40" stroke="#008000" stroke-width="1.25" stroke-dasharray="8.00 2.00 1.25 2.00"/>
<text x="421.30" y="915.16" font-size="9.26" text-anchor="start" textLength="48.37" lengthAdjust="spacingAndGlyphs" >Lévy Noise</text>
<text x="517.40" y="1124.30" font-family="Liberation Serif, serif" font-size="16.5" text-anchor="middle" fill="#1a1a1a">(h)</text>
</g>
</svg>
</body></html>
